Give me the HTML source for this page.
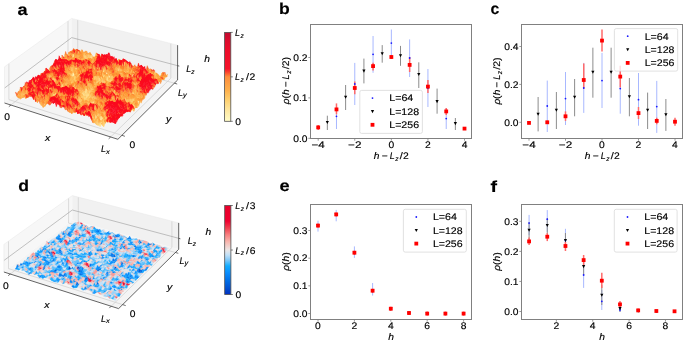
<!DOCTYPE html>
<html><head><meta charset="utf-8"><style>
html,body{margin:0;padding:0;background:#fff;width:685px;height:343px;overflow:hidden}
svg{display:block;font-family:"Liberation Sans",sans-serif;will-change:transform;text-rendering:geometricPrecision}
text{stroke:#000;stroke-width:0.15px}
.k0{fill:#fea03c;stroke:#fea03c}.k1{fill:#fea945;stroke:#fea945}.k2{fill:#fec663;stroke:#fec663}.k3{fill:#feb34f;stroke:#feb34f}.k4{fill:#fe9633;stroke:#fe9633}.k5{fill:#fd8831;stroke:#fd8831}.k6{fill:#fc151f;stroke:#fc151f}.k7{fill:#fc5f2b;stroke:#fc5f2b}.k8{fill:#fc0c1e;stroke:#fc0c1e}.k9{fill:#fece6f;stroke:#fece6f}.k10{fill:#febc59;stroke:#febc59}.k11{fill:#ffdc88;stroke:#ffdc88}.k12{fill:#fed57b;stroke:#fed57b}.k13{fill:#fff2b8;stroke:#fff2b8}.k14{fill:#ffe8a1;stroke:#ffe8a1}.k15{fill:#ffe395;stroke:#ffe395}.k16{fill:#fb0b1f;stroke:#fb0b1f}.k17{fill:#fb0c1f;stroke:#fb0c1f}.k18{fill:#fa0b20;stroke:#fa0b20}.k19{fill:#f80a22;stroke:#f80a22}.k20{fill:#f90a21;stroke:#f90a21}.k21{fill:#ffedac;stroke:#ffedac}.k22{fill:#97d1f8;stroke:#97d1f8}.k23{fill:#28b2fe;stroke:#28b2fe}.k24{fill:#eedddb;stroke:#eedddb}.k25{fill:#0b93ff;stroke:#0b93ff}.k26{fill:#f89c98;stroke:#f89c98}.k27{fill:#0378ee;stroke:#0378ee}.k28{fill:#f3cac5;stroke:#f3cac5}.k29{fill:#dde4ec;stroke:#dde4ec}.k30{fill:#c1e0f8;stroke:#c1e0f8}.k31{fill:#f00834;stroke:#f00834}.k32{fill:#f8b6ae;stroke:#f8b6ae}.k33{fill:#0ea3ff;stroke:#0ea3ff}.k34{fill:#65c1fa;stroke:#65c1fa}.k35{fill:#0785f7;stroke:#0785f7}.k36{fill:#005eda;stroke:#005eda}.k37{fill:#f88282;stroke:#f88282}.k38{fill:#f14453;stroke:#f14453}.k39{fill:#0051d1;stroke:#0051d1}.k40{fill:#f02643;stroke:#f02643}.k41{fill:#006be4;stroke:#006be4}.k42{fill:#f4646b;stroke:#f4646b}.k43{fill:#ef002f;stroke:#ef002f}.k44{fill:#0030c0;stroke:#0030c0}.k45{fill:#0040c8;stroke:#0040c8}
</style></head><body>
<svg width="685" height="343" viewBox="0 0 685 343" font-family="Liberation Sans, sans-serif"><path d="M4.5 103.0L71.7 51.0L71.7 18.4L4.5 66.8Z" fill="#f7f7f7" />
<path d="M71.7 51.0L177.6 80.0L177.6 45.2L71.7 18.4Z" fill="#f1f1f1" />
<path d="M4.5 103.0L117.9 139.3L177.6 80.0L71.7 51.0Z" fill="#f4f4f4" />
<path d="M10.9 105.0L77.7 52.6L77.7 19.9" fill="none" stroke="#c8c8c8" stroke-width="0.6"/>
<path d="M110.6 137.0L170.8 78.2L170.8 43.5" fill="none" stroke="#c8c8c8" stroke-width="0.6"/>
<path d="M121.9 135.3L8.9 99.6L8.9 63.6" fill="none" stroke="#c8c8c8" stroke-width="0.6"/>
<path d="M174.4 83.2L68.0 53.8L68.0 21.0" fill="none" stroke="#c8c8c8" stroke-width="0.6"/>
<path d="M4.5 88.1L71.7 37.6L177.6 65.7" fill="none" stroke="#9a9a9a" stroke-width="0.6"/>
<path d="M4.5 103.0L4.5 66.8L71.7 18.4L177.6 45.2L177.6 80.0" fill="none" stroke="#e6e6e6" stroke-width="0.5"/>
<g transform="scale(.1)" stroke-width="3"><path class="k0" d="M734 501l11 8 7-14-12-2zM727 511l11 1 7-3-11-8z"/><path class="k1" d="M745 509l12 31 6-14-11-31z"/><path class="k1" d="M720 518l11-4 7-2-11-1zM738 512l12 13 7 15-12-31zM713 526l11-9 7-3-11 4zM750 525l11-1 7 0-11 16z"/><path class="k2" d="M757 540l11-16 7-14-12 16z"/><path class="k0" d="M731 514l12-9 7 20-12-13z"/><path class="k3" d="M768 524l12-12 7-4-12 2z"/><path class="k4" d="M705 520l12-11 7 8-11 9zM743 505l11 27 7-8-11 1zM698 525l12-7 7-9-12 11z"/><path class="k0" d="M724 517l12-30 7 18-12 9zM780 512l11 5 7-14-11 5zM773 513l11-11 7 15-11-5zM791 517l12 14 7-8-12-20z"/><path class="k1" d="M761 524l12-11 7-1-12 12zM754 532l12-19 7 0-12 11z"/><path class="k5" d="M717 509l12 1 7-23-12 30z"/><path class="k6" d="M736 487l11 33 7 12-11-27z"/><path class="k5" d="M691 521l12-6 7 3-12 7zM710 518l12 10 7-18-12-1zM784 502l12 18 7 11-12-14zM684 526l12 6 7-17-12 6zM722 528l11-29 7 7-11 4zM777 504l12-2 7 18-12-18z"/><path class="k7" d="M729 510l11-4 7 14-11-33zM703 515l11 6 8 7-12-10zM759 498l11-7 7 13-11 9z"/><path class="k4" d="M747 520l12-22 7 15-12 19zM766 513l11-9 7-2-11 11z"/><path class="k3" d="M803 531l11-7 7-9-11 8z"/><path class="k6" d="M740 506l12 9 7-17-12 22z"/><path class="k0" d="M796 520l11 37 7-33-11 7z"/><path class="k1" d="M814 524l12 10 7 7-12-26z"/><path class="k0" d="M677 553l12-14 7-7-12-6z"/><path class="k5" d="M696 532l11-8 7-3-11-6zM752 515l11-8 7-16-11 7zM689 539l11 4 7-19-11 8zM726 534l12 15 7 3-12-53zM782 511l11 43 7-28-11-24z"/><path class="k7" d="M714 521l12 13 7-35-11 29zM789 502l11 24 7 31-11-37zM707 524l12 19 7-9-12-13zM763 507l12 40 7-36-12-20zM819 498l12 21 7 20-12-5z"/><path class="k8" d="M733 499l12 53 7-37-12-9z"/><path class="k6" d="M770 491l12 20 7-9-12 2z"/><path class="k9" d="M807 557l12-59 7 36-12-10z"/><path class="k1" d="M826 534l12 5 6-19-11 21zM800 526l12 8 7-36-12 59z"/><path class="k3" d="M670 555l12 27 7-43-12 14zM838 539l11-22 7-5-12 8z"/><path class="k2" d="M745 552l11-34 7-11-11 8z"/><path class="k10" d="M663 566l12-14 7 30-12-27zM775 547l11-9 7 16-11-43zM793 554l12-36 7 16-12-8z"/><path class="k2" d="M682 582l11-15 7-24-11-4z"/><path class="k4" d="M700 543l12 30 7-30-12-19zM831 519l11 10 7-12-11 22zM849 517l12 7 7-13-12 1zM675 552l11 13 7 2-11 15zM786 538l12 1 7-21-12 36z"/><path class="k5" d="M719 543l12-3 7 9-12-15zM731 540l11 7 7-13-11 15zM749 534l12 4 7 13-12-33z"/><path class="k3" d="M738 549l11-15 7-16-11 34zM693 567l12 6 7 0-12-30zM712 573l12 25 7-58-12 3zM824 557l11 12 7-40-11-10z"/><path class="k7" d="M756 518l12 33 7-4-12-40zM805 518l12 23 7 16-12-23z"/><path class="k0" d="M812 534l12 23 7-38-12-21zM768 551l11-10 7-3-11 9zM842 529l12 2 7-7-12-7zM861 524l11 13 7-3-11-23z"/><path class="k6" d="M656 516l11 46 8-10-12 14z"/><path class="k5" d="M649 541l11 36 7-15-11-46zM761 538l11 41 7-38-11 10zM798 539l12 11 7-9-12-23zM698 544l11 10 7 15-11 4z"/><path class="k3" d="M667 562l12 20 7-17-11-13zM772 579l12-10 7-14-12-14z"/><path class="k0" d="M686 565l12-21 7 29-12-6zM735 573l12 15 7-29-12-12zM754 559l11 9 7 11-11-41zM791 555l12-8 7 3-12-11zM810 550l11-2 7 25-11-32zM866 544l11 3 7-10-12 0zM884 537l12-8 7-4-12 5z"/><path class="k1" d="M705 573l11-4 8 29-12-25zM872 537l12 0 7-7-12 4zM641 577l12-7 7 7-11-36zM660 577l12-25 7 30-12-20zM716 569l12 19 7-15-11 25zM847 547l12 16 7-19-12-13z"/><path class="k11" d="M724 598l11-25 7-26-11-7z"/><path class="k4" d="M742 547l12 12 7-21-12-4zM779 541l12 14 7-16-12-1zM817 541l11 32 7-4-11-12zM854 531l12 13 6-7-11-13z"/><path class="k10" d="M835 569l12-22 7-16-12-2zM828 573l12 16 7-42-12 22z"/><path class="k2" d="M679 582l12 5 7-43-12 21z"/><path class="k5" d="M634 569l12 11 7-10-12 7zM672 552l11 23 8 12-12-5zM665 563l11-10 7 22-11-23z"/><path class="k4" d="M653 570l12-7 7-11-12 25zM709 554l12 34 7 0-12-19zM803 547l11 6 7-5-11 2zM646 580l11 4 8-21-12 7zM683 575l12-12 7-13-11 37zM814 553l12 32 7 24-12-61z"/><path class="k10" d="M691 587l11-37 7 4-11-10zM870 571l12 17 7-47-12 6z"/><path class="k3" d="M728 588l12-10 7 10-12-15zM747 588l11-17 7-3-11-9zM859 563l11 8 7-24-11-3z"/><path class="k1" d="M765 568l12 24 7-23-12 10zM784 569l12-11 7-11-12 8zM877 547l12-6 7-12-12 8zM721 588l12-7 7-3-12 10zM908 550l11 2 7 52-12-61z"/><path class="k0" d="M821 548l12 61 7-20-12-16zM896 529l12 21 6-7-11-18zM740 578l11-12 7 5-11 17zM758 571l12 13 7 8-12-24zM796 558l12 2 6-7-11-6zM889 541l12 28 7-19-12-21z"/><path class="k9" d="M840 589l12-3 7-23-12-16zM777 592l12-34 7 0-12 11z"/><path class="k6" d="M627 563l12 31 7-14-12-11z"/><path class="k7" d="M702 550l12 26 7 12-12-34z"/><path class="k11" d="M833 609l12-18 7-5-12 3z"/><path class="k2" d="M852 586l12 11 6-26-11-8z"/><path class="k8" d="M620 550l11 31 8 13-12-31zM669 544l12 61 7-36-12-16z"/><path class="k4" d="M639 594l11 17 7-27-11-4zM657 584l12-40 7 9-11 10zM714 576l12 7 7-2-12 7zM751 566l12 14 7 4-12-13zM789 558l12 2 7 0-12-2zM808 560l11 22 7 3-12-32z"/><path class="k7" d="M676 553l12 16 7-6-12 12z"/><path class="k5" d="M695 563l12 21 7-8-12-26zM613 592l11 10 7-21-11-31zM631 581l12 46 7-16-11-17zM688 569l12 58 7-43-12-21zM801 560l11 33 7-11-11-22z"/><path class="k0" d="M733 581l11 21 7-36-11 12zM707 584l11 11 8-12-12-7zM726 583l11 10 7 9-11-21zM763 580l12 7 7 0-12-3z"/><path class="k3" d="M770 584l12 3 7-29-12 34z"/><path class="k10" d="M826 585l12-8 7 14-12 18zM901 569l12-18 6 1-11-2zM744 602l12-6 7-16-12-14z"/><path class="k2" d="M845 591l12 8 7-2-12-11zM864 597l11 8 7-17-12-17zM882 588l12 9 7-28-12-28zM857 599l11 27 7-21-11-8z"/><path class="k1" d="M919 552l12 52 7-38-12 38zM650 611l12-8 7-59-12 40zM782 587l12-17 7-10-12-2zM819 582l12 16 7-21-12 8zM838 577l12 46 7-24-12-8zM913 551l11 39 7 14-12-52z"/><path class="k9" d="M875 605l12-8 7 0-12-9z"/><path class="k12" d="M894 597l12 4 7-50-12 18z"/><path class="k13" d="M931 604l12-3 7-36-12 1z"/><path class="k7" d="M605 590l12 11 7 1-11-10zM636 589l11 6 8 16-12 16z"/><path class="k4" d="M624 602l12-13 7 38-12-46zM794 570l11 27 7-4-11-33zM786 578l12 10 7 9-11-27z"/><path class="k3" d="M643 627l12-16 7-8-12 8zM812 593l12 6 7-1-12-16zM692 618l12-9 7 3-11 15zM824 599l12 4 7 25-12-30z"/><path class="k0" d="M662 603l12 19 7-17-12-61zM737 593l12 9 7-6-12 6zM775 587l11-9 8-8-12 17zM655 611l11 2 8 9-12-19zM730 593l12 4 7 5-12-9zM955 566l12-33 6 9-11-14z"/><path class="k1" d="M681 605l11 13 8 9-12-58zM718 595l12-2 7 0-11-10zM756 596l12 17 7-26-12-7zM674 622l11-27 7 23-11-13zM749 602l12 6 7 5-12-17zM805 597l12-8 7 10-12-6zM936 569l12 3 7-6-12 35z"/><path class="k2" d="M700 627l11-15 7-17-11-11z"/><path class="k10" d="M831 598l12 30 7-5-12-46zM711 612l12-17 7-2-12 2zM768 613l11-2 7-33-11 9z"/><path class="k14" d="M850 623l11-16 7 19-11-27zM868 626l12-22 7-7-12 8z"/><path class="k9" d="M887 597l12 23 7-19-12-4zM924 590l12-21 7 32-12 3zM861 607l12-18 7 15-12 22zM917 604l12-6 7-29-12 21z"/><path class="k11" d="M906 601l11 3 7-14-11-39z"/><path class="k12" d="M943 601l12-35 7-38-12 37zM880 604l12 0 7 16-12-23z"/><path class="k6" d="M598 578l12 31 7-8-12-11z"/><path class="k5" d="M617 601l12 1 7-13-12 13z"/><path class="k15" d="M843 628l11-20 7-1-11 16zM899 620l12 12 6-28-11-3z"/><path class="k16" d="M591 558l11 24 8 27-12-31z"/><path class="k4" d="M610 609l11-17 8 10-12-1zM685 595l12 20 7-6-12 9zM659 617l12 11 7 0-12-15zM735 597l11 4 8 1-12-5zM772 590l12 15 7-1-12 7z"/><path class="k5" d="M629 602l11-11 7 4-11-6z"/><path class="k7" d="M647 595l12 22 7-4-11-2z"/><path class="k0" d="M666 613l12 15 7-33-11 27zM704 609l12-6 7-8-12 17zM723 595l12 2 7 0-12-4zM742 597l12 5 7 6-12-6zM798 588l12 30 7-29-12 8zM948 572l12 8 7-47-12 33zM697 615l12 6 7-18-12 6zM716 603l12 7 7-13-12-2zM754 602l11 5 7-17-11 18z"/><path class="k3" d="M761 608l11-18 7 21-11 2zM779 611l12-7 7-16-12-10zM836 603l11 35 7-30-11 20zM873 589l12-8 7 23-12 0zM885 581l12 11 7 15-12-3z"/><path class="k1" d="M817 589l12 7 7 7-12-4zM678 628l12-30 7 17-12-20zM791 604l12-4 7 18-12-30zM829 596l12 7 6 35-11-35zM941 579l12 10 7-9-12-8zM960 580l12-24 6-14-11-9z"/><path class="k2" d="M854 608l12 6 7-25-12 18zM892 604l12 3 7 25-12-12zM866 614l12-29 7-4-12 8zM904 607l11 9 7 5-11 11z"/><path class="k13" d="M911 632l11-11 7-23-12 6z"/><path class="k9" d="M929 598l12-19 7-7-12-3z"/><path class="k8" d="M967 533l11 9 7 13-12-13z"/><path class="k6" d="M583 602l12-5 7-15-11-24zM621 592l12 5 7-6-11 11zM640 591l12 11 7 15-12-22zM978 542l12 3 7 6-12 4z"/><path class="k17" d="M602 582l12 14 7-4-11 17z"/><path class="k10" d="M810 618l12 5 7-27-12-7z"/><path class="k14" d="M847 638l12-6 7-18-12-6z"/><path class="k11" d="M922 621l12-36 7-6-12 19z"/><path class="k6" d="M576 604l12-8 7 1-12 5zM633 597l12 13 7-8-12-11zM972 556l11 3 7-14-12-3zM607 604l11-3 8 11-12-16zM626 612l11-8 8 6-12-13zM664 596l11 24 8-9-12 17zM983 559l12 21 7-19-12-16z"/><path class="k8" d="M595 597l12 7 7-8-12-14zM614 596l12 16 7-15-12-5zM990 545l12 16 7 16-12-26zM569 605l11-6 8-3-12 8z"/><path class="k7" d="M652 602l12-6 7 32-12-11zM690 598l12 23 7 0-12-6zM645 610l11-15 8 1-12 6zM683 611l11 7 8 3-12-23zM1002 561l12 8 7-8-12 16z"/><path class="k4" d="M671 628l12-17 7-13-12 30zM746 601l12-9 7 15-11-5zM702 621l11 25 7-22-11-3zM777 599l12 22 7-19-12 3z"/><path class="k0" d="M709 621l11 3 8-14-12-7zM728 610l11-7 7-2-11-4zM765 607l12-8 7 6-12-15zM784 605l12-3 7-2-12 4zM803 600l12 19 7 4-12-5zM878 585l12 2 7 5-12-11zM953 589l12 3 7-36-12 24zM720 624l12-12 7-9-11 7zM739 603l12-24 7 13-12 9zM796 602l12 9 7 8-12-19zM946 584l12-6 7 14-12-3z"/><path class="k10" d="M822 623l12-13 7-7-12-7z"/><path class="k3" d="M841 603l11 28 7 1-12 6zM834 610l11 0 7 21-11-28zM909 597l11-6 7 9-12 16zM927 600l12-31 7 15-12 1z"/><path class="k9" d="M859 632l12-9 7-38-12 29z"/><path class="k1" d="M897 592l12 5 6 19-11-9zM934 585l12-1 7 5-12-10zM815 619l12-9 7 0-12 13zM890 587l12 2 7 8-12-5zM965 592l12-29 6-4-11-3z"/><path class="k2" d="M915 616l12-16 7-15-12 36zM852 631l12-17 7 9-12 9zM871 623l12-15 7-21-12-2z"/><path class="k17" d="M588 596l11 3 8 5-12-7z"/><path class="k5" d="M758 592l12 33 7-26-12 8z"/><path class="k16" d="M561 590l12 29 7-20-11 6zM592 595l12-8 7 21-12-9z"/><path class="k17" d="M580 599l12-4 7 4-11-3zM599 599l12 9 7-7-11 3zM618 601l12 13 7-10-11 8zM637 604l12 17 7-26-11 15zM656 595l12 29 7-4-11-24zM611 608l12 25 7-19-12-13zM1026 548l12 36 7-21-12-13z"/><path class="k5" d="M675 620l12 12 7-14-11-7zM694 618l12 11 7 17-11-25zM732 612l12 26 7-59-12 24zM995 580l12 5 7-16-12-8zM687 632l12-15 7 12-12-11zM706 629l12 15 7 7-12-5zM763 598l12-6 7 15-12 18zM782 607l12-2 7 13-12 3zM838 596l12 34 7-25-12 5zM988 584l12-9 7 10-12-5zM1007 585l12-46 7 9-12 21z"/><path class="k1" d="M713 646l12 5 7-39-12 12zM770 625l12-18 7 14-12-22zM789 621l12-3 7-7-12-9zM827 610l11-14 7 14-11 0zM744 638l12-20 7-20-12-19zM876 602l12-19 7 8-12 17z"/><path class="k6" d="M751 579l12 19 7 27-12-33zM1014 569l12-21 7 2-12 11zM573 619l12-7 7-17-12 4zM649 621l12-4 7 7-12-29z"/><path class="k0" d="M808 611l11 1 8-2-12 9zM902 589l12 3 6-1-11 6zM920 591l12-6 7-16-12 31zM801 618l11-12 7 6-11-1zM819 612l12-3 7-13-11 14zM857 605l12-4 7 1-12 12zM895 591l12-8 7 9-12-3zM914 592l11 19 7-26-12 6zM951 598l12-24 7 15-12-11zM970 589l12-26 6 21-11-21z"/><path class="k3" d="M845 610l12-5 7 9-12 17zM864 614l12-12 7 6-12 15zM725 651l12-33 7 20-12-26z"/><path class="k10" d="M883 608l12-17 7-2-12-2z"/><path class="k4" d="M939 569l12 29 7-20-12 6zM958 578l12 11 7-26-12 29zM932 585l12 11 7 2-12-29z"/><path class="k7" d="M977 563l11 21 7-4-12-21zM668 624l12 11 7-3-12-12z"/><path class="k8" d="M554 614l12 19 7-14-12-29zM630 614l12 24 7-17-12-17z"/><path class="k16" d="M547 607l11-11 8 37-12-19zM596 600l12 19 8-6-12-26zM1031 556l12-9 7 17-12 20z"/><path class="k6" d="M566 633l11-6 8-15-12 7zM661 617l12-13 7 31-12-11zM699 617l12-21 7 48-12-15zM963 574l12-13 7 2-12 26zM1000 575l12 8 7-44-12 46zM539 630l12-16 7-18-11 11zM956 566l12 4 7-9-12 13zM1012 583l12-6 7-21-12-17z"/><path class="k8" d="M585 612l11-12 8-13-12 8zM982 563l12 9 6 3-12 9zM577 627l12-1 7-26-11 12zM654 614l11 1 8-11-12 13zM768 596l11-6 7 21-11-19zM975 561l12 11 7 0-12-9zM994 572l11 23 7-12-12-8z"/><path class="k18" d="M604 587l12 26 7 20-12-25zM1019 539l12 17 7 28-12-36zM558 596l12 16 7 15-11 6z"/><path class="k7" d="M623 633l12 8 7-3-12-24zM642 638l12-24 7 3-12 4zM737 618l12 7 7-7-12 20zM775 592l11 19 8-6-12 2zM1038 584l12-20 6-8-11 7zM635 641l11 5 8-32-12 24zM805 605l12 17 7-16-12 0z"/><path class="k5" d="M680 635l12-27 7 9-12 15zM756 618l12-22 7-4-12 6zM794 605l11 0 7 1-11 12zM812 606l12 0 7 3-12 3zM888 583l12 19 7-19-12 8zM749 625l11-14 8-15-12 22zM824 606l12 4 7 12-12-13zM881 589l12 13 7 0-12-19z"/><path class="k4" d="M718 644l12-5 7-21-12 33zM907 583l11 44 7-16-11-19zM730 639l11 0 8-14-12-7zM786 611l12-8 7 2-11 0z"/><path class="k0" d="M831 609l12 13 7 8-12-34zM869 601l12-12 7-6-12 19zM944 596l12-30 7 8-12 24zM900 602l12 34 6-9-11-44z"/><path class="k2" d="M850 630l12-15 7-14-12 4z"/><path class="k3" d="M925 611l12 1 7-16-12-11zM843 622l12-25 7 18-12 15zM918 627l12 7 7-22-12-1z"/><path class="k17" d="M616 613l11 19 8 9-12-8zM673 604l11 14 8-10-12 27zM692 608l11 18 8-30-12 21zM711 596l11 46 8-3-12 5zM1050 564l12-21 6 23-12-10z"/><path class="k1" d="M862 615l12-1 7-25-12 12zM937 612l12-1 7-45-12 30z"/><path class="k5" d="M532 654l11-13 8-27-12 16zM722 642l12-21 7 18-11 0zM741 639l12-17 7-11-11 14zM836 610l12-10 7-3-12 25zM715 643l12-44 7 22-12 21zM810 620l12 13 7-8-12-3zM829 625l12-10 7-15-12 10zM867 609l12 8 7-19-12 16z"/><path class="k16" d="M551 614l12 30 7-32-12-16zM570 612l12 27 7-13-12 1z"/><path class="k8" d="M589 626l12 21 7-28-12-19zM684 618l12 10 7-2-11-18zM703 626l12 17 7-1-11-46zM987 572l12 15 6 8-11-23zM1024 577l12-5 7-25-12 9zM620 628l12 5 7 4-12-5zM658 629l12-8 7-1-12-5zM696 628l12 10 7 5-12-17zM734 621l12-15 7 16-12 17zM999 587l12 3 6-3-12 8zM1017 587l12 10 7-25-12 5z"/><path class="k17" d="M608 619l12 9 7 4-11-19zM665 615l12 5 7-2-11-14zM779 590l12 16 7-3-12 8zM677 620l12 22 7-14-12-10zM980 569l12 0 7 18-12-15zM1036 572l12 1 7-20-12-6z"/><path class="k6" d="M627 632l12 5 7 9-11-5zM798 603l12 17 7 2-12-17zM968 570l12-1 7 3-12-11zM543 641l12-4 8 7-12-30zM563 644l11-2 8-3-12-27zM582 639l11-19 8 27-12-21zM639 637l12-19 7 11-12 17zM753 622l12-27 7 20-12-4zM791 606l12 13 7 1-12-17zM848 600l12-4 7 13-12-12zM942 579l12 32 7-12-12 12z"/><path class="k7" d="M646 646l12-17 7-14-11-1zM760 611l12 4 7-25-11 6zM855 597l12 12 7 5-12 1zM1005 595l12-8 7-10-12 6zM601 647l12-30 7 11-12-9zM772 615l12-5 7-4-12-16zM886 598l12 1 7 30-12-27z"/><path class="k4" d="M817 622l12 3 7-15-12-4zM874 614l12-16 7 4-12-13zM893 602l12 27 7 7-12-34zM961 599l12-28 7-2-12 1z"/><path class="k10" d="M912 636l11 38 7-40-12-7z"/><path class="k3" d="M930 634l12-55 7 32-12 1z"/><path class="k0" d="M949 611l12-12 7-29-12-4zM524 669l12-10 7-18-11 13z"/><path class="k18" d="M1043 547l12 6 7-10-12 21zM1062 543l12 8 6-4-12 19zM1055 553l12 24 7-26-12-8zM1074 551l12-22 6 0-12 18z"/><path class="k1" d="M905 629l12 28 6 17-11-38z"/><path class="k11" d="M923 674l12-68 7-27-12 55z"/><path class="k1" d="M517 686l12-36 7 9-12 10zM954 611l12-20 7-20-12 28z"/><path class="k7" d="M536 659l12-1 7-21-12 4zM803 619l12-2 7 16-12-13zM841 615l12 9 7-28-12 4zM853 624l12 8 7-30-12-6zM947 594l12 17 7-20-12 20z"/><path class="k8" d="M555 637l12-14 7 19-11 2zM574 642l12-17 7-5-11 19zM632 633l12-23 7 8-12 19zM784 610l12-6 7 15-12-13zM860 596l12 6 7 15-12-8zM1011 590l12-9 6 16-12-10zM872 602l12 14 7 7-12-6zM966 591l12-4 7 4-12-20zM1041 586l12 0 7-29-12 16z"/><path class="k16" d="M593 620l12 5 8-8-12 30zM613 617l11 12 8 4-12-5zM651 618l12 12 7-9-12 8zM670 621l12-3 7 24-12-22zM746 606l12-25 7 14-12 27zM765 595l12 11 7 4-12 5zM973 571l12 20 7-22-12 0zM992 569l12 18 7 3-12-3zM1048 573l12-16 7 20-12-24zM586 625l12 19 7-19-12-5zM605 625l12 8 7-4-11-12zM682 618l12 32 7-8-12 0zM720 610l12 14 7-18-12-7zM1079 574l12-2 7 0-12-43zM1098 572l12-1 6 12-12-23z"/><path class="k6" d="M689 642l12 0 7-4-12-10zM708 638l12-28 7-11-12 44zM1029 597l12-11 7-13-12-1zM529 650l11-16 8 24-12 1zM548 658l11-21 8-14-12 14zM701 642l12 8 7-40-12 28zM815 617l12 5 7-19-12 30z"/><path class="k18" d="M727 599l12 7 7 0-12 15zM567 623l12 8 7-6-12 17zM644 610l11 10 8 10-12-12z"/><path class="k4" d="M822 633l12-30 7 12-12 10zM891 623l12 5 7-9-12-20zM910 619l11 19 7-9-11 28z"/><path class="k5" d="M879 617l12 6 7-24-12-1zM898 599l12 20 7 38-12-28zM935 606l12-12 7 17-12-32z"/><path class="k2" d="M917 657l11-28 7-23-12 68z"/><path class="k17" d="M1067 577l12-3 7-45-12 22zM624 629l12 6 8-25-12 23zM663 630l11 1 8-13-12 3zM739 606l12 6 7-31-12 25zM777 606l12 14 7-16-12 6zM796 604l12 0 7 13-12 2zM834 603l12 34 7-13-12-9zM985 591l12 33 7-37-12-18zM1004 587l12 18 7-24-12 9zM1023 581l12 16 6-11-12 11z"/><path class="k19" d="M1086 529l12 43 6-12-12-31z"/><path class="k0" d="M509 686l12-23 8-13-12 36zM928 629l12-4 7-31-12 12z"/><path class="k18" d="M758 581l12 24 7 1-12-11zM1060 557l12 37 7-20-12 3z"/><path class="k7" d="M502 672l12-14 7 5-12 23zM694 650l11 17 8-17-12-8zM884 616l12 38 7-26-12-5zM959 611l12-28 7 4-12 4zM997 624l12-34 7 15-12-18zM667 657l12 12 7-17-12-21zM686 652l12 35 7-20-11-17zM801 638l12-10 7-2-12-22zM877 625l12-3 7 32-12-38zM952 613l12 6 7-36-12 28zM990 620l12-14 7-16-12 34z"/><path class="k6" d="M521 663l12-6 7-23-11 16zM827 622l12 38 7-23-12-34zM782 638l12 2 7-2-12-18zM820 626l12 36 7-2-12-38zM1047 608l12-4 6-17-12-1z"/><path class="k16" d="M540 634l12-8 7 11-11 21zM559 637l12 3 8-9-12-8zM579 631l11 15 8-2-12-19zM617 633l12 4 7-2-12-6zM655 620l12 37 7-26-11-1zM751 612l12-11 7 4-12-24zM770 605l12 33 7-18-12-14zM1091 572l12 4 7-5-12 1zM571 640l12 14 7-8-11-15zM610 640l11 5 8-8-12-4zM629 637l12 45 7-48-12 1zM971 583l12 39 7-2-12-33zM1028 580l12 20 7 8-12-11zM1122 565l12 17 6-15-12 33z"/><path class="k17" d="M598 644l12-4 7-7-12-8zM636 635l12-1 7-14-11-10zM674 631l12 21 8-2-12-32zM732 624l12-1 7-11-12-6zM808 604l12 22 7-4-12-5zM978 587l12 33 7 4-12-33zM1053 586l12 1 7 7-12-37zM1110 571l12-6 6 35-12-17zM533 657l12 10 7-41-12 8zM590 646l12-1 8-5-12 4zM648 634l12 22 7 1-12-37zM744 623l11 11 8-33-12 11zM1009 590l12-7 7-3-12 25zM1065 587l12 23 7-18-12 2zM1103 576l12-9 7-2-12 6z"/><path class="k5" d="M713 650l11 1 8-27-12-14zM846 637l12 2 7-7-12-8zM865 632l12-7 7-9-12-14zM940 625l12-12 7-2-12-17zM494 685l12-1 8-26-12 14zM724 651l12 0 8-28-12 1zM858 639l12-19 7 5-12 7zM915 618l11 20 7-7-12 7z"/><path class="k8" d="M789 620l12 18 7-34-12 0zM1016 605l12-25 7 17-12-16zM1035 597l12 11 6-22-12 0zM1072 594l12-2 7-20-12 2zM514 658l11 26 8-27-12 6zM1084 592l12-10 7-6-12-4z"/><path class="k0" d="M903 628l12-10 6 20-11-19zM839 660l12-12 7-9-12-2z"/><path class="k10" d="M921 638l12-7 7-6-12 4z"/><path class="k18" d="M552 626l12 7 7 7-12-3z"/><path class="k4" d="M705 667l12 8 7-24-11-1zM933 631l12 18 7-36-12 12z"/><path class="k18" d="M763 601l12 3 7 34-12-33z"/><path class="k2" d="M896 654l12-10 7-26-12 10z"/><path class="k0" d="M487 709l11-16 8-9-12 1zM717 675l12 0 7-24-12 0zM832 662l12-7 7-7-12 12zM945 649l12 21 7-51-12-6zM729 675l12-32 7 8-12 0z"/><path class="k7" d="M506 684l12 9 7-9-11-26zM525 684l12 13 8-30-12-10zM736 651l12 0 7-17-11-11zM794 640l12-3 7-9-12 10zM889 622l12 26 7-4-12 10zM1077 610l12-22 7-6-12 10zM498 693l12 7 8-7-12-9zM518 693l12 27 7-23-12-13zM556 685l12 10 8-38-12-24zM748 651l12 7 7-39-12 15z"/><path class="k8" d="M545 667l11 18 8-52-12-7zM660 656l12 26 7-13-12-12zM755 634l12-15 8-15-12-3zM813 628l12 29 7 5-12-36zM1002 606l12 11 7-34-12 7zM1040 600l12-2 7 6-12 4zM1059 604l12-22 6 28-12-23zM1134 582l12 51 6-28-12-38zM786 631l12 19 8-13-12 3zM1033 610l12-17 7 5-12 2zM1127 587l12 19 7 27-12-51z"/><path class="k18" d="M564 633l12 24 7-3-12-14zM775 604l11 27 8 9-12-2zM1115 567l12 20 7-5-12-17z"/><path class="k17" d="M583 654l12-10 7 1-12 1zM621 645l12 4 8 33-12-45zM576 657l11 30 8-43-12 10zM614 646l12 12 7-9-12-4zM633 649l12 40 8-4-12-3zM767 619l12 34 7-22-11-27zM976 609l12 12 7 4-12-3zM1052 598l12-32 7 16-12 22zM1089 588l13 7 6-11-12-2zM1108 584l12 13 7-10-12-20z"/><path class="k16" d="M602 645l12 1 7-1-11-5zM1021 583l12 27 7-10-12-20zM1096 582l12 2 7-17-12 9zM595 644l12 20 7-18-12-1zM1071 582l12-1 6 7-12 22z"/><path class="k5" d="M641 682l12 3 7-29-12-22zM679 669l12 22 7-4-12-35zM851 648l12-4 7-24-12 19zM537 697l12 32 7-44-11-18zM825 657l11-9 8 7-12 7zM863 644l12-19 7 12-12-17zM882 637l12-7 7 18-12-26z"/><path class="k1" d="M698 687l12 17 7-29-12-8zM908 644l12-4 6-2-11-20zM691 691l12 1 7 12-12-17zM957 670l12-35 7-26-12 10z"/><path class="k6" d="M870 620l12 17 7-15-12 3zM964 619l12-10 7 13-12-39zM983 622l12 3 7-19-12 14zM806 637l11-12 8 32-12-29zM995 625l12-8 7 0-12-11zM1014 617l12 15 7-22-12-27z"/><path class="k4" d="M926 638l12 6 7 5-12-18zM653 685l11-6 8 3-12-26zM672 682l12 21 7-12-12-22zM844 655l12-10 7-1-12 4zM901 648l12 21 7-29-12 4zM920 640l12 24 6-20-12-6zM938 644l12 2 7 24-12-21z"/><path class="k11" d="M479 757l12-23 7-41-11 16z"/><path class="k10" d="M710 704l12-7 7-22-12 0z"/><path class="k3" d="M1146 633l12-34 7 14-13-8z"/><path class="k7" d="M472 693l11 6 8 35-12 23zM587 687l12-19 8-4-12-20zM779 653l12 6 7-9-12-19zM798 650l12-11 7-14-11 12zM836 648l12-23 8 20-12 10zM1026 632l12-37 7-2-12 17zM483 699l12 30 8-32-12 37zM503 697l12 26 7 12-12-35zM580 689l12-11 7-10-12 19zM619 680l11 5 8 16-12-43zM657 672l12 36 7-3-12-26zM791 659l12 10 7-30-12 11zM868 640l11-7 8-27-12 19z"/><path class="k10" d="M491 734l12-37 7 3-12-7z"/><path class="k4" d="M510 700l12 35 8-15-12-27zM645 689l12-17 7 7-11 6zM664 679l12 26 8-2-12-21zM638 701l12 3 7-32-12 17zM753 671l12-23 7-7-12 17zM944 645l12-31 6 18-12 14z"/><path class="k3" d="M530 720l11 21 8-12-12-32zM722 697l12-6 7-48-12 32zM932 664l12-19 6 1-12-2zM522 735l12-20 7 26-11-21zM561 744l12-32 7-23-12 6zM676 705l12 13 7-24-11 9zM715 693l12-3 7 1-12 6zM925 658l12-26 7 13-12 19z"/><path class="k1" d="M549 729l12 15 7-49-12-10zM684 703l11-9 8-2-12-1zM703 692l12 1 7 4-12 7zM541 741l12-2 8 5-12-15zM695 694l12 34 8-35-12-1zM734 691l12-7 7-13-12-28z"/><path class="k5" d="M568 695l12-6 7-2-11-30zM760 658l12-17 7 12-12-34zM856 645l12-5 7-15-12 19zM950 646l12-14 7 3-12 35zM1139 606l12-14 7 7-12 34zM1158 599l12 22 7-18-12 10z"/><path class="k8" d="M607 664l12 16 7-22-12-12zM626 658l12 43 7-12-12-40zM988 621l12-8 7 4-12 8zM1007 617l12 7 7 8-12-15zM1120 597l12-7 7 16-12-19zM464 681l12 22 7-4-11-6zM599 668l12 13 8-1-12-16zM772 641l12 26 7-8-12-6zM810 639l12 44 7-52-12-6zM829 631l12 33 7-39-12 23zM848 625l12 24 8-9-12 5zM962 632l13-25 6-4-12 32zM1019 624l12-4 7-25-12 37zM1132 590l13 37 6-35-12 14z"/><path class="k6" d="M741 643l12 28 7-13-12-7zM875 625l12-19 7 24-12 7zM894 630l12 5 7 34-12-21zM969 635l12-32 7 18-12-12zM906 635l12 4 7 19-12 11zM1151 592l12 9 7 20-12-22z"/><path class="k17" d="M817 625l12 6 7 17-11 9zM1102 595l12-3 6 5-12-13zM1000 613l12 1 7 10-12-7zM1057 602l12 30 7-49-12-17zM1095 595l12 19 7-22-12 3zM1114 592l12 33 6-35-12 7z"/><path class="k2" d="M913 669l12-11 7 6-12-24z"/><path class="k16" d="M1045 593l12 9 7-36-12 32zM887 606l12 12 7 17-12-5zM1038 595l12 0 7 7-12-9z"/><path class="k20" d="M1064 566l12 17 7-2-12 1z"/><path class="k18" d="M1083 581l12 14 7 0-13-7zM981 603l12-1 7 11-12 8zM1076 583l12 23 7-11-12-14z"/><path class="k0" d="M1170 621l12-4 7-27-12 13z"/><path class="k17" d="M456 684l12 31 8-12-12-22zM1012 614l12 9 7-3-12 4zM1088 606l12 18 7-10-12-19zM949 622l12-4 7-15-12 11zM1024 623l13 1 6-17-12 13z"/><path class="k7" d="M476 703l12 28 7-2-12-30zM860 649l12 15 7-31-11 7zM1069 632l12-3 7-23-12-23zM1126 625l12-12 7 14-13-37zM1163 601l12 25 7-9-12 4zM449 715l12-13 7 13-12-31zM468 715l12 26 8-10-12-28zM546 714l12 12 7-3-12 16zM584 712l12-21 8-10-12-3zM834 662l12-17 7 19-12 0zM930 646l12 4 7-28-12 10zM1081 629l12-16 7 11-12-18zM1157 608l12 12 6 6-12-25z"/><path class="k4" d="M495 729l12 32 8-38-12-26zM515 723l11-6 8-2-12 20zM650 704l12 26 7-22-12-36zM1145 627l12-19 6-7-12-9zM1182 617l12-4 7-15-12-8zM488 731l11-18 8 48-12-32zM642 707l12 6 8 17-12-26zM777 683l12-9 7 0-12-7zM796 674l12 21 7-26-12 0zM1175 626l13 14 6-27-12 4z"/><path class="k5" d="M534 715l12-1 7 25-12 2zM573 712l11 0 8-34-12 11zM784 667l12 7 7-5-12-10zM803 669l12 0 7 14-12-44zM841 664l12 0 7-15-12-24zM526 717l12-19 8 16-12 1zM565 723l12-18 7 7-11 0zM815 669l12-8 7 1-12 21zM853 664l12 17 7-17-12-15zM872 664l12 7 7-8-12-30zM891 663l13 7 7-37-12-15zM1194 613l12 12 7-20-12-7z"/><path class="k1" d="M553 739l12-16 8-11-12 32zM669 708l12 16 7-6-12-13zM727 690l12 33 7-39-12 7zM822 683l12-21 7 2-12-33z"/><path class="k8" d="M592 678l12 3 7 0-12-13zM879 633l12 30 8-45-12-12zM937 632l12-10 7-8-12 31zM1031 620l12-13 7-12-12 0zM1107 614l12 5 7 6-12-33zM604 681l12-3 7 13-12-10z"/><path class="k6" d="M611 681l12 10 7-6-11-5zM630 685l12 22 8-3-12-3zM765 648l12 35 7-16-12-26zM918 639l12 7 7-14-12 26zM623 691l12-15 7 31-12-22zM911 633l12 19 7-6-12-7zM1062 630l12 16 7-17-12 3zM1100 624l12-1 7-4-12-5zM1119 619l12-3 7-3-12 12zM1138 613l12-21 7 16-12 19z"/><path class="k10" d="M688 718l12 3 7 7-12-34zM662 730l12-23 7 17-12-16zM681 724l12-2 7-1-12-3zM700 721l12 4 7-5-12 8z"/><path class="k9" d="M707 728l12-8 8-30-12 3z"/><path class="k0" d="M746 684l12-3 7-33-12 23zM758 681l12 5 7-3-12-35z"/><path class="k16" d="M899 618l12 15 7 6-12-4zM956 614l12-11 7 4-13 25zM1043 607l13 4 6 19-12-35z"/><path class="k18" d="M975 607l12 2 6-7-12 1zM993 602l13-7 6 19-12-1zM1050 595l12 35 7 2-12-30z"/><path class="k2" d="M507 761l12-10 7-34-11 6zM719 720l12-19 8 22-12-33zM739 723l11 4 8-46-12 3z"/><path class="k20" d="M968 603l12 7 7-1-12-2zM1006 595l12 33 6-5-12-9z"/><path class="k18" d="M987 609l12 5 7-19-13 7z"/><path class="k6" d="M441 717l12 39 8-54-12 13zM538 698l12-1 8 29-12-12zM577 705l12-2 7-12-12 21zM1131 616l12-1 7-23-12 21zM492 716l12 2 7-25-12 20zM531 713l12-18 7 2-12 1zM569 711l12-20 8 12-12 2zM589 703l12 2 7-5-12-9zM608 700l12-3 8-11-12-8z"/><path class="k8" d="M461 702l11 7 8 32-12-26zM596 691l12 9 8-22-12 3zM635 676l12 34 7 3-12-6zM846 645l12 35 7 1-12-17zM472 709l12-5 8 12-12 25zM511 693l12 12 8 8-12 38zM550 697l12 21 7-7-11 15zM628 686l11 31 8-7-12-34zM935 645l12 19 7-25-12 11zM954 639l12-3 7-14-12-4zM1087 627l12 6 6 8-12-28zM1143 615l12 5 7-34-12 6z"/><path class="k4" d="M480 741l12-25 7-3-11 18zM770 686l12 14 7-26-12 9zM865 681l12-9 7-1-12-7zM884 671l12-5 8 4-13-7zM904 670l12-10 7-8-12-19zM1206 625l13-3 6-17-12 0zM433 748l12-11 8 19-12-39zM647 710l12 14 7-20-12 9zM666 704l12-16 7 6-11 13zM685 694l12 14 8-6-12 20zM743 680l12 19 7-1-12 29zM820 691l12-28 7 29-12-31zM839 692l12-5 7-7-12-35z"/><path class="k5" d="M499 713l12-20 8 58-12 10zM558 726l11-15 8-6-12 18zM1074 646l13-19 6-14-12 16zM1169 620l12 19 7 1-13-14zM801 683l12 12 7-4-12 4zM858 680l12 16 7-24-12 9zM877 672l12 13 7-19-12 5zM896 666l13-6 7 0-12 10zM1105 641l13-8 6-6-12-4zM1219 622l12-34 6 31-12-14z"/><path class="k2" d="M519 751l12-38 7-15-12 19zM724 731l12-23 7-28-12 21z"/><path class="k17" d="M616 678l12 8 7-10-12 15zM1093 613l12 28 7-18-12 1zM1150 592l12-6 7 34-12-12zM992 644l12-9 7 6-12-27zM1049 635l12-2 7-12-12-10zM1068 621l12-7 7 13-13 19z"/><path class="k0" d="M654 713l12-9 8 3-12 23zM808 695l12-4 7-30-12 8zM1188 640l12 10 6-25-12-12zM705 702l12 15 7 14-12-6zM762 698l12 1 8 1-12-14zM782 700l12-20 7 3-12-9zM1181 639l12-15 7 26-12-10z"/><path class="k1" d="M674 707l11-13 8 28-12 2z"/><path class="k10" d="M693 722l12-20 7 23-12-4zM712 725l12 6 7-30-12 19zM1200 650l12-50 7 22-13 3z"/><path class="k3" d="M731 701l12-21 7 47-11-4zM453 756l12-57 7 10-11-7z"/><path class="k9" d="M750 727l12-29 8-12-12-5z"/><path class="k7" d="M789 674l12 9 7 12-12-21zM827 661l12 31 7-47-12 17zM923 652l12-7 7 5-12-4zM942 650l12-11 7-21-12 4zM1112 623l12 4 7-11-12 3zM916 660l12 32 7-47-12 7zM1124 627l13-5 6-7-12 1z"/><path class="k18" d="M961 618l12 4 7-12-12-7z"/><path class="k18" d="M980 610l12 34 7-30-12-5zM999 614l12 27 7-13-12-33zM973 622l12-6 7 28-12-34z"/><path class="k16" d="M1018 628l12 1 7-5-13-1zM1037 624l12 11 7-24-13-4zM1056 611l12 10 6 25-12-16zM1011 641l12 15 7-27-12-1zM1030 629l12 20 7-14-12-11zM1162 586l12 30 7 23-12-19z"/><path class="k5" d="M426 739l12-11 7 9-12 11zM639 717l12 16 8-9-12-14zM813 695l12-7 7-25-12 28zM851 687l12-9 7 18-12-16zM940 672l12-9 7-28-12 29z"/><path class="k7" d="M445 737l12-13 8-25-12 57zM504 718l12-4 7-9-12-12zM562 718l12 7 7-34-12 20zM678 688l12 33 7-13-12-14zM794 680l12 42 7-27-12-12zM909 660l12 44 7-12-12-32zM947 664l12-29 7 1-12 3zM418 744l12 12 8-28-12 11zM496 727l12 3 8-16-12 4zM574 725l12-6 7-23-12-5zM632 712l12 30 7-9-12-16zM825 688l12-2 7 27-12-50zM863 678l12 23 7-9-12 4zM1111 647l12 19 7-40-12 7z"/><path class="k17" d="M465 699l12 30 7-25-12 5zM543 695l11 26 8-3-12-21zM581 691l12 5 8 9-12-2zM1061 633l12 4 7-23-12 7zM1212 600l12 13 7-25-12 34zM593 696l12-6 8-2-12 17zM613 688l12 24 7 0-12-15zM1016 649l12-2 7 3-12 6zM1035 650l12 16 7-19-12 2zM1149 614l12 28 7-15-13-7z"/><path class="k8" d="M484 704l12 23 8-9-12-2zM523 705l12 8 8-18-12 18zM601 705l12-17 7 9-12 3zM1023 656l12-6 7-1-12-20zM1042 649l12-2 7-14-12 2zM1137 622l12-8 6 6-12-5zM1155 620l13 7 6-11-12-30zM1174 616l13 17 6-9-12 15zM457 724l12 13 8-8-12-30zM535 713l12 8 7 0-11-26zM1054 647l12 1 7-11-12-4zM1073 637l12 14 7-23-12-14zM1092 628l12 4 7 15-12-14zM1130 626l12 21 7-33-12 8zM1205 624l13 15 6-26-12-13zM1224 613l12-8 7-9-12-8z"/><path class="k6" d="M620 697l12 15 7 5-11-31zM832 663l12 50 7-26-12 5zM1099 633l12 14 7-14-13 8zM1118 633l12-7 7-4-13 5zM1193 624l12 0 7-24-12 50zM438 728l11-16 8 12-12 13zM477 729l11 7 8-9-12-23zM516 714l11-2 8 1-12-8zM554 721l12-5 8 9-12-7zM1168 627l12-2 7 8-13-17zM1187 633l12-33 6 24-12 0z"/><path class="k0" d="M659 724l12 4 7-40-12 16zM697 708l12 14 8-5-12-15zM755 699l12 13 7-13-12-1zM774 699l12-3 8-16-12 20zM870 696l12-4 7-7-12-13zM928 692l12-20 7-8-12-19zM651 733l12 4 8-9-12-4zM882 692l12 47 7-38-12-16zM901 701l13-4 7 7-12-44z"/><path class="k1" d="M717 717l12 26 7-35-12 23zM736 708l12 13 7-22-12-19zM671 728l12 10 7-17-12-33zM690 721l12-4 7 5-12-14zM709 722l12-2 8 23-12-26zM767 712l12 3 7-19-12 3zM921 704l12-10 7-22-12 20z"/><path class="k4" d="M889 685l12 16 8-41-13 6zM786 696l12 14 8 12-12-42z"/><path class="k18" d="M966 636l12-2 7-18-12 6zM959 635l12 31 7-32-12 2zM978 634l12 11 7-8-12-21zM997 637l12 2 7 10-12-14z"/><path class="k20" d="M985 616l12 21 7-2-12 9z"/><path class="k16" d="M1004 635l12 14 7 7-12-15zM1080 614l12 14 7 5-12-6zM1231 588l12 8 7 33-13-10zM1243 596l12 6 7 25-12 2z"/><path class="k10" d="M729 743l12-27 7 5-12-13zM844 713l12-16 7-19-12 9z"/><path class="k3" d="M748 721l12 11 7-20-12-13zM806 722l12-46 7 12-12 7z"/><path class="k8" d="M410 733l12 6 8 17-12-12zM527 712l12 28 8-19-12-8zM818 676l12-2 7 12-12 2zM952 663l12 24 7-21-12-31zM1066 648l12 6 7-3-12-14zM1104 632l12 24 7 10-12-19zM830 674l12 25 7-7-12-6zM983 677l12-5 7-16-12-11zM1154 631l12 29 7-9-12-9zM1230 631l12-8 7-25-13 7z"/><path class="k5" d="M430 756l12-18 7-26-11 16zM856 697l12 3 7 1-12-23zM1123 666l12 8 7-27-12-21zM539 740l12-9 8-32-12 22zM810 706l13 23 7-55-12 2zM964 687l12 2 7-12-12-11zM1059 677l12 16 7-39-12-6z"/><path class="k17" d="M449 712l12 47 8-22-12-13zM1180 625l12-1 7-24-12 33zM1236 605l13-7 6 4-12-6zM559 699l12 28 7-2-12-9zM617 698l12 28 8-8-12-6zM1021 662l12 37 7-44-12-8zM1040 655l12 23 7-1-12-11zM1192 624l12 24 7-26-12-22zM1211 622l12 3 7 6-12 8zM1268 613l12 20 6-11-12-1z"/><path class="k7" d="M469 737l12 33 7-34-11-7zM488 736l12 12 8-18-12-3zM508 730l12 3 7-21-11 2zM837 686l12 6 7 5-12 16zM971 666l12 11 7-32-12-11zM1047 666l12 11 7-29-12-1zM1142 647l12-16 7 11-12-28zM403 753l11 19 8-33-12-6zM520 733l12 8 7-1-12-28zM791 691l12 7 7 8-12 4zM849 692l12 24 7-16-12-3zM945 677l12 18 7-8-12-24zM1097 657l12 6 7-7-12-24zM1116 656l12 7 7 11-12-8zM1173 651l12-18 7-9-12 1z"/><path class="k6" d="M547 721l12-22 7 17-12 5zM566 716l12 9 8-6-12 6zM586 719l12-21 7-8-12 6zM625 712l12 6 7 24-12-30zM1085 651l12 6 7-25-12-4zM1161 642l12 9 7-26-12 2zM1218 639l12-8 6-26-12 8zM422 739l12 3 8-4-12 18zM442 738l12 3 7 18-12-47zM578 725l12 7 8-34-12 21zM637 718l12 30 7-7-12 1zM1078 654l12 14 7-11-12-6z"/><path class="k16" d="M605 690l12 8 8 14-12-24zM990 645l12 11 7-17-12-2zM1028 647l12 8 7 11-12-16zM1255 602l13 11 6 8-12 6zM598 698l12 15 7-15-12-8zM1002 656l12 37 7-31-12-23z"/><path class="k3" d="M644 742l12-1 7-4-12-4zM683 738l12-10 7-11-12 4zM753 731l12-22 7-5-12 28zM907 709l12-9 7 18-12-21zM926 718l12 14 7-55-12 17z"/><path class="k0" d="M663 737l12 7 8-6-12-10zM702 717l12 18 7-15-12 2zM721 720l12 31 8-35-12 27zM461 759l12 9 8 2-12-33zM481 770l12 11 7-33-12-12zM656 741l12 25 7-22-12-7zM695 728l12 8 7-1-12-18zM772 704l12 0 7-13-12 24z"/><path class="k1" d="M741 716l12 15 7 1-12-11zM779 715l12-24 7 19-12-14zM675 744l12 7 8-23-12 10zM714 735l12-3 7 19-12-31zM887 716l12-4 8-3-13 30z"/><path class="k10" d="M760 732l12-28 7 11-12-3z"/><path class="k4" d="M798 710l12-4 8-30-12 46zM875 701l12 15 7 23-12-47zM914 697l12 21 7-24-12 10zM933 694l12-17 7-14-12 9zM500 748l12 18 8-33-12-3zM868 700l12-7 7 23-12-15zM1135 674l12 0 7-43-12 16z"/><path class="k12" d="M894 739l13-30 7-12-13 4z"/><path class="k18" d="M1009 639l12 23 7-15-12 2zM1199 600l12 22 7 17-13-15zM1249 598l12 11 7 4-13-11z"/><path class="k9" d="M733 751l12-39 8 19-12-15z"/><path class="k5" d="M395 768l12-3 7 7-11-19zM842 699l12-9 7 26-12-24zM957 695l12-14 7 8-12-2zM1014 693l12 56 7-50-12-37zM1166 660l13 9 6-36-12 18zM407 765l12-22 7-14-12 43zM465 762l12 44 8-15-12-23zM524 753l12-3 8-12-12 3zM641 744l12 8 8 12-12-16zM892 709l12-19 8-2-13 24zM1046 675l12-12 7 33-13-18zM1103 680l12 7 7 4-13-28zM1141 671l12 24 7-24-13 3z"/><path class="k4" d="M414 772l12-43 8 13-12-3zM473 768l12 23 8-10-12-11zM649 748l12 16 7 2-12-25zM745 712l12 31 8-34-12 22zM765 709l12-2 7-3-12 0zM784 704l12 17 7-23-12-7zM919 700l12 22 7 10-12-14zM1071 693l13-4 6-21-12-14zM1147 674l13-3 6-11-12-29zM777 707l12 22 7-8-12-17zM835 715l12 9 7-34-12 9zM873 719l12-29 7 19-12-16zM950 707l12 26 7-52-12 14zM1065 696l12-8 7 1-13 4zM1084 689l12 19 7-28-13-12zM1160 671l12 8 7-10-13-9zM1179 669l12-15 7 5-13-26z"/><path class="k6" d="M434 742l12 1 8-2-12-3zM551 731l12 17 8-21-12-28zM590 732l12-43 8 24-12-15zM629 726l12 18 8 4-12-30zM1204 648l13 24 6-47-12-3zM1280 633l12-4 7-12-13 5zM446 743l12 12 7 7-11-21zM544 738l12 2 7 8-12-17zM563 748l12 5 8-3-12-23zM969 681l12 1 7 33-12-26z"/><path class="k7" d="M454 741l11 21 8 6-12-9zM532 741l12-3 7-7-12 9zM803 698l12 26 8 5-13-23zM880 693l12 16 7 3-12 4zM976 689l12 26 7-43-12 5zM1052 678l13 18 6-3-12-16zM1090 668l13 12 6-17-12-6zM1109 663l13 28 6-28-12-7zM1128 663l13 8 6 3-12 0zM387 759l12-1 8 7-12 3zM583 750l12-30 7-31-12 43zM854 690l12 5 7 24-12-3zM912 688l12 1 7 33-12-22zM1198 659l12 28 7-15-13-24z"/><path class="k10" d="M493 781l12-7 7-8-12-18zM668 766l12 5 7-20-12-7zM485 791l12 4 8-21-12 7zM680 771l12-30 7 25-12-15zM699 766l12 6 8-35-12-1zM757 743l12-2 8-34-12 2zM1007 717l13 29 6 3-12-56z"/><path class="k0" d="M512 766l12-13 8-12-12-8zM823 729l12-14 7-16-12-25zM861 716l12 3 7-26-12 7zM796 721l12 12 7-9-12-26zM815 724l12-8 8-1-12 14zM1122 691l12-16 7-4-13-8z"/><path class="k8" d="M571 727l12 23 7-18-12-7zM995 672l12 45 7-24-12-37zM1185 633l13 26 6-11-12-24zM1292 629l12 23 7-17-12-18z"/><path class="k17" d="M610 713l12 1 7 12-12-28zM1223 625l12 63 7-65-12 8zM1242 623l12-7 7-7-12-11zM426 729l12 16 8-2-12-1zM622 714l12 0 7 30-12-18z"/><path class="k3" d="M687 751l12 15 8-30-12-8zM938 732l12-25 7-12-12-18zM661 764l12 9 7-2-12-5zM988 715l12 43 7-41-12-45z"/><path class="k1" d="M707 736l12 1 7-5-12 3zM726 732l12 6 7-26-12 39zM899 712l13-24 7 12-12 9zM1033 699l13-24 6 3-12-23zM505 774l12-9 7-12-12 13zM719 737l12-11 7 12-12-6zM738 738l12 9 7-4-12-31zM931 722l12-16 7 1-12 25zM1217 672l12-11 6 27-12-63z"/><path class="k18" d="M1261 609l12 8 7 16-12-20z"/><path class="k18" d="M602 689l12 29 8-4-12-1z"/><path class="k15" d="M1026 749l13-51 7-23-13 24z"/><path class="k2" d="M1235 688l13-29 6-43-12 7z"/><path class="k16" d="M1254 616l13 13 6-12-12-8zM1273 617l13 25 6-13-12 4z"/><path class="k4" d="M379 787l12 3 8-32-12 1zM517 765l12 4 7-19-12 3zM731 726l12 22 7-1-12-9zM827 716l13 9 7-1-12-9zM847 724l12-2 7-27-12-5zM943 706l12 18 7 9-12-26zM1039 698l12-31 7-4-12 12zM1172 679l12 1 7-26-12 15zM1210 687l12 6 7-32-12 11zM371 790l12-6 8 6-12-3zM391 790l12-34 8 7-12-5zM529 769l12-23 7 21-12-17zM685 745l12 18 7 6-12-28zM820 730l12-11 8 6-13-9zM840 725l12 5 7-8-12 2zM974 706l12 2 7-17-12-9zM993 691l13 25 7 4-13 38zM1070 693l12 6 7 2-12-13zM1089 701l12-1 7-16-12 24zM1260 669l12 6 7-35-12-11z"/><path class="k6" d="M399 758l12 5 8-20-12 22zM438 745l12 38 8-28-12-12zM556 740l12 6 7 7-12-5zM575 753l12-2 8-31-12 30zM866 695l12-7 7 2-12 29zM904 690l13 15 7-16-12-1zM1191 654l12 19 7 14-12-28zM1286 642l12 6 6 4-12-23zM411 763l12 24 7-13-11-31zM568 746l12-9 7 14-12 2zM587 751l12-14 8-10-12-7zM897 700l13 12 7-7-13-15zM1298 648l12 4 7 7-13-7z"/><path class="k8" d="M419 743l11 31 8-29-12-16zM885 690l12 10 7-10-12 19zM1058 663l12 30 7-5-12 8zM1267 629l12 11 7 2-13-25zM1051 667l12 42 7-16-12-30zM1279 640l12-14 7 22-12-6z"/><path class="k7" d="M458 755l12 28 7 23-12-44zM536 750l12 17 8-27-12-2zM981 682l12 9 7 67-12-43zM1304 652l13 7 6-3-12-21zM646 740l12-8 7 2-12 18zM801 703l12 20 7 7-12 3zM917 705l12-11 7 25-12-30zM1108 684l12 33 7-30-12 0zM1317 659l12 5 7 13-13-21z"/><path class="k9" d="M477 806l12-15 8 4-12-4zM711 772l12 27 8-73-12 11z"/><path class="k10" d="M497 795l12 5 8-35-12 9zM704 769l12 0 7 30-12-27zM743 748l12 52 7-63-12 10zM1165 718l12-6 7-32-12-1z"/><path class="k16" d="M595 720l12 7 7-9-12-29zM614 718l12 2 8-6-12 0z"/><path class="k17" d="M634 714l12 26 7 12-12-8zM607 727l12-2 7-5-12-2zM626 720l12 12 8 8-12-26zM878 688l12 32 7-20-12-10z"/><path class="k0" d="M653 752l12-18 8 39-12-9zM692 741l12 28 7 3-12-6zM789 729l12-26 7 30-12-12zM1096 708l12-24 7 3-12-7zM470 783l12 36 7-28-12 15zM762 737l12-4 8-3-13 11zM782 730l12 1 7-28-12 26zM936 719l12-14 7 19-12-18zM955 724l12-39 7 21-12 27zM1013 720l12 45 7-51-12 32zM1032 714l12-5 7-42-12 31z"/><path class="k2" d="M673 773l12-28 7-4-12 30zM962 733l12-27 7-24-12-1zM509 800l12-32 8 1-12-4z"/><path class="k1" d="M750 747l12-10 7 4-12 2zM769 741l13-11 7-1-12-22zM808 733l12-3 7-14-12 8zM450 783l12-7 8 7-12-28zM489 791l12 13 8-4-12-5zM1222 693l12-26 7 23-12-29zM1241 690l12-12 7-9-12-10z"/><path class="k5" d="M924 689l12 30 7-13-12 16zM1077 688l12 13 7 7-12-19zM1115 687l12 0 7-12-12 16zM1134 675l12 14 7 6-12-24zM1229 661l12 29 7-31-13 29zM1248 659l12 10 7-40-13-13zM430 774l12-7 8 16-12-38zM548 767l12-26 8 5-12-6zM665 734l12 29 8-18-12 28zM859 722l12 14 7-48-12 7zM1127 687l12 6 7-4-12-14zM1146 689l12 43 7-14-12-23zM1184 680l13-25 6 18-12-19zM1203 673l13 8 6 12-12-6z"/><path class="k13" d="M1000 758l13-38 7 26-13-29zM723 799l13-24 7-27-12-22z"/><path class="k11" d="M1020 746l12-32 7-16-13 51z"/><path class="k3" d="M1153 695l12 23 7-39-12-8z"/><path class="k7" d="M364 783l11 0 8 1-12 6zM383 784l12-4 8-24-12 34zM442 767l12-21 8 30-12 7zM658 732l12 21 7 10-12-29zM910 712l12 18 7-36-12 11zM929 694l12 3 7 8-12 14zM395 780l12 20 8-20-12-24zM415 780l12-19 8 11-12 15zM435 772l12-5 7-21-12 21zM533 764l12-5 8 8-12-21zM592 762l12-6 7-11-12-8zM844 721l13 8 7 20-12-19zM941 697l12 39 7-43-12 12zM960 693l12 65 7-53-12-20zM1056 689l12 35 7-8-12-7zM1094 702l13-16 7 13-13 1zM1114 699l12 7 7 2-13 9zM1228 666l12 26 7-21-13-4zM1342 660l12 16 6-7-12-21z"/><path class="k8" d="M403 756l12 24 8 7-12-24zM560 741l12 0 8-4-12 9zM580 737l12 25 7-25-12 14zM638 732l12 5 8-5-12 8zM356 767l12 7 7 9-11 0zM454 746l12 44 8-4-12-10zM572 741l12 54 8-33-12-25zM611 745l12 20 8-33-12-7zM631 732l12 21 7-16-12-5zM1304 640l12 49 7-6-13-31z"/><path class="k5" d="M423 787l12-15 7-5-12 7zM462 776l12 10 8 33-12-36zM521 768l12-4 8-18-12 23zM813 723l12 13 7-17-12 11zM832 719l12 2 8 9-12-5zM890 720l12 6 8-14-13-12zM948 705l12-12 7-8-12 39zM1082 699l12 3 7-2-12 1zM1101 700l13-1 6 18-12-33zM1234 667l13 4 6 7-12 12zM1329 664l13-4 6-12-12 29zM513 773l12 6 8-15-12 4zM553 767l12-8 7-18-12 0zM670 753l12 10 7-9-12 9zM902 726l13 11 7-7-12-18zM999 704l12 58 7-45-12-1z"/><path class="k12" d="M482 819l12 13 7-28-12-13zM1158 732l13 7 6-27-12 6zM494 832l12-47 7-12-12 31zM1037 745l12-24 7-32-12 20z"/><path class="k2" d="M501 804l12-31 8-5-12 32z"/><path class="k6" d="M541 746l12 21 7-26-12 26zM967 685l12 20 7 3-12-2zM1197 655l12-1 7 27-13-8zM1310 652l13 31 6-19-12-5zM375 783l12-32 8 29-12 4zM650 737l12 22 8-6-12-21zM806 710l12 40 7-14-12-13zM1209 654l12 19 7-7-12 15zM1285 649l12 30 7-39-13-14z"/><path class="k17" d="M599 737l12 8 8-20-12 2zM619 725l12 7 7 0-12-12z"/><path class="k0" d="M677 763l12-9 8 9-12-18zM1120 717l13-9 6-15-12-6zM474 786l12 15 8 31-12-13zM689 754l12 13 8 29-12-33zM864 749l12-21 7 11-12-3zM1075 716l13-4 6-10-12-3zM1133 708l12 26 7-22-13-19zM1190 689l12-3 7-32-12 1z"/><path class="k1" d="M697 763l12 33 7-27-12 0zM986 708l13-4 7 12-13-25zM1006 716l12 1 7 48-12-45zM1063 709l12 7 7-17-12-6zM1018 717l12 14 7 14-12 20zM1152 712l12 9 7 18-13-7z"/><path class="k10" d="M716 769l12 1 8 5-13 24zM1177 712l13-23 7-34-13 25zM767 767l12-32 7 22-12-24z"/><path class="k11" d="M736 775l12-26 7 51-12-52zM1171 739l12-10 7-40-13 23z"/><path class="k13" d="M755 800l12-33 7-34-12 4z"/><path class="k4" d="M774 733l12 24 8-26-12-1zM794 731l12-21 7 13-12-20zM852 730l12 19 7-13-12-14zM871 736l12 3 7-19-12-32zM1139 693l13 19 6 20-12-43zM1216 681l12-15 6 1-12 26zM1253 678l13 23 6-26-12-6zM1272 675l13-26 6-23-12 14zM825 736l12 9 7-24-12-2zM883 739l12 6 7-19-12-6zM922 730l12 3 7-36-12-3zM979 705l13 48 7-49-13 4zM1247 671l12 35 7-5-13-23zM1323 683l12-3 7-20-13 4z"/><path class="k21" d="M1025 765l12-20 7-36-12 5z"/><path class="k3" d="M1044 709l12-20 7 20-12-42zM748 749l12 9 7 9-12 33zM1266 701l12 5 7-57-13 26z"/><path class="k16" d="M1291 626l13 14 6 12-12-4z"/><path class="k15" d="M709 796l12-4 7-22-12-1z"/><path class="k9" d="M728 770l12-2 8-19-12 26zM786 757l13 3 7-50-12 21z"/><path class="k17" d="M348 774l12-2 8 2-12-7zM439 749l12 30 8 0-12-12z"/><path class="k8" d="M368 774l12-20 7-3-12 32zM1107 686l12-9 7 29-12-7zM399 764l12 13 8-1-12 24zM907 701l13 23 7 34-12-21zM1119 677l12 27 7-8-12 10z"/><path class="k16" d="M387 751l12 13 8 36-12-20zM360 772l12 11 8-29-12 20z"/><path class="k4" d="M407 800l12-24 8-15-12 19zM506 785l12-16 7 10-12-6zM525 779l12 7 8-27-12 5zM837 745l12-19 8 3-13-8zM895 745l12-44 8 36-13-11zM915 737l12 21 7-25-12-3zM1202 686l12-5 7-8-12-19zM1316 689l12-1 7-8-12 3zM1335 680l12 32 7-36-12-16zM1354 676l12-3 7-1-13-3zM498 799l12 9 8-39-12 16zM537 786l12-3 8-24-12 0zM694 758l12 31 7-28-12 6zM1081 721l12 13 7-29-12 7zM1328 688l13 28 6-4-12-32z"/><path class="k6" d="M427 761l12-12 8 18-12 5zM447 767l12 12 7 11-12-44zM565 759l12 5 7 31-12-54zM604 756l12 16 7-7-12-20zM340 799l12-10 8-17-12 2zM419 776l12-6 8-21-12 12zM577 764l12 20 7-9-12 20zM849 726l13-1 7-1-12 5zM869 724l12 3 7 19-12-18z"/><path class="k0" d="M466 790l12 40 8-29-12-15zM486 801l12-2 8-14-12 47zM682 763l12-5 7 9-12-13zM799 760l12-27 7 17-12-40zM818 750l12-18 7 13-12-9zM934 733l12 11 7-8-12-39zM655 788l12-19 7-7-12-3zM713 761l13 18 7-5-12 18zM752 745l13 21 7-36-12 28zM1062 726l12 14 7-19-13 3zM1176 710l13 6 6-19-12 32zM1195 697l13-7 6-9-12 5zM1309 695l13 25 6-32-12 1z"/><path class="k7" d="M545 759l12 0 8 0-12 8zM623 765l12 9 8-21-12-21zM643 753l12 35 7-29-12-22zM857 729l12-5 7 4-12 21zM876 728l12 18 7-1-12-6zM459 779l12 47 7 4-12-40zM518 769l12 2 7 15-12-7zM557 759l12 23 8-18-12-5zM596 775l12 1 8-4-12-16zM616 772l12 24 7-22-12-9zM772 730l12-27 7 29-12 3zM811 733l12 1 7-2-12 18zM830 732l12-8 7 2-12 19zM1100 705l12 4 7-32-12 9z"/><path class="k3" d="M584 795l12-20 8-19-12 6zM1259 706l13-2 6 2-12-5zM1278 706l13-1 6-26-12-30zM927 758l12-18 7 4-12-11zM985 741l12 23 7-24-12 13zM1023 735l12-7 7-12-12 15zM1157 722l13-12 6 0-12 11zM1253 698l12 0 7 6-13 2z"/><path class="k5" d="M662 759l12 3 8 1-12-10zM779 735l12-3 8 28-13-3zM1088 712l12-7 7-19-13 16zM1126 706l12-10 7 38-12-26zM1221 673l12 48 7-29-12-26zM1297 679l12 16 7-6-12-49zM635 774l12 14 8 0-12-35zM674 762l12 23 8-27-12 5zM791 732l12 33 8-32-12 27zM888 746l12-19 7-26-12 44zM1042 716l13 65 7-55-13-5zM1138 696l12 31 7-5-12 12zM1214 681l13 12 6 28-12-48zM1366 673l13-11 6-31-12 41z"/><path class="k1" d="M701 767l12-6 8 31-12 4zM760 758l12-28 7 5-12 32zM953 736l12 9 7 13-12-65zM1049 721l13 5 6-2-12-35zM1068 724l13-3 7-9-13 4zM1240 692l13 6 6 8-12-35zM946 744l12 4 7-3-12-9zM965 745l13-23 7 19-13 17zM1272 704l12 4 7-3-13 1zM1291 705l12-20 6 10-12-16z"/><path class="k15" d="M721 792l12-18 7-6-12 2zM972 758l13-17 7 12-13-48z"/><path class="k9" d="M740 768l12-23 8 13-12-9zM1183 729l12-32 7-11-12 3z"/><path class="k12" d="M992 753l12-13 7 22-12-58zM1011 762l12-27 7-4-12-14zM478 830l12-28 8-3-12 2z"/><path class="k10" d="M1030 731l12-15 7 5-12 24zM1145 734l12-12 7-1-12-9zM1164 721l12-11 7 19-12 10zM733 774l12-22 7-7-12 23zM1004 740l12 5 7-10-12 27zM1233 721l13-24 7 1-13-6zM1347 712l13-16 6-23-12 3z"/><path class="k18" d="M380 754l11 35 8-25-12-13z"/><path class="k18" d="M332 769l12 24 8-4-12 10z"/><path class="k17" d="M352 789l12 7 8-13-12-11zM784 703l12 32 7 30-12-33zM324 797l12 2 8-6-12-24zM344 793l12 2 8 1-12-7z"/><path class="k8" d="M372 783l12 1 7 5-11-35zM431 770l12 34 8-25-12-30zM364 796l12 29 8-41-12-1zM384 784l12 8 7-18-12 15zM403 774l12 18 8-6-12-9z"/><path class="k6" d="M391 789l12-15 8 3-12-13zM411 777l12 9 8-16-12 6zM823 734l12 10 7-20-12 8zM842 724l12 8 8-7-13 1zM862 725l12 6 7-4-12-3zM881 727l12 1 7-1-12 19zM900 727l13 1 7-4-13-23zM1379 662l12 9 7-3-13-37zM423 786l12 5 8 13-12-34zM816 742l12 18 7-16-12-10zM854 732l13-25 7 24-12-6zM874 731l12-26 7 23-12-1zM893 728l12 3 8-3-13-1zM913 728l12 36 7-29-12-11zM1391 671l13-7 6 3-12 1z"/><path class="k7" d="M451 779l12 53 8-6-12-47zM530 771l12 13 7-1-12 3zM608 776l12 22 8-2-12-24zM920 724l12 11 7 5-12 18zM581 776l12 11 8-1-12-2zM659 768l13 11 7 3-12-13zM796 735l12 15 8-8-13 23zM835 744l12 7 7-19-12-8z"/><path class="k11" d="M471 826l12-17 7-7-12 28z"/><path class="k0" d="M490 802l12 16 8-10-12-9zM628 796l12 16 7-24-12-14zM686 785l13 30 7-26-12-31zM745 752l12 14 8 0-13-21zM939 740l12-8 7 16-12-4zM1035 728l13 59 7-6-13-65zM1093 734l12 0 7-25-12-4zM1170 710l12 7 7-1-13-6zM1227 693l12 4 7 0-13 24zM1265 698l12 11 7-1-12-4zM1360 696l12-7 7-27-13 11zM620 798l12-5 8 19-12-16zM718 763l12 38 8 7-12-29zM951 732l13-8 7 6-13 18zM1105 734l13-34 6 21-12-12zM1163 704l12 27 7-14-12-7zM1220 702l12 3 7-8-12-4zM1239 697l13 19 6-3-12-16zM1296 701l13 20 6-11-12-25zM1315 710l13 10 6-3-12 3z"/><path class="k4" d="M510 808l12 16 8-53-12-2zM647 788l12-20 8 1-12 19zM978 722l12 8 7 34-12-23zM1208 690l12 12 7-9-13-12zM561 800l12-29 8 5-12 6zM679 782l12 20 8 13-13-30zM971 730l12-4 7 4-12-8zM990 730l12-8 7 6-12 36zM1124 721l13-1 7-8-13-8zM1144 712l12 14 7-22-13 23zM1353 694l13-12 6 7-12 7z"/><path class="k5" d="M549 783l12 17 8-18-12-23zM569 782l12-6 8 8-12-20zM589 784l12 2 7-10-12-1zM667 769l12 13 7 3-12-23zM1112 709l12 12 7-17-12-27zM1131 704l13 8 6 15-12-31zM1303 685l12 25 7 10-13-25zM443 804l12-12 8 40-12-53zM542 784l12-7 7 23-12-17zM601 786l12 7 7 5-12-22zM777 750l12-7 7-8-12-32zM932 735l12 2 7-5-12 8zM1372 689l13-18 6 0-12-9z"/><path class="k3" d="M706 789l12-26 8 16-13-18zM726 779l12 29 7-56-12 22zM1150 727l13-23 7 6-13 12zM1189 716l12 15 7-41-13 7zM1322 720l12-3 7-1-13-28zM1341 716l12-22 7 2-13 16zM483 809l12 5 7 4-12-16zM502 818l12-32 8 38-12-16zM1086 740l12-4 7-2-12 0zM1258 713l13 6 6-10-12-11z"/><path class="k1" d="M765 766l12-16 7-47-12 27zM803 765l13-23 7-8-12-1zM958 748l13-18 7-8-13 23zM1016 745l12-8 7-9-12 7zM1074 740l12 0 7-6-12-13zM1246 697l12 16 7-15-12 0zM1284 708l12-7 7-16-12 20zM640 812l12-13 7-31-12 20zM757 766l12 18 8-34-12 16zM1009 728l12 29 7-20-12 8zM1028 737l13 13 7 37-13-59zM1182 717l12 2 7 12-12-15zM1277 709l13 17 6-25-12 7zM1334 717l13-28 6 5-12 22z"/><path class="k12" d="M997 764l12-36 7 17-12-5z"/><path class="k13" d="M1055 781l12-38 7-3-12-14z"/><path class="k9" d="M463 832l12-35 8 12-12 17zM738 808l12 4 7-46-12-14z"/><path class="k2" d="M522 824l12-24 8-16-12-13z"/><path class="k10" d="M699 815l12-11 7-41-12 26zM1067 743l12 17 7-20-12 0zM1201 731l12-13 7-16-12-12z"/><path class="k15" d="M1048 787l12-9 7-35-12 38z"/><path class="k6" d="M316 822l12-25 8 2-12-2zM415 792l12 17 8-18-12-5zM435 791l12 12 8-11-12 12zM514 786l12 58 8-44-12 24zM554 777l12-5 7-1-12 29zM573 771l13 26 7-10-12-11zM905 731l13 23 7 10-12-36zM1118 700l12 4 7 16-13 1zM1385 671l12-3 7-4-13 7zM388 804l12-12 8 4-12-4zM801 741l12 23 8-10-13-4zM956 723l13 24 7 0-12-23zM1130 704l12 36 7 11-12-31zM1378 676l13 2 6-10-12 3z"/><path class="k16" d="M336 799l12 35 8-39-12-2zM867 707l12 10 7-12-12 26zM886 705l12 45 7-19-12-3zM308 806l12-14 8 5-12 25zM328 797l12 13 8 24-12-35zM879 717l12 32 7 1-12-45z"/><path class="k8" d="M356 795l12 10 8 20-12-29zM396 792l12 4 7-4-12-18zM1404 664l12-10 7 13-13 0zM368 805l12 0 8-1-12 21zM408 796l12 1 7 12-12-17zM507 777l12 26 7 41-12-58zM566 772l12 62 8-37-13-26zM1359 674l13-5 6 7-12 6z"/><path class="k5" d="M376 825l12-21 8-12-12-8zM613 793l12 15 7-15-12 5zM789 743l12-2 7 9-12-15zM828 760l12 9 7-18-12-7zM944 737l12-14 8 1-13 8zM964 724l12 23 7-21-12 4zM1002 722l12-8 7 43-12-29zM1347 689l12-15 7 8-13 12zM348 834l12-16 8-13-12-10zM586 797l12 16 7 12-12-38zM918 754l12 10 7 4-12-4z"/><path class="k7" d="M455 792l12-17 8 22-12 35zM593 787l12 38 8-32-12-7zM808 750l13 4 7 6-12-18zM847 751l12-26 8-18-13 25zM1366 682l12-6 7-5-13 18zM427 809l12-10 8 4-12-12zM447 803l12 7 8-35-12 17zM546 786l12 2 8-16-12 5zM821 754l12 8 7 7-12-9zM898 750l13 2 7 2-13-23zM1340 685l13 18 6-29-12 15z"/><path class="k4" d="M475 797l12-21 8 38-12-5zM632 793l12 21 8-15-12 13zM672 779l12 25 7-2-12-20zM983 726l12 36 7-40-12 8zM1137 720l12 31 7-25-12-14zM703 781l12 24 8-11-12 10zM840 769l12-36 7-8-12 26zM1014 714l13 8 7 24-13 11zM1111 731l12-14 7-13-12-4zM1226 703l12 23 7-18-13-3z"/><path class="k10" d="M495 814l12-37 7 9-12 32zM711 804l12-10 7 7-12-38zM730 801l12 17 8-6-12-4zM1021 757l13-11 7 4-13-13zM742 818l13-28 7 8-12 14zM762 798l12-14 8 19-13-19zM995 762l12-31 7-17-12 8zM1072 747l13 25 7-22-13 10zM1092 750l12-25 7 6-13 5z"/><path class="k0" d="M534 800l12-14 8-9-12 7zM652 799l12 8 8-28-13-11zM925 764l12 4 7-31-12-2zM1098 736l13-5 7-31-13 34zM625 808l12 3 7 3-12-21zM937 768l12-16 7-29-12 14zM976 747l12-17 7 32-12-36zM1283 704l12-9 7 35-12-4z"/><path class="k1" d="M691 802l12-21 8 23-12 11zM1194 719l13-4 6 3-12 13zM1232 705l13 3 7 8-13-19zM1252 716l12 26 7-23-13-6zM1271 719l12-15 7 22-13-17zM1309 721l12-1 7 0-13-10zM605 825l12-16 8-1-12-15zM644 814l13-5 7-2-12-8zM664 807l12 1 8-4-12-25zM684 804l12 12 7-35-12 21zM1034 746l12-15 7 11-12 8zM1053 742l12 2 7 3-12 31zM1207 715l12 4 7-16-13 15zM1245 708l12 24 7 10-12-26zM1321 720l13-34 6-1-12 35z"/><path class="k2" d="M750 812l12-14 7-14-12-18z"/><path class="k3" d="M769 784l13 19 7-60-12 7zM1041 750l12-8 7 36-12 9zM1156 726l12 19 7-14-12-27zM1175 731l12 0 7-12-12-2zM1213 718l13-15 6 2-12-3zM1290 726l12 4 7-9-13-20zM1328 720l12-35 7 4-13 28zM723 794l12 11 7 13-12-17zM1149 751l13-16 6 10-12-19zM1168 745l13-2 6-12-12 0zM1187 731l13-6 7-10-13 4zM1302 730l13-23 6 13-12 1z"/><path class="k15" d="M1060 778l12-31 7 13-12-17z"/><path class="k12" d="M1079 760l13-10 6-14-12 4zM526 844l12-14 8-44-12 14z"/><path class="k17" d="M467 775l12 68 8-67-12 21zM487 776l12 16 8-15-12 37zM859 725l13 9 7-17-12-10zM1397 668l13-15 6 1-12 10zM1416 654l13 20 6-2-12-5z"/><path class="k9" d="M782 803l12-25 7-37-12 2zM1264 742l12-4 7-34-12 15z"/><path class="k16" d="M300 806l12-4 8-10-12 14zM1410 653l12 19 7 2-13-20zM292 806l12 24 8-28-12 4zM312 802l12-4 8-20-12 14zM1403 665l13 10 6-3-12-19z"/><path class="k18" d="M320 792l12-14 8 32-12-13z"/><path class="k17" d="M340 810l12 20 8-12-12 16zM400 792l12 7 8-2-12-1zM392 800l12 26 8-27-12-7z"/><path class="k6" d="M360 818l12-6 8-7-12 0zM439 799l12 28 8-17-12-7zM499 792l12 11 8 0-12-26zM558 788l12 24 8 22-12-62zM891 749l12-3 8 6-13-2zM1334 686l12 8 7 9-13-18zM1429 674l12 9 7-19-13 8zM352 830l12 11 8-29-12 6zM432 802l12 20 7 5-12-28zM511 803l12 24 8 29-12-53zM845 752l12 7 7-12-12-14zM864 747l13 11 7-21-12-3zM903 746l13 5 7 11-12-10zM1116 712l13 28 6-8-12-15zM1441 683l13 15 6 10-12-44z"/><path class="k8" d="M380 805l12-5 8-8-12 12zM420 797l12 5 7-3-12 10zM852 733l12 14 8-13-13-9zM872 734l12 3 7 12-12-32zM1372 669l12 39 7-30-13-2zM1391 678l12-13 7-12-13 15zM372 812l12-5 8-7-12 5zM412 799l12 27 8-24-12-5zM806 744l12 17 7 23-12-20zM884 737l12 0 7 9-12 3zM1422 672l13 10 6 1-12-9z"/><path class="k7" d="M459 810l12 19 8 14-12-68zM833 762l12-10 7-19-12 36zM911 752l12 10 7 2-12-10zM1123 717l12 15 7 8-12-36zM981 724l12 18 7 12-12-24zM1346 694l13-6 6 14-12 1z"/><path class="k10" d="M479 843l12-27 8-24-12-16zM538 830l13 3 7-45-12-2zM696 816l12 11 7-22-12-24zM1276 738l13-7 6-36-12 9zM551 833l12 9 7-30-12-24zM708 827l12 29 8-48-13-3zM1039 758l12-10 7-1-12-16zM1251 742l12-13 7-2-13 5z"/><path class="k4" d="M519 803l12 53 7-26-12 14zM598 813l12-6 7 2-12 16zM617 809l12-15 8 17-12-3zM930 764l12-10 7-2-12 16zM969 747l12-23 7 6-12 17zM988 730l12 24 7-23-12 31zM1046 731l12 16 7-3-12-2zM1315 707l12-3 7-18-13 34zM451 827l13-5 7 7-12-19zM825 784l13-19 7-13-12 10zM923 762l12-12 7 4-12 10zM1097 728l12 12 7-28-12 13zM1135 732l13-3 7 17-13-6zM1193 720l13 5 6 0-12 0zM1308 707l12-12 7 9-12 3z"/><path class="k2" d="M578 834l12-2 8-19-12-16zM1238 726l13 16 6-10-12-24zM1257 732l13-5 6 11-12 4zM590 832l12-36 8 11-12 6z"/><path class="k0" d="M637 811l12 8 8-10-13 5zM774 784l12-7 8 1-12 25zM1219 719l12 10 7-3-12-23zM471 829l12 3 8-16-12 27zM669 811l12 6 7-3-12-6zM767 783l12-3 7-3-12 7zM1212 725l13-12 6 16-12-10z"/><path class="k1" d="M657 809l12 2 7-3-12-1zM676 808l12 6 8 2-12-12zM755 790l12-7 7 1-12 14zM794 778l12-34 7 20-12-23zM1142 740l13 6 7-11-13 16zM1162 735l12-19 7 27-13 2zM1200 725l12 0 7-6-12-4zM649 819l12-4 8-4-12-2zM688 814l13-5 7 18-12-11zM962 765l12-9 7-32-12 23zM1000 754l13 2 7 14-13-39zM1155 746l12-12 7-18-12 19zM1231 729l13 7 7 6-13-16zM1270 727l12 16 7-12-13 7zM1289 731l12 7 7-31-13-12z"/><path class="k3" d="M715 805l13 3 7-3-12-11zM735 805l12 6 8-21-13 28zM1065 744l13 36 7-8-13-25zM1181 743l12-23 7 5-13 6zM728 808l12 37 7-34-12-6zM747 811l12-17 8-11-12 7zM1058 747l13-6 7 39-13-36z"/><path class="k5" d="M813 764l12 20 8-22-12-8zM949 752l13 13 7-18-13-24zM1007 731l13 39 7-48-13-8zM1027 722l12 36 7-27-12 15zM1104 725l12-13 7 5-12 14zM1295 695l13 12 7 0-13 23zM1353 703l12-1 7-33-13 5zM491 816l12 7 8-20-12-11zM570 812l12 25 8-5-12 2zM610 807l12-7 7-6-12 15zM629 794l13 21 7 4-12-8zM786 777l13-22 7-11-12 34zM942 754l13 12 7-1-13-13zM1174 716l12 32 7-28-12 23zM1327 704l12 4 7-14-12-8zM1365 702l13-10 6 16-12-39zM1384 708l13-47 6 4-12 13z"/><path class="k11" d="M1085 772l12-44 7-3-12 25z"/><path class="k18" d="M332 778l12 37 8 15-12-20z"/><path class="k12" d="M531 856l12-4 8-19-13-3z"/><path class="k9" d="M1020 770l12 5 7-17-12-36z"/><path class="k14" d="M1078 780l12-38 7-14-12 44z"/><path class="k8" d="M284 830l12 6 8-6-12-24zM896 737l12 23 8-9-13-5zM296 836l12 3 8 14-12-23zM456 807l12 24 8 11-12-20zM850 752l12-9 7 8-12 8zM869 751l13 17 7-4-12-6zM1409 683l13-2 6 0-12-6zM1428 681l13 13 6 2-12-14z"/><path class="k6" d="M304 830l12 23 8-55-12 4zM404 826l12-7 8 7-12-27zM799 755l12 6 7 0-12-17zM818 761l12-16 8 20-13 19zM838 765l12-13 7 7-12-7zM857 759l12-8 8 7-13-11zM916 751l12 34 7-35-12 12zM1359 688l12 22 7-18-13 10zM1378 692l12-20 7-11-13 47zM1435 682l12 14 7 2-13-15zM276 839l12 7 8-10-12-6zM336 835l12 7 8-11-12-16zM356 831l12-8 8-3-12 21zM376 820l12-3 8-20-12 10zM416 819l12-7 8 27-12-13zM614 785l12 25 8 16-12-26zM791 762l13-12 7 11-12-6zM811 761l12-24 7 8-12 16zM908 760l13 20 7 5-12-34z"/><path class="k18" d="M324 798l12 37 8-20-12-37zM1397 661l12 22 7-8-13-10z"/><path class="k17" d="M344 815l12 16 8 10-12-11zM384 807l12-10 8 29-12-26zM1416 675l12 6 7 1-13-10zM830 745l13 13 7-6-12 13z"/><path class="k5" d="M364 841l12-21 8-13-12 5zM464 822l12 20 7-10-12-3zM503 823l12 12 8-8-12-24zM523 827l12 37 8-12-12 4zM622 800l12 26 8-11-13-21zM993 742l13 29 7-15-13-2zM1225 713l12 47 7-24-13-7zM1339 708l13-3 7-17-13 6zM1454 698l12-4 7-37-13 51zM316 853l12 2 8-20-12-37zM436 839l12-28 8-4-12 15zM495 818l13 16 7 1-12-12zM947 759l13 2 7-4-12 9zM1160 728l13 27 7-15-13-6z"/><path class="k7" d="M424 826l12 13 8-17-12-20zM444 822l12-15 8 15-13 5zM602 796l12-11 8 15-12 7zM877 758l12 6 7-27-12 0zM935 750l12 9 8 7-13-12zM1320 695l13 13 6 0-12-4zM575 804l12 1 8 22-13 10zM889 764l12-12 7 8-12-23zM986 732l13 22 7 17-13-29zM1333 708l12 21 7-24-13 3zM1352 705l13 25 6-20-12-22zM1371 710l13 23 6-61-12 20zM1447 696l13 20 6-22-12 4zM1466 694l13 10 6-20-12-27z"/><path class="k4" d="M483 832l12-14 8 5-12-7zM642 815l12 12 7-12-12 4zM779 780l12-18 8-7-13 22zM1090 742l12 13 7-15-12-12zM1109 740l13 20 7-20-13-28zM1148 729l12-1 7 6-12 12zM1206 725l12 5 7-17-13 12zM515 835l12 25 8 4-12-37zM967 757l12-2 7-23-12 24zM1218 730l12 1 7 29-12-47zM1314 725l12 21 7-38-13-13z"/><path class="k12" d="M543 852l12-23 8 13-12-9zM740 845l12-16 7-35-12 17zM1032 775l12-4 7-23-12 10zM732 859l13-49 7 19-12 16zM1025 786l12 3 7-18-12 4z"/><path class="k2" d="M563 842l12-38 7 33-12-25zM1301 738l13-13 6-30-12 12zM535 864l12-25 8-10-12 23zM713 851l12-31 7 39-12-3zM1237 760l13-23 6-3-12 2z"/><path class="k10" d="M582 837l13-10 7-31-12 36zM752 829l12-3 8-27-13-5zM1044 771l13 12 7-21-13-14zM1064 762l12 53 7-57-12-17zM1122 760l12 11 7-13-12-18z"/><path class="k0" d="M661 815l12 13 8-11-12-6zM701 809l12 42 7 5-12-29zM759 794l13 5 7-19-12 3zM955 766l12-9 7-1-12 9zM974 756l12-24 7 10-12-18zM1071 741l12 17 7-16-12 38zM1167 734l13 6 6 8-12-32zM1263 729l13-7 6 21-12-16zM555 829l12-25 8 0-12 38zM634 826l12-17 8 18-12-12zM772 799l12-1 7-36-12 18zM1180 740l12 6 7 19-13-17zM1256 734l13 8 7-20-13 7zM1276 722l12 13 7 1-13 7z"/><path class="k1" d="M681 817l12 1 8-9-13 5zM1013 756l12 30 7-11-12-5zM1051 748l13 14 7-21-13 6zM1129 740l12 18 7-29-13 3zM1186 748l13 17 7-40-13-5zM1244 736l12-2 7-5-12 13zM595 827l12-4 7-38-12 11zM654 827l12 17 7-16-12-13zM673 828l13-4 7-6-12-1zM693 818l12 34 8-1-12-42zM928 785l12 19 7-45-12-9zM1006 771l12-16 7 31-12-30zM1083 758l13 2 6-5-12-13zM1295 736l12 4 7-15-13 13z"/><path class="k9" d="M720 856l12 3 8-14-12-37z"/><path class="k3" d="M1282 743l13-7 6 2-12-7zM476 842l12 7 7-31-12 14zM1102 755l13-9 7 14-13-20zM1141 758l12-31 7 1-12 1zM1199 765l12 7 7-42-12-5z"/><path class="k16" d="M396 797l12 2 8 20-12 7zM1390 672l13 15 6-4-12-22z"/><path class="k17" d="M268 817l12 17 8 12-12-7zM428 812l12 24 8-25-12 28zM862 743l13 7 7 18-13-17zM1422 681l12 11 7 2-13-13zM280 834l12-3 8-9-12 24zM816 756l12 19 7-26-12-12zM875 750l12 24 7-19-12 13zM1415 687l13 11 6-6-12-11z"/><path class="k6" d="M288 846l12-24 8 17-12-3zM348 842l12-10 8-9-12 8zM567 804l12 5 8-4-12-1zM882 768l12-13 7-3-12 12zM1441 694l12 37 7-15-13-20zM320 852l12 32 8-42-12 13zM460 818l12-6 8 28-12-9zM855 779l12-5 8-24-13-7zM1396 707l13-11 6-9-12 0z"/><path class="k8" d="M308 839l12 13 8 3-12-2zM368 823l12 5 8-11-12 3zM388 817l12 12 8-30-12-2zM448 811l12 7 8 13-12-24zM804 750l12 6 7-19-12 24zM843 758l12 21 7-36-12 9zM901 752l13 31 7-3-13-20zM1403 687l12 0 7-6-13 2zM260 832l12 20 8-18-12-17zM340 842l12 11 8-21-12 10zM360 832l12 45 8-49-12-5zM380 828l12 18 8-17-12-12zM400 829l12 12 8-57-12 15zM500 805l12 12 8 44-12-27zM599 794l12 5 8 15-12 9zM796 756l12 20 8-20-12-6zM894 755l12 3 8 25-13-31zM1434 692l13 19 6 20-12-37z"/><path class="k7" d="M328 855l12-13 8 0-12-7zM587 805l12-11 8 29-12 4zM440 836l12-13 8-5-12-7zM579 809l12-7 8-8-12 11zM1243 720l12 26 7-4-12-5zM1377 710l13-10 6 7-12 26z"/><path class="k16" d="M408 799l12-15 8 28-12 7zM823 737l12 12 8 9-13-13zM300 822l12 33 8-3-12-13zM835 749l13 19 7 11-12-21z"/><path class="k5" d="M468 831l12 9 8 9-12-7zM646 809l12 19 8 16-12-17zM1018 755l12 28 7 6-12-3zM1153 727l13 5 7 23-13-27zM1460 716l12 22 7-34-13-10zM1479 704l12 21 7-33-13-8zM480 840l12-27 8-8-12 44zM1166 732l12 27 7-25-12 21zM1185 734l13 15 6-1-12-2zM1358 723l12-11 7-2-12 20z"/><path class="k1" d="M488 849l12-44 8 29-13-16zM527 860l13 17 7-38-12 25zM725 820l12 1 8-11-13 49zM1173 755l12-21 7 12-12-6zM1250 737l12 5 7 0-13-8zM1288 735l13 11 6-6-12-4zM737 821l12 39 8-34-12-16zM777 812l12-17 7-39-12 42zM992 768l12 39 7-42-12-11zM1472 738l13-3 6-10-12-21z"/><path class="k4" d="M508 834l12 27 7-1-12-25zM607 823l12-9 7-4-12-25zM626 810l13 22 7-23-12 17zM784 798l12-42 8-6-13 12zM960 761l12 14 7-20-12 2zM979 755l13 13 7-14-13-22zM999 754l12 11 7-10-12 16zM1115 746l12-7 7 32-12-11zM1345 729l13-6 7 7-13-25zM559 826l13 2 7-19-12-5zM619 814l12 25 8-7-13-22zM914 783l12 35 7-5-12-33zM1011 765l12 17 7 1-12-28zM1108 743l12-2 7-2-12 7zM1127 739l13-1 7 1-13 32zM1147 739l12 3 7-10-13-5zM1224 735l12 11 7-26-13 11zM1281 731l13 11 7 4-13-11z"/><path class="k0" d="M547 839l12-13 8-22-12 25zM686 824l12 18 7 10-12-34zM745 810l12 16 7 0-12 3zM921 780l12 33 7-9-12-19zM1192 746l12 2 7 24-12-7zM1230 731l13-11 7 17-13 23zM1307 740l13 13 6-7-12-21zM1384 733l12-26 7-20-13-15zM639 832l12 15 7-19-12-19zM658 828l13 6 7-6-12 16zM678 828l12 3 8 11-12-18zM718 817l12 14 7-10-12-1zM1204 748l13 16 7-29-13 37zM1262 742l13 9 6-20-12 11zM1301 746l12 17 7-10-13-13zM1453 731l13-3 6 10-12-22zM1491 725l13-36 6 27-12-24z"/><path class="k3" d="M666 844l12-16 8-4-13 4zM764 826l13-14 7-14-12 1zM1096 760l12-17 7 3-13 9zM1269 742l12-11 7 4-12-13zM1365 730l12-20 7 23-13-23zM698 842l12 32 8-57-13 35zM757 826l12-23 8 9-13 14zM1050 771l12 33 7-1-12-20zM1320 753l12 18 7-12-13-13zM1339 759l12-30 7-6-13 6z"/><path class="k2" d="M705 852l13-35 7 3-12 31zM940 804l13 6 7-49-13-2zM1057 783l12 20 7 12-12-53zM1134 771l13-32 6-12-12 31zM953 810l12-9 7-26-12-14zM1030 783l13-13 7 1-13 18zM1089 785l12-4 7-38-12 17z"/><path class="k9" d="M1037 789l13-18 7 12-13-12zM520 861l12 40 8-24-13-17zM540 877l12-39 7-12-12 13z"/><path class="k13" d="M1076 815l13-30 7-25-13-2z"/><path class="k10" d="M1211 772l13-37 6-4-12-1zM1326 746l13 13 6-30-12-21zM933 813l12-5 8 2-13-6zM972 775l12 40 8-47-13-13z"/><path class="k18" d="M420 784l12 30 8 22-12-24z"/><path class="k11" d="M1069 803l13-44 7 26-13 30z"/><path class="k16" d="M252 826l12 39 8-13-12-20zM292 831l12 39 8-15-12-33zM432 814l12 16 8-7-12 13zM464 808l12 10 8-7-12 1zM840 752l13 21 7-28-12 23zM1402 686l13 28 6-16-12-2z"/><path class="k8" d="M272 852l12 14 8-35-12 3zM452 823l12-15 8 4-12 6zM492 813l12 28 8-24-12-12zM828 775l12-23 8 16-13-19zM848 768l12-23 7 29-12 5zM906 758l13 40 7 20-12-35zM1390 700l12-14 7 10-13 11zM1428 698l12 8 7 5-13-19zM444 830l12 3 8-25-12 15zM524 816l12 31 8 25-12 29zM604 792l12 32 7-12-12-13z"/><path class="k6" d="M312 855l12 18 8 11-12-32zM352 853l12 34 8-10-12-45zM392 846l12 1 8-6-12-12zM412 841l12-18 8-9-12-30zM512 817l12-1 8 85-12-40zM611 799l12 13 8 27-12-25zM808 776l13 34 7-35-12-19zM867 774l13 5 7-5-12-24zM887 774l12-21 7 5-12-3zM1370 712l13 13 7-25-13 10zM1504 689l13 9 6 12-13 6zM284 866l12 8 8-4-12-39zM404 847l12-14 8-10-12 18zM801 791l12 8 8 11-13-34zM880 779l12-7 7-19-12 21zM1440 706l13-11 6 22-12-6zM1517 698l12 5 7-7-13 14z"/><path class="k4" d="M332 884l12 0 8-31-12-11zM372 877l12-3 8-28-12-18zM769 803l12 21 8-29-12 17zM1178 759l13 6 7-16-13-15zM1198 749l12 9 7 6-13-16zM1236 746l13-5 6 5-12-26zM1294 742l12 24 7-3-12-17zM1466 728l13-23 6 30-13 3zM344 884l12-6 8 9-12-34zM364 887l12-14 8 1-12 3zM504 841l12-17 8-8-12 1zM564 836l12-3 8-8-12 3zM919 798l12 11 7 8-12 1zM1133 760l12 16 7-37-12-1zM1171 767l13 11 7-13-13-6zM1229 746l13-23 7 18-13 5zM1249 741l12-6 7 2-13 9zM1268 737l12-1 7 30-12-15zM1345 745l12-2 7-9-13-5z"/><path class="k17" d="M472 812l12-1 8 2-12 27zM1409 696l12 2 7 0-13-11zM424 823l12 11 8-4-12-16zM484 811l12 81 8-51-12-28zM899 753l13 33 7 12-13-40zM1421 698l13 0 6 8-12-8z"/><path class="k14" d="M532 901l12-29 8-34-12 39zM977 825l13-55 7 5-13 40z"/><path class="k0" d="M552 838l12-2 8-8-13-2zM572 828l12-3 7-23-12 7zM671 834l12 17 7-20-12-3zM690 831l13 29 7 14-12-32zM1082 759l12 38 7-16-12 4zM1255 746l13-9 7 14-13-9zM1485 735l13 5 6-51-13 36zM997 775l12 13 7 12-12 7zM1113 763l13-5 7 2-13-19zM1191 765l12 23 7-30-12-9zM1210 758l13-17 6 5-12 18zM1326 756l12 6 7-17-13 26zM1498 740l12-24 7-18-13-9z"/><path class="k7" d="M591 802l13-10 7 7-12-5zM1447 711l12 6 7 11-13 3zM244 865l12-11 8 11-12-39zM264 865l12-24 8 25-12-14zM304 870l12-26 8 29-12-18zM1152 739l13 17 6 11-12-25zM1383 725l13-5 6-34-12 14zM1459 717l13 5 7-17-13 23zM1479 705l12 46 7-11-13-5z"/><path class="k3" d="M631 839l12 14 8-6-12-15zM945 808l13-4 7-3-12 9zM1023 782l13 10 7-22-13 13zM1101 781l12-18 7-22-12 2zM1332 771l13-26 6-16-12 30zM643 853l13 43 7-42-12-7zM663 854l12-3 8 0-12-17zM938 817l13-18 7 5-13 4zM958 804l12 8 7 13-12-24zM1036 792l12 14 7 5-12-41z"/><path class="k10" d="M651 847l12 7 8-20-13-6zM965 801l12 24 7-10-12-40zM683 851l12-19 8 28-13-29zM703 860l12 0 7-20-12 34zM742 850l12-21 8 23-13 8zM762 852l12-49 7 21-12-21zM1016 800l13-7 7-1-13-10zM1075 800l12 3 7-6-12-38zM1094 797l12 12 7-46-12 18zM1287 766l13-3 6 3-12-24z"/><path class="k9" d="M710 874l12-34 8-9-12-14zM749 860l13-8 7-49-12 23zM1004 807l12-7 7-18-12-17z"/><path class="k1" d="M730 831l12 19 7 10-12-39zM1043 770l12 41 7-7-12-33zM1217 764l12-18 7 0-12-11zM1275 751l12 15 7-24-13-11zM1313 763l13-7 6 15-12-18zM722 840l13-23 7 33-12-19zM781 824l13-25 7-8-12 4zM1306 766l13-29 7 19-13 7z"/><path class="k5" d="M789 795l12-4 7-15-12-20zM1120 741l13 19 7-22-13 1zM1140 738l12 1 7 3-12-3zM1159 742l12 25 7-8-12-27zM1351 729l13 5 6-22-12 11zM324 873l12-3 8 14-12 0zM384 874l12-31 8 4-12-1zM584 825l12 15 8-48-13 10zM623 812l13 20 7 21-12-14zM821 810l12-29 7-29-12 23zM1364 734l12 7 7-16-13-13z"/><path class="k2" d="M926 818l12-1 7-9-12 5zM544 872l12 18 8-54-12 2z"/><path class="k11" d="M984 815l13-40 7 32-12-39zM1055 811l13-1 7-10-13 4z"/><path class="k15" d="M1062 804l13-4 7-41-13 44z"/><path class="k18" d="M860 745l12 6 8 28-13-5z"/><path class="k7" d="M235 870l12 9 9-25-12 11zM336 870l12 9 8-1-12 6zM376 873l12-20 8-10-12 31zM774 803l12 24 8-28-13 25zM794 799l12 0 7 0-12-8zM912 786l12 18 7 5-12-11zM1242 723l12 27 7-15-12 6zM1472 722l13 11 6 18-12-46zM1510 716l13 8 6-21-12-5zM227 872l12-5 8 12-12-9zM845 802l13 14 7-26-12-17zM1389 736l13 13 6-23-12-6zM1427 734l13 5 7-37-13-4z"/><path class="k8" d="M256 854l12-26 8 13-12 24zM396 843l13 11 7-21-12 14zM416 833l13 15 7-14-12-11zM436 834l13-7 7 6-12-3zM456 833l13-28 7 13-12-10zM516 824l13 0 7 23-12-31zM833 781l12 21 8-29-13-21zM892 772l12 8 8 6-13-33zM1415 714l12 20 7-36-13 0zM1453 695l13 14 6 13-13-5zM368 861l13 9 7-17-12 20zM388 853l13 26 8-25-13-11zM529 824l12 0 8 40-13-17zM826 786l12-1 7 17-12-21zM904 780l13 39 7-15-12-18z"/><path class="k17" d="M276 841l12 32 8 1-12-8zM316 844l12 26 8 0-12 3zM476 818l13 57 7 17-12-81zM853 773l12 17 7-39-12-6zM1434 698l13 4 6-7-13 11zM449 827l12 3 8-25-13 28zM1447 702l12 25 7-18-13-14z"/><path class="k6" d="M296 874l12-4 8-26-12 26zM813 799l13-13 7-5-12 29zM1396 720l12 6 7-12-13-28zM1529 703l13 18 6-12-12-13zM288 873l12-11 8 8-12 4zM308 870l12 25 8-25-12-26zM328 870l12 29 8-20-12-9zM409 854l12 5 8-11-13-15zM429 848l12 0 8-21-13 7zM806 799l12 12 8-25-13 13zM865 790l12-8 8 0-13-31zM885 782l12-10 7 8-12-8zM1408 726l13-15 6 23-12-20zM1466 709l12 23 7 1-13-11z"/><path class="k5" d="M356 878l12-17 8 12-12 14zM536 847l13 17 7 26-12-18zM616 824l12 56 8-48-13-20zM1165 756l12 28 7-6-13-11zM1223 741l12 2 7-20-13 23zM1261 735l13 4 6-3-12 1zM1280 736l13 19 7 8-13 3zM1319 737l12 11 7 14-12-6zM1357 743l13-4 6 2-12-7zM1376 741l13-5 7-16-13 5zM247 879l13 15 8-66-12 26zM348 879l12-12 8-6-12 17zM924 804l12-2 8 12-13-5zM1235 743l13 14 6-7-12-27zM1274 739l12 15 7 1-13-19zM1312 743l13-6 6 11-12-11zM1370 739l13 18 6-21-13 5zM1523 724l13 31 6-34-13-18z"/><path class="k12" d="M496 892l13-22 7-46-12 17zM1068 810l12 8 7-15-12-3zM727 873l12-44 8 12-12-24z"/><path class="k11" d="M556 890l12-46 8-11-12 3zM628 880l12 10 8-24-12-34zM983 832l12-15 7-32-12-15z"/><path class="k4" d="M576 833l12 26 8-19-12-15zM636 832l12 34 8 30-13-43zM735 817l12 24 7-12-12 21zM990 770l12 15 7 3-12-13zM1126 758l12 27 7-9-12-16zM568 844l13-31 7 46-12-26zM767 820l12-10 7 17-12-24zM786 827l13-24 7-4-12 0zM1002 785l13 12 7 54-13-63zM1158 768l12 20 7-4-12-28zM1254 750l13 11 7-22-13-4zM1331 748l13 1 7 31-13-18zM1485 733l12 4 7 1-13 13z"/><path class="k1" d="M596 840l12 7 8-23-12-32zM951 799l12 48 7-35-12-8zM1009 788l13 63 7-58-13 7zM1491 751l13-13 6-22-12 24zM489 875l12-11 8 6-13 22zM509 870l12-68 8 22-13 0zM688 841l12 2 7-11-12 0zM747 841l12-6 8-15-13 9zM944 814l12 7 7 26-12-48zM1138 785l13-19 7 2-13 8zM1177 784l13-6 6 12-12-12zM1196 790l13 35 7-36-13-1z"/><path class="k14" d="M656 896l12-2 7-43-12 3zM1022 851l12 5 7-17-12-46z"/><path class="k10" d="M675 851l13-10 7-9-12 19zM715 860l12 13 8-56-13 23zM970 812l13 20 7-62-13 55zM1048 806l13-1 7 5-13 1zM1087 803l13 9 6-3-12-12zM588 859l13-20 7 8-12-7zM1061 805l12 10 7 3-12-8z"/><path class="k0" d="M695 832l12 0 8 28-12 0zM754 829l13-9 7-17-12 49zM931 809l13 5 7-15-13 18zM1145 776l13-8 7-12-13-17zM1184 778l12 12 7-2-12-23zM1300 763l12-20 7-6-13 29zM1338 762l13 18 6-37-12 2zM707 832l13 15 7 26-12-13zM1293 755l13 7 6-19-12 20zM1504 738l13 22 6-36-13-8zM1542 721l13 27 6 2-13-41z"/><path class="k16" d="M872 751l13 31 7-10-12 7z"/><path class="k3" d="M1029 793l12 46 7-33-12-14zM1203 788l13 1 7-48-13 17zM549 864l12 11 7-31-12 46zM608 847l12-10 8 43-12-56zM648 866l12 3 8 25-12 2zM1216 789l12-18 7-28-12-2zM1351 780l12-44 7 3-13 4z"/><path class="k2" d="M1106 809l13-3 7-48-13 5zM1080 818l13 30 7-36-13-9zM1100 812l12-9 7 3-13 3zM1119 806l12-9 7-12-12-27z"/><path class="k18" d="M268 828l12 20 8 25-12-32zM469 805l12 26 8 44-13-57z"/><path class="k21" d="M668 894l12-61 8 8-13 10z"/><path class="k15" d="M963 847l13-30 7 15-13-20zM1041 839l13-18 7-16-13 1z"/><path class="k5" d="M219 886l12-13 8-6-12 5zM260 894l12-16 8-30-12-20zM320 895l12-4 8 8-12-29zM501 864l12-40 8-22-12 68zM858 816l12-6 7-28-12 8zM936 802l13 3 7 16-12-7zM1151 766l12 29 7-7-12-20zM1344 749l13-21 6 8-12 44zM1478 732l13 25 6-20-12-4zM732 836l12-2 8-7-13 2zM811 828l12 15 8-14-13-18zM831 829l12-17 7 9-12-36zM850 821l13 2 7-13-12 6zM1434 757l12 31 7-47-13-2z"/><path class="k6" d="M239 867l12 26 9 1-13-15zM360 867l13 21 8-18-13-9zM421 859l12-8 8-3-12 0zM779 810l12 35 8-42-13 24zM799 803l12 25 7-17-12-12zM1459 727l13 34 6-29-12-23zM211 871l12 30 8-28-12 13zM231 873l12-14 8 34-12-26zM272 878l12-12 8 8-12-26zM312 883l12 13 8-5-12 4zM352 881l13 33 8-26-13-21zM413 870l12-10 8-9-12 8zM453 856l12 27 8-34-12-19zM473 849l12 19 8-29-12-8zM593 822l12 44 8 42-12-69zM1337 733l13 22 7-27-13 21zM1357 728l12 6 7 9-13-7zM1395 735l13-34 6 8-12 40z"/><path class="k17" d="M280 848l12 26 8-12-12 11zM461 830l12 19 8-18-12-26zM897 772l12 31 8 16-13-39zM1421 711l13 46 6-18-13-5zM393 856l12-13 8 27-12 9z"/><path class="k8" d="M300 862l12 21 8 12-12-25zM381 870l12-14 8 23-13-26zM441 848l12 8 8-26-12-3zM481 831l12 8 8 25-12 11zM541 824l12 22 8 29-12-11zM838 785l12 36 8-5-13-14zM877 782l13 18 7-28-12 10zM292 874l12 18 8-9-12-21zM433 851l12 27 8-22-12-8zM493 839l12 25 8-40-12 40z"/><path class="k4" d="M340 899l12-18 8-14-12 12zM601 839l12 69 7-71-12 10zM620 837l13 39 7 14-12-10zM680 833l12 7 8 3-12-2zM739 829l13-2 7 8-12 6zM917 819l12 13 7-30-12 2zM1248 757l12 22 7-18-13-11zM1286 754l13 15 7-7-13-7zM1383 757l12-22 7 14-13-13zM1497 737l13 14 7 9-13-22zM752 827l12-4 8-6-13 18zM949 805l12 43 7-31-12 4zM1318 758l13-2 6-23-12 4zM1529 741l13 18 6 8-12-12z"/><path class="k7" d="M401 879l12-9 8-11-12-5zM581 813l12 9 8 17-13 20zM818 811l13 18 7-44-12 1zM1325 737l12-4 7 16-13-1zM1363 736l13 7 7 14-13-18zM1402 749l12-40 7 2-13 15zM1440 739l13 2 6-14-12-25zM332 891l12-9 8-1-12 18zM373 888l12-10 8-22-12 14zM553 846l12-7 8 3-12 33zM573 842l12-8 8-12-12-9zM772 817l12-2 7 30-12-35zM870 810l13-10 7 0-13-18zM890 800l12-19 7 22-12-31zM909 803l13 19 7 10-12-13zM1376 743l13-12 6 4-12 22zM1453 741l12 41 7-21-13-34z"/><path class="k18" d="M521 802l12 5 8 17-12 0zM533 807l12 28 8 11-12-22z"/><path class="k10" d="M561 875l12-33 8-29-13 31zM660 869l12-17 8-19-12 61zM976 817l12 5 7-5-12 15zM1054 821l12-13 7 7-12-10zM1073 815l13 31 7 2-13-30zM1112 803l13 2 6-8-12 9zM1536 755l12 12 7-19-13-27zM1555 748l12 13 7 0-13-11zM712 863l12-29 8 2-12 11z"/><path class="k11" d="M640 890l13-34 7 13-12-3zM1093 848l12-23 7-22-12 9z"/><path class="k0" d="M700 843l12 20 8-16-13-15zM720 847l12-11 7-7-12 44zM759 835l13-18 7-7-12 10zM1015 797l12 65 7-6-12-5zM1170 788l13 0 7-10-13 6zM1190 778l12-3 7 50-13-35zM1228 771l13-3 7-11-13-14zM1306 762l12-4 7-21-13 6zM251 893l12 3 9-18-12 16zM653 856l12 14 7-18-12 17zM672 852l13 3 7-15-12-7zM692 840l13 4 7 19-12-20zM929 832l13-11 7-16-13-3zM1183 788l12-10 7-3-12 3zM1202 775l13 5 7 17-13 28zM1241 768l12-10 7 21-12-22zM1299 769l12 1 7-12-12 4zM1472 761l13 24 6-28-13-25zM1491 757l13-4 6-2-13-14zM1510 751l13 5 6-15-12 19z"/><path class="k2" d="M956 821l12-4 8 0-13 30zM995 817l13-3 7-17-13-12zM633 876l12-31 8 11-13 34zM968 817l13-1 7 6-12-5zM988 822l12-10 8 2-13 3zM1008 814l12 20 7 28-12-65zM1567 761l13 1 6-19-12 18z"/><path class="k13" d="M1034 856l13 4 7-39-13 18zM1027 862l13-42 7 40-13-4z"/><path class="k3" d="M1131 797l13-5 7-26-13 19zM791 845l13-16 7-1-12-25zM1066 808l13 16 7 22-13-31zM1125 805l12 9 7-22-13 5zM1222 797l12-22 7-7-13 3zM1260 779l13-34 7 25-13-9z"/><path class="k9" d="M1209 825l13-28 6-26-12 18zM1105 825l13-15 7-5-13-2zM1548 767l13-6 6 0-12-13z"/><path class="k1" d="M1267 761l13 9 6-16-12-15zM1517 760l12-19 7 14-13-31zM1144 792l12 7 7-4-12-29zM1163 795l13-22 7 15-13 0zM1280 770l12-28 7 27-13-15z"/><path class="k16" d="M513 824l12 0 8-17-12-5zM1414 709l13 40 7 8-13-46z"/><path class="k14" d="M613 908l12-34 8 2-13-39z"/><path class="k21" d="M1047 860l12-25 7-27-12 13z"/><path class="k12" d="M1086 846l12-23 7 2-12 23z"/><path class="k6" d="M203 875l12 51 8-25-12-30zM344 882l13 19 8 13-13-33zM385 878l12-21 8-14-12 13zM565 839l12 19 8-24-12 8zM585 834l12 24 8 8-12-44zM784 815l12 30 8-16-13 16zM883 800l12-17 7-2-12 19zM1427 749l13 9 6 30-12-31zM316 888l12-10 8-5-12 23zM497 868l13-12 7-4-12 12zM875 803l13 18 7-38-12 17zM1324 746l13-4 6 30-12-16z"/><path class="k5" d="M223 901l12 3 8-45-12 14zM263 896l13 4 8-34-12 12zM465 883l12 14 8-29-12-19zM645 845l12 22 8 3-12-14zM863 823l12-20 8-3-13 10zM1176 773l12 9 7-4-12 10zM1253 758l13 34 7-47-13 34zM1273 745l12-3 7 0-12 28zM1331 756l12 16 7-17-13-22zM1350 755l13-28 6 7-12-6zM357 901l12-39 8 10-12 42zM637 846l13 16 7 5-12-22zM856 826l12 24 7-47-12 20zM1188 782l13 1 7 3-13-8zM1440 758l12 1 7 6-13 23z"/><path class="k8" d="M243 859l12 53 8-16-12-3zM425 860l12 22 8-4-12-27zM545 835l12 34 8-30-12 7zM1292 742l13 16 6 12-12-1zM1369 734l13 14 7-17-13 12zM296 881l12 41 8-34-12 4zM377 872l12-57 8 42-12 21zM517 852l13-25 7-4-12 1zM776 819l13 13 7 13-12-30zM895 783l12 33 8-10-13-25zM1382 748l13-3 6-26-12 12zM1420 744l13 14 7 0-13-9z"/><path class="k17" d="M284 866l12 15 8 11-12-18zM902 781l13 25 7 16-13-19zM1389 731l12-12 7-18-13 34zM336 873l12 29 9-1-13-19zM417 862l12 28 8-8-12-22zM1285 742l13 25 7-9-13-16zM1363 727l12 33 7-12-13-14z"/><path class="k7" d="M304 892l12-4 8 8-12-13zM324 896l12-23 8 9-12 9zM445 878l12 2 8 3-12-27zM485 868l12 0 8-4-12-25zM505 864l12-12 8-28-12 0zM764 823l12-4 8-4-12 2zM843 812l13 14 7-3-13-2zM437 882l12 1 8-3-12-2zM457 880l12 14 8 3-12-14zM816 818l12-2 8 2-13 25zM836 818l12 14 8-6-13-14zM915 806l12 20 7 22-12-26zM1305 758l12 71 7-83-13 24z"/><path class="k4" d="M365 914l12-42 8 6-12 10zM705 844l12 3 7-13-12 29zM724 834l13 40 7-40-12 2zM744 834l13 22 7-33-12 4zM804 829l12-11 7 25-12-15zM922 822l12 26 8-27-13 11zM1195 778l13 8 7-6-13-5zM1234 775l13-2 6-15-12 10zM1311 770l13-24 7 10-13 2zM194 910l12 26 9-10-12-51zM235 904l12 14 8-6-12-53zM255 912l12-23 9 11-13-4zM276 900l12-24 8 5-12-15zM477 897l13-27 7-2-12 0zM557 869l13-3 7-8-12-19zM597 858l13 43 7-6-12-29zM697 855l12-5 8-3-12-3zM717 847l12 60 8-33-13-40zM796 845l13-1 7-26-12 11zM1208 786l13-2 6 19-12-23zM1247 773l12-2 7 21-13-34zM1343 772l13-6 7-39-13 28zM1459 765l13 29 6 2-13-14z"/><path class="k18" d="M405 843l12 19 8-2-12 10zM1401 719l13 3 6 22-12-43z"/><path class="k16" d="M525 824l12-1 8 12-12-28zM397 857l12 12 8-7-12-19zM537 823l13 15 7 31-12-34z"/><path class="k1" d="M605 866l12 29 8-21-12 34zM665 870l12-10 8-5-13-3zM685 855l12 0 8-11-13-4zM942 821l12 15 7 12-12-43zM981 816l12 39 7-43-12 10zM1000 812l13 30 7-8-12-20zM1446 788l13-23 6 17-12-41zM1465 782l13 14 7-11-13-24zM1523 756l13 1 6 2-13-18zM215 926l12-10 8-12-12-3zM657 867l13-8 7 1-12 10zM757 856l12-21 7-16-12 4zM1111 815l12 9 7-15-12 1zM1227 803l13 47 7-77-13 2zM1497 766l13 13 6-13-12-13zM1516 766l13-20 7 11-13-1zM1555 749l12-19 7 13-13 18zM1574 743l12 61 7-25-13-17z"/><path class="k10" d="M625 874l12-28 8-1-12 31zM1580 762l13 17 6 13-13-49zM617 895l13-15 7-34-12 28zM1072 820l12 2 7 4-12-2zM1478 796l13-30 6 0-12 19z"/><path class="k0" d="M823 843l13-25 7-6-12 17zM1156 799l13 3 7-29-13 22zM1215 780l12 23 7-28-12 22zM1504 753l12 13 7-10-13-5zM577 858l13 6 7-6-12-24zM677 860l13-8 7 3-12 0zM1052 802l13 25 7-7-13 15zM1130 809l13-27 7 24-13 8zM1150 806l12-42 7 38-13-3zM1169 802l13-19 6-1-12-9zM1536 757l12-10 7 2-13 10z"/><path class="k9" d="M961 848l13 21 7-53-13 1zM1020 834l12 10 8-24-13 42zM1561 761l13-18 6 19-13-1zM993 855l13 26 7-39-13-30z"/><path class="k3" d="M1040 820l12-18 7 33-12 25zM1118 810l12-1 7 5-12-9zM1137 814l13-8 6-7-12-7zM1485 785l12-19 7-13-13 4zM1542 759l13-10 6 12-13 6zM934 848l13 3 7-15-12-15zM954 836l12 0 8 33-13-21z"/><path class="k2" d="M1059 835l13-15 7 4-13-16zM1079 824l12 2 7-3-12 23zM1098 823l13-8 7-5-13 15zM737 874l12-26 8 8-13-22zM1013 842l12 8 7-6-12-10zM1032 844l13-31 7-11-12 18zM1091 826l13 1 7-12-13 8zM1266 792l13-13 6-37-12 3z"/><path class="k18" d="M1408 701l12 43 7 5-13-40z"/><path class="k15" d="M974 869l12 9 7-23-12-39z"/><path class="k12" d="M1593 779l13 23 6-19-13 9z"/><path class="k4" d="M186 910l12 27 8-1-12-26zM227 916l12-8 8 10-12-14zM590 864l12-2 8 39-13-43zM809 844l12 2 7-30-12 2zM927 826l13 42 7-17-13-3zM1259 771l13 8 7 0-13 13zM1529 746l13 42 6-41-12 10zM1567 730l13 59 6 15-12-61zM259 923l12-25 9-10-13 1zM522 874l12-34 8 19-12-32zM602 862l12 10 8 4-12 25zM642 871l12-5 8-1-12-3zM702 863l12 49 8 12-13-74zM861 843l12 7 7-23-12 23zM1057 802l13 28 7-14-12 11zM1233 800l13-3 7-21-13 74zM1349 777l13-16 7-16-13 21zM1484 770l13-23 7-11-13 30zM1618 732l13-8 6 5-12 24z"/><path class="k1" d="M206 936l13-4 8-16-12 10zM308 922l12-23 8-21-12 10zM630 880l12-9 8-9-13-16zM1123 824l13-35 7-7-13 27zM1472 794l12-24 7-4-13 30zM1510 779l13-17 6-16-13 20zM198 937l12 19 9-24-13 4zM219 932l12-5 8-19-12 8zM781 875l13-45 7 0-12 2zM1077 816l13 45 7-26-13-13z"/><path class="k0" d="M247 918l12 5 8-34-12 23zM868 850l12-23 8-6-13-18zM1045 813l12-11 8 25-13-25zM1279 779l12-4 7-8-13-25zM1491 766l13-30 6 43-13-13zM1548 747l13-16 6-1-12 19zM582 874l12 19 8-31-12 2zM622 876l12 13 8-18-12 9zM1311 779l12-3 7-18-13 71zM1523 762l12 17 7 9-13-42z"/><path class="k6" d="M267 889l13-1 8-12-12 24zM510 856l12 18 8-47-13 25zM550 838l12 19 8 9-13 3zM828 816l13-20 7 36-12-14zM1337 742l12 35 7-11-13 6zM1433 758l13-21 6 22-12-1zM320 899l12 17 8-32-12-6zM421 885l12 6 8 5-12-6zM682 840l12 34 8-11-12-11zM1175 783l12 0 7-37-12 37zM1330 758l13 19 6 0-12-35zM1388 762l13-28 6-3-12 14zM1427 768l12-26 7-5-13 21zM1504 736l12 16 7 10-13 17z"/><path class="k8" d="M288 876l12 35 8 11-12-41zM328 878l12 6 8 18-12-29zM490 870l12-26 8 12-13 12zM1162 764l13 19 7 0-13 19zM280 888l12 24 8-1-12-35zM340 884l13 26 8-33-13 25zM482 871l12 6 8-33-12 26zM1155 773l13 24 7-14-13-19zM1369 745l12 6 7 11-13-2z"/><path class="k7" d="M348 902l13-25 8-15-12 39zM429 890l12 6 8-13-12-1zM449 883l13 18 7-7-12-14zM690 852l12 11 7-13-12 5zM709 850l13 74 7-17-12-60zM769 835l12 40 8-43-13-13zM1143 782l12-9 7-9-12 42zM1182 783l12-37 7 37-13-1zM1298 767l13 12 6 50-12-71zM1375 760l13 2 7-17-13 3zM441 896l13 10 8-5-13-18zM542 859l12 2 8-4-12-19zM562 857l12 16 8 1-12-8zM801 830l13 6 7 10-12-2zM900 812l13 15 7-11-13 0zM1136 789l12 14 7-30-12 9zM1214 777l12-1 7 24-12-16zM1253 776l12 22 7-19-13-8zM1272 779l13 13 6-17-12 4zM1291 775l13 1 7 3-13-12z"/><path class="k16" d="M369 862l12-21 8-26-12 57zM530 827l12 32 8-21-13-15zM502 844l12 24 8 6-12-18zM1194 746l13 23 7 8-13 6z"/><path class="k19" d="M389 815l12 39 8 15-12-12z"/><path class="k17" d="M409 869l12 16 8 5-12-28zM1395 745l12-14 7-9-13-3zM361 877l12-14 8-22-12 21zM841 796l12 16 8 31-13-11zM1446 737l13 39 6-5-13-12z"/><path class="k5" d="M469 894l13-23 8-1-13 27zM570 866l12 8 8-10-13-6zM650 862l12 3 8-6-13 8zM670 859l12-19 8 12-13 8zM749 848l13 1 7-14-12 21zM789 832l12-2 8 14-13 1zM848 832l13 11 7 7-12-24zM888 821l12-9 7 4-12-33zM907 816l13 0 7 10-12-20zM1201 783l13-6 7 7-13 2zM1221 784l12 16 7 50-13-47zM1356 766l13-21 6 15-12-33zM1452 759l13 12 7 23-13-29zM178 922l12 16 8-1-12-27zM239 908l12 20 8-5-12-5zM300 911l12-1 8-11-12 23zM462 901l12-45 8 15-13 23zM662 865l12 22 8-47-12 19zM742 855l12 28 8-34-13-1zM762 849l12 45 7-19-12-40zM821 846l12-30 8-20-13 20zM880 827l13 5 7-20-12 9zM920 816l12 39 8 13-13-42zM1465 771l13 0 6-1-12 24zM1561 731l13 19 6 39-13-59z"/><path class="k9" d="M610 901l12-25 8 4-13 15zM979 876l12-28 8 5-13 25zM1542 788l13-16 6-41-13 16z"/><path class="k15" d="M729 907l13-52 7-7-12 26zM1317 829l13-71 7-16-13 4z"/><path class="k10" d="M947 851l12 13 7-28-12 0zM1065 827l12-11 7 6-12-2zM1084 822l13 13 7-8-13-1zM940 868l12 13 7-17-12-13zM959 864l13-23 7 35-13-40zM999 853l12 33 7-1-12-4zM1116 843l13-33 7-21-13 35z"/><path class="k3" d="M966 836l13 40 7 2-12-9zM1104 827l12 16 7-19-12-9zM1097 835l12 14 7-6-12-16z"/><path class="k12" d="M986 878l13-25 7 28-13-26zM1580 789l13 25 6-6-13-4z"/><path class="k21" d="M1006 881l12 4 7-35-12-8zM1606 802l12-70 7 21-13 30zM722 924l12-55 8-14-13 52z"/><path class="k2" d="M1025 850l13 6 7-43-13 31zM1038 856l12-46 7-8-12 11z"/><path class="k13" d="M1240 850l13-74 6-5-12 2zM1586 804l13 4 7-6-13-23zM1599 808l13-59 6-17-12 70z"/><path class="k18" d="M1414 722l13 46 6-10-13-14zM381 841l12 45 8-32-12-39z"/><path class="k18" d="M401 854l12 18 8 13-12-16zM1407 731l13 55 7-18-13-46z"/><path class="k11" d="M1018 885l13 3 7-32-13-6z"/><path class="k4" d="M170 940l12-4 8 2-12-16zM454 906l12 28 8-78-12 45zM614 872l13 28 7-11-12-13zM1050 810l13 42 7-22-13-28zM1129 810l12-23 7 16-12-14zM1265 798l13 4 7-10-13-13zM1574 750l13 5 6 59-13-25zM182 936l12 25 8-17-12-6zM304 932l12-15 8 4-12-11zM786 864l13-3 7-20-12-11zM1278 802l12-25 7 7-12 8zM1548 759l13 52 6-42-12 3zM1587 755l12 10 7 7-13 42z"/><path class="k3" d="M190 938l12 6 8 12-12-19zM594 893l13-3 7-18-12-10zM774 894l12-30 8-34-13 45zM932 855l13 15 7 11-12-13zM991 848l13-1 7 39-12-33zM1070 830l13 29 7 2-13-45zM466 934l12 13 8-37-12-54zM486 910l12-30 8-20-12 17zM627 900l12-3 8 16-13-24zM647 913l12-25 8-9-13-13zM925 865l13-11 7 16-13-15zM1004 847l13 20 7 28-13-9zM1063 852l13 17 7-10-13-29zM1606 772l13-20 6-24-13 21z"/><path class="k10" d="M210 956l12-12 9-17-12 5zM1109 849l13-27 7-12-13 33zM1043 855l13-7 7 4-13-42z"/><path class="k0" d="M231 927l12 11 8-10-12-20zM251 928l12 12 8-42-12 25zM332 916l13-12 8 6-13-26zM634 889l13 24 7-47-12 5zM734 869l13 15 7-1-12-28zM754 883l12 4 8 7-12-45zM873 850l13-23 7 5-13-5zM1612 749l13-21 6-4-13 8zM446 920l12-4 8 18-12-28zM607 890l12-2 8 12-13-28zM707 886l12 10 8 32-13-16zM965 836l12-3 7-9-12 17zM1122 822l12-8 7-27-12 23zM1567 769l13 11 7-25-13-5z"/><path class="k6" d="M271 898l13 11 8 3-12-24zM494 877l12-17 8 8-12-24zM514 868l12-19 8-9-12 34zM1187 783l13 13 7-27-13-23zM1226 776l13 7 7 14-13 3zM1362 761l13-8 6-2-12-6zM1497 747l13 1 6 4-12-16zM284 909l12 30 8-7-12-20zM345 904l12 23 8-11-12-6zM567 860l12 7 8 5-13 1zM1219 781l13 22 7-20-13-7zM1239 783l13-11 6 30-12-5zM1355 769l13 22 7-38-13 8zM1433 767l13 13 6-20-13-18zM1491 753l12-23 7 18-13-1zM1510 748l13 0 6 1-13 3z"/><path class="k5" d="M292 912l12 20 8-22-12 1zM393 886l12-20 8 6-12-18zM574 873l13-1 7 21-12-19zM694 874l13 12 7 26-12-49zM893 832l12-16 8 11-13-15zM913 827l12 38 7-10-12-39zM1246 797l12 5 7-4-12-22zM1285 792l12-8 7-8-13-1zM1459 776l12 0 7-5-13 0zM1478 771l13-18 6-6-13 23zM324 921l12 16 9-33-13 12zM587 872l12 55 8-37-13 3zM667 879l12 13 8-18-13 13zM687 874l12 4 8 8-13-12zM846 839l12 45 8-20-13-52zM984 824l13 30 7-7-13 1zM1200 796l13-14 6-1-12-12zM1258 802l13 9 7-9-13-4zM1471 776l13-18 7-5-13 18zM1644 732l13 35 6-10-13-34z"/><path class="k7" d="M312 910l12 11 8-5-12-17zM353 910l12 6 8-53-12 14zM433 891l13 29 8-14-13-10zM554 861l13-1 7 13-12-16zM654 866l13 13 7 8-12-22zM794 830l12 11 8-5-13-6zM814 836l12-19 7-1-12 30zM1148 803l13-17 7 11-13-24zM1168 797l12 1 7-15-12 0zM1304 776l13 5 6-5-12 3zM1323 776l13 2 7-1-13-19zM1343 777l12-8 7-8-13 16zM1420 786l13-19 6-25-12 26zM1516 752l13-3 6 30-12-17zM1631 724l13 8 6-9-13 6zM161 925l12 42 9-31-12 4zM365 916l12-27 8-20-12-6zM806 841l13 16 7-40-12 19zM886 827l12 4 7-15-12 16zM905 816l13 8 7 41-12-38zM1180 798l13-5 7 3-13-13zM1297 784l13-2 7-1-13-5zM1317 781l12 3 7-6-13-2zM1336 778l13 9 6-18-12 8zM1529 749l13 51 6-41-13 20zM1625 728l13 36 6-32-13-8z"/><path class="k18" d="M373 863l12 6 8 17-12-45zM1401 734l12 29 7 23-13-55zM546 833l13 42 8-15-13 1z"/><path class="k8" d="M413 872l13 2 7 17-12-6zM833 816l13 23 7-27-12-16zM853 812l13 52 7-14-12-7zM1207 769l12 12 7-5-12 1zM1381 751l13 8 7-25-13 28zM426 874l12 16 8 30-13-29zM826 817l13 18 7 4-13-23zM1141 787l13-14 7 13-13 17zM1161 786l12 3 7 9-12-1zM1375 753l13-2 6 8-13-8zM1394 759l13-4 6 8-12-29zM1413 763l13 2 7 2-13 19zM1452 760l13 48 6-32-12 0z"/><path class="k16" d="M474 856l12 54 8-33-12-6zM534 840l12-7 8 28-12-2zM385 869l12 30 8-33-12 20zM526 849l13 14 7-30-12 7z"/><path class="k1" d="M674 887l13-13 7 0-12-34zM972 841l12-17 7 24-12 28zM1535 779l13-20 7 13-13 16zM1555 772l12-3 7-19-13-19zM202 944l12 9 8-9-12 12zM222 944l13 1 8-7-12-11zM243 938l12 11 8-9-12-12zM747 884l12-11 7 14-12-4zM766 887l13-3 7-20-12 30zM866 864l12 17 8-54-13 23zM1102 832l13-16 7 6-13 27z"/><path class="k9" d="M714 912l13 16 7-59-12 55zM1090 861l12-29 7 17-12-14z"/><path class="k12" d="M952 881l13-45 7 5-13 23z"/><path class="k14" d="M1011 886l13 9 7-7-13-3zM727 928l12-2 8-42-13-15z"/><path class="k15" d="M1031 888l12-33 7-45-12 46z"/><path class="k17" d="M1439 742l13 18 7 16-13-39zM405 866l13 18 8-10-13-2zM506 860l13-9 7-2-12 19z"/><path class="k21" d="M1593 814l13-42 6-23-13 59z"/><path class="k2" d="M263 940l12-36 9 5-13-11zM945 870l12-11 8-23-13 45zM1083 859l12-8 7-19-12 29z"/><path class="k13" d="M1024 895l12-43 7 3-12 33z"/><path class="k7" d="M153 922l12 32 8 13-12-42zM316 917l12-3 8 23-12-16zM397 899l13 16 8-31-13-18zM839 835l12 32 7 17-12-45zM898 831l13 6 7-13-13-8zM918 824l12 15 8 15-13 11zM1310 782l13 15 6-13-12-3zM1446 780l12 2 7 26-13-48zM308 923l12 29 8-38-12 3zM328 914l13 8 8 2-13 13zM369 916l12-41 8 50-12-36zM430 899l12 16 8-10-12-15zM450 905l12 9 8 33-12-31zM571 885l12 1 8 18-12-37zM692 882l12 27 8-7-13-24zM1264 805l13-12 7 39-13-21zM1303 791l13 1 7 5-13-15zM1458 782l13-3 7 25-13 4zM1516 762l13 4 6-8-12-10z"/><path class="k3" d="M173 967l12 14 9-20-12-25zM214 953l12 22 9-30-13-1zM336 937l13-13 8 3-12-23zM719 896l12-9 8 39-12 2zM878 881l13-1 7-49-12-4zM957 859l13-2 7-24-12 3zM1095 851l13 5 7-40-13 16zM871 885l12-3 8-2-13 1zM1108 856l12-5 7-24-12-11zM1555 795l12-23 7 7-13 32z"/><path class="k1" d="M194 961l12 12 8-20-12-9zM235 945l12 6 8-2-12-11zM938 854l12 2 7 3-12 11zM997 854l12-11 8 24-13-20zM1036 852l13-6 7 2-13 7zM1056 848l12-5 8 26-13-17zM1580 780l13-16 6 1-12-10zM1657 767l13 3 6-29-13 16zM247 951l12 10 8-19-12 7zM267 942l12-33 9-6-13 1zM712 902l12-31 7 16-12 9zM751 899l13 1 7-18-12-9zM891 880l12 1 8-44-13-6zM950 856l13 9 7-8-13 2zM970 857l12 14 8-13-13-25zM990 858l12-3 7-12-12 11z"/><path class="k10" d="M255 949l12-7 8-38-12 36zM858 884l13 1 7-4-12-17zM185 981l13-16 8 8-12-12zM206 973l12-7 8 9-12-22zM1088 860l13-5 7 1-13-5zM1284 832l12-30 7-11-13-14zM1361 821l13-29 7-27-13 26z"/><path class="k6" d="M275 904l13-1 8 36-12-30zM418 884l12 15 8-9-12-16zM438 890l12 15 8 11-12 4zM559 875l12 10 8-18-12-7zM579 867l12 37 8 23-12-55zM1193 793l13-14 7 3-13 14zM1290 777l13 14 7-9-13 2zM1484 758l13 4 6-32-12 23zM1523 748l12 10 7 42-13-51zM551 884l12 11 8-10-12-10zM671 875l13 4 8 3-13 10zM1439 779l13 10 6-7-12-2zM1497 762l13 24 6-24-13-32z"/><path class="k0" d="M296 939l12-16 8-6-12 15zM779 884l12-13 8-10-13 3zM1465 808l13-4 6-46-13 18zM1638 764l13-2 6 5-13-35zM165 954l12 6 8 21-12-14zM490 932l13-11 8-49-13 8zM831 882l13 8 7-23-12-32zM851 867l13 19 7-1-13-1zM1009 843l13 4 7-3-12 23zM1049 846l12 21 7-24-12 5zM1068 843l13-1 7 18-12 9zM1245 827l12-41 7 19-12-33zM1574 779l13 30 6-45-13 16zM1651 762l12-10 7 18-13-3z"/><path class="k5" d="M357 927l12-11 8-27-12 27zM659 888l12-13 8 17-12-13zM699 878l13 24 7-6-12-10zM759 873l12 9 8 2-13 3zM799 861l12-2 8-2-13-16zM819 857l12 25 8-47-13-18zM1115 816l12 11 7-13-12 8zM1134 814l13-27 7-14-13 14zM1232 803l13 24 7-55-13 11zM1271 811l13 21 6-55-12 25zM1329 784l13-4 7 7-13-9zM1349 787l12 34 7-30-13-22zM1619 752l12 6 7 6-13-36zM349 924l12-24 8 16-12 11zM389 925l13-34 8 24-13-16zM410 915l12-6 8-10-12-15zM651 899l13-29 7 5-12 13zM811 859l13 14 7 9-12-25zM911 837l12 22 7-20-12-15zM1225 810l13 11 7 6-13-24zM1342 780l13 10 6 31-12-34zM1535 758l13 45 7-8-13 5zM1612 755l13 28 6-25-12-6z"/><path class="k8" d="M377 889l12 36 8-26-12-30zM498 880l13-8 8-21-13 9zM1213 782l12 28 7-7-13-22zM1426 765l13 14 7 1-13-13zM288 903l12 46 8-26-12 16zM1381 765l13 28 6-28-12-14zM1400 765l13 11 7-21-13 0z"/><path class="k4" d="M458 916l12 31 8 0-12-13zM619 888l12 16 8-7-12 3zM639 897l12 2 8-11-12 25zM679 892l13-10 7-4-12-4zM977 833l13 25 7-4-13-30zM1368 791l13-26 7-14-13 2zM1599 765l13-10 7-3-13 20zM591 904l13-22 7 18-12 27zM611 900l13-18 7 22-12-16zM631 904l13 4 7-9-12-2zM731 887l13-3 7 15-12 27zM771 882l13-1 7-10-12 13zM791 871l13-8 7-4-12 2zM930 839l13 27 7-10-12-2zM1029 844l13-10 7 12-13 6zM1127 827l13-40 7 0-13 27zM1323 797l12-4 7-13-13 4zM1478 804l12-22 7-20-13-4zM1593 764l13 5 6-14-13 10zM1631 758l13 14 7-10-13 2z"/><path class="k12" d="M478 947l12-15 8-52-12 30zM739 926l12-27 8-26-12 11zM470 947l13-20 7 5-12 15z"/><path class="k16" d="M519 851l12 9 8 3-13-14zM1503 730l13 32 7-14-13 0zM1147 787l13 8 7-11-13-11zM1167 784l12 18 7-13-13 0z"/><path class="k17" d="M539 863l12 21 8-9-13-42zM1173 789l13 0 7 4-13 5zM1252 772l12 33 7 6-13-9zM1388 751l12 14 7-10-13 4zM1407 755l13 0 6 10-13-2zM511 872l12 37 8-49-12-9zM531 860l12 31 8-7-12-21zM1186 789l13 11 7-21-13 14zM1206 779l12 60 7-29-12-28zM1420 755l12 9 7 15-13-14z"/><path class="k2" d="M599 927l12-27 8-12-12 2zM1017 867l12-23 7 8-12 43zM1076 869l12-9 7-9-12 8zM1542 800l13-5 6 16-13-52z"/><path class="k18" d="M1154 773l13 11 6 5-12-3z"/><path class="k11" d="M1561 811l13-32 6 1-13-11z"/><path class="k9" d="M226 975l13-16 8-8-12-6z"/><path class="k0" d="M177 960l12 7 9-2-13 16zM239 959l12 8 8-6-12-10zM704 909l12-26 8-12-12 31zM784 881l12-8 8-10-13 8zM923 859l13 52 7-45-13-27zM1002 855l13-26 7 18-13-4zM1081 842l13-16 7 29-13 5zM1120 851l13-28 7-36-13 40zM1218 839l13-10 7-8-13-11zM1567 772l13 1 7 36-13-30zM1644 772l13-4 6-16-12 10zM189 967l12 25 9-17-12-10zM434 928l12 9 8-14-12-8zM475 914l12-26 8 68-12-29zM535 916l13 5 8-32-13 2zM756 897l13 16 7-11-12-2z"/><path class="k1" d="M198 965l12 10 8-9-12 7zM259 961l12-25 8-27-12 33zM483 927l12 29 8-35-13 11zM764 900l12 2 8-21-13 1zM844 890l12-31 8 27-13-19zM864 886l12 14 7-18-12 3zM883 882l13 23 7-24-12-1zM982 871l13-23 7 7-12 3zM1101 855l12-37 7 33-12 5zM1625 783l13 13 6-24-13-14zM230 960l12-8 9 15-12-8zM251 967l12 7 8-38-12 25zM836 881l13 28 7-50-12 31zM1542 792l13 0 6 4-13 7zM1600 795l12-27 7 12-13-11zM1619 780l13 15 6 1-13-13z"/><path class="k3" d="M218 966l12-6 9-1-13 16zM320 952l12 12 9-42-13-8zM903 881l13 1 7-23-12-22zM943 866l12 16 8-17-13-9zM963 865l12 17 7-11-12-14zM1548 803l13-7 6-24-12 23zM1587 809l13-14 6-26-13-5zM210 975l12 0 8-15-12 6zM312 948l12-13 8 29-12-12zM353 942l12-53 8 3-12 8zM515 923l12-16 8 9-12-7zM776 902l13-24 7-5-12 8zM916 882l12 14 8 15-13-52zM975 882l13-23 7-11-13 23zM1561 796l13 13 6-36-13-1zM1638 796l13-19 6-9-13 4z"/><path class="k8" d="M279 909l13 19 8 21-12-46zM361 900l12-8 8-17-12 41zM402 891l12 23 8-5-12 6zM664 870l12 17 8-8-13-4zM1179 802l13 10 7-12-13-11zM1199 800l12 27 7 12-12-60zM1257 786l13 22 7-15-13 12zM636 880l12-6 8-6-12 40zM1251 786l12 13 7 9-13-22z"/><path class="k4" d="M300 949l12-1 8 4-12-29zM462 914l13 0 8 13-13 20zM503 921l12 2 8-14-12-37zM644 908l12-40 8 2-13 29zM744 884l12 13 8 3-13-1zM824 873l12 8 8 9-13-8zM1022 847l13-9 7-4-13 10zM1606 769l13 11 6 3-13-28zM454 923l13-29 8 20-13 0zM796 873l13 2 7-1-12-11zM816 874l13 1 7 6-12-8zM1074 843l13 7 7-24-13 16zM1231 829l13-26 7-17-13 35zM1329 810l12-11 7 2-13-8zM1348 801l13 6 7 0-13-17zM1368 807l12-31 7 23-13-7zM1406 801l13-21 7-35-13 31zM1522 788l13 6 7-2-13-26z"/><path class="k7" d="M341 922l12 20 8-42-12 24zM422 909l12 19 8-13-12-16zM543 891l13-2 7 6-12-11zM563 895l13-3 7-6-12-1zM583 886l13-25 8 21-13 22zM1296 802l13-28 7 18-13-1zM1316 792l13 18 6-17-12 4zM1452 789l13-25 6 15-13 3zM1471 779l13 11 6-8-12 22zM1490 782l13 2 7 2-13-24zM1529 766l13 26 6 11-13-45zM292 928l12 28 8-8-12 1zM393 914l13 0 8 0-12-23zM414 914l12-11 8 25-12-19zM616 892l12-11 8-1-12 2zM716 883l13-1 7-5-12-6zM736 877l13 11 7 9-12-13zM1035 838l12 4 7-12-12 4zM1054 830l13 50 7-37-13 24zM1113 818l13-2 7 7-13 28zM1133 823l13 6 7-26-13-16zM1270 808l13-5 7-20-13 10z"/><path class="k16" d="M381 875l12 39 9-23-13 34zM596 861l12 41 8-10-12-10zM1172 791l13 2 7 19-13-10z"/><path class="k5" d="M442 915l12 8 8-9-12-9zM523 909l12 7 8-25-12-31zM804 863l12 11 8-1-13-14zM1042 834l12-4 7 37-12-21zM1238 821l13-35 6 0-12 41zM1335 793l13 8 7-11-13-10zM1355 790l13 17 6-15-13 29zM1374 792l13 7 7-6-13-28zM1394 793l12 8 7-25-13-11zM1510 786l12 2 7-22-13-4zM271 936l12 6 9-14-13-19zM856 859l13 6 7 35-12-14zM995 848l13-16 7-3-13 26zM1094 826l12 2 7-10-12 37zM1211 827l13 11 7-9-13 10zM1387 799l13 22 6-20-12-8zM1445 807l13-40 7-3-13 25zM1484 790l13-6 6 0-13-2zM1503 784l13-2 6 6-12-2zM1580 773l13 22 7 0-13 14z"/><path class="k6" d="M604 882l12 10 8-10-13 18zM624 882l12-2 8 28-13-4zM684 879l12 1 8 29-12-27zM724 871l12 6 8 7-13 3zM1277 793l13-10 6 19-12 30zM1413 776l13-31 6 19-12-9zM556 889l12-4 8 7-13 3zM576 892l12-21 8-10-13 25zM676 887l13-7 7 0-12-1zM696 880l13-13 7 16-12 26zM1015 829l12 10 8-1-13 9zM1192 812l13 15 6 0-12-27z"/><path class="k10" d="M1061 867l13-24 7-1-13 1zM896 905l12 6 8-29-13-1zM955 882l13 0 7 0-12-17z"/><path class="k17" d="M1140 787l13 16 7-8-13-8zM1160 795l12-4 7 11-12-18zM1432 764l13 43 7-18-13-10zM373 892l12 5 8 17-12-39zM656 868l13-1 7 20-12-17zM1153 803l12 32 7-44-12 4zM1290 783l12 38 7-47-13 28zM1309 774l13 35 7 1-13-18zM1465 764l12 13 7 13-13-11z"/><path class="k2" d="M332 964l13-46 8 24-12-20zM876 900l13 0 7 5-13-23z"/><path class="k12" d="M495 956l12-61 8 28-12-2z"/><path class="k11" d="M936 911l12-29 7 0-12-16z"/><path class="k18" d="M1426 745l13 40 6 22-13-43z"/><path class="k3" d="M201 992l13-8 8-9-12 0zM222 975l12-12 8-11-12 8zM263 974l12 1 8-33-12-6zM304 956l12-25 8 4-12 13zM769 913l12-9 8-26-13 24zM948 882l13 16 7-16-13 0zM968 882l13-19 7-4-13 23zM1067 880l13-6 7-24-13-7zM1574 809l13 9 6-23-13-22zM214 984l12-7 8-14-12 12zM255 983l12-4 8-4-12-1zM781 904l13 0 7-5-12-21zM821 901l13 15 7-2-12-39zM1587 818l13-8 6-16-13 1zM1625 794l13-5 7 1-13 5z"/><path class="k4" d="M242 952l13 31 8-9-12-7zM548 921l12-34 8-2-12 4zM809 875l12 26 8-26-13-1zM829 875l12 39 8-5-13-28zM988 859l12 6 8-33-13 16zM1087 850l12 7 7-29-12-2zM1302 821l13-10 7-2-13-35zM1361 807l13-14 6-17-12 31zM1400 821l13-18 6-23-13 21zM741 903l13 0 7 11-12-26zM981 863l12 4 7-2-12-6zM1099 857l13-28 7-1-13 0zM1139 853l12-24 7-3-12 3zM1335 822l12-9 7-10-13-4zM1354 803l13-20 7 10-13 14zM1510 799l12-1 7-3-13-13zM1529 795l13-2 6-10-13 11z"/><path class="k0" d="M283 942l13 0 8 14-12-28zM789 878l12 21 8-24-13-2zM1535 794l13-11 7 9-13 0zM1555 792l13 15 6 2-13-13zM1593 795l13-1 6-26-12 27zM234 963l12 0 9 20-13-31zM520 925l12 18 8-25-13-11zM1606 794l13-21 6 21-13-26z"/><path class="k5" d="M324 935l13-13 8-4-13 46zM406 914l12-11 8 0-12 11zM527 907l13 11 8 3-13-5zM749 888l12 26 8-1-13-16zM869 865l12 52 8-17-13 0zM1224 838l13-23 7-12-13 26zM1322 809l13 13 6-23-12 11zM1341 799l13 4 7 4-13-6zM1516 782l13 13 6-1-13-6zM1612 768l13 26 7 1-13-15zM296 942l12-25 8 14-12 25zM316 931l12-25 9 16-13 13zM540 918l12 4 8-35-12 34zM1000 865l13-13 7-18-12-2zM1040 850l13 0 7 15-13-23zM1198 845l12-4 7-20-12 6zM1393 814l13 6 7-17-13 18zM1548 783l13 13 7 11-13-15z"/><path class="k6" d="M345 918l12 17 8-46-12 53zM426 903l12-8 8 42-12-9zM467 894l12 7 8-13-12 26zM507 895l13 30 7-18-12 16zM1008 832l12 2 7 5-12-10zM1027 839l13 11 7-8-12-4zM1126 816l13 37 7-24-13-6zM1146 829l12-3 7 9-12-32zM1283 803l13-6 6 24-12-38zM337 922l12 0 8 13-12-17zM499 903l13 45 8-23-13-30zM600 903l13-21 8-1-13 21zM721 883l13-8 7 28-12-21zM1020 834l13-4 7 20-13-11zM1158 826l13 15 7-5-13-1zM1217 821l13 6 7-12-13 23zM1237 815l13-10 6-11-12 9zM1374 793l12 51 7-30-13-38zM1432 791l13-10 6-5-12 9z"/><path class="k16" d="M365 889l12 13 8-5-12-5zM669 867l12 24 8-11-13 7zM1185 793l13 52 7-18-13-15zM1458 767l13-12 6 22-12-13zM580 860l13 38 7 5-12-32zM641 871l12-2 8-8-13 13z"/><path class="k17" d="M385 897l13-12 8 29-13 0zM588 871l12 32 8-1-12-41zM648 874l13-13 8 6-13 1zM709 867l12 16 8-1-13 1zM377 902l13 5 8-22-13 12zM459 882l12 11 8 8-12-7zM621 881l12 3 8-13-13 10zM1451 776l13 11 7-32-13 12zM1490 761l13-1 7 39-13-15z"/><path class="k1" d="M446 937l13-55 8 12-13 29zM1632 795l13-5 6-13-13 19zM761 914l13 16 7-26-12 9zM801 899l13 21 7-19-12-26zM861 884l13 21 7 12-12-52zM1060 865l12 11 8-2-13 6zM1080 874l12-11 7-6-12-7zM1568 807l12-19 7 30-13-9z"/><path class="k8" d="M487 888l12 15 8-8-12 61zM568 885l12-25 8 11-12 21zM628 881l13-10 7 3-12 6zM689 880l12 26 8-39-13 13zM1244 803l12-9 7 5-12-13zM1263 799l13 6 7-2-13 5zM1380 776l13 38 7 7-13-22zM1419 780l13 11 7-6-13-40zM1439 785l12-9 7-9-13 40zM1477 777l13-16 7 23-13 6zM418 903l12 17 8-25-12 8zM438 895l13 20 8-33-13 55zM479 901l12 32 8-30-12-15zM560 887l12 5 8-32-12 25zM681 891l12 6 8 9-12-26zM1256 794l13 8 7 3-13-6zM1276 805l13 17 7-25-13 6zM1296 797l12-12 7 26-13 10z"/><path class="k7" d="M608 902l13-21 7 0-12 11zM729 882l12 21 8-15-13-11zM1047 842l13 23 7 15-13-50zM1106 828l13 0 7-12-13 2zM1165 835l13 1 7-43-13-2zM1205 827l12-6 7 17-13-11zM1497 784l13 15 6-17-13 2zM357 935l12-6 8-27-12-13zM701 906l13-13 7-10-12-16zM1119 828l13 1 7 24-13-37zM1178 836l13 4 7 5-13-52zM1315 811l13-6 7 17-13-13zM1413 803l12-8 7-4-13-11z"/><path class="k10" d="M849 909l12-25 8-19-13-6zM889 900l12 22 7-11-12-6zM928 896l13 12 7-26-12 29zM275 975l12-11 9-22-13 0zM961 898l12-29 8-6-13 19z"/><path class="k2" d="M908 911l13 10 7-25-12-14zM901 922l13 25 7-26-13-10zM941 908l12-25 8 15-13-16z"/><path class="k18" d="M398 885l12 13 8 5-12 11zM661 861l12 21 8 9-12-24zM1471 755l13-13 6 19-13 16z"/><path class="k9" d="M841 914l13 19 7-49-12 25zM881 917l13 17 7-12-12-22z"/><path class="k12" d="M921 921l13-25 7 12-13-12z"/><path class="k1" d="M226 977l12-2 8-12-12 0zM287 964l13-33 8-14-12 25zM512 948l12 32 8-37-12-18zM953 883l13-13 7-1-12 29zM504 948l12 46 8-14-12-32zM766 919l13-5 7 2-12 14zM1085 886l13-12 7-33-13 22z"/><path class="k4" d="M246 963l13-23 8 39-12 4zM552 922l13 0 7-30-12-5zM754 903l12 16 8 11-13-16zM973 869l13 7 7-9-12-4zM1092 863l13-22 7-12-13 28zM1542 793l13-9 6 12-13-13zM1580 788l13 5 7 17-13 8zM279 968l12-42 9 5-13 33zM585 935l12-27 8-28-12 18zM1065 869l13 25 7-8-13-10zM1203 856l13-1 7-27-13 13zM1516 813l13-25 6 0-13 10zM1593 793l13-18 7 3-13 32z"/><path class="k0" d="M267 979l12-11 8-4-12 11zM532 943l12 1 8-22-12-4zM1072 876l13 10 7-23-12 11zM1561 796l13 15 6-23-12 19zM238 975l12-22 9-13-13 23zM544 944l13-12 8-10-13 0zM946 885l13 6 7-21-13 13z"/><path class="k8" d="M308 917l12 13 8-24-12 25zM390 907l12 10 8-19-12-13zM693 897l13 13 8-17-13 13zM714 893l12-5 8-13-13 8zM734 875l12 24 8 4-13 0zM1151 829l13 14 7-2-13-15zM1250 805l12 37 7-40-13-8zM1269 802l13 19 7 1-13-17zM1367 783l13 20 6 41-12-51zM1464 787l13-35 7-10-13 13zM320 930l12 5 9 3-13-32zM726 888l13 1 7 10-12-24zM1302 804l12 40 7-28-13-31zM1419 803l13 6 6-54-13 40z"/><path class="k17" d="M328 906l13 32 8-16-12 0zM471 893l12 36 8 4-12-32zM673 882l13 33 7-18-12-6zM1033 830l12 16 8 4-13 0zM1445 781l13-1 6 7-13-11zM1503 760l13 53 6-15-12 1zM402 917l12-10 8-2-12-7zM422 905l13 23 8 9-13-17zM666 894l12 4 8 17-13-33zM1144 813l13 28 7 2-13-14z"/><path class="k6" d="M349 922l12 14 8-7-12 6zM369 929l13 14 8-36-13-5zM430 920l13 17 8-22-13-20zM451 915l12 9 8-31-12-11zM572 892l13 43 8-37-13-38zM593 898l12-18 8 2-13 21zM1112 829l13 28 7-28-13-1zM1132 829l12-16 7 16-12 24zM1230 827l13 19 7-41-13 10zM1328 805l13 9 6-1-12 9zM1425 795l13-40 7 26-13 10zM259 940l12 27 8 1-12 11zM300 931l12 16 8-17-12-13zM361 936l12 44 9-37-13-14zM463 924l12 32 8-27-12-36zM686 915l12-5 8 0-13-13zM1026 846l12 14 7-14-12-16zM1045 846l13 29 7-6-12-19zM1105 841l13 1 7 15-13-28zM1164 843l13 9 7-8-13-3zM1223 828l13 6 7 12-13-19zM1282 821l13 0 7-17-13 18zM1360 808l13-2 7-3-13-20zM1380 803l13 6 6 11-13 24z"/><path class="k16" d="M410 898l12 7 8 15-12-17zM613 882l12-7 8 9-12-3zM633 884l13-9 7-6-12 2zM1308 785l13 31 7-11-13 6zM605 880l13 14 7-19-12 7zM1458 780l13 16 6-44-13 35z"/><path class="k5" d="M491 933l13 15 8 0-13-45zM993 867l13-1 7-14-13 13zM1210 841l13-13 7-1-13-6zM1347 813l13-5 7-25-13 20zM1406 820l13-17 6-8-12 8zM1522 798l13-10 7 5-13 2zM1619 773l13 10 6 6-13 5zM341 938l12 28 8-30-12-14zM443 937l12-6 8-7-12-9zM565 922l12 12 8 1-13-43zM966 870l13 4 7 2-13-7zM986 876l13-20 7 10-13 1zM1125 857l12-21 7-23-12 16zM1243 846l13-20 6 16-12-37zM1262 842l13-7 7-14-13-19zM1399 820l13-12 7-5-13 17z"/><path class="k18" d="M653 869l13 25 7-12-12-21zM625 875l13 2 8-2-13 9zM646 875l12 0 8 19-13-25zM1497 758l12 32 7 23-13-53z"/><path class="k10" d="M774 930l12-14 8-12-13 0zM814 920l12 9 8-13-13-15zM1386 844l13-24 7 0-13-6zM806 922l13 40 7-33-12-9zM1574 811l13-28 6 10-13-5z"/><path class="k3" d="M794 904l12 18 8-2-13-21zM874 905l12 46 8-17-13-17zM934 896l12-11 7-2-12 25zM1600 810l13-32 6-5-13 21zM786 916l13 21 7-15-12-18z"/><path class="k2" d="M834 916l12 35 8-18-13-19zM866 910l13 39 7 2-12-46z"/><path class="k11" d="M854 933l12-23 8-5-13-21zM886 951l13-11 7 8-12-14z"/><path class="k9" d="M894 934l12 14 8-1-13-25zM826 929l13 13 7 9-12-35zM926 934l13 16 7-65-12 11z"/><path class="k15" d="M914 947l12-13 8-38-13 25z"/><path class="k7" d="M1013 852l13-6 7-16-13 4zM1053 850l12 19 7 7-12-11zM1171 841l13 3 7-4-13-4zM1191 840l12 16 7-15-12 4zM1289 822l13-18 6-19-12 12zM382 943l12 12 8-38-12-10zM483 929l13 20 8-1-13-15zM706 910l12-12 8-10-12 5zM746 899l13 35 7-15-12-16zM1006 866l12-14 8-6-13 6zM1184 844l12-14 7 26-12-16zM1321 816l13 6 7-8-13-9zM1341 814l13 0 6-6-13 5zM1535 788l13 6 7-10-13 9zM1555 784l13 17 6 10-13-15zM1613 778l13 2 6 3-13-10z"/><path class="k20" d="M1484 742l13 16 6 2-13 1z"/><path class="k12" d="M524 980l12-7 8-29-12-1zM906 948l13-10 7-4-12 13z"/><path class="k14" d="M846 951l13-13 7-28-12 23z"/><path class="k18" d="M1438 755l13 31 7-6-13 1zM1477 752l13 9 7-3-13-16z"/><path class="k7" d="M250 953l13 1 8 13-12-27zM312 947l12-5 8-7-12-5zM394 955l12 10 8-58-12 10zM455 931l13 39 7-14-12-32zM1177 852l13-20 6-2-12 14zM1275 835l13 14 7-28-13 0zM1354 814l12 5 7-13-13 2zM488 939l12 18 8 46-12-54zM711 922l12-12 8 6-13-18zM971 867l13 27 7-27-12 7zM1209 848l13 6 7 16-13-15zM1249 848l12 5 7-21-12-6zM1288 849l13 0 7-16-13-12zM1308 833l12 4 7 15-13-8zM1366 819l13 24 7-29-13-8zM1522 808l13 8 7-18-13-10zM1542 798l13-1 6 4-13-7z"/><path class="k5" d="M271 967l12-28 8-13-12 42zM557 932l12 19 8-17-12-12zM979 874l12-7 8-11-13 20zM1058 875l13 6 7 13-13-25zM1334 822l13 8 7-16-13 0zM1548 794l13 7 7 0-13-17zM1587 783l13 14 6-22-13 18zM304 963l12 1 8-22-12 5zM406 965l13-30 8 6-13-34zM590 932l12 19 8-19-13-24zM731 916l13-1 7-2-12-24zM751 913l13-2 7 36-12-13zM1051 884l13 12 7-15-13-6zM1347 830l13 20 6-31-12-5z"/><path class="k8" d="M291 926l13 37 8-16-12-16zM332 935l13 3 8 28-12-28zM698 910l13 12 7-24-12 12zM718 898l13 18 8-27-13-1zM739 889l12 24 8 21-13-35zM999 856l12-1 7-3-12 14zM1137 836l13 4 7 1-13-28zM1196 830l13 18 7 7-13 1zM1256 826l12 6 7 3-13 7zM1393 809l12 11 7-12-13 12zM1412 808l13-18 7 19-13-6zM1471 796l12-2 7-33-13-9zM691 904l12-5 8 23-13-12zM1011 855l13 11 7-11-13-3zM1031 855l13 22 7 7-13-24zM1150 840l13 36 7-27-13-8zM1268 832l13 29 7-12-13-14z"/><path class="k1" d="M353 966l12 1 8 13-12-44zM779 914l12 30 8-7-13-21zM1078 894l13-1 7-19-13 12zM386 984l12-7 8-12-12-10z"/><path class="k0" d="M373 980l13 4 8-29-12-12zM475 956l13-17 8 10-13-20zM496 949l12 54 8-9-12-46zM959 891l12-24 8 7-13-4zM468 970l12-9 8-22-13 17zM569 951l13 7 8-26-13 2zM1091 893l12-29 7-13-12 23zM1327 852l13 19 7-41-13-8zM1580 804l13-7 7 0-13-14z"/><path class="k16" d="M414 907l13 34 8-13-13-23zM618 894l12 10 8-27-13-2zM630 904l13 7 7-23-12-11zM650 888l13 18 7-26-12-5zM1425 790l13 12 6-11-12 18zM1503 773l13 17 6 18-13-18z"/><path class="k6" d="M435 928l12 5 8-2-12 6zM597 908l13 24 8-38-13-14zM1018 852l13 3 7 5-12-14zM1038 860l13 24 7-9-13-29zM1118 842l12-8 7 2-12 21zM1157 841l13 8 7 3-13-9zM1236 834l13 14 7-22-13 20zM1295 821l13 12 6 11-12-40zM1373 806l13 8 7-5-13-6zM1432 809l12-18 7-5-13-31zM1509 790l13 18 7-20-13 25zM1529 788l13 10 6-4-13-6zM1606 775l13 15 7-10-13-2zM263 954l12 15 8-30-12 28zM283 939l13 21 8 3-13-37zM324 942l13 6 8-10-13-3zM345 938l12 18 8 11-12-1zM427 941l12 0 8-8-12-5zM447 933l13-3 8 40-13-39zM610 932l12-6 8-22-12-10zM991 867l13 12 7-24-12 1zM1110 851l13-5 7-12-12 8zM1170 849l13 11 7-28-13 20zM1386 814l13-7 6 13-12-11zM1405 820l13-31 7 1-13 18z"/><path class="k15" d="M516 994l13-12 7-9-12 7zM832 961l12 2 8-30-13 9zM872 957l12 16 8-46-13 22z"/><path class="k9" d="M536 973l13 6 8-47-13 12zM899 940l13-14 7 12-13 10zM549 979l12-16 8-12-12-19zM771 947l13-26 7 23-12-30z"/><path class="k4" d="M577 934l13-2 7-24-12 27zM1098 874l12-23 8-9-13-1zM1216 855l13 15 7-36-13-6zM1314 844l13 8 7-30-13-6zM1568 801l12 3 7-21-13 28zM365 967l13-7 8 24-13-4zM951 886l13-5 7-14-12 24zM1071 881l13 3 7 9-13 1zM1229 870l13-6 7-16-13-14zM1561 801l13-8 6 11-12-3zM1600 797l13 23 6-30-13-15z"/><path class="k18" d="M638 877l12 11 8-13-12 0zM658 875l12 5 8 18-12-4zM1490 761l13 12 6 17-12-32zM1464 773l13 25 6-4-12 2z"/><path class="k17" d="M678 898l13 6 7 6-12 5zM1451 786l13-13 7 23-13-16zM1130 834l13 16 7-10-13-4zM1190 832l12 37 7-21-13-18zM1444 791l13-1 7-17-13 13zM1483 794l13-3 7-18-13-12z"/><path class="k10" d="M759 934l12 13 8-33-13 5zM892 927l12-3 8 2-13 14zM912 926l12-23 8 14-13 21z"/><path class="k2" d="M799 937l12 19 8 6-13-40zM791 944l13 39 7-27-12-19zM852 933l12 32 8-8-13-19z"/><path class="k11" d="M819 962l13-1 7-19-13-13zM939 950l12-64 8 5-13-6zM508 1003l13-30 8 9-13 12z"/><path class="k12" d="M839 942l13-9 7 5-13 13zM859 938l13 19 7-8-13-39zM879 949l13-22 7 13-13 11zM919 938l13-21 7 33-13-16zM529 982l12-27 8 24-13-6zM811 956l13-15 8 20-13 1z"/><path class="k18" d="M670 880l13 30 8-6-13-6z"/><path class="k3" d="M932 917l12-27 7-4-12 64z"/><path class="k7" d="M275 969l12 4 9-13-13-21zM296 960l12-8 8 12-12-1zM357 956l13 1 8 3-13 7zM439 941l12 17 9-28-13 3zM744 915l12-17 8 13-13 2zM1004 879l13 25 7-38-13-11zM1044 877l13 15 7 4-13-12zM1103 864l13 11 7-29-13 5zM1222 854l13-8 7 18-13 6zM1301 849l13 0 6-12-12-4zM1535 816l13-18 7-1-13 1zM1555 797l13 14 6-18-13 8zM287 973l13-29 8 8-12 8zM308 952l12-5 8-5-12 22zM451 958l13-15 8 5-12-18zM472 948l12 14 8-20-12 19zM635 954l12-12 8-11-12-20zM776 902l13 36 7-17-12 0zM1176 871l12 2 7-20-12 7zM1294 849l13-15 7 15-13 0z"/><path class="k5" d="M316 964l12-22 9 6-13-6zM378 960l12 28 8-11-12 7zM764 911l12-9 8 19-13 26zM964 881l13 45 7-32-13-27zM984 894l13-12 7-3-13-12zM1202 869l13 6 7-21-13-6zM1242 864l13-10 6-1-12-5zM1281 861l13-12 7 0-13 0zM1320 837l13 43 7-9-13-19zM1574 793l13 0 6 4-13 7zM1593 797l13 39 7-16-13-23zM411 971l12 1 8-31-12-6zM1057 892l12-7 7-19-12 30zM1156 877l13-5 7-1-13 5zM1215 875l13-43 7 14-13 8zM1274 868l13-21 7 2-13 12zM1314 849l12-11 7 42-13-43zM1587 793l13-7 6 50-13-39z"/><path class="k6" d="M337 948l12 28 8-20-12-18zM419 935l12 6 8 0-12 0zM723 910l13-6 8 11-13 1zM1024 866l13 2 7 9-13-22zM1123 846l13 20 7-16-13-16zM1183 860l12-7 7 16-12-37zM1261 853l13 15 7-7-13-29zM370 957l12 21 8 10-12-28zM492 942l13 31 8 0-13-16zM655 931l13 2 7-7-12-20zM675 926l13 22 8-47-13 9zM756 898l13-4 7 8-12 9zM957 880l13 8 7 38-13-45zM997 882l12 25 8-3-13-25zM1037 868l12 35 8-11-13-15zM1076 866l13 0 7 24-12-6zM1136 866l13 6 7 5-13-27zM1235 846l13-6 7 14-13 10zM1255 854l12-7 7 21-13-15zM1412 828l13-3 6-46-13 10zM1548 798l13-1 7 14-13-14z"/><path class="k0" d="M398 977l13-6 8-36-13 30zM561 963l13 32 8-37-13-7zM582 958l12 2 8-9-12-19zM924 903l13 0 7-13-12 27zM944 890l13-10 7 1-13 5zM1360 850l12 10 7-17-13-24zM513 973l12 17 8-10-12-7zM594 960l13 20 7-13-12-16zM1372 860l13-7 7-38-13 28z"/><path class="k8" d="M460 930l12 18 8 13-12 9zM622 926l13 28 8-43-13-7zM683 910l13-9 7-2-12 5zM1143 850l13 27 7-1-13-36zM328 942l13 29 8 5-12-28zM431 941l12 43 8-26-12-17zM736 904l12-7 8 1-12 17zM1195 853l13 3 7 19-13-6zM1392 815l13 24 7-11-13-21zM1451 818l13-27 6-16-13 15z"/><path class="k4" d="M480 961l12-19 8 15-12-18zM500 957l13 16 8 0-13 30zM541 955l12 12 8-4-12 16zM602 951l12 16 8-41-12 6zM1064 896l12-30 8 18-13-3zM1084 884l12 6 7-26-12 29zM1163 876l13-5 7-11-13-11zM1379 843l13-28 7-8-13 7zM349 976l12 6 9-25-13-1zM390 988l12 3 9-20-13 6zM553 967l13-8 8 36-13-32zM614 967l13-42 8 29-13-28zM1017 904l12-24 8-12-13-2zM1096 890l13-14 7-1-13-11zM1116 875l13-4 7-5-13-20zM1568 811l13 15 6-33-13 0z"/><path class="k1" d="M521 973l12 7 8-25-12 27zM784 921l12 0 8 62-13-39zM796 921l13 23 8-3-13 42zM917 912l13 2 7-11-13 0zM1353 871l13 0 6-11-12-10z"/><path class="k17" d="M643 911l12 20 8-25-13-18zM703 899l13 6 7 5-12 12zM1399 807l13 21 6-39-13 31zM1438 802l13 16 6-28-13 1zM1477 798l13-2 6-5-13 3zM1516 790l13 6 6 20-13-8zM716 905l12 18 8-19-13 6zM1490 796l13-6 6 1-13 0zM1529 796l13 8 6-6-13 18z"/><path class="k16" d="M663 906l12 20 8-16-13-30zM1457 790l13-15 7 23-13-25zM1496 791l13 0 7-1-13-17zM696 901l12-8 8 12-13-6zM1509 791l13 19 7-14-13-6z"/><path class="k13" d="M804 983l13-42 7 0-13 15z"/><path class="k2" d="M824 941l13 40 7-18-12-2zM877 941l12-3 8 14-13 21zM977 926l13 11 7-55-13 12z"/><path class="k12" d="M844 963l13 16 7-14-12-32z"/><path class="k14" d="M864 965l13-24 7 32-12-16zM884 973l13-21 7-28-12 3zM837 981l12 7 8-9-13-16z"/><path class="k10" d="M904 924l13-12 7-9-12 23zM574 995l12 3 8-38-12-2zM817 941l12 40 8 0-13-40z"/><path class="k3" d="M1340 871l13 0 7-21-13-20zM533 980l13-7 7-6-12-12zM937 903l13 1 7-24-13 10zM1333 880l13-12 7 3-13 0z"/><path class="k18" d="M1418 789l13-10 7 23-13-12zM1470 775l13 19 7 2-13 2z"/><path class="k21" d="M857 979l12-23 8-15-13 24z"/><path class="k9" d="M897 952l12-24 8-16-13 12z"/><path class="k18" d="M1431 779l13 30 7 9-13-16z"/><path class="k17" d="M300 944l12 2 8 1-12 5zM320 947l13 17 8 7-13-29zM627 925l13 19 7-2-12 12zM1248 840l12 9 7-2-12 7zM1444 809l13 12 7-30-13 27zM312 946l12 28 9-10-13-17zM680 917l13-20 7 28-12 23zM1022 873l13 2 7-11-13 16zM1042 864l13 51 7-24-13 12zM1260 849l13-26 7 14-13 10zM1280 837l13 4 7-11-13 17zM1437 810l13-14 7 25-13-12z"/><path class="k7" d="M341 971l12 5 8 6-12-6zM688 948l12-23 8-32-12 8zM728 923l13 4 7-30-12 7zM970 888l12-6 8 55-13-11zM1109 876l13-9 7 4-13 4zM1169 872l12 9 7-8-12-2zM1326 838l13 10 7 20-13 12zM1405 839l13 8 7-22-13 3zM619 951l13-11 8 4-13-19zM962 900l13-42 7 24-12 6zM982 882l13 6 7 25-12 24zM1062 891l13 5 7-3-13-8zM1181 881l13 4 7-5-13-7zM1201 880l13 3 7-28-13 1zM1418 847l13-34 6-3-12 15z"/><path class="k4" d="M361 982l13-2 8-2-12-21zM382 978l12 13 8 0-12-3zM443 984l13 9 8-50-13 15zM546 973l12-11 8-3-13 8zM950 904l12-4 8-12-13-8zM1049 903l13-12 7-6-12 7zM1359 857l13 20 7-9-13 3zM1379 868l13-29 6-1-13 15zM1574 827l13 8 7-27-13 18z"/><path class="k1" d="M402 991l13-36 8 17-12-1zM789 938l12 17 8-11-13-23zM1346 868l13-11 7 14-13 0zM394 991l13-12 8-24-13 36zM517 995l13-23 8 18-13 0zM599 981l12 3 8-33-12 29zM761 944l13 13 7-2-12-61zM902 927l13 10 7 21-13-30z"/><path class="k0" d="M423 972l12-13 8 25-12-43zM505 973l12 22 8-5-12-17zM930 914l12-6 8-4-13-1zM1009 907l13-34 7 7-12 24zM1366 871l13-3 6-15-13 7zM1581 826l13-18 6-22-13 7zM456 993l12-9 8-33-12-8zM497 983l12 9 8 3-12-22zM538 990l12-21 8-7-12 11zM578 974l13-5 8 12-13 17zM1002 913l13-28 7-12-13 34z"/><path class="k8" d="M464 943l12 8 8 11-12-14zM748 897l13 47 8-50-13 4zM1208 856l13-1 7-23-13 43zM1267 847l13-10 7 10-13 21zM1307 834l13 27 6-23-12 11zM1425 825l12-15 7-1-13-30zM1522 810l13 3 7-9-13-8zM700 925l13-6 8 10-13-36zM1122 867l13 36 7-38-13 6zM1142 865l12-8 8 8-13 7zM1162 865l12 3 7 13-12-9zM1221 855l13-8 7 3-13-18zM1241 850l13-4 6 3-12-9zM1457 821l13-12 7-22-13 4zM1535 813l13 2 7-17-13 6zM1555 798l13-1 6 30-13-30z"/><path class="k5" d="M484 962l13 21 8-10-13-31zM566 959l12 15 8 24-12-3zM1069 885l13 8 7-27-13 0zM1385 853l13-15 7 1-13-24zM353 976l13 27 8-23-13 2zM374 980l12 1 8 10-12-13zM558 962l13 22 7-10-12-15zM741 927l12-12 8 29-13-47zM942 908l13 2 7-10-12 4zM1082 893l13-7 7-12-13-8zM1320 861l13-10 6-3-13-10zM1339 848l13 25 7-16-13 11z"/><path class="k10" d="M525 990l13 0 8-17-13 7zM889 938l13-11 7 1-12 24zM909 928l13 30 8-44-13-2zM801 955l13 0 8 6-13-17zM882 943l13-7 7-9-13 11z"/><path class="k3" d="M586 998l13-17 8-1-13-20zM607 980l12-29 8-26-13 42zM809 944l13 17 7 20-12-40zM781 955l13 4 7-4-12-17z"/><path class="k6" d="M647 942l13-1 8-8-13-2zM668 933l12-16 8 31-13-22zM769 894l12 61 8-17-13-36zM1029 880l13-16 7 39-12-35zM1089 866l13 8 7 2-13 14zM1129 871l13-6 7 7-13-6zM1149 872l13-7 7 7-13 5zM1188 873l13 7 7-24-13-3zM1287 847l13-17 7 4-13 15zM1542 804l13-6 6-1-13 1zM1561 797l13 30 7-1-13-15zM333 964l12 10 8 2-12-5zM415 955l12 35 8-31-12 13zM435 959l13 51 8-17-13-9zM476 951l13 29 8 3-13-21zM640 944l12-9 8 6-13 1zM660 941l12-11 8-13-12 16zM721 929l12-27 8 25-13-4zM1102 874l13 8 7-15-13 9zM1398 838l13-16 7 25-13-8z"/><path class="k18" d="M708 893l13 36 7-6-12-18zM1503 790l13-8 6 28-13-19zM1477 787l13 47 6-35-13-5z"/><path class="k11" d="M829 981l13-20 7 27-12-7zM862 977l13 13 7-47-13 13z"/><path class="k13" d="M849 988l13-11 7-21-12 23z"/><path class="k12" d="M869 956l13-13 7-5-12 3z"/><path class="k2" d="M990 937l12-24 7-6-12-25zM822 961l12 6 8-6-13 20z"/><path class="k16" d="M1228 832l13 18 7-10-13 6zM1464 791l13-4 6 7-13-19zM1483 794l13 5 7-9-13 6zM1300 830l13 27 7 4-13-27zM1496 799l13 23 7-40-13 8z"/><path class="k9" d="M842 961l12 5 8 11-13 11zM922 958l13-23 7-27-12 6z"/><path class="k18" d="M1516 782l13 20 6 11-13-3z"/><path class="k6" d="M324 974l13 25 8-25-12-10zM1015 885l13 6 7-16-13-2zM1115 882l12 6 8 15-13-36zM1194 885l13 7 7-9-13-3zM1490 834l13 8 6-20-13-23zM399 968l12 19 8-18-12 10zM419 969l13 34 8-9-13-4zM542 968l13-9 8-13-13 23zM644 948l13-15 8 1-13 1zM685 949l13-3 7-40-12-9zM726 936l12 12 8-34-13-12zM1028 891l12 51 8-32-13-35zM1127 888l13 12 7-16-12 19zM1147 884l13 1 7-20-13-8zM1187 883l13 14 7-5-13-7zM1306 858l13 11 7-6-13-6zM1503 842l13-3 6-13-13-4z"/><path class="k7" d="M345 974l12 43 9-14-13-27zM407 979l12-10 8 21-12-35zM550 969l13-23 8 38-13-22zM753 915l13 2 8 40-13-13zM1075 896l13-2 7-8-13 7zM1095 886l13 18 7-22-13-8zM1214 883l13-39 7 3-13 8zM1313 857l13 6 7-12-13 10zM1333 851l12 13 7 9-13-25zM766 917l13 8 7 15-12 17zM1048 910l12-4 8 7-13 2zM1088 894l12 33 8-23-13-18zM1207 892l13-12 7-36-13 39zM1326 863l13 23 6-22-12-13zM1542 834l13 7 6-38-13 12z"/><path class="k0" d="M366 1003l12 14 8-36-12-1zM427 990l13 4 8 16-13-51zM509 992l13-1 8-19-13 23zM571 984l12-21 8 6-13 5zM611 984l13 0 8-44-13 11zM1352 873l13 19 7-15-13-20zM1372 877l13-9 7-29-13 29zM501 991l13 9 8-9-13 1zM624 984l12-9 8-27-12-8z"/><path class="k5" d="M386 981l13-13 8 11-13 12zM530 972l12-4 8 1-12 21zM1055 915l13-2 7-17-13-5zM1135 903l12-19 7-27-12 8zM583 963l13 6 8 3-13-3zM1108 904l12 19 7-35-12-6zM1385 868l13-21 6-22-12 14z"/><path class="k1" d="M448 1010l12-10 8-16-12 9zM915 937l12-4 8 2-13 23zM935 935l13-59 7 34-13-2zM357 1017l13-21 8 21-12-14zM378 1017l12-21 9-28-13 13zM460 1000l13 14 8-2-13-28zM1365 892l13-7 7-17-13 9z"/><path class="k4" d="M468 984l13 28 8-32-13-29zM489 980l12 11 8 1-12-9zM591 969l13 3 7 12-12-3zM955 910l13-23 7-29-13 42zM337 999l12-14 8 32-12-43zM440 994l12 5 8 1-12 10zM522 991l12-21 8-2-12 4zM604 972l12-13 8 25-13 0zM786 940l13 34 8 2-13-17zM927 933l13 10 8-67-13 59zM1068 913l12-16 8-3-13 2zM1345 864l13 31 7-3-13-19z"/><path class="k8" d="M632 940l12 8 8-13-12 9zM652 935l13-1 7-4-12 11zM672 930l13 19 8-52-13 20zM995 888l13-23 7 20-13 28zM1174 868l13 15 7 2-13-4zM1392 839l12-14 7-3-13 16zM1509 822l13 4 7-24-13-20zM1548 815l13-12 7-6-13 1zM1568 797l13 31 6 7-13-8zM563 946l12-9 8 26-12 21zM665 934l12 16 8-1-13-19zM746 914l12 25 8-22-13-2zM968 887l12-2 8-10-13-17zM1286 852l13-11 7 17-13-17zM1522 826l13 7 7 1-13-32zM1561 803l13 38 7-13-13-31z"/><path class="k18" d="M693 897l12 9 8 13-13 6zM975 858l13 17 7 13-13-6zM1273 823l13 29 7-11-13-4zM1450 796l13 3 7 10-13 12zM705 906l13 31 8-1-13-17zM1008 865l12 50 8-24-13-6zM1247 828l13 4 6 4-12 10zM1424 816l13 2 7-5-13 0zM1444 813l13-8 6-6-13-3zM1463 799l13 10 7 2-13-2z"/><path class="k17" d="M713 919l13 17 7-34-12 27zM733 902l13 12 7 1-12 12zM1035 875l13 35 7 5-13-51zM1154 857l13 8 7 3-12-3zM1234 847l13-19 7 18-13 4zM1254 846l12-10 7-13-13 26zM1293 841l13 17 7-1-13-27zM1411 822l13-6 7-3-13 34zM1167 865l13 33 7-15-13-15z"/><path class="k3" d="M774 957l12-17 8 19-13-4zM794 959l13 17 7-21-13 0zM814 955l13 11 7 1-12-6zM895 936l12 9 8-8-13-10zM481 1012l12-39 8 18-12-11zM907 945l13-21 7 9-12 4z"/><path class="k9" d="M834 967l13-4 7 3-12-5zM854 966l13-2 8 26-13-13zM887 973l13-37 7 9-12-9z"/><path class="k11" d="M875 990l12-17 8-37-13 7z"/><path class="k16" d="M1431 813l13 0 6-17-13 14zM1470 809l13 2 7 23-13-47zM1529 802l13 32 6-19-13-2zM948 876l12 43 8-32-13 23zM988 875l12-9 8-1-13 23zM1227 844l13 19 7-35-13 19zM1266 836l13-2 7 18-13-29zM1404 825l13-22 7 13-13 6zM1483 811l13 40 7-9-13-8z"/><path class="k2" d="M807 976l12 28 8-38-13-11zM827 966l12 7 8-10-13 4zM847 963l13 36 7-35-13 2zM867 964l13-4 7 13-12 17z"/><path class="k6" d="M349 985l13 26 8-15-13 21zM534 970l13 6 8-17-13 9zM555 959l12 20 8-42-12 9zM677 950l13 11 8-15-13 3zM698 946l12 24 8-33-13-31zM1180 898l13-16 7 15-13-14zM1200 897l13-2 7-15-13 12zM1220 880l13-2 7-15-13-19zM1496 851l13 7 7-19-13 3zM1516 839l13-4 6-2-13-7zM1535 833l13-6 7 14-13-7zM506 971l12 35 8-9-12 3zM953 919l13 0 7-16-13 16zM1213 895l13-13 7-4-13 2zM1272 878l13-2 7-2-13-40zM1292 874l13 12 7-3-13-42zM1529 835l13 3 6-11-13 6zM1548 827l13 11 7-5-13 8z"/><path class="k4" d="M370 996l12 7 8-7-12 21zM432 1003l12 11 8-15-12-5zM636 975l13 4 8-46-13 15zM1020 915l13-6 7 33-12-51zM1120 923l13-22 7-1-13-12zM362 1011l12 18 8-26-12-7zM403 1004l12 20 9 2-13-39zM465 998l12 4 8-51-12 63zM567 979l13-14 8 3-13-31zM649 979l13-14 7-25-12-7zM730 967l13 9 8-23-13-5zM1073 921l13 7 7-19-13-12z"/><path class="k5" d="M390 996l13 8 8-17-12-19zM411 987l13 39 8-23-13-34zM493 973l13-2 8 29-13-9zM758 939l13-5 8-9-13-8zM779 925l12 19 8 30-13-34zM920 924l13 35 7-16-13-10zM960 919l13-16 7-18-12 2zM1060 906l13 15 7-24-12 16zM1140 900l13 2 7-17-13-1zM382 1003l13 6 8-5-13-8zM526 997l13-24 8 3-13-6zM710 970l13-25 7 22-12-30zM751 953l12-29 8 10-13 5zM771 934l13 0 7 10-12-19zM913 927l12 3 8 29-13-35zM1093 909l13 26 7 0-13-8zM1153 902l13-23 7 9-13-3zM1312 883l13 17 7 8-13-39z"/><path class="k0" d="M452 999l13-1 8 16-13-14zM514 1000l12-3 8-27-12 21zM1040 942l13-30 7-6-12 4zM1100 927l13 8 7-12-12-19zM1378 885l13-29 7-9-13 21zM791 944l13 46 8 0-13-16zM1113 935l13-14 7-20-13 22z"/><path class="k10" d="M473 1014l12-63 8 22-12 39zM799 974l13 16 7 14-12-28zM933 959l13-20 7-20-13 24zM1352 905l12-47 7-2-13 39z"/><path class="k17" d="M575 937l13 31 8 1-13-6zM1299 841l13 42 7-14-13-11zM973 903l13-4 7-40-13 26zM1013 892l13 16 7 1-13 6z"/><path class="k7" d="M596 969l12-4 8-6-12 13zM616 959l13 4 7 12-12 9zM738 948l13 5 7-14-12-25zM1080 897l13 12 7 18-12-33zM1319 869l13 39 7-22-13-23zM1555 841l13-8 6 8-13-38zM547 976l12 0 8 3-12-20zM588 968l12 16 8-19-12 4zM608 965l13 27 8-29-13-4zM629 963l12 16 8 0-13-4zM690 961l12 2 8 7-12-24zM1033 909l13 22 7-19-13 30zM1053 912l13 22 7-13-13-15zM1133 901l13-24 7 25-13-2zM1253 883l12 0 7-5-12-46zM1371 856l13-15 7 15-13 29zM1509 858l13-7 7-16-13 4z"/><path class="k8" d="M657 933l12 7 8 10-12-16zM718 937l12 30 8-19-12-12zM1160 885l13 3 7 10-13-33zM1240 863l13 20 7-51-13-4zM1398 847l13-23 6-21-13 22zM485 951l13 37 8-17-13 2zM669 940l13 19 8 2-13-11zM1173 888l13-6 7 0-13 16zM1193 882l13 13 7 0-13 2zM1233 878l13 3 7 2-13-20zM1391 856l13 7 7-39-13 23z"/><path class="k11" d="M819 1004l13-11 7-20-12-7z"/><path class="k9" d="M839 973l13 0 8 26-13-36zM812 990l12 13 8-10-13 11z"/><path class="k13" d="M860 999l12-23 8-16-13 4z"/><path class="k2" d="M880 960l12 15 8-39-13 37zM852 973l13 9 7-6-12 23zM872 976l13 15 7-16-12-15zM892 975l13 0 8-48-13 9z"/><path class="k1" d="M900 936l13-9 7-3-13 21zM940 943l13-24 7 0-12-43zM1339 886l13 19 6-10-13-31zM424 1026l12 2 8-14-12-11zM444 1014l13 12 8-28-13 1z"/><path class="k16" d="M980 885l13-26 7 7-12 9z"/><path class="k18" d="M1000 866l13 26 7 23-12-50zM1457 805l13 3 6 1-13-10zM1411 824l13 1 6-16-13-6zM1470 808l13-1 6 10-13-8z"/><path class="k18" d="M1260 832l12 46 7-44-13 2zM1279 834l13 40 7-33-13 11zM1437 818l13-18 7 5-13 8zM1476 809l13 8 7 34-13-40zM1489 817l13 36 7 5-13-7z"/><path class="k3" d="M1358 895l13-39 7 29-13 7zM1332 908l13 20 7-23-13-19z"/><path class="k20" d="M1417 803l13 6 7 9-13-2zM993 859l13 28 7 5-13-26zM1430 809l13 15 7-24-13 18z"/><path class="k12" d="M832 993l13 8 7-28-13 0z"/><path class="k19" d="M1450 800l13 27 7-19-13-3z"/><path class="k0" d="M374 1029l13-33 8 13-13-6zM518 1006l13-37 8 4-13 24zM743 976l13-19 7-33-12 29zM1325 900l13 21 7 7-13-20zM407 1020l13 5 8-23-13 22zM1358 895l13 11 6-21-13-27z"/><path class="k1" d="M395 1009l12 11 8 4-12-20zM415 1024l13-22 8 26-12-2zM436 1028l13 2 8-4-13-12zM457 1026l12 10 8-34-12-4zM449 1030l12 10 8-4-12-10zM469 1036l13-31 8-9-13 6z"/><path class="k4" d="M477 1002l13-6 8-8-13-37zM621 992l12-25 8 12-12-16zM1066 934l13-9 7 3-13-7zM1086 928l13 5 7 2-13-26zM613 997l13-4 7-26-12 25zM695 986l12 8 8-37-13 6zM776 953l13 0 7 25-12-44zM1099 933l13-3 7 9-13-4zM1119 939l13 30 7-66-13 18zM1259 905l12-19 7-21-13 18z"/><path class="k5" d="M498 988l12-16 8 34-12-35zM600 984l13 13 8-5-13-27zM641 979l13-18 8 4-13 14zM784 934l12 44 8 12-13-46zM1046 931l13-22 7 25-13-22zM1126 921l13-18 7-26-13 24zM490 996l12-4 8-20-12 16zM674 977l13 5 8 4-13-27zM756 957l13-2 7-2-13-29zM1079 925l13 13 7-5-13-5zM1318 892l13 21 7 8-13-21zM1377 885l13-24 7-8-13-12zM1535 863l13 8 7-19-13-14z"/><path class="k8" d="M539 973l12 5 8-2-12 0zM966 919l12-2 8-18-13 4zM1226 882l13-38 7 37-13-3zM1404 863l13-5 7-33-13-1zM510 972l13 1 8-4-13 37zM551 978l13 16 8-2-13-16zM1019 917l13 31 7-61-13 21zM1278 865l13 7 7-20-13 24z"/><path class="k7" d="M559 976l13 16 8-27-13 14zM662 965l12 12 8-18-13-19zM702 963l13-6 8-12-13 25zM925 930l13 12 8-3-13 20zM946 939l12-23 8 3-13 0zM1305 886l13 6 7 8-13-17zM1364 858l13 27 7-44-13 15zM1522 851l13 12 7-25-13-3zM387 996l12 38 8-14-12-11zM428 1002l12 41 9-13-13-2zM572 992l13 3 7-12-12-18zM592 983l13 14 8 0-13-13zM633 967l13 23 8-29-13 18zM735 957l13 9 8-9-13 19zM938 942l13-8 7-18-12 23zM1199 904l13-10 7 10-13-9zM1219 904l13-1 7-59-13 38z"/><path class="k6" d="M580 965l12 18 8 1-12-16zM682 959l13 27 7-23-12-2zM723 945l12 12 8 19-13-9zM763 924l13 29 8-19-13 0zM1026 908l13-21 7 44-13-22zM1206 895l13 9 7-22-13 13zM1246 881l13 24 6-22-12 0zM1265 883l13-18 7 11-13 2zM1285 876l13-24 7 34-13-12zM1502 853l13 1 7-3-13 7zM1542 838l13 14 6-14-13-11zM654 961l13 4 7 12-12-12zM715 957l13 18 7-18-12-12zM1059 909l13 6 7 10-13 9zM1139 903l13-7 7 6-13-25zM1159 902l13 18 7-18-13-23zM1179 902l13 5 7-3-13-22zM1515 854l13 1 7 8-13-12z"/><path class="k2" d="M804 990l13 4 7 9-12-13zM1345 928l13-33 6-37-12 47zM898 978l13 1 7-10-13 6z"/><path class="k12" d="M824 1003l13-15 8 13-13-8zM845 1001l12-2 8-17-13-9zM857 999l13-14 8 15-13-18zM878 1000l12 5 8-27-13 13z"/><path class="k9" d="M865 982l13 18 7-9-13-15zM817 994l12-19 8 13-13 15zM837 988l13 41 7-30-12 2z"/><path class="k11" d="M885 991l13-13 7-3-13 0z"/><path class="k10" d="M905 975l13-6 7-39-12-3z"/><path class="k16" d="M986 899l13-14 7 2-13-28zM1006 887l13 30 7-9-13-16zM1039 887l13 41 7-19-13 22zM1456 844l13-13 7-18-13 14zM1496 839l13 32 6-17-13-1z"/><path class="k3" d="M1106 935l13 4 7-18-13 14zM796 978l13 2 8 14-13-4zM918 969l13-11 7-16-13-12zM1338 921l13 2 7-28-13 33z"/><path class="k17" d="M1146 877l13 25 7-23-13 23zM1166 879l13 23 7-20-13 6zM1186 882l13 22 7-9-13-13zM1384 841l13 12 7 10-13-7zM531 969l12 16 8-7-12-5zM958 916l13-4 7 5-12 2zM978 917l13 19 8-51-13 14zM1298 852l13 48 7-8-13-6zM1397 853l13 2 7 3-13 5zM1417 858l13-19 7 3-13-17z"/><path class="k18" d="M1424 825l13 17 6-18-13-15zM1443 824l13 20 7-17-13-27zM999 885l12 26 8 6-13-30z"/><path class="k18" d="M1463 827l13-14 7-6-13 1zM1239 844l13 54 7 7-13-24zM1437 842l13 14 6-12-13-20z"/><path class="k20" d="M1483 807l13 32 6 14-13-36zM1476 813l13 26 7 0-13-32z"/><path class="k3" d="M399 1034l13 21 8-30-13-5zM1351 923l13-2 7-15-13-11zM412 1055l12 0 8 19-12-49zM802 980l12 24 8-13-13-11zM1125 964l13-21 7 2-13 24zM1364 921l13-1 7-24-13 10z"/><path class="k4" d="M420 1025l12 49 8-31-12-41zM605 997l13 12 8-16-13 4zM626 993l12 3 8-6-13-23zM646 990l13 5 8-30-13-4zM789 953l13 27 7 0-13-2zM931 958l13 3 7-27-13 8zM474 1030l12 4 8-52-12 23zM597 1013l13-15 8 11-13-12zM618 1009l12 18 8-31-12-3zM638 996l13-28 8 27-13-5zM659 995l12-28 8 8-12-10zM720 987l13 3 7 13-12-28zM1085 950l12 4 8-25-13 9zM1145 945l13-24 7-5-13-20zM1344 905l13-14 7 30-13 2z"/><path class="k10" d="M440 1043l13 7 8-10-12-10zM809 980l13 11 7-16-12 19zM829 975l13 41 8 13-13-41zM911 979l12-10 8-11-13 11zM1132 969l13-24 7-49-13 7zM822 991l13 11 7 14-13-41zM903 983l13 25 7-39-12 10z"/><path class="k1" d="M461 1040l13-10 8-25-13 31zM1032 948l12-17 8-3-13-41zM453 1050l13-34 8 14-13 10zM740 1003l13-10 8-43-13 16zM1324 922l13 0 7-17-13 8z"/><path class="k5" d="M482 1005l12-23 8 10-12 4zM687 982l13 3 7 9-12-8zM728 975l12 28 8-37-13-9zM769 955l12 17 8-19-13 0zM1092 938l13-9 7 1-13 3zM1112 930l13 34 7 5-13-30zM1232 903l13 0 7-5-13-54zM1311 900l13 22 7-9-13-21zM700 985l12 15 8-13-13 7zM1064 941l13 15 8-6-13-35zM1205 922l13-12 7-31-13 15zM1384 896l13 5 6-29-13-11zM1522 873l13 10 7-16-14-12z"/><path class="k6" d="M502 992l13 0 8-19-13-1zM667 965l12 10 8 7-13-5zM1072 915l13 35 7-12-13-13zM1271 886l13-4 7-10-13-7zM1509 871l13 2 6-18-13-1zM1528 855l14 12 6 4-13-8zM984 951l13-35 7 2-13 18zM1165 916l13 6 7-13-13 11zM1185 909l13 25 7-12-13-15zM1284 882l13 21 7-14-13-17z"/><path class="k16" d="M523 973l12 18 8-6-12-16zM1410 855l13-18 7 2-13 19zM1450 856l13-17 6-8-13 13zM964 925l13 21 7 5-13-39zM1004 918l13 11 7-18-13 0zM1443 864l13-20 7-5-13 17z"/><path class="k8" d="M543 985l13 21 8-12-13-16zM951 934l13-9 7-13-13 4zM991 936l13-18 7-7-12-26zM1152 896l13 20 7 4-13-18zM1291 872l13 17 7 11-13-48zM494 982l13-2 8 12-13 0zM515 992l12-24 8 23-12-18zM535 991l13 16 8-1-13-21zM1225 879l13 47 7-23-13 0zM1403 872l14 8 6-43-13 18z"/><path class="k7" d="M564 994l13 40 8-39-13-3zM585 995l12 18 8-16-13-14zM748 966l13-16 8 5-13 2zM1052 928l12 13 8-26-13-6zM1172 920l13-11 7-2-13-5zM1192 907l13 15 7-28-13 10zM1212 894l13-15 7 24-13 1zM1252 898l13-1 6-11-12 19zM556 1006l13-9 8 37-13-40zM679 975l13-12 8 22-13-3zM761 950l13 56 7-34-12-17zM944 961l12-36 8 0-13 9zM1044 931l13 4 7 6-12-13zM1105 929l13-19 7 54-13-34zM1245 903l13 2 7-8-13 1zM1265 897l12 16 7-31-13 4zM1304 889l13 44 7-11-13-22z"/><path class="k0" d="M707 994l13-7 8-12-13-18zM1331 913l13-8 7 18-13-2zM1371 906l13-10 6-35-13 24zM577 1034l12-17 8-4-12-18zM781 972l13 1 8 7-13-27zM923 969l13-10 8 2-13-3z"/><path class="k21" d="M850 1029l13-21 7-23-13 14z"/><path class="k2" d="M870 985l13 10 7 10-12-5z"/><path class="k12" d="M890 1005l13-22 8-4-13-1zM863 1008l12-23 8 10-13-10z"/><path class="k18" d="M971 912l13 39 7-15-13-19zM1489 839l13 13 7 19-13-32zM1482 847l14 2 6 3-13-13z"/><path class="k17" d="M1011 911l13 0 8 37-13-31zM1390 861l13 11 7-17-13-2zM1024 911l13 24 7-4-12 17zM1502 852l13 27 7-6-13-2z"/><path class="k18" d="M1430 839l13 25 7-8-13-14zM1469 831l13 16 7-8-13-26zM1463 839l13 5 6 3-13-16z"/><path class="k9" d="M432 1074l13-19 8-5-13-7zM883 995l13-14 7 2-13 22z"/><path class="k11" d="M842 1016l13-18 8 10-13 21z"/><path class="k20" d="M1423 837l13 22 7 5-13-25z"/><path class="k1" d="M424 1055l13 3 8-3-13 19zM445 1055l12-9 9-30-13 34zM630 1027l13-26 8-33-13 28zM1337 922l13 22 7-53-13 14zM437 1058l12 8 8-20-12 9zM827 991l13 33 7-10-12-12zM929 992l12 11 8-54-13 10zM1290 951l13 3 7-22-13-29zM1310 932l13 26 7-42-13 17z"/><path class="k5" d="M466 1016l12 3 8 15-12-4zM733 990l12 14 8-11-13 10zM936 959l13-10 7-24-12 36zM1277 913l13 38 7-48-13-21zM602 1009l13 29 7-12-12-28zM643 1001l13 12 8-49-13 4zM725 998l13-19 7 25-12-14zM1150 933l13 13 8-30-13 5zM1211 925l13 20 7-27-13-8zM1231 918l13 13 7-3-13-2zM1390 911l13 14 7-32-13 8z"/><path class="k4" d="M486 1034l13-22 8-32-13 2zM589 1017l13-8 8-11-13 15zM712 1000l13-2 8-8-13-3zM1077 956l13 18 7-20-12-4zM1097 954l13-22 8-22-13 19zM1138 943l12-10 8-12-13 24zM1198 934l13-9 7-15-13 12zM1238 926l13 2 7-23-13-2zM457 1046l13-17 8-10-12-3zM1251 928l13 13 7-16-13-20zM1271 925l13 24 6 2-13-38z"/><path class="k16" d="M507 980l12 3 8-15-12 24zM956 925l13 10 8 11-13-21zM1496 849l13 8 6 22-13-27zM519 983l13-12 8 5-13-8zM969 935l13-6 7 15-12 2zM1010 919l12 2 8 14-13-6zM1489 858l13 25 7-26-13-8z"/><path class="k18" d="M527 968l13 8 8 31-13-16zM997 916l13 3 7 10-13-11zM1436 859l13 1 7-16-13 20zM540 976l13 23 8 19-13-11zM1449 860l13-7 7 5-13-14zM1469 858l13-1 7 1-13-14z"/><path class="k6" d="M548 1007l13 11 8-21-13 9zM569 997l12 8 8 12-12 17zM651 968l13-4 7 3-12 28zM671 967l13-4 8 0-13 12zM692 963l13 33 7 4-12-15zM1118 910l12 56 8-23-13 21zM1158 921l13-5 7 6-13-6zM499 1012l12-5 8-24-12-3z"/><path class="k7" d="M610 998l12 28 8 1-12-18zM1037 935l13 10 7-10-13-4zM1057 935l13 7 7 14-13-15zM1178 922l13 0 7 12-13-25zM1218 910l13 8 7 8-13-47zM1258 905l13 20 6-12-12-16zM1297 903l13 29 7 1-13-44zM1357 891l13 6 7 23-13 1zM1397 901l13-8 7-13-14-8zM1515 879l13 16 7-12-13-10zM478 1019l13 23 8-30-13 22zM561 1018l12 3 8-16-12-8zM581 1005l13 40 8-36-13 8zM1050 945l13 9 7-12-13-7zM1070 942l13 7 7 25-13-18zM1110 932l13 16 7 18-12-56zM1191 922l13 22 7-19-13 9zM1370 897l13 39 7-25-13 9z"/><path class="k0" d="M753 993l13 18 8-5-13-56zM794 973l13 7 7 24-12-24zM1377 920l13-9 7-10-13-5zM622 1026l13-15 8-10-13 26zM705 996l12-20 8 22-13 2zM745 1004l13 11 8-4-13-18zM786 993l13-30 8 17-13-7zM807 980l12 11 8 0-13 13zM908 978l13 19 8-5-13 16zM1090 974l13-32 7-10-13 22zM1330 916l13 38 7-10-13-22z"/><path class="k3" d="M774 1006l12-13 8-20-13-1zM896 981l12-3 8 30-13-25zM1317 933l13-17 7 6-13 0zM766 1011l13 10 7-28-12 13zM868 989l13 2 7 1-13-7zM888 992l13 3 7-17-12 3zM1130 966l13 12 7-45-12 10z"/><path class="k10" d="M814 1004l13-13 8 11-13-11zM875 985l13 7 8-11-13 14z"/><path class="k2" d="M835 1002l12 12 8-16-13 18zM855 998l13-9 7-4-12 23zM916 1008l13-16 7-33-13 10zM847 1014l13 2 8-27-13 9z"/><path class="k8" d="M977 946l12-2 8-28-13 35zM664 964l12 21 8-22-13 4zM684 963l13 44 8-11-13-33zM949 949l13 39 7-53-13-10zM989 944l13-9 8-16-13-3zM1030 935l13 3 7 7-13-10zM1171 916l12 17 8-11-13 0zM1410 893l13-2 7-9-13-2z"/><path class="k17" d="M1017 929l13 6 7 0-13-24zM1417 880l13 2 6-23-13-22zM1430 882l13-13 6-9-13-1zM1509 857l13 34 6 4-13-16z"/><path class="k18" d="M1456 844l13 14 7-14-13-5zM1476 844l13 14 7-9-14-2z"/><path class="k9" d="M1350 944l13-46 7-1-13-6z"/><path class="k1" d="M449 1066l13-31 8-6-13 17zM901 995l13 10 7-8-13-19zM1284 949l13-1 6 6-13-3zM1196 974l13 11 8-27-13-14zM1356 944l13 20 7-44-13-22z"/><path class="k4" d="M470 1029l13-10 8 23-13-23zM656 1013l12-17 8-11-12-21zM1163 946l13 15 7-28-12-17zM1204 944l13 14 7-13-13-20zM1244 931l13 16 7-6-13-13zM607 1028l12 12 8-15-12 13zM627 1025l13-1 8 4-13-17zM709 1013l13-25 8-3-13-9zM750 1001l13 0 8 27-13-13z"/><path class="k5" d="M491 1042l12-63 8 28-12 5zM635 1011l13 17 8-15-13-12zM962 988l13-26 7-33-13 6zM1123 948l13-12 7 42-13-12zM1403 925l13-32 7-2-13 2zM462 1035l12-2 9-14-13 10zM586 1033l13-36 8 31-13 17zM1237 932l13-8 7 23-13-16zM1376 920l13 8 7-10-13 18zM1396 918l13 4 7-29-13 32z"/><path class="k8" d="M511 1007l13-29 8-7-13 12zM1043 938l13 17 7-1-13-9zM975 962l13 13 7-8-13-38zM1116 931l13-7 7 12-13 12zM1495 887l14-6 6 7-13-5z"/><path class="k18" d="M532 971l13-2 8 30-13-23zM524 978l13 15 8-24-13 2zM545 969l12 18 8 8-12 4z"/><path class="k17" d="M553 999l12-4 8 26-12-3zM1002 935l13 4 7-18-12-2zM1423 891l13 14 7-36-13 13zM565 995l13-17 8 55-13-12zM1015 939l13-6 7 3-13-15zM1035 936l13 6 8 13-13-17zM1096 921l13 21 7-11-13 11zM1416 893l13 12 7 0-13-14zM1476 876l13 7 6 4-13-30z"/><path class="k7" d="M573 1021l13 12 8 12-13-40zM676 985l13 42 8-20-13-44zM799 963l13 28 7 0-12-11zM1063 954l13 7 7-12-13-7zM1083 949l13-28 7 21-13 32zM1103 942l13-11 7 17-13-16zM1183 933l13 41 8-30-13-22zM1363 898l13 22 7 16-13-39zM668 996l13 18 8 13-13-42zM995 967l13 2 7-30-13-4zM1076 961l13 8 7-48-13 28zM1136 936l13 27 7 10-13 5zM1456 908l13-11 7-21-14-23z"/><path class="k0" d="M594 1045l13-17 8 10-13-29zM615 1038l12-13 8-14-13 15zM697 1007l12 6 8-37-12 20zM819 991l13 33 8 0-13-33zM1224 945l13-13 7-1-13-13zM1264 941l13 3 7 5-13-24zM1383 936l13-18 7 7-13-14zM648 1028l13-19 7-13-12 17zM689 1027l13 12 7-26-12-6zM812 991l13 6 7 27-13-33zM1176 961l13 1 7 12-13-41zM1217 958l13-15 7-11-13 13zM1257 947l13 4 7-7-13-3zM1277 944l13 20 7-16-13 1zM1297 948l13 18 7 31-14-43z"/><path class="k6" d="M717 976l13 9 8-6-13 19zM738 979l12 22 8 14-13-11zM1502 883l13 5 7 3-13-34zM483 1019l12-13 8-27-12 63zM730 985l13 16 7 0-12-22zM1056 955l12-8 8 14-13-7zM1436 905l13 1 7 2-13-39z"/><path class="k3" d="M758 1015l13 13 8-7-13-10zM881 991l12 17 8-13-13-3zM921 997l13 16 7-10-12-11zM1143 978l13-5 7-27-13-13zM1303 954l14 43 6-39-13-26zM1343 954l13-10 7-46-13 46zM893 1008l13 13 8-16-13-10zM914 1005l13 4 7 4-13-16zM1156 973l13-10 7-2-13-15zM1336 953l14-14 6 5-13 10z"/><path class="k10" d="M779 1021l12 13 8-71-13 30zM941 1003l13 26 8-41-13-39zM771 1028l13 9 7-3-12-13zM934 1013l13-17 7 33-13-26z"/><path class="k2" d="M840 1024l13-1 7-7-13-2zM860 1016l13 3 8-28-13-2zM791 1034l13 10 8-53-13-28zM832 1024l13-15 8 14-13 1zM853 1023l12-18 8 14-13-3zM873 1019l13 6 7-17-12-17z"/><path class="k16" d="M982 929l13 38 7-32-13 9zM1022 921l13 15 8 2-13-3zM1443 869l13 39 6-55-13 7z"/><path class="k9" d="M1323 958l13-5 7 1-13-38zM954 1029l13-31 8-36-13 26z"/><path class="k18" d="M1462 853l14 23 6-19-13 1zM1482 857l13 30 7-4-13-25zM503 979l13 9 8-10-13 29z"/><path class="k12" d="M1317 997l13-41 6-3-13 5z"/><path class="k7" d="M474 1033l13 9 8-36-12 13zM661 1009l12-25 8 30-13-18zM988 975l12-11 8 5-13-2zM1089 969l13-25 7-2-13-21zM1250 924l13 3 7 24-13-4zM1409 922l13-8 7-9-13-12zM1449 906l13-18 7 9-13 11zM487 1042l13 10 8-32-13-14zM632 1018l13 16 8-14-13 4zM653 1020l12-16 8-20-12 25zM735 999l13 7 8 15-13-20zM1263 927l13 10 7 5-13 9z"/><path class="k17" d="M495 1006l13 14 8-32-13-9zM599 997l12-8 8 51-12-12zM1129 924l13 18 7 21-13-27zM570 1007l13 9 8 9-13-47zM611 989l13 19 8 10-13 22zM1021 950l13 9 7-22-13-4zM1122 927l13 22 7-7-13-18zM1462 888l13 9 7-12-13 12zM1482 885l13 18 7-2-13-18z"/><path class="k18" d="M516 988l13-5 8 10-13-15zM537 993l12 0 8-6-12-18zM557 987l13 20 8-29-13 17zM578 978l13 47 8-28-13 36zM549 993l13 0 8 14-13-20z"/><path class="k0" d="M619 1040l13-22 8 6-13 1zM763 1001l13 23 8 13-13-9zM825 997l12 34 8-22-13 15zM947 996l13 8 7-6-13 31zM1149 963l13 12 7-12-13 10zM1350 939l13 9 6 16-13-20zM756 1021l12 1 8 2-13-23zM817 1012l13 29 7-10-12-34zM858 1002l13 17 7-7-13-7zM960 1004l13-6 7-45-13 45zM1162 975l13-22 7 2-13 8zM1243 959l13 4 7-36-13-3zM1363 948l13 11 7-23-14 28z"/><path class="k4" d="M640 1024l13-4 8-11-13 19zM967 998l13-45 8 22-13-13zM1169 963l13-8 7 7-13-1zM1189 962l13 17 7 6-13-11zM1230 943l13 16 7-35-13 8zM1270 951l13-9 7 22-13-20zM694 1026l13-13 7-29-12 55zM1222 949l14 27 7-17-13-16z"/><path class="k5" d="M681 1014l13 12 8 13-13-12zM743 1001l13 20 7-20-13 0zM1389 928l13-13 7 7-13-4zM1182 955l13 1 7 23-13-17zM1283 942l13 2 7 22-13-2zM1383 936l13-23 6 2-13 13zM1442 930l13-25 7-17-13 18z"/><path class="k1" d="M702 1039l12-55 8 4-13 25zM845 1009l13-7 7 3-12 18zM865 1005l13 7 8 13-13-6zM1290 964l13 2 7 0-13-18zM776 1024l13 44 8-13-13-18zM878 1012l13 15 8 17-13-19zM1202 979l13 11 7-41-13 36zM1303 966l13-20 7 33-13-13z"/><path class="k6" d="M722 988l13 11 8 2-13-16zM1008 969l13-19 7-17-13 6zM1469 897l13-12 7-2-13-7zM591 1025l12 7 8-43-12 8zM1000 964l13 9 8-23-13 19zM1081 960l13 9 8-25-13 25zM1142 942l13 21 7 12-13-12zM1402 915l14 10 6-11-13 8zM1422 914l14 15 6 1-13-25z"/><path class="k2" d="M784 1037l13 18 7-11-13-10zM804 1044l13-32 8-15-13-6zM797 1055l12-31 8-12-13 32z"/><path class="k10" d="M886 1025l13 19 7-23-13-13zM906 1021l13 4 8-16-13-4zM1369 964l14-28 6-8-13-8zM837 1031l13-19 8-10-13 7zM919 1025l13-4 7-4-12-8zM1323 979l13-10 7-9-13-4z"/><path class="k3" d="M927 1009l12 8 8-21-13 17zM1209 985l13-36 8-6-13 15zM1310 966l13 13 7-23-13 41zM1330 956l13 4 7-21-14 14zM939 1017l13-24 8 11-13-8zM1343 960l13 1 7-13-13-9z"/><path class="k16" d="M1028 933l13 4 7 5-13-6zM1048 942l13 15 7-10-12 8zM1041 937l13 35 7-15-13-15z"/><path class="k8" d="M1068 947l13 13 8 9-13-8zM1109 942l13-15 7-3-13 7zM1429 905l13 25 7-24-13-1zM1489 883l13 18 7-20-14 6zM508 1020l13-4 8-33-13 5zM673 984l13 5 8 37-13-12zM714 984l13-9 8 24-13-11zM980 953l13 29 7-18-12 11zM1061 957l13 5 7-2-13-13zM1102 944l13 26 7-43-13 15z"/><path class="k18" d="M529 983l12 41 8-31-12 0z"/><path class="k12" d="M899 1044l13 8 7-27-13-4z"/><path class="k7" d="M500 1052l12-18 9-18-13 4zM603 1032l13-22 8-2-13-19zM707 1013l12-9 8-29-13 9zM748 1006l13 11 7 5-12-1zM1115 970l13-11 7-10-13-22zM1155 963l13-7 7-3-13 22zM1175 953l13 18 7-15-13-1zM1195 956l13 18 7 16-13-11zM1276 937l13 51 7-44-13-2zM1416 925l13 4 7 0-14-15zM658 1021l12 3 8-6-13-14zM678 1018l13 16 8-49-13 4zM740 1009l13-22 8 30-13-11zM761 1017l12 1 8 22-13-18zM1006 983l13 11 7 2-13-23zM1409 930l13-3 7 2-13-4zM1429 929l13-33 7 49-13-16z"/><path class="k16" d="M521 1016l12 19 8-11-12-41zM727 975l13 34 8-3-13-7z"/><path class="k17" d="M541 1024l13-31 8 0-13 0zM1034 959l13 11 7 2-13-35zM699 985l13 1 7 18-12 9z"/><path class="k18" d="M562 993l13 37 8-14-13-9z"/><path class="k8" d="M583 1016l12-2 8 18-12-7zM686 989l13-4 8 28-13 13zM1074 962l13 18 7-11-13-9zM1396 913l13 17 7-5-14-10zM1455 905l14 11 6-19-13-9zM1475 897l13 25 7-19-13-18zM512 1034l13-11 8 12-12-19zM533 1035l13-14 8-28-13 31zM575 1030l12 0 8-16-12 2zM595 1014l13 44 8-48-13 22zM616 1010l13 26 8-20-13-8zM1047 970l13-4 7 15-13-9z"/><path class="k6" d="M624 1008l13 8 8 18-13-16zM665 1004l13 14 8-29-13-5zM1013 973l13 23 8-37-13-9zM1054 972l13 9 7-19-13-5zM1094 969l13 22 8-21-13-26zM1135 949l13 0 7 14-13-21zM637 1016l13 37 8-32-13 13zM719 1004l13 0 8 5-13-34zM1067 981l13 14 7-15-13-18zM1087 980l13 39 7-28-13-22zM1128 959l13-2 7-8-13 0zM1148 949l13 43 7-36-13 7zM1168 956l13 30 7-15-13-18zM1469 916l13 12 6-6-13-25z"/><path class="k5" d="M645 1034l13-13 7-17-12 16zM993 982l13 1 7-10-13-9zM1296 944l13 10 7-8-13 20zM1436 929l13 16 6-40-13 25zM986 989l13-5 7-1-13-1zM1026 996l13 0 8-26-13-11zM1107 991l13 15 8-47-13 11zM1188 971l13 13 7-10-13-18zM1309 954l13-4 7-9-13 5zM1329 941l13 15 7 23-13-10zM1389 933l13 9 7-12-13-17z"/><path class="k0" d="M768 1022l13 18 8 28-13-44zM850 1012l13 31 8-24-13-17zM1236 976l13-7 7-6-13-4zM1256 963l13 5 7-31-13-10zM1269 968l13 22 7-2-13-51zM1369 954l13-4 7-17-13 26z"/><path class="k2" d="M789 1068l13-24 7-20-12 31zM904 1044l13 9 7 20-12-21z"/><path class="k1" d="M809 1024l13 14 8 3-13-29zM871 1019l13 6 7 2-13-15zM1215 990l13-23 8 9-14-27zM1356 961l13-7 7 5-13-11zM1376 959l13-26 7-20-13 23zM781 1040l13 24 8-20-13 24zM843 1034l13 8 7 1-13-31zM1289 988l13-13 7-21-13-10z"/><path class="k3" d="M830 1041l13-7 7-22-13 19zM932 1021l13-12 7-16-13 24zM1336 969l13 10 7-18-13-1zM802 1044l13 2 7-8-13-14zM822 1038l13-13 8 9-13 7zM884 1025l13-16 7 35-13-17zM965 1032l13-21 8-22-13 9z"/><path class="k10" d="M891 1027l13 17 8 8-13-8zM863 1043l13-12 8-6-13-6zM1349 979l13 2 7-27-13 7z"/><path class="k9" d="M912 1052l12 21 8-52-13 4z"/><path class="k4" d="M952 993l13 39 8-34-13 6zM973 998l13-9 7-7-13-29zM1316 946l13-5 7 28-13 10zM945 1009l13 14 7 9-13-39zM1208 974l13 21 7-28-13 23zM1228 967l14-8 7 10-13 7zM1249 969l13 5 7-6-13-5zM1449 945l13-32 7 3-14-11z"/><path class="k18" d="M554 993l13-6 8 43-13-37z"/><path class="k15" d="M924 1073l13-38 8-26-13 12z"/><path class="k18" d="M525 1023l13 2 8-4-13 14zM538 1025l13 4 8-38-13 30z"/><path class="k16" d="M546 1021l13-30 8-4-13 6zM753 987l13 14 7 17-12-1z"/><path class="k20" d="M567 987l12 37 8 6-12 0zM559 991l12 26 8 7-12-37z"/><path class="k8" d="M587 1030l13 8 8 20-13-44zM732 1004l13 21 8-38-13 22zM766 1001l13 37 7-18-13-2zM1052 976l13 10 8-6-13-14z"/><path class="k4" d="M608 1058l13 1 8-23-13-26zM650 1053l12-5 8-24-12-3zM978 1011l13 3 8-30-13 5zM1181 986l13 15 7-17-13-13zM1201 984l13 2 7 9-13-21zM1382 950l13 4 7-12-13-9zM621 1059l13 8 8-10-13-21zM642 1057l13 3 7-12-12 5zM950 1017l13-5 8-7-13 18zM991 1014l13-4 8-12-13-14zM1113 1001l13 2 7 6-13-3zM1174 988l13 4 7 9-13-15zM1214 986l13 32 7-20-13-3zM1335 957l13 15 7-12-13-4z"/><path class="k7" d="M629 1036l13 21 8-4-13-37zM773 1018l13 2 8 44-13-24zM999 984l13 14 7-4-13-11zM1039 996l13-20 8-10-13 4zM1080 995l13 18 7 6-13-39zM1422 927l13-1 7-30-13 33zM683 1025l13 10 8-26-13 25zM786 1020l13 23 8 20-13 1zM1415 935l13 24 7-33-13 1zM1455 929l13 9 7-11-13-14z"/><path class="k6" d="M670 1024l13 1 8 9-13-16zM1141 957l13 64 7-29-13-43zM1462 913l13 14 7 1-13-12zM600 1038l13 27 8-6-13-1zM704 1009l13-4 7 11-12-30zM724 1016l13 7 8 2-13-21zM745 1025l13-9 8-15-13-14zM1073 980l13 30 7 3-13-18zM1435 926l13 7 7-4-13-33z"/><path class="k5" d="M691 1034l13-25 8-23-13-1zM1019 994l13 7 7-5-13 0zM1242 959l13 19 7-4-13-5zM1322 950l13 7 7-1-13-15zM1402 942l13-7 7-8-13 3zM662 1048l13-28 8 5-13-1zM971 1005l13 12 7-3-13-3zM1012 998l13 11 7-8-13-7zM1032 1001l13 18 7-43-13 20z"/><path class="k17" d="M712 986l12 30 8-12-13 0zM1060 966l13 14 7 15-13-14zM1442 896l13 33 7-16-13 32zM579 1024l13-14 8 28-13-8z"/><path class="k9" d="M794 1064l13-1 8-17-13-2z"/><path class="k1" d="M815 1046l12-3 8-18-13 13zM876 1031l13-7 8-15-13 16zM1120 1006l13 3 8-52-13 2zM1161 992l13-4 7-2-13-30zM1221 995l13 3 8-39-14 8zM1282 990l13 5 7-20-13 13zM827 1043l13 6 8-1-13-23zM1234 998l14 31 7-51-13-19zM1295 995l13-7 7-9-13-4z"/><path class="k0" d="M835 1025l13 23 8-6-13-8zM897 1009l12 25 8 19-13-9zM958 1023l13-18 7 6-13 21zM1100 1019l13-18 7 5-13-15zM1262 974l13 19 7-3-13-22zM1302 975l13 4 7-29-13 4zM1342 956l13 4 7 21-13-2zM889 1024l13 13 7-3-12-25zM1093 1013l13 4 7-16-13 18zM1133 1009l13 5 8 7-13-64zM1194 1001l13 12 7-27-13-2zM1255 978l13 32 7-17-13-19zM1315 979l13-4 7-18-13-7zM1355 960l13 15 7 0-13 6zM1395 954l13 8 7-27-13 7z"/><path class="k3" d="M856 1042l12 4 8-15-13 12zM937 1035l13-18 8 6-13-14zM1362 981l13-6 7-25-13 4zM807 1063l13-12 7-8-12 3zM868 1046l13 12 8-34-13 7zM909 1034l13 35 8-24-13 8zM930 1045l13-10 7-18-13 18zM1154 1021l13-2 7-31-13 4zM1275 993l13 16 7-14-13-5zM1375 975l13-5 7-16-13-4z"/><path class="k2" d="M917 1053l13-8 7-10-13 38z"/><path class="k10" d="M848 1048l13 1 7-3-12-4z"/><path class="k16" d="M551 1029l12 37 8-49-12-26zM571 1017l13 24 8-31-13 14zM592 1010l13 34 8 21-13-27z"/><path class="k4" d="M613 1065l13-1 8 3-13-8zM655 1060l12-7 8-33-13 28zM799 1043l13 9 8-1-13 12zM984 1017l13-12 7 5-13 4zM1004 1010l13 23 8-24-13-11zM1045 1019l13-17 7-16-13-10zM1086 1010l13-16 7 23-13-4zM1126 1003l13 6 7 5-13-5zM1187 992l13 26 7-5-13-12zM1428 959l14 15 6-41-13-7zM791 1051l13 23 8-22-13-9zM1180 997l13 14 7 7-13-26z"/><path class="k0" d="M634 1067l13-18 8 11-13-3zM1106 1017l13 11 7-25-13-2zM1328 975l13 19 7-22-13-15zM1408 962l14-17 6 14-13-24zM812 1052l13 12 8-1-13-12zM956 1039l13 2 7 2-13-31zM1017 1033l13 7 8-24-13-7zM1139 1009l13 32 8 9-14-36zM1381 969l14 7 6 9-13-15zM1442 974l13-26 7 5-14-20z"/><path class="k8" d="M675 1020l13 16 8-1-13-10zM758 1016l13 2 8 20-13-37zM584 1041l13-3 8 6-13-34zM605 1044l13 25 8-5-13 1zM771 1018l13 41 7-8-12-13z"/><path class="k5" d="M696 1035l13 11 8-41-13 4zM737 1023l13-6 8-1-13 9zM963 1012l13 31 8-26-13-12zM1025 1009l13 7 7 3-13-18zM626 1064l13-11 8-4-13 18zM667 1053l13-12 8-5-13-16zM709 1046l13 15 7-30-12-26zM997 1005l13 11 7 17-13-23zM1038 1016l13 11 7-25-13 17z"/><path class="k17" d="M717 1005l12 26 8-8-13-7zM750 1017l13 19 8-18-13-2z"/><path class="k7" d="M779 1038l12 13 8-8-13-23zM1448 933l14 20 6-15-13-9zM647 1049l12-41 8 45-12 7zM688 1036l13 23 8-13-13-11zM1058 1002l13 36 7-39-13-13zM1078 999l13 14 8-19-13 16zM1099 994l13 19 7 15-13-11zM1422 945l13 48 7-19-14-15z"/><path class="k1" d="M820 1051l13 12 7-14-13-6zM840 1049l13 26 8-26-13-1zM861 1049l13 14 7-5-13-12zM902 1037l13 21 7 11-13-35zM943 1035l13 4 7-27-13 5zM1146 1014l14 36 7-31-13 2zM1167 1019l13-22 7-5-13-4zM1207 1013l13 0 7 5-13-32zM1308 988l13 10 7-23-13 4zM1348 972l13 38 7-35-13-15zM1368 975l13-6 7 1-13 5zM1388 970l13 15 7-23-13-8zM833 1063l13 4 7 8-13-26zM894 1048l13 34 8-24-13-21zM935 1041l13 2 8-4-13-4zM976 1043l13-13 8-25-13 12zM1119 1028l13-32 7 13-13-6zM1200 1018l13-13 7 8-13 0zM1401 985l14 16 7-56-14 17z"/><path class="k10" d="M881 1058l13-10 8-11-13-13zM1268 1010l13-3 7 2-13-16zM1288 1009l13 12 7-33-13 7zM853 1075l13-19 8 7-13-14zM1281 1007l13 19 7-5-13-12z"/><path class="k9" d="M922 1069l13-28 8-6-13 10z"/><path class="k6" d="M1065 986l13 13 8 11-13-30zM563 1066l13-29 8 4-13-24zM729 1031l13-4 8-10-13 6z"/><path class="k3" d="M1227 1018l13 34 8-23-14-31zM874 1063l13 4 7-19-13 10zM1220 1013l13 27 7 12-13-34zM1321 998l13-6 7 2-13-19zM1341 994l13 3 7 13-13-38z"/><path class="k2" d="M1248 1029l13-4 7-15-13-32zM915 1058l13-1 7-16-13 28zM1160 1050l13-16 7-37-13 22zM1261 1025l13-8 7-10-13 3zM1301 1021l13 15 7-38-13-10zM1361 1010l14-9 6-32-13 6z"/><path class="k12" d="M1240 1052l14-22 7-5-13 4z"/><path class="k17" d="M576 1037l13 7 8-6-13 3zM597 1038l13 15 8 16-13-25zM589 1044l13 32 8-23-13-15zM672 1027l13 18 8 0-13-4z"/><path class="k5" d="M618 1069l13-18 8 2-13 11zM701 1059l13-8 8 10-13-15zM1010 1016l13 15 7 9-13-7zM1051 1027l13 14 7-3-13-36zM1132 996l13 27 7 18-13-32zM797 1054l13 37 7-4-13-13zM838 1042l13-6 8-1-13 32zM859 1035l12 6 8 44-13-29zM1023 1031l13 8 7-16-13 17z"/><path class="k7" d="M639 1053l12-2 8-43-12 41zM631 1051l13 8 7-8-12 2zM651 1051l13-3 8-21-13-19zM693 1045l13 20 8-14-13 8zM714 1051l13-21 8 24-13 7zM735 1054l12 15 8-21-13-21zM755 1048l13 21 8 1-13-34zM1043 1023l13 2 8 16-13-14zM1104 999l13 27 8 14-13-27z"/><path class="k16" d="M659 1008l13 19 8 14-13 12z"/><path class="k6" d="M680 1041l13 4 8 14-13-23zM763 1036l13 34 8-11-13-41zM1084 988l13 56 7-45-13 14z"/><path class="k4" d="M722 1061l13-7 7-27-13 4zM989 1030l13 13 8-27-13-11zM1030 1040l13-17 8 4-13-11zM1091 1013l13-14 8 14-13-19zM1112 1013l13 27 7-44-13 32zM776 1070l13-19 8 3-13 5zM961 1044l13 24 8-3-13-24zM1428 973l13 12 7-7-13 15z"/><path class="k8" d="M742 1027l13 21 8-12-13-19zM610 1053l13 7 8-9-13 18z"/><path class="k0" d="M784 1059l13-5 7 20-13-23zM866 1056l13 29 8-18-13-4zM948 1043l13 1 8-3-13-2zM969 1041l13 24 7-35-13 13zM1071 1038l13-50 7 25-13-14zM1193 1011l13 12 7-18-13 13zM1213 1005l13 36 7-1-13-27zM1395 976l13 17 7 8-14-16zM1002 1043l13-2 8-10-13-15zM1064 1041l13-23 7-30-13 50zM1145 1023l13 28 7-3-13-7zM1186 1012l13-15 7 26-13-12z"/><path class="k3" d="M804 1074l13 13 8-23-13-12zM887 1067l13-7 7 22-13-34zM928 1057l13 8 7-22-13-2zM1152 1041l13 7 8-14-13 16zM1173 1034l13-22 7-1-13-14zM1354 997l14 8 7-4-14 9zM1415 1001l13-28 7 20-13-48zM941 1065l13 16 7-37-13-1zM982 1065l13-35 7 13-13-13zM1206 1023l13 13 7 5-13-36zM1247 1025l13 17 7 13-13-25zM1287 1020l13 5 7-2-13 3zM1368 1005l13-25 7 28-13-7z"/><path class="k1" d="M825 1064l13-22 8 25-13-4zM1334 992l13 2 7 3-13-3zM1435 993l13-15 7-30-13 26zM900 1060l13 7 7-17-13 32zM920 1050l13-7 8 22-13-8zM1125 1040l13-1 7-16-13-27zM1347 994l14-4 7 15-14-8zM1408 993l13 0 7-20-13 28z"/><path class="k10" d="M846 1067l13-32 7 21-13 19zM1254 1030l13 25 7-38-13 8zM1274 1017l13 3 7 6-13-19zM1375 1001l13 7 7-32-14-7zM1165 1048l14-30 7-6-13 22zM1226 1041l13-22 8 6-14 15zM1307 1023l13 8 7 8-13-3zM1388 1008l13-4 7-11-13-17z"/><path class="k12" d="M907 1082l13-32 8 7-13 1zM1267 1055l13-27 7-8-13-3z"/><path class="k2" d="M1233 1040l14-15 7 5-14 22zM1294 1026l13-3 7 13-13-15zM817 1087l13-43 8-2-13 22z"/><path class="k9" d="M1314 1036l13 3 7-47-13 6zM879 1085l13-7 8-18-13 7zM1327 1039l14-27 6-18-13-2z"/><path class="k7" d="M602 1076l13 2 8-18-13-7zM644 1059l12 13 8-24-13 3zM789 1051l13 50 8-10-13-37zM851 1036l13 23 7-18-12-6zM615 1078l13-10 8-15-13 7zM656 1072l13-16 8 12-13-20zM677 1068l13 19 8-1-13-41zM719 1066l13 25 8-19-13-42zM926 1031l13 33 7 1-13-22zM1008 1022l13 9 7 33-13-23zM1049 1028l13-3 7 12-13-12zM1192 1005l13-1 7 9-13-16z"/><path class="k6" d="M623 1060l13-7 8 6-13-8zM685 1045l13 41 8-21-13-20zM636 1053l12 21 8-2-12-13z"/><path class="k8" d="M664 1048l13 20 8-23-13-18z"/><path class="k5" d="M706 1065l13 1 8-36-13 21zM747 1069l13-3 8 3-13-21zM768 1069l13 14 8-32-13 19zM830 1044l13 31 8-39-13 6zM871 1041l13 22 8 15-13 7zM995 1030l13-8 7 19-13 2zM1056 1025l13 12 8-19-13 23zM1077 1018l13 13 7 13-13-56zM1199 997l13 16 7 23-13-13zM760 1066l13 29 8-12-13-14z"/><path class="k17" d="M727 1030l13 42 7-3-12-15z"/><path class="k2" d="M810 1091l12-16 8-31-13 43zM1313 1053l14-11 7-17-14 6z"/><path class="k3" d="M892 1078l13 14 8-25-13-7zM954 1081l13-16 7 3-13-24zM974 1068l13-13 8-25-13 35zM1300 1025l13 28 7-22-13-8zM1341 1012l13-21 7-1-14 4zM1334 1025l13-8 7-26-13 21z"/><path class="k1" d="M913 1067l13-36 7 12-13 7zM1097 1044l13 4 7-22-13-27zM1239 1019l14 4 7 19-13-17zM1401 1004l13-15 7 4-13 0zM843 1075l13-32 8 16-13-23zM946 1065l13-11 8 11-13 16zM967 1065l13 3 7-13-13 13zM1028 1064l13-13 8-23-13 11zM1151 1054l13-18 7 5-13 10zM1253 1023l13 4 7-7-13 22zM1273 1020l13 8 7-13-13 13zM1293 1015l13 31 7 7-13-28zM1394 996l13-9 7 2-13 15z"/><path class="k4" d="M933 1043l13 22 8 16-13-16zM1015 1041l13 23 8-25-13-8zM1117 1026l14 2 7 11-13 1zM1179 1018l13-13 7-8-13 15zM1381 980l13 16 7 8-13 4zM698 1086l13-23 8 3-13-1zM740 1072l13 2 7-8-13 3zM781 1083l13 18 8 0-13-50zM864 1059l13 31 7-27-13-22zM1069 1037l13-16 8 10-13-13zM1090 1031l13-8 7 25-13-4zM1131 1028l13 28 7-2-13-15zM1212 1013l13 19 7 35-13-31zM1354 991l13-10 7 14-13-5zM1414 989l14-7 6-1-13 12z"/><path class="k0" d="M1036 1039l13-11 7-3-13-2zM1138 1039l13 15 7-3-13-28zM1361 990l13 5 7-15-13 25zM1421 993l13-12 7 4-13-12zM822 1075l13 7 8-7-13-31zM884 1063l13 8 8 21-13-14zM987 1055l13-27 8-6-13 8zM1110 1048l13-19 8-1-14-2zM1171 1041l13-12 8-24-13 13zM1374 995l13-15 7 16-13-16z"/><path class="k10" d="M1158 1051l13-10 8-23-14 30zM1219 1036l13 31 7-48-13 22zM1260 1042l13-22 7 8-13 27zM1280 1028l13-13 7 10-13-5zM1320 1031l14-6 7-13-14 27zM802 1101l13-20 7-6-12 16zM905 1092l13-41 8-20-13 36z"/><path class="k15" d="M1232 1067l13-43 8-1-14-4z"/><path class="k6" d="M628 1068l12 5 8 1-12-21zM848 1047l13 10 8 18-13-32zM1055 1026l13 11 7-9-13-3zM1116 1016l13 9 7 4-13 0z"/><path class="k7" d="M648 1074l13-14 8-4-13 16zM711 1063l13 38 8-10-13-25zM856 1043l13 32 8 15-13-31zM1000 1028l13 22 8-19-13-9zM1021 1031l13 33 7-13-13 13zM1062 1025l13 3 7-7-13 16zM1082 1021l14 1 7 1-13 8zM1103 1023l13-7 7 13-13 19zM1205 1004l13 3 7 25-13-19zM640 1073l13 27 8-40-13 14zM765 1070l13 12 8 24-13-11zM1075 1028l13-1 8-5-14-1zM1096 1022l13 2 7-8-13 7zM1136 1029l14 10 7 10-13 7zM1218 1007l13-6 7 14-13 17zM1238 1015l14 2 7 6-14 1z"/><path class="k8" d="M669 1056l13 4 8 27-13-19zM661 1060l13 26 8-26-13-4zM682 1060l13-4 8-8-13 39z"/><path class="k5" d="M690 1087l13-39 8 15-13 23zM918 1051l13-6 8 19-13-33zM1123 1029l13 0 8 27-13-28zM1367 981l13 26 7-27-13 15zM1387 980l13 35 7-28-13 9zM1407 987l14 18 7-23-14 7zM869 1075l13 3 8 5-13 7zM911 1052l13-5 7-2-13 6zM931 1045l13 1 8 18-13 0zM972 1040l13 29 8-17-13 16zM1013 1050l14 22 7-8-13-33zM1157 1049l13-21 7 15-13-7z"/><path class="k0" d="M732 1091l13 15 8-32-13-2zM773 1095l13 11 8-5-13-18zM897 1071l14-19 7-1-13 41zM939 1064l13 0 7-10-13 11zM959 1054l13-14 8 28-13-3zM1144 1056l13-7 7-13-13 18zM1245 1024l14-1 7 4-13-4zM724 1101l13 6 8-1-13-15zM807 1096l13-9 8 4-13-10zM890 1083l13-24 8-7-14 19zM952 1064l13-28 7 4-13 14zM1380 1007l14 19 6-11-13-35zM1400 1015l14 13 7-23-14-18z"/><path class="k4" d="M753 1074l12-4 8 25-13-29zM815 1081l13 10 7-9-13-7zM1041 1051l14-25 7-1-13 3zM1164 1036l13 7 7-14-13 12zM1184 1029l14 7 7-32-13 1zM993 1052l13 27 7-29-13-22zM1034 1064l13-6 8-32-14 25zM1177 1043l13-23 8 16-14-7zM1198 1036l13-15 7-14-13-3zM1259 1023l13 15 7 43-13-54z"/><path class="k1" d="M794 1101l13-5 8-15-13 20zM1266 1027l13 54 7-53-13-8zM1286 1028l13 7 7 11-13-31zM1347 1017l13 3 7-39-13 10zM745 1106l13-20 7-16-12 4zM786 1106l13-7 8-3-13 5zM1299 1035l14 2 7-5-14 14zM1320 1032l13 11 7-9-13 8zM1360 1020l13 55 7-68-13-26z"/><path class="k3" d="M835 1082l13-35 8-4-13 32zM877 1090l13-7 7-12-13-8zM980 1068l13-16 7-24-13 27zM1225 1032l13-17 7 9-13 43zM828 1091l13-32 7-12-13 35zM1340 1034l13-8 7-6-13-3z"/><path class="k2" d="M1306 1046l14-14 7 10-14 11z"/><path class="k10" d="M1327 1042l13-8 7-17-13 8z"/><path class="k17" d="M703 1048l13 30 8 23-13-38z"/><path class="k15" d="M1279 1081l13-26 7-20-13-7z"/><path class="k5" d="M653 1100l13-4 8-10-13-26zM758 1086l13 14 7-18-13-12zM778 1082l13 23 8-6-13 7zM1047 1058l13-14 8-7-13-11zM1252 1017l13 10 7 11-13-15zM957 1060l13-10 8 18-13-32zM1040 1045l13-22 7 21-13 14zM1265 1027l13 14 7 8-13-11z"/><path class="k7" d="M674 1086l13 0 8-30-13 4zM716 1078l13 9 8 20-13-6zM903 1059l13-11 8-1-13 5zM924 1047l13-1 7 0-13-1zM944 1046l13 14 8-24-13 28zM965 1036l13 32 7 1-13-29zM1068 1037l13-12 7 2-13 1zM1150 1039l13-25 7 14-13 21zM1211 1021l13-1 7-19-13 6zM1231 1001l13-11 8 27-14-2zM666 1096l13 18 8-28-13 0zM687 1086l13 35 8-47-13-18zM729 1087l13 29 8 14-13-23zM833 1074l13-2 8-3-13-10zM854 1069l13 10 8-21-14-1zM1224 1020l13 8 7-38-13 11z"/><path class="k8" d="M695 1056l13 18 8 4-13-30zM875 1058l13 10 7-18-13 28zM895 1050l13-21 8 19-13 11zM916 1048l13 1 8-3-13 1zM1081 1025l13-19 7 16-13 5zM1122 1022l13 8 7-5-13 0zM1142 1025l14 1 7-12-13 25z"/><path class="k0" d="M737 1107l13 23 8-44-13 20zM799 1099l13-6 8-6-13 9zM791 1105l13-18 8 6-13 6zM1285 1049l13 3 8-6-14 9zM1346 1022l13 13 7-24-13 15z"/><path class="k4" d="M820 1087l13-13 8-15-13 32zM882 1078l13-28 8 9-13 24zM771 1100l13 11 7-6-13-23zM812 1093l13 0 8-19-13 13zM978 1068l13 35 8-26-14-8zM1366 1011l14 23 7 27-14 14z"/><path class="k6" d="M841 1059l13 10 7-12-13-10zM861 1057l14 1 7 20-13-3zM1088 1027l13-5 8 2-13-2zM1109 1024l13-2 7 3-13-9zM1129 1025l13 0 8 14-14-10zM1170 1028l13-16 7 8-13 23zM1190 1020l14-22 7 23-13 15zM708 1074l13 24 8-11-13-9zM937 1046l13 10 7 4-13-14zM1060 1044l13-32 8 13-13 12z"/><path class="k1" d="M985 1069l14 8 7 2-13-27zM1027 1072l13-27 7 13-13 6zM1272 1038l13 11 7 6-13 26zM999 1077l13 18 7-10-13-6zM1019 1085l13-15 8-25-13 27zM1306 1046l13 2 7-11-13 0zM1326 1037l13-23 7 8-13 21z"/><path class="k3" d="M1006 1079l13 6 8-13-14-22zM1313 1037l13 0 7 6-13-11zM1353 1026l13-15 7 64-13-55zM1394 1026l13 1 7 1-14-13z"/><path class="k10" d="M1292 1055l14-9 7-9-14-2zM1333 1043l13-21 7 4-13 8zM750 1130l13-10 8-20-13-14z"/><path class="k13" d="M1373 1075l14-14 7-35-14-19z"/><path class="k17" d="M1101 1022l14 0 7 0-13 2zM1163 1014l13-28 7 26-13 16zM1183 1012l13 3 8-17-14 22zM1204 998l13 31 7-9-13 1zM1244 990l14 83 7-46-13-10z"/><path class="k15" d="M1387 1061l13-48 7 14-13-1z"/><path class="k4" d="M679 1114l13 9 8-2-13-35zM784 1111l13-8 7-16-13 18zM1278 1041l13 22 7-11-13-3zM692 1123l13 1 8-7-13 4zM713 1117l13-24 8-12-13 17zM755 1111l13 1 8 4-13 4zM963 1082l13-1 8-22-14-9z"/><path class="k0" d="M700 1121l13-4 8-19-13-24zM763 1120l13-4 8-5-13-11zM825 1093l13-19 8-2-13 2zM1032 1070l13-28 8-19-13 22zM1359 1035l14 18 7-19-14-23zM1025 1085l13 1 7-44-13 28zM1332 1044l13-24 7 23-13-29zM1352 1043l14 18 7-8-14-18z"/><path class="k7" d="M721 1098l13-17 8 35-13-29zM804 1087l14-16 7 22-13 0zM846 1072l13 7 8 0-13-10zM867 1079l13 3 8-14-13-10zM950 1056l13 26 7-32-13 10zM970 1050l14 9 7 44-13-35zM1237 1028l14-1 7 46-14-83zM880 1082l13-22 8-6-13 14zM984 1059l13 19 7 12-13 13zM1066 1065l13-19 8-17-14-17zM1251 1027l13 10 7 29-13 7z"/><path class="k1" d="M742 1116l13-5 8 9-13 10zM1298 1052l14 22 7-26-13-2zM1319 1048l13-4 7-30-13 23zM1380 1034l13-14 7-7-13 48zM1004 1090l13-21 8 16-13 10zM1271 1066l13-16 7 13-13-22zM1291 1063l14 36 7-25-14-22zM1373 1053l13-9 7-24-13 14z"/><path class="k6" d="M888 1068l13-14 7-25-13 21zM1135 1030l13 15 8-19-14-1zM1217 1029l13-4 7 3-13-8zM838 1074l13 15 8-10-13-7zM859 1079l13 3 8 0-13-3zM921 1067l14-27 7 14-13-5zM942 1054l13-8 8 36-13-26zM1045 1042l14 22 7 1-13-42zM1128 1041l13 11 7-7-13-15zM1148 1045l13 1 8-39-13 19zM1210 1033l13-7 7-1-13 4zM1230 1025l13 26 8-24-14 1z"/><path class="k18" d="M908 1029l13 38 8-18-13-1zM1094 1006l13 21 8-5-14 0zM1169 1007l13 32 7-15-13-38z"/><path class="k8" d="M929 1049l13 5 8 2-13-10zM1115 1022l13 19 7-11-13-8zM734 1081l13 20 8 10-13 5zM818 1071l13-12 7 15-13 19z"/><path class="k2" d="M991 1103l13-13 8 5-13-18z"/><path class="k3" d="M1012 1095l13-10 7-15-13 15z"/><path class="k17" d="M1053 1023l13 42 7-53-13 32zM1156 1026l13-19 7-21-13 28zM1196 1015l14 18 7-4-13-31zM901 1054l13 15 7-2-13-38zM1087 1029l13 4 7-6-13-21zM1107 1027l13-3 8 17-13-19zM1189 1024l13 15 8-6-14-18z"/><path class="k16" d="M1073 1012l14 17 7-23-13 19z"/><path class="k20" d="M1176 986l13 38 7-9-13-3z"/><path class="k10" d="M1258 1073l13-7 7-25-13-14zM1312 1074l13 10 7-40-13 4z"/><path class="k5" d="M1339 1014l13 29 7-8-13-13zM776 1116l13-21 8 8-13 8zM797 1103l13-21 8-11-14 16z"/><path class="k4" d="M705 1124l13 16 8-47-13 24zM1284 1050l14 65 7-16-14-36z"/><path class="k8" d="M726 1093l13-15 8 23-13-20zM810 1082l13-5 8-18-13 12zM893 1060l13 11 8-2-13-15zM1079 1046l13-1 8-12-13-4zM1161 1046l14-21 7 14-13-32zM1182 1039l13-15 7 15-13-15zM1202 1039l14-4 7-9-13 7zM906 1071l13-14 8-1-13 13zM1257 1035l13-3 7 3-13 2z"/><path class="k7" d="M747 1101l13 15 8-4-13-1zM851 1089l13 14 8-21-13-3zM1059 1064l13-16 7-2-13 19zM1264 1037l13-2 7 15-13 16zM760 1116l13 0 8-10-13 6zM1051 1065l13-22 8 5-13 16zM1236 1059l14-16 7-8-14 16z"/><path class="k5" d="M768 1112l13-6 8-11-13 21zM1017 1069l14 22 7-5-13-1zM1243 1051l14-16 7 2-13-10zM1345 1020l14 58 7-17-14-18zM864 1103l14-4 7-20-13 3zM989 1072l13 43 8-16-13-21z"/><path class="k6" d="M789 1095l13 3 8-16-13 21zM872 1082l13-3 8-19-13 22zM914 1069l13-13 8-16-14 27zM955 1046l13 14 8 21-13 1zM1141 1052l13-29 7 23-13-1zM781 1106l13 16 8-24-13-3zM802 1098l13 0 8-21-13 5zM885 1079l13 31 8-39-13-11zM968 1060l14 39 7-27-13 9zM1277 1035l13-9 8 89-14-65z"/><path class="k17" d="M831 1059l13 13 7 17-13-15zM935 1040l13 3 7 3-13 8zM1100 1033l13 3 7-12-13 3zM1120 1024l14 15 7 13-13-11zM1223 1026l13 33 7-8-13-26zM739 1078l13 17 8 21-13-15zM823 1077l13-19 8 14-13-13zM844 1072l13 22 7 9-13-14zM927 1056l13 63 8-76-13-3zM1072 1048l13-13 7 10-13 1zM1092 1045l14-27 7 18-13-3zM1134 1039l13-11 7-5-13 29zM1216 1035l13 21 7 3-13-33z"/><path class="k0" d="M976 1081l13-9 8 6-13-19zM997 1078l13 21 7-30-13 21zM1038 1086l13-21 8-1-14-22zM718 1140l13-16 8-46-13 15zM1031 1091l13-30 7 4-13 21zM1338 1054l14 5 7 19-14-58z"/><path class="k2" d="M1305 1099l13-20 7 5-13-10z"/><path class="k9" d="M1325 1084l13-30 7-34-13 24z"/><path class="k1" d="M1366 1061l13-19 7 2-13 9zM1010 1099l13-3 8-5-14-22z"/><path class="k16" d="M948 1043l13 21 7-4-13-14zM1113 1036l13-10 8 13-14-15zM1154 1023l13 1 8 1-14 21zM1175 1025l13 1 7-2-13 15zM1195 1024l14-11 7 22-14 4z"/><path class="k15" d="M1298 1115l13-32 7-4-13 20z"/><path class="k10" d="M1318 1079l13 23 7-48-13 30z"/><path class="k3" d="M1359 1078l13-17 7-19-13 19z"/><path class="k5" d="M731 1124l13-5 8-24-13-17zM898 1110l14-42 7-11-13 14zM870 1110l13 23 8-28-13-6z"/><path class="k8" d="M752 1095l13-14 8 35-13 0zM815 1098l13-9 8-31-13 19zM1250 1043l13 18 7-29-13 3zM1270 1032l13 3 7-9-13 9zM1290 1026l14 93 7-36-13 32zM849 1091l13 37 8-18-13-16zM932 1073l14 35 7 0-13 11zM1283 1035l14 62 7 22-14-93z"/><path class="k7" d="M773 1116l13 5 8 1-13-16zM794 1122l13-28 8 4-13 0zM857 1094l13 16 8-11-14 4zM878 1099l13 6 7 5-13-31zM744 1119l13-5 8-33-13 14zM786 1121l13-8 8-19-13 28zM891 1105l13-2 8-35-14 42zM1263 1061l13 11 7-37-13-3z"/><path class="k16" d="M836 1058l13 33 8 3-13-22zM1064 1043l14 5 7-13-13 13zM1085 1035l13 10 8-27-14 27zM765 1081l13 59 8-19-13-5zM1078 1048l13 17 7-20-13-10zM1098 1045l14-13 7-15-13 1zM1181 1042l13 13 7-21-13-8zM1201 1034l14 4 7 13-13-38z"/><path class="k17" d="M919 1057l13 16 8 46-13-63zM807 1094l13 17 8-22-13 9zM828 1089l13 22 8-20-13-33zM912 1068l13 9 7-4-13-16zM1057 1048l13-1 8 1-14-5zM1160 1052l13-25 8 15-14-18zM1222 1051l13 30 7-18-13-7z"/><path class="k10" d="M940 1119l13-11 8-44-13-21z"/><path class="k6" d="M961 1064l13 35 8 0-14-39zM1044 1061l13-13 7-5-13 22zM1229 1056l13 7 8-20-14 16zM1242 1063l14 7 7-9-13-18z"/><path class="k0" d="M982 1099l13 32 7-16-13-43zM1023 1096l13-1 8-34-13 30zM1352 1059l13 20 7-18-13 17zM1345 1064l13 4 7 11-13-20z"/><path class="k3" d="M1002 1115l14 3 7-22-13 3zM1311 1083l13-2 7 21-13-23zM995 1131l13-26 8 13-14-3zM1324 1081l14 31 7-48-14 38z"/><path class="k18" d="M1106 1018l13-1 7 9-13 10zM1209 1013l13 38 7 5-13-21zM1140 1022l13 21 7 9-13-24z"/><path class="k18" d="M1126 1026l14-4 7 6-13 11zM1147 1028l13 24 7-28-13-1zM1167 1024l14 18 7-16-13-1zM1188 1026l13 8 8-21-14 11z"/><path class="k11" d="M1331 1102l14-38 7-5-14-5z"/><path class="k4" d="M953 1108l13-12 8 3-13-35zM974 1099l13-14 8 46-13-32zM1036 1095l13-21 8-26-13 13z"/><path class="k1" d="M1016 1118l13-18 7-5-13 1z"/><path class="k20" d="M1119 1017l13 27 8-22-14 4z"/><path class="k15" d="M1304 1119l13-16 7-22-13 2z"/><path class="k6" d="M757 1114l13-4 8 30-13-59zM799 1113l13 21 8-23-13-17zM820 1111l13 27 8-27-13-22zM841 1111l13-7 8 24-13-37zM1256 1070l13 13 7-11-13-11zM791 1127l14 12 7-5-13-21zM896 1101l13 15 8-23-13 10zM917 1093l13 20 8-9-13-27z"/><path class="k5" d="M778 1140l13-13 8-14-13 8zM862 1128l13 15 8-10-13-23zM946 1108l13 7 7-19-13 12zM966 1096l14-8 7-3-13 14zM1000 1094l14 20 7 2-13-11z"/><path class="k4" d="M883 1133l13-32 8 2-13 2zM1008 1105l13 11 8-16-13 18zM1029 1100l13-31 7 5-13 21zM833 1138l14 4 7-38-13 7zM959 1115l13 34 8-61-14 8zM1331 1060l13 28 7-14-13 38z"/><path class="k7" d="M904 1103l13-10 8-16-13-9zM987 1085l13 9 8 11-13 26zM1049 1074l14-15 7-12-13 1zM1235 1081l14-14 7 3-14-7zM1276 1072l14 13 7 12-14-62zM812 1134l14 9 7-5-13-27zM938 1104l13 5 8 6-13-7zM980 1088l13-23 7 29-13-9zM1269 1083l13-16 8 18-14-13zM1290 1085l13-16 7 13-13 15z"/><path class="k8" d="M925 1077l13 27 8 4-14-35zM1194 1055l13-4 8-13-14-4zM854 1104l14 33 7 6-13-15zM1228 1064l13 21 8-18-14 14zM1249 1067l13 39 7-23-13-13z"/><path class="k18" d="M1070 1047l13-5 8 23-13-17zM1132 1044l13 7 8-8-13-21zM1153 1043l13 25 7-41-13 25zM1173 1027l14 8 7 20-13-13zM1187 1035l13 33 7-17-13 4z"/><path class="k17" d="M1091 1065l13-28 8-5-14 13zM770 1110l14-4 7 21-13 13zM1042 1069l13-4 8-6-14 15zM1063 1059l13 0 7-17-13 5zM1166 1068l13 20 8-53-14-8z"/><path class="k18" d="M1112 1032l13-23 7 35-13-27zM1083 1042l14-1 7-4-13 28zM1104 1037l13 0 8-28-13 23z"/><path class="k16" d="M1215 1038l13 26 7 17-13-30zM1145 1051l14 22 7-5-13-25zM1207 1051l14 2 7 11-13-26z"/><path class="k3" d="M1297 1097l13-15 7 21-13 16z"/><path class="k9" d="M1317 1103l14-43 7 52-14-31z"/><path class="k2" d="M1338 1112l13-38 7-6-13-4z"/><path class="k0" d="M875 1143l13-6 8-36-13 32zM1021 1116l13-31 8-16-13 31zM1310 1082l13-23 8 1-14 43z"/><path class="k19" d="M1125 1009l13 22 7 20-13-7z"/><path class="k17" d="M784 1106l13 22 8 11-14-12zM1055 1065l14-17 7 11-13 0zM1159 1073l13-18 7 33-13-20zM1048 1079l13 10 8-41-14 17zM1213 1061l14 21 7-5-13-24z"/><path class="k7" d="M805 1139l13 6 8-2-14-9zM1179 1088l14-10 7-10-13-33zM1323 1059l14 29 7 0-13-28zM818 1145l13-13 8 21-13-10zM902 1117l13 22 8-8-14-15zM1006 1095l13 27 8-25-13 17zM1027 1097l13 3 8-21-14 6zM1275 1093l14-21 7-34-14 29z"/><path class="k5" d="M826 1143l13 10 8-11-14-4zM868 1137l13 5 7-5-13 6zM909 1116l14 15 7-18-13-20zM930 1113l14 31 7-35-13-5zM951 1109l13 9 8 31-13-34zM1262 1106l13-13 7-26-13 16zM860 1146l13 8 8-12-13-5z"/><path class="k4" d="M847 1142l13 4 8-9-14-33zM888 1137l14-20 7-1-13-15zM1014 1114l13-17 7-12-13 31zM839 1153l13-5 8-2-13-4zM881 1142l13 6 8-31-14 20zM923 1131l13 15 8-2-14-31zM964 1118l14 7 7-3-13 27z"/><path class="k3" d="M972 1149l13-27 8-57-13 23z"/><path class="k8" d="M993 1065l13 30 8 19-14-20zM1200 1068l13-7 8-8-14-2zM1282 1067l14-29 7 31-13 16zM797 1128l13 24 8-7-13-6zM1193 1078l13-4 7-13-13 7zM1316 1045l14 20 7 23-14-29z"/><path class="k6" d="M1034 1085l14-6 7-14-13 4zM1241 1085l14 2 7 19-13-39zM1303 1069l13-24 7 14-13 23zM1234 1077l13 6 8 4-14-2zM1255 1087l13 16 7-10-13 13z"/><path class="k16" d="M1076 1059l13 14 8-32-14 1zM1221 1053l13 24 7 8-13-21zM1089 1073l14-39 7 16-13-9zM1296 1038l13 20 7-13-13 24z"/><path class="k20" d="M1097 1041l13 9 7-13-13 0zM1117 1037l14 19 7-25-13-22zM1138 1031l13 23 8 19-14-22z"/><path class="k1" d="M944 1144l13 6 7-32-13-9z"/><path class="k0" d="M985 1122l14 15 7-42-13-30z"/><path class="k18" d="M1069 1048l13 36 7-11-13-14zM1131 1056l13-11 7 9-13-23zM1151 1054l14-7 7 8-13 18zM1172 1055l14 2 7 21-14 10z"/><path class="k18" d="M1110 1050l13 25 8-19-14-19z"/><path class="k7" d="M810 1152l13-25 8 5-13 13zM1268 1103l14 15 7-46-14 21zM865 1151l13 0 8-10-13 13zM886 1141l13 14 8 6-13-13zM1240 1106l14 2 7-6-14-19zM1261 1102l13 14 8 2-14-15z"/><path class="k6" d="M831 1132l13 26 8-10-13 5zM1040 1100l14 32 7-43-13-10zM1082 1084l13-16 8-34-14 39zM1199 1110l13 3 8-21-14-18zM1220 1092l13 37 7-23-13-24z"/><path class="k5" d="M852 1148l13 3 8 3-13-8zM844 1158l13-36 8 29-13-3z"/><path class="k4" d="M873 1154l13-13 8 7-13-6zM894 1148l13 13 8-22-13-22zM915 1139l13 19 8-12-13-15zM1019 1122l14 3 7-25-13-3zM1033 1125l13-16 8 23-14-32zM1282 1118l13-29 7-37-13 20z"/><path class="k1" d="M936 1146l13 49 8-45-13-6zM957 1150l13 25 8-50-14-7zM999 1137l13 11 7-26-13-27zM928 1158l13 33 8 4-13-49zM1012 1148l13 8 8-31-14-3z"/><path class="k0" d="M978 1125l13 30 8-18-14-15zM907 1161l13 22 8-25-13-19zM1054 1132l13 2 7-38-13-7z"/><path class="k17" d="M1061 1089l13 7 8-12-13-36zM1206 1074l14 18 7-10-14-21z"/><path class="k19" d="M1103 1034l13 22 7 19-13-25z"/><path class="k16" d="M1123 1075l14-9 7-21-13 11zM1302 1052l14 43 7-12-14-25z"/><path class="k20" d="M1144 1045l13 18 8-16-14 7z"/><path class="k18" d="M1165 1047l13 49 8-39-14-2zM1095 1068l14-7 7-5-13-22zM1116 1056l13 9 8 1-14 9z"/><path class="k18" d="M1186 1057l13 53 7-36-13 4zM1137 1066l13 17 7-20-13-18zM1157 1063l14 27 7 6-13-49z"/><path class="k8" d="M1227 1082l13 24 7-23-13-6zM1247 1083l14 19 7 1-13-16zM1289 1072l13-20 7 6-13-20zM1309 1058l14 25 7-18-14-20zM823 1127l13 23 8 8-13-26zM1074 1096l14-20 7-8-13 16zM1178 1096l14-11 7 25-13-53z"/><path class="k12" d="M949 1195l13 2 8-22-13-25z"/><path class="k2" d="M970 1175l13 19 8-39-13-30z"/><path class="k3" d="M991 1155l13 26 8-33-13-11z"/><path class="k6" d="M836 1150l14-17 7-11-13 36zM1212 1113l14 13 7 3-13-37zM1254 1108l13 2 7 6-13-14zM1288 1095l13 27 7-22-13-11z"/><path class="k16" d="M857 1122l14 14 7 15-13 0zM1184 1088l14-5 7 9-13-7z"/><path class="k7" d="M878 1151l14-20 7 24-13-14zM1046 1109l13 23 8 2-13-2zM1226 1126l13 3 7-9-13 9zM1246 1120l14-39 7 29-13-2zM1267 1110l14-6 7-9-14 21z"/><path class="k5" d="M899 1155l14 37 7-9-13-22zM1067 1134l13-13 8-45-14 20zM1233 1129l13-9 8-12-14-2zM1274 1116l14-21 7-6-13 29zM1059 1132l14-13 7 2-13 13z"/><path class="k10" d="M920 1183l14 33 7-25-13-33zM1038 1172l14-21 7-19-13-23z"/><path class="k9" d="M941 1191l14 16 7-10-13-2zM962 1197l14 4 7-7-13-19zM1004 1181l14 2 7-27-13-8zM997 1193l13-37 8 27-14-2zM1018 1183l13-21 7 10-13-16z"/><path class="k12" d="M983 1194l14-1 7-12-13-26zM934 1216l13 8 8-17-14-16zM955 1207l13 1 8-7-14-4zM976 1201l13-18 8 10-14 1z"/><path class="k3" d="M1025 1156l13 16 8-63-13 16zM913 1192l13 15 8 9-14-33z"/><path class="k18" d="M1088 1076l13 3 8-18-14 7zM1150 1083l13 19 8-12-14-27z"/><path class="k20" d="M1109 1061l13 1 7 3-13-9zM1122 1062l13 3 8 3-14-3zM1143 1068l13 33 7 1-13-19z"/><path class="k18" d="M1129 1065l14 3 7 15-13-17zM1101 1079l13 21 8-38-13-1z"/><path class="k17" d="M1171 1090l13-2 8-3-14 11zM1192 1085l13 7 7 21-13-3zM850 1133l13 0 8 3-14-14zM871 1136l13-23 8 18-14 20zM1163 1102l14-32 7 18-13 2zM1205 1092l13 13 8 21-14-13z"/><path class="k8" d="M1295 1089l13 11 8-5-14-43zM892 1131l13 32 8 29-14-37zM1080 1121l14-30 7-12-13-3z"/><path class="k16" d="M863 1133l13 4 8-24-13 23zM1156 1101l14 1 7-32-14 32zM1260 1081l13 30 8-7-14 6zM876 1137l13 30 8-49-13-5z"/><path class="k18" d="M884 1113l13 5 8 45-13-32zM1114 1100l14-14 7-21-13-3zM1198 1083l13 15 7 7-13-13zM897 1118l13 40 8 26-13-21zM1086 1102l13 0 8-11-13 0zM1149 1092l13 15 8-5-14-1zM1190 1088l14 26 7-16-13-15z"/><path class="k7" d="M905 1163l13 21 8 23-13-15zM1239 1129l14-15 7-33-14 39zM1023 1130l14 68 7-28-13-8zM1232 1136l13-40 8 18-14 15z"/><path class="k2" d="M926 1207l13-19 8 36-13-8zM989 1183l13-28 8 1-13 37zM981 1191l14-19 7-17-13 28z"/><path class="k21" d="M947 1224l13-39 8 23-13-1z"/><path class="k11" d="M968 1208l13-17 8-8-13 18z"/><path class="k1" d="M1010 1156l13-26 8 32-13 21zM1031 1162l13 8 8-19-14 21zM1044 1170l14-22 7-18-13 21z"/><path class="k4" d="M1052 1151l13-21 8-11-14 13z"/><path class="k8" d="M1073 1119l13-17 8-11-14 30zM1218 1105l14 31 7-7-13-3zM1253 1114l13-21 7 18-13-30z"/><path class="k18" d="M1094 1091l13 0 7 9-13-21zM1177 1070l13 18 8-5-14 5zM1107 1091l13 18 8-23-14 14z"/><path class="k19" d="M1135 1065l14 27 7 9-13-33z"/><path class="k6" d="M1281 1104l13 5 7 13-13-27zM1065 1130l14-12 7-16-13 17zM1273 1111l14-1 7-1-13-5z"/><path class="k0" d="M918 1184l14 46 7-42-13 19zM1002 1155l14 0 7-25-13 26z"/><path class="k3" d="M939 1188l14 32 7-35-13 39z"/><path class="k10" d="M960 1185l14 21 7-15-13 17z"/><path class="k20" d="M1128 1086l13 12 8-6-14-27z"/><path class="k17" d="M1170 1102l13 19 7-33-13-18zM1211 1098l14 1 7 37-14-31z"/><path class="k8" d="M889 1167l14-12 7 3-13-40zM1183 1121l13 5 8-12-14-26zM903 1155l13 38 8 21-14-56zM1196 1126l14 13 7-9-13-16zM1217 1130l14-21 7 16-13-26zM1238 1125l14-1 7-23-14-5z"/><path class="k6" d="M910 1158l14 56 8 16-14-46zM1176 1137l13-11 7 0-13-5z"/><path class="k9" d="M932 1230l13-3 8-7-14-32zM953 1220l13-28 8 14-14-21zM1037 1198l13-29 8-21-14 22zM987 1199l13 24 8-67-13 16z"/><path class="k2" d="M974 1206l13-7 8-27-14 19z"/><path class="k1" d="M995 1172l13-16 8-1-14 0zM1050 1169l13-14 8-46-13 39z"/><path class="k4" d="M1016 1155l13 3 8 40-14-68zM1008 1156l13 17 8-15-13-3zM1029 1158l13 17 8-6-13 29z"/><path class="k7" d="M1058 1148l13-39 8 9-14 12z"/><path class="k16" d="M1079 1118l13-6 7-10-13 0zM1162 1107l14 30 7-16-13-19zM1225 1099l13 26 7-29-13 40zM1245 1096l14 5 7-8-13 21zM1266 1093l14 22 7-5-14 1zM1134 1113l13 14 8-13-14-16zM1155 1114l13 60 8-37-14-30z"/><path class="k18" d="M1099 1102l14-13 7 20-13-18zM1092 1112l13 9 8-32-14 13z"/><path class="k18" d="M1120 1109l14 4 7-15-13-12zM1141 1098l14 16 7-7-13-15zM1071 1109l13 65 8-62-13 6z"/><path class="k17" d="M1204 1114l13 16 8-31-14-1zM1259 1101l13 16 8-2-14-22z"/><path class="k3" d="M924 1214l13 4 8 9-13 3zM966 1192l13-29 8 36-13 7z"/><path class="k12" d="M945 1227l13-36 8 1-13 28z"/><path class="k19" d="M1113 1089l13 44 8-20-14-4z"/><path class="k4" d="M916 1193l13 4 8 21-13-4zM979 1163l14 28 7 32-13-24zM1168 1174l14-14 7-34-13 11zM1077 1170l13-17 8-42-14 63z"/><path class="k10" d="M937 1218l14-11 7-16-13 36zM1042 1175l14 11 7-31-13 14z"/><path class="k3" d="M958 1191l14 0 7-28-13 29zM951 1207l13 34 8-50-14 0zM993 1191l13 17 8 23-14-8zM1056 1186l13-48 8 32-14-15z"/><path class="k15" d="M1000 1223l14 8 7-58-13-17zM1014 1231l13-35 8-27-14 4z"/><path class="k0" d="M1021 1173l14-4 7 6-13-17zM1084 1174l14-63 7 10-13-9zM929 1197l14 28 8-18-14 11zM1035 1169l13 34 8-17-14-11z"/><path class="k6" d="M1063 1155l14 15 7 4-13-65zM1210 1139l13-12 8-18-14 21zM1203 1149l13 7 7-29-13 12z"/><path class="k18" d="M1105 1121l14 10 7 2-13-44z"/><path class="k17" d="M1126 1133l14 8 7-14-13-14zM1147 1127l14 12 7 35-13-60zM1223 1127l14-16 7 6-13-8zM1244 1117l14-20 7 21-13 6z"/><path class="k8" d="M1189 1126l14 23 7-10-14-13zM1252 1124l13-6 7-1-13-16zM1140 1141l13 7 8-9-14-12zM1161 1139l13 23 8-2-14 14z"/><path class="k16" d="M1231 1109l13 8 8 7-14 1zM1119 1131l13 28 8-18-14-8z"/><path class="k1" d="M972 1191l13-2 8 2-14-28z"/><path class="k18" d="M1098 1111l13 27 8-7-14-10z"/><path class="k7" d="M1182 1160l13-4 8-7-14-23z"/><path class="k10" d="M943 1225l13 12 8 4-13-34zM1006 1208l14-2 7-10-13 35zM1048 1203l14-38 7-27-13 48z"/><path class="k9" d="M964 1241l13-24 8-28-13 2zM999 1225l13 1 8-20-14 2z"/><path class="k0" d="M985 1189l14 36 7-17-13-17z"/><path class="k3" d="M1027 1196l14 38 7-31-13-34zM977 1217l14 31 8-23-14-36zM1020 1206l13 43 8-15-14-38z"/><path class="k17" d="M1069 1138l14 11 7 4-13 17zM1090 1153l14 21 7-36-13-27zM1083 1149l13 22 8 3-14-21z"/><path class="k16" d="M1111 1138l14 42 7-21-13-28zM1237 1111l14 5 7-19-14 20z"/><path class="k6" d="M1132 1159l14 18 7-29-13-7zM1153 1148l14 9 7 5-13-23zM1062 1165l13 19 8-35-14-11zM1104 1174l13-7 8 13-14-42zM1167 1157l13 23 8-10-14-8z"/><path class="k7" d="M1174 1162l14 8 7-14-13 4zM1195 1156l14 4 7-4-13-7zM1216 1156l14-44 7-1-14 16zM1125 1180l13 0 8-3-14-18zM1209 1160l13-15 8-33-14 44z"/><path class="k2" d="M956 1237l14 14 7-34-13 24z"/><path class="k12" d="M1041 1234l13-24 8-45-14 38z"/><path class="k4" d="M1146 1177l13-33 8 13-14-9z"/><path class="k5" d="M1188 1170l13-8 8-2-14-4z"/><path class="k18" d="M1230 1112l13 25 8-21-14-5z"/><path class="k9" d="M970 1251l13 5 8-8-14-31zM1047 1238l13-28 8 9-14-9z"/><path class="k12" d="M991 1248l13 14 8-36-13-1z"/><path class="k10" d="M1012 1226l13-5 8 28-13-43zM1054 1210l14 9 7-35-13-19zM1025 1221l14-9 8 26-14 11zM1068 1219l13-30 8-6-14 1z"/><path class="k21" d="M1033 1249l14-11 7-28-13 24z"/><path class="k5" d="M1075 1184l14-1 7-12-13-22zM1138 1180l14-30 7-6-13 33zM1180 1180l14-3 7-15-13 8z"/><path class="k6" d="M1096 1171l14 16 7-20-13 7zM1117 1167l14-16 7 29-13 0zM1201 1162l14-24 7 7-13 15z"/><path class="k17" d="M1159 1144l14 5 7 31-13-23zM1131 1151l13-12 8 11-14 30zM1173 1149l14 3 7 25-14 3zM1215 1138l14 16 7-36-14 27z"/><path class="k8" d="M1222 1145l14-27 7 19-13-25zM1152 1150l14-1 7 0-14-5z"/><path class="k11" d="M983 1256l14 6 7 0-13-14z"/><path class="k14" d="M1004 1262l14-24 7-17-13 5z"/><path class="k7" d="M1089 1183l13 5 8-1-14-16zM1110 1187l13-12 8-24-14 16zM1194 1177l14-25 7-14-14 24z"/><path class="k15" d="M997 1262l13-33 8 9-14 24z"/><path class="k12" d="M1018 1238l13-48 8 22-14 9z"/><path class="k1" d="M1039 1212l13-12 8 10-13 28zM1010 1229l14 24 7-63-13 48z"/><path class="k0" d="M1060 1210l14-11 7-10-13 30z"/><path class="k5" d="M1081 1189l14-4 7 3-13-5zM1031 1190l14 34 7-24-13 12zM1052 1200l14-6 8 5-14 11zM1074 1199l13 2 8-16-14 4z"/><path class="k7" d="M1102 1188l14-56 7 43-13 12zM1095 1185l13-13 8-40-14 56z"/><path class="k6" d="M1123 1175l14-2 7-34-13 12z"/><path class="k16" d="M1144 1139l14 29 8-19-14 1zM1166 1149l13-8 8 11-14-3z"/><path class="k17" d="M1187 1152l13 4 8-4-14 25zM1200 1156l14-16 7 24-13-12z"/><path class="k8" d="M1208 1152l13 12 8-10-14-16zM1137 1173l14 4 7-9-14-29zM1158 1168l14-15 7-12-13 8z"/><path class="k18" d="M1116 1132l13 47 8-6-14 2zM1179 1141l14 15 7 0-13-4z"/><path class="k9" d="M1024 1253l13 16 8-45-14-34z"/><path class="k1" d="M1045 1224l13-2 8-28-14 6z"/><path class="k5" d="M1066 1194l14-16 7 23-13-2z"/><path class="k7" d="M1087 1201l14 25 7-54-13 13z"/><path class="k17" d="M1108 1172l14-2 7 9-13-47z"/><path class="k8" d="M1129 1179l14 10 8-12-14-4zM1151 1177l13 3 8-27-14 15zM1080 1178l13-7 8 55-14-25zM1164 1180l14-17 7-29-13 19z"/><path class="k16" d="M1172 1153l13-19 8 22-14-15zM1193 1156l13-8 8-8-14 16zM1122 1170l14 4 7 15-14-10z"/><path class="k12" d="M1037 1269l14-35 7-12-13 2z"/><path class="k0" d="M1058 1222l14-32 8-12-14 16z"/><path class="k4" d="M1101 1226l13-23 8-33-14 2z"/><path class="k6" d="M1143 1189l14 7 7-16-13-3z"/><path class="k18" d="M1185 1134l14 17 7-3-13 8z"/><path class="k0" d="M1051 1234l13-28 8-16-14 32zM1149 1211l14-48 7 4-13 29z"/><path class="k8" d="M1072 1190l14 6 7-25-13 7zM1086 1196l13-7 8-14-14-4zM1128 1203l14-28 7 36-13-37z"/><path class="k16" d="M1093 1171l14 4 7 28-13 23zM1136 1174l13 37 8-15-14-7zM1107 1175l13 5 8 23-14 0z"/><path class="k6" d="M1114 1203l14 0 8-29-14-4zM1157 1196l13-29 8-4-14 17zM1064 1206l14 18 8-28-14-6z"/><path class="k17" d="M1178 1163l13 15 8-27-14-17zM1170 1167l14 22 7-11-13-15z"/><path class="k5" d="M1078 1224l14-11 7-24-13 7z"/><path class="k16" d="M1099 1189l14 13 7-22-13-5zM1120 1180l14-14 8 9-14 28zM1142 1175l13 6 8-18-14 48zM1163 1163l13 36 8-10-14-22zM1155 1181l14 33 7-15-13-36z"/><path class="k17" d="M1092 1213l13 9 8-20-14-13z"/><path class="k8" d="M1113 1202l13-12 8-24-14 14z"/><path class="k18" d="M1134 1166l14 52 7-37-13-6z"/><path class="k8" d="M1105 1222l14 0 7-32-13 12zM1119 1222l14 3 7 1-14-36z"/><path class="k18" d="M1126 1190l14 36 8-8-14-52z"/><path class="k6" d="M1148 1218l13 10 8-14-14-33zM1140 1226l14 14 7-12-13-10z"/><path class="k8" d="M1133 1225l13-10 8 25-14-14z"/></g>
<path d="M4.5 103.0L117.9 139.3" fill="none" stroke="#3c3c3c" stroke-width="0.8"/>
<path d="M117.9 139.3L177.6 80.0" fill="none" stroke="#3c3c3c" stroke-width="0.8"/>
<path d="M177.6 80.0L177.6 45.2" fill="none" stroke="#3c3c3c" stroke-width="0.8"/>
<path d="M10.9 105.0L8.8 106.7" fill="none" stroke="#333" stroke-width="0.7"/>
<path d="M110.6 137.0L108.7 138.8" fill="none" stroke="#333" stroke-width="0.7"/>
<path d="M121.9 135.3L124.9 136.3" fill="none" stroke="#333" stroke-width="0.7"/>
<path d="M174.4 83.2L177.2 84.0" fill="none" stroke="#333" stroke-width="0.7"/>
<path d="M177.6 65.7L179.3 66.1" fill="none" stroke="#333" stroke-width="0.7"/>
<text x="4.30" y="120.30" font-size="9.55" text-anchor="start" font-weight="normal" font-style="normal" fill="#000" textLength="5.73" lengthAdjust="spacingAndGlyphs" >0</text>
<text x="129.40" y="148.10" font-size="9.55" text-anchor="start" font-weight="normal" font-style="normal" fill="#000" textLength="5.73" lengthAdjust="spacingAndGlyphs" >0</text>
<g transform="translate(45.00,140.50)"><text x="0.00" y="0.00" font-size="9.55" font-style="italic" textLength="5.33" lengthAdjust="spacingAndGlyphs">x</text></g>
<g transform="translate(165.90,121.60)"><text x="0.00" y="0.00" font-size="9.55" font-style="italic" textLength="5.33" lengthAdjust="spacingAndGlyphs">y</text></g>
<g transform="translate(204.20,61.60)"><text x="0.00" y="0.00" font-size="9.55" font-style="italic" textLength="5.70" lengthAdjust="spacingAndGlyphs">h</text></g>
<g transform="translate(100.90,152.10)"><text x="0.00" y="0.00" font-size="9.55" font-style="italic" textLength="5.01" lengthAdjust="spacingAndGlyphs">L</text><text x="5.01" y="1.60" font-size="6.68" font-style="italic" textLength="3.73" lengthAdjust="spacingAndGlyphs">x</text></g>
<g transform="translate(178.00,95.70)"><text x="0.00" y="0.00" font-size="9.55" font-style="italic" textLength="5.01" lengthAdjust="spacingAndGlyphs">L</text><text x="5.01" y="1.60" font-size="6.68" font-style="italic" textLength="3.73" lengthAdjust="spacingAndGlyphs">y</text></g>
<g transform="translate(186.30,72.20)"><text x="0.00" y="0.00" font-size="9.55" font-style="italic" textLength="5.01" lengthAdjust="spacingAndGlyphs">L</text><text x="5.01" y="1.60" font-size="6.68" font-style="italic" textLength="3.31" lengthAdjust="spacingAndGlyphs">z</text></g>
<text x="17.60" y="15.00" font-size="15.91" text-anchor="start" font-weight="bold" font-style="normal" fill="#000" textLength="10.12" lengthAdjust="spacingAndGlyphs" >a</text>
<defs><linearGradient id="cba" x1="0" y1="0" x2="0" y2="1"><stop offset="0" stop-color="#c00c30"/><stop offset="0.08" stop-color="#d80c2e"/><stop offset="0.2" stop-color="#ec0c2a"/><stop offset="0.41" stop-color="#f5142a"/><stop offset="0.44" stop-color="#f83a2c"/><stop offset="0.47" stop-color="#fc6432"/><stop offset="0.5" stop-color="#fd8d3c"/><stop offset="0.65" stop-color="#feb04c"/><stop offset="0.76" stop-color="#fed070"/><stop offset="0.86" stop-color="#fee49a"/><stop offset="1" stop-color="#fffcc8"/></linearGradient></defs>
<rect x="224.6" y="32.4" width="6.200000000000017" height="88.9" fill="url(#cba)" stroke="#505050" stroke-width="0.8"/>
<line x1="230.8" y1="32.40" x2="232.8" y2="32.40" stroke="#333" stroke-width="0.6"/>
<g transform="translate(235.10,36.00)"><text x="0.00" y="0.00" font-size="9.55" font-style="italic" textLength="5.01" lengthAdjust="spacingAndGlyphs">L</text><text x="5.51" y="1.60" font-size="6.68" font-style="italic" textLength="3.31" lengthAdjust="spacingAndGlyphs">z</text></g>
<line x1="230.8" y1="76.85" x2="232.8" y2="76.85" stroke="#333" stroke-width="0.6"/>
<g transform="translate(235.10,80.45)"><text x="0.00" y="0.00" font-size="9.55" font-style="italic" textLength="5.01" lengthAdjust="spacingAndGlyphs">L</text><text x="5.51" y="1.60" font-size="6.68" font-style="italic" textLength="3.31" lengthAdjust="spacingAndGlyphs">z</text><text x="10.82" y="0.00" font-size="9.55" font-style="normal" textLength="3.03" lengthAdjust="spacingAndGlyphs">/</text><text x="14.45" y="0.00" font-size="9.55" font-style="normal" textLength="5.73" lengthAdjust="spacingAndGlyphs">2</text></g>
<line x1="230.8" y1="121.30" x2="232.8" y2="121.30" stroke="#333" stroke-width="0.6"/>
<text x="235.30" y="124.90" font-size="9.55" text-anchor="start" font-weight="normal" font-style="normal" fill="#000" textLength="5.73" lengthAdjust="spacingAndGlyphs" >0</text>
<path d="M3.9 272.0L72.3 220.3L72.3 195.6L3.9 244.4Z" fill="#f7f7f7" />
<path d="M72.3 220.3L178.7 249.3L178.7 222.9L72.3 195.6Z" fill="#f1f1f1" />
<path d="M3.9 272.0L118.6 308.6L178.7 249.3L72.3 220.3Z" fill="#f4f4f4" />
<path d="M10.3 274.0L78.3 221.9L78.3 197.2" fill="none" stroke="#c8c8c8" stroke-width="0.6"/>
<path d="M111.2 306.2L171.9 247.5L171.9 221.2" fill="none" stroke="#c8c8c8" stroke-width="0.6"/>
<path d="M122.6 304.6L8.5 268.6L8.5 241.2" fill="none" stroke="#c8c8c8" stroke-width="0.6"/>
<path d="M175.5 252.5L68.6 223.1L68.6 198.2" fill="none" stroke="#c8c8c8" stroke-width="0.6"/>
<path d="M3.9 260.5L72.3 210.0L178.7 238.3" fill="none" stroke="#9a9a9a" stroke-width="0.6"/>
<path d="M3.9 272.0L3.9 244.4L72.3 195.6L178.7 222.9L178.7 249.3" fill="none" stroke="#e6e6e6" stroke-width="0.5"/>
<g transform="scale(.1)" stroke-width="3"><path class="k22" d="M736 2237l17-2 9-13-16 5z"/><path class="k23" d="M727 2249l16 5 10-19-17 2z"/><path class="k24" d="M753 2235l16-2 10-10-17-1z"/><path class="k25" d="M717 2252l16 19 10-17-16-5zM707 2266l16 3 10 2-16-19z"/><path class="k22" d="M743 2254l16-10 10-11-16 2z"/><path class="k26" d="M769 2233l16 11 10-25-16 4z"/><path class="k27" d="M733 2271l16-3 10-24-16 10z"/><path class="k28" d="M759 2244l16 6 10-6-16-11z"/><path class="k29" d="M785 2244l16-14 10-2-16-9z"/><path class="k30" d="M697 2271l16-1 10-1-16-3zM687 2271l16 10 10-11-16 1zM713 2270l16-12 10 12-16-1z"/><path class="k27" d="M723 2269l16 1 10-2-16 3z"/><path class="k23" d="M749 2268l16-20 10 2-16-6zM739 2270l16-10 10-12-16 20z"/><path class="k24" d="M775 2250l17-3 9-17-16 14zM792 2247l16 20 10-24-17-13z"/><path class="k31" d="M801 2230l17 13 9-3-16-12z"/><path class="k28" d="M765 2248l17 16 10-17-17 3z"/><path class="k32" d="M818 2243l16 11 10-5-17-9z"/><path class="k33" d="M677 2270l16 12 10-1-16-10zM808 2267l16-3 10-10-16-11z"/><path class="k34" d="M703 2281l16 5 10-28-16 12zM666 2291l17 4 10-13-16-12zM693 2282l16 8 10-4-16-5z"/><path class="k32" d="M729 2258l16 6 10-4-16 10z"/><path class="k30" d="M755 2260l17 9 10-5-17-16zM782 2264l16 15 10-12-16-20zM745 2264l17 9 10-4-17-9z"/><path class="k26" d="M834 2254l16 9 10-6-16-8z"/><path class="k23" d="M719 2286l16-1 10-21-16-6z"/><path class="k22" d="M772 2269l16 16 10-6-16-15zM850 2263l17-5 9 10-16-11z"/><path class="k25" d="M798 2279l16-19 10 4-16 3z"/><path class="k24" d="M824 2264l17 17 9-18-16-9z"/><path class="k33" d="M656 2304l17-6 10-3-17-4zM788 2285l17 4 9-29-16 19zM805 2289l16-11 10-7-17-11z"/><path class="k22" d="M683 2295l16 7 10-12-16-8zM646 2310l16-6 11-6-17 6z"/><path class="k23" d="M709 2290l16 12 10-17-16 1zM699 2302l16 7 10-7-16-12zM778 2288l17-3 10 4-17-4zM883 2282l17 1 9-18-16 18z"/><path class="k34" d="M735 2285l17-3 10-9-17-9z"/><path class="k30" d="M762 2273l16 15 10-3-16-16zM752 2282l16 17 10-11-16-15z"/><path class="k32" d="M814 2260l17 11 10 10-17-17zM867 2258l16 24 10 1-17-15z"/><path class="k25" d="M841 2281l16-11 10-12-17 5z"/><path class="k29" d="M673 2298l16 9 10-5-16-7z"/><path class="k35" d="M725 2302l17-6 10-14-17 3z"/><path class="k26" d="M831 2271l16 11 10-12-16 11z"/><path class="k28" d="M857 2270l16-1 10 13-16-24z"/><path class="k23" d="M636 2313l16 6 10-15-16 6zM864 2294l16 2 10-20-17-7z"/><path class="k32" d="M662 2304l17 0 10 3-16-9zM821 2278l16 22 10-18-16-11zM847 2282l17 12 9-25-16 1zM890 2276l16-1 10-5-16 13z"/><path class="k22" d="M689 2307l16 9 10-7-16-7zM652 2319l17-4 10-11-17 0zM811 2297l17 5 9-2-16-22z"/><path class="k33" d="M715 2309l17-2 10-11-17 6zM837 2300l17-5 10-1-17-12z"/><path class="k29" d="M742 2296l16 2 10 1-16-17zM732 2307l16 7 10-16-16-2z"/><path class="k34" d="M768 2299l17-8 10-6-17 3zM795 2285l16 12 10-19-16 11zM900 2283l16-13 10-5-17 0zM785 2291l16 14 10-8-16-12z"/><path class="k28" d="M873 2269l17 7 10 7-17-1z"/><path class="k27" d="M626 2328l16-12 10 3-16-6z"/><path class="k30" d="M679 2304l16 13 10-1-16-9z"/><path class="k25" d="M705 2316l17 10 10-19-17 2z"/><path class="k24" d="M758 2298l17 4 10-11-17 8z"/><path class="k26" d="M916 2270l17 18 9-20-16-3z"/><path class="k28" d="M615 2316l17 6 10-6-16 12zM854 2295l16 10 10-9-16-2zM906 2275l17 26 10-13-17-18z"/><path class="k32" d="M642 2316l16-5 11 4-17 4zM632 2322l16 16 10-27-16 5zM658 2311l17 39 10-19-16-16z"/><path class="k22" d="M669 2315l16 16 10-14-16-13zM748 2314l17-14 10 2-17-4zM880 2296l17-2 9-19-16 1zM605 2335l16 15 11-28-17-6zM712 2326l16-4 10-13-16 17zM791 2309l17-2 10 13-17-15zM923 2301l17 4 9-9-16-8z"/><path class="k25" d="M695 2317l17 9 10 0-17-10zM828 2302l16 6 10-13-17 5zM685 2331l17 5 10-10-17-9zM818 2320l16-7 10-5-16-6z"/><path class="k23" d="M722 2326l16-17 10 5-16-7zM844 2308l17-2 9-1-16-10zM949 2296l17 5 10-8-17-5z"/><path class="k30" d="M775 2302l16 7 10-4-16-14zM897 2294l16 14 10-7-17-26z"/><path class="k34" d="M801 2305l17 15 10-18-17-5zM870 2305l17-3 10-8-17 2z"/><path class="k33" d="M933 2288l16 8 10-8-17-20z"/><path class="k29" d="M738 2309l17 0 10-9-17 14z"/><path class="k26" d="M765 2300l16 9 10 0-16-7z"/><path class="k30" d="M595 2334l16 5 10 11-16-15zM584 2343l17 4 10-8-16-5zM611 2339l17 12 10 0-17-1z"/><path class="k35" d="M621 2350l17 1 10-13-16-16zM966 2301l17 9 9-10-16-7zM956 2317l17 10 10-17-17-9zM983 2310l16-15 10 17-17-12z"/><path class="k34" d="M648 2338l17 16 10-4-17-39zM887 2302l17 10 9-4-16-14zM718 2333l17 4 10-17-17 2z"/><path class="k36" d="M675 2350l16-9 11-5-17-5z"/><path class="k23" d="M702 2336l16-3 10-11-16 4zM834 2313l17 0 10-7-17 2zM861 2306l16-7 10 3-17 3zM824 2315l17-7 10 5-17 0zM930 2318l17 4 9-5-16-12z"/><path class="k24" d="M728 2322l17-2 10-11-17 0zM798 2312l16 20 10-17-16-8z"/><path class="k37" d="M755 2309l16 12 10-12-16-9z"/><path class="k29" d="M781 2309l17 3 10-5-17 2z"/><path class="k22" d="M808 2307l16 8 10-2-16 7z"/><path class="k33" d="M913 2308l17 10 10-13-17-4zM940 2305l16 12 10-16-17-5zM904 2312l16-2 10 8-17-10z"/><path class="k25" d="M638 2351l16-8 11 11-17-16zM691 2341l17-6 10-2-16 3z"/><path class="k27" d="M665 2354l16 3 10-16-16 9z"/><path class="k38" d="M745 2320l16 1 10 0-16-12z"/><path class="k28" d="M771 2321l17 2 10-11-17-3zM877 2299l17 16 10-3-17-10z"/><path class="k26" d="M851 2313l16 0 10-14-16 7z"/><path class="k34" d="M574 2366l16-16 11-3-17-4zM628 2351l16 3 10-11-16 8zM644 2354l17 9 10 4-17-24zM804 2346l17-2 10-9-17-3z"/><path class="k24" d="M601 2347l16 14 11-10-17-12zM654 2343l17 24 10-10-16-3z"/><path class="k35" d="M681 2357l17 5 10-27-17 6zM671 2367l16-9 11 4-17-5zM963 2330l17 2 10-18-17 13z"/><path class="k28" d="M708 2335l16 12 11-10-17-4z"/><path class="k32" d="M735 2337l16 2 10-18-16-1zM590 2350l17 17 10-6-16-14zM884 2322l17-1 9 6-16-12z"/><path class="k38" d="M761 2321l17 4 10-2-17-2z"/><path class="k29" d="M788 2323l16 23 10-14-16-20z"/><path class="k22" d="M814 2332l17 3 10-27-17 7zM894 2315l16 12 10-17-16 2zM920 2310l17 14 10-2-17-4zM999 2295l17 23 9-19-16 13zM724 2347l17-5 10-3-16-2zM1016 2318l17-12 9-8-17 1z"/><path class="k26" d="M841 2308l16 0 10 5-16 0zM778 2325l16 12 10 9-16-23z"/><path class="k37" d="M867 2313l17 9 10-7-17-16zM751 2339l17-4 10-10-17-4z"/><path class="k25" d="M947 2322l16 8 10-3-17-10zM563 2371l17 9 10-30-16 16zM910 2327l17 8 10-11-17-14z"/><path class="k36" d="M973 2327l17-13 9-19-16 15z"/><path class="k30" d="M617 2361l17 13 10-20-16-3zM831 2335l17-14 9-13-16 0z"/><path class="k33" d="M698 2362l16-9 10-6-16-12z"/><path class="k31" d="M857 2308l17 8 10 6-17-9z"/><path class="k23" d="M937 2324l17 8 9-2-16-8zM990 2314l16 9 10-5-17-23z"/><path class="k25" d="M553 2384l16 10 11-14-17-9zM580 2380l16-3 11-10-17-17zM634 2374l16-3 11-8-17-9zM980 2332l17-5 9-4-16-9zM569 2394l17-5 10-12-16 3z"/><path class="k28" d="M607 2367l16 10 11-3-17-13zM794 2337l17 23 10-16-17 2zM891 2333l17 12 9-10-16-14z"/><path class="k34" d="M661 2363l16 3 10-8-16 9zM714 2353l17-1 10-10-17 5zM623 2377l17 8 10-14-16 3zM944 2332l17 3 9-7-16 4zM1049 2325l17 11 10-13-17 2z"/><path class="k33" d="M687 2358l17-6 10 1-16 9zM677 2366l17 5 10-19-17 6zM758 2358l16-7 10 11-16-27zM784 2362l17 3 10-5-17-23z"/><path class="k26" d="M741 2342l17 16 10-23-17 4zM768 2335l16 27 10-25-16-12zM848 2321l16 5 10-10-17-8z"/><path class="k22" d="M821 2344l17 0 10-23-17 14zM927 2335l17-3 10 0-17-8zM997 2327l17 3 9-6-17-1zM1023 2324l17 13 9-12-16-19z"/><path class="k31" d="M874 2316l17 17 10-12-17 1zM864 2326l17 1 10 6-17-17z"/><path class="k32" d="M901 2321l16 14 10 0-17-8zM596 2377l17 13 10-13-16-10z"/><path class="k23" d="M954 2332l16-4 10 4-17-2zM970 2328l17 11 10-12-17 5z"/><path class="k30" d="M1006 2323l17 1 10-18-17 12zM650 2371l17-11 10 6-16-3zM838 2344l16-8 10-10-16-5zM917 2335l17 5 10-8-17 3z"/><path class="k24" d="M1033 2306l16 19 10 0-17-27zM704 2352l17 3 10-3-17 1z"/><path class="k29" d="M542 2377l17 21 10-4-16-10zM731 2352l16 1 11 5-17-16z"/><path class="k35" d="M811 2360l17 1 10-17-17 0z"/><path class="k30" d="M532 2390l16 1 11 7-17-21zM934 2340l17 3 10-8-17-3zM1014 2330l16 8 10-1-17-13zM737 2371l17 12 10-15-17-15zM764 2368l17 15 10-12-17-20zM924 2351l17-1 10-7-17-3zM951 2343l17 9 9-3-16-14zM1083 2321l17 13 9-4-16-17z"/><path class="k39" d="M559 2398l16 0 11-9-17 5z"/><path class="k35" d="M586 2389l16-3 11 4-17-13z"/><path class="k33" d="M613 2390l17 4 10-9-17-8zM801 2365l17-6 10 2-17-1zM828 2361l16-3 10-22-16 8z"/><path class="k34" d="M640 2385l16-19 11-6-17 11zM791 2371l17-2 10-10-17 6zM844 2358l17-3 10-17-17-2z"/><path class="k32" d="M667 2360l16 9 11 2-17-5z"/><path class="k25" d="M694 2371l16 2 11-18-17-3zM987 2339l17 13 10-22-17-3zM1066 2336l17-15 10-8-17 10zM1004 2352l17-3 9-11-16-8z"/><path class="k29" d="M721 2355l16 16 10-18-16-1zM656 2366l17 4 10-1-16-9zM683 2369l17 7 10-3-16-2zM710 2373l17 5 10-7-16-16z"/><path class="k24" d="M747 2353l17 15 10-17-16 7zM521 2389l17 10 10-8-16-1z"/><path class="k28" d="M774 2351l17 20 10-6-17-3zM898 2348l16 22 10-19-16-6z"/><path class="k26" d="M854 2336l17 2 10-11-17-1z"/><path class="k40" d="M881 2327l17 21 10-3-17-12z"/><path class="k22" d="M908 2345l16 6 10-11-17-5zM548 2391l17 6 10 1-16 0zM1030 2338l17 11 10-5-17-7z"/><path class="k23" d="M961 2335l16 14 10-10-17-11zM1040 2337l17 7 9-8-17-11zM602 2386l17 9 11-1-17-4zM630 2394l16-4 10-24-16 19zM818 2359l16 10 10-11-16 3zM977 2349l17-5 10 8-17-13z"/><path class="k27" d="M575 2398l17 5 10-17-16 3zM1057 2344l17-4 9-19-17 15z"/><path class="k38" d="M871 2338l17 7 10 3-17-21z"/><path class="k30" d="M511 2400l16 16 11-17-17-10zM565 2397l16 17 11-11-17-5zM851 2372l17-5 10 6-17-18zM984 2354l17 1 10 0-17-11zM1038 2347l17 5 9-7-17 4z"/><path class="k28" d="M538 2399l16 4 11-6-17-6zM673 2370l17 8 10-2-17-7z"/><path class="k35" d="M592 2403l17 2 10-10-17-9zM781 2383l16 0 11-14-17 2zM905 2368l16 14 10-17-17 5z"/><path class="k34" d="M619 2395l17-6 10 1-16 4zM808 2369l16 18 10-18-16-10zM941 2350l17-2 10 4-17-9zM968 2352l16 2 10-10-17 5zM1100 2334l17-4 9-5-17 5zM527 2416l17-7 10-6-16-4zM1064 2345l17 8 10-11-17-2zM1117 2330l17 17 9-6-17-16z"/><path class="k22" d="M646 2390l17-8 10-12-17-4zM500 2411l16 15 11-10-16-16zM878 2373l17 10 10-15-17-23z"/><path class="k24" d="M700 2376l17 11 10-9-17-5zM994 2344l17 11 10-6-17 3zM554 2403l17 15 10-4-16-17zM636 2389l16 5 11-12-17 8zM690 2378l16 15 11-6-17-11zM958 2348l17 14 9-8-16-2z"/><path class="k32" d="M727 2378l17 21 10-16-17-12zM663 2382l16-1 11-3-17-8z"/><path class="k23" d="M754 2383l17 0 10 0-17-15zM834 2369l17 3 10-17-17 3zM1021 2349l17-2 9 2-17-11zM581 2414l17 13 11-22-17-2zM609 2405l16 4 11-20-17 6zM771 2383l16 12 10-12-16 0zM931 2365l17-5 10-12-17 2zM1011 2355l17-3 10-5-17 2z"/><path class="k29" d="M861 2355l17 18 10-28-17-7zM717 2387l16 8 11 4-17-21z"/><path class="k37" d="M888 2345l17 23 9 2-16-22z"/><path class="k25" d="M914 2370l17-5 10-15-17 1zM1047 2349l17-4 10-5-17 4zM1074 2340l17 2 9-8-17-13zM744 2399l16-10 11-6-17 0zM797 2383l17-13 10 17-16-18zM1091 2342l16-2 10-10-17 4z"/><path class="k33" d="M824 2387l17-14 10-1-17-3z"/><path class="k22" d="M489 2420l17 18 10-12-16-15zM571 2418l17 11 10-2-17-13zM760 2389l17-1 10 7-16-12zM975 2362l17 2 9-9-17-1zM1001 2355l17 6 10-9-17 3zM1107 2340l17-4 10 11-17-17zM560 2419l17 12 11-2-17-11zM858 2382l17 2 10-3-17-14zM885 2381l17 7 10-20-17 15zM1018 2361l17 9 10-11-17-7zM1045 2359l17 9 9-15-16-1zM1071 2353l17 4 10-10-17 6z"/><path class="k33" d="M516 2426l17 9 11-26-17 7zM533 2435l17-10 10-6-16-10zM615 2420l16-18 11 6-17 1z"/><path class="k32" d="M544 2409l16 10 11-1-17-15zM804 2380l17 19 10-22-17-7zM831 2377l17 6 10-1-17-9zM965 2365l17 1 10-2-17-2z"/><path class="k27" d="M598 2427l17-7 10-11-16-4zM921 2382l17-1 10-21-17 5zM588 2429l16 2 11-11-17 7z"/><path class="k23" d="M625 2409l17-1 10-14-16-5zM733 2395l17 10 10-16-16 10zM895 2383l17-15 9 14-16-14zM1055 2352l16 1 10 0-17-8zM478 2431l17 3 11 4-17-18zM938 2381l17-10 10-6-17-5z"/><path class="k24" d="M652 2394l17 1 10-14-16 1zM696 2398l17 14 10-13-17-6z"/><path class="k37" d="M679 2381l17 17 10-5-16-15z"/><path class="k29" d="M706 2393l17 6 10-4-16-8zM868 2367l17 14 10 2-17-10zM1028 2352l17 7 10-7-17-5zM669 2395l17 26 10-23-17-17zM777 2388l17 6 10-14-17 15zM1098 2347l17 8 9-19-17 4z"/><path class="k34" d="M787 2395l17-15 10-10-17 13zM1134 2347l17 6 9-4-17-8zM642 2408l17-9 10-4-17-1zM723 2399l17 11 10-5-17-10z"/><path class="k28" d="M814 2370l17 7 10-4-17 14zM841 2373l17 9 10-15-17 5zM912 2368l16 24 10-11-17 1zM1124 2336l17 29 10-12-17-6z"/><path class="k30" d="M948 2360l17 5 10-3-17-14zM992 2364l17 15 9-18-17-6z"/><path class="k25" d="M1081 2353l17-6 9-7-16 2zM1151 2353l17 11 9-22-17 7z"/><path class="k35" d="M506 2438l16-5 11 2-17-9zM750 2405l17 1 10-18-17 1z"/><path class="k38" d="M468 2414l16 35 11-15-17-3z"/><path class="k22" d="M495 2434l17-2 10 1-16 5zM821 2399l17 1 10-17-17-6z"/><path class="k30" d="M522 2433l17 12 11-20-17 10zM550 2425l16 8 11-2-17-12zM484 2449l17 1 11-18-17 2zM566 2433l17-1 11-6-17 5zM1105 2362l18 14 9-27-17 6z"/><path class="k34" d="M577 2431l17-5 10 5-16-2zM875 2384l17 0 10 4-17-7zM902 2388l17-1 9 5-16-24zM1009 2379l17-6 9-3-17-9zM1062 2368l17 8 9-19-17-4zM703 2418l16 11 11-15-17-2zM757 2411l17-2 10-2-17-1zM784 2407l17 1 10 4-17-18zM811 2412l17 4 10-16-17-1zM892 2384l17 19 10-16-17 1zM919 2387l16 14 10 1-17-10zM999 2388l17 2 10-17-17 6z"/><path class="k35" d="M604 2431l17-7 10-22-16 18zM686 2421l17-3 10-6-17-14z"/><path class="k32" d="M631 2402l17-1 11-2-17 9zM659 2399l16 25 11-3-17-26z"/><path class="k25" d="M713 2412l17 2 10-4-17-11zM1168 2364l17-18 9-7-17 3zM675 2424l17-1 11-5-17 3z"/><path class="k23" d="M740 2410l17 1 10-5-17-1zM539 2445l17-9 10-3-16-8zM730 2414l17 16 10-19-17-1zM945 2402l17-13 10-8-17-10zM1079 2376l17-14 9 0-17-5z"/><path class="k33" d="M767 2406l17 1 10-13-17-6zM928 2392l17 10 10-31-17 10z"/><path class="k28" d="M794 2394l17 18 10-13-17-19zM848 2383l17 3 10-2-17-2zM955 2371l17 10 10-15-17-1zM982 2366l17 22 10-9-17-15zM457 2443l16 10 11-4-16-35zM512 2432l16 29 11-16-17-12zM621 2424l17-11 10-12-17 1zM972 2381l17 14 10-7-17-22zM1132 2349l17 30 10-17-18 3z"/><path class="k29" d="M1035 2370l17-7 10 5-17-9zM1115 2355l17-6 9 16-17-29zM594 2426l16 13 11-15-17 7zM838 2400l17 11 10-25-17-3zM865 2386l17 20 10-22-17 0zM1185 2346l17 3 9-2-17-8z"/><path class="k24" d="M1088 2357l17 5 10-7-17-8zM1026 2373l17 17 9-27-17 7zM1052 2363l17 13 10 0-17-8z"/><path class="k27" d="M1141 2365l18-3 9 2-17-11z"/><path class="k31" d="M648 2401l17 27 10-4-16-25z"/><path class="k41" d="M1159 2362l17 7 9-23-17 18z"/><path class="k22" d="M446 2458l16 9 11-14-16-10zM692 2423l17 10 10-4-16-11zM801 2408l17 8 10 0-17-4zM818 2416l17 7 10-8-17 1zM952 2396l17 21 10-17-17-11zM979 2400l17-8 10 9-17-6zM1060 2388l17-13 9-18-17 19zM1140 2377l17-2 9 2-17 2zM1193 2369l17-11 9 6-17-15zM1219 2364l17 15 10-19-17-5z"/><path class="k24" d="M473 2453l17 0 11-3-17-1z"/><path class="k23" d="M501 2450l17 7 10 4-16-29zM855 2411l17 1 10-6-17-20zM909 2403l17 9 9-11-16-14zM962 2389l17 11 10-5-17-14zM989 2395l17 6 10-11-17-2zM1043 2390l17-2 9-12-17-13zM709 2433l17 6 10 4-17-14zM1033 2400l17 4 10-16-17 2z"/><path class="k25" d="M528 2461l17-6 11-19-17 9zM747 2430l16-4 11-17-17 2zM1123 2376l17 1 9 2-17-30zM1176 2369l17 0 9-20-17-3zM435 2473l17-6 10 0-16-9zM736 2443l17-27 10 10-16 4zM872 2412l17-1 10-5-17 0zM899 2406l17 21 10-15-17-9zM926 2412l17-2 9-14-17 5z"/><path class="k28" d="M556 2436l16-4 11 0-17 1zM665 2428l17-5 10 0-17 1zM774 2409l17 9 10-10-17-1zM1202 2349l17 15 10-9-18-8zM627 2430l17-3 11-10-17-4z"/><path class="k29" d="M583 2432l17 5 10 2-16-13zM490 2453l17-2 11 6-17-7zM1113 2372l17-5 10 10-17-1z"/><path class="k34" d="M610 2439l17-9 11-17-17 11zM828 2416l17-1 10-4-17-11zM1069 2376l17-19 10 5-17 14zM545 2455l17-8 10-15-16 4zM682 2423l17 13 10-3-17-10zM845 2415l17-6 10 3-17-1z"/><path class="k38" d="M638 2413l17 4 10 11-17-27z"/><path class="k33" d="M719 2429l17 14 11-13-17-16zM882 2406l17 0 10-3-17-19zM935 2401l17-5 10-7-17 13zM1016 2390l17 10 10-10-17-17z"/><path class="k42" d="M1096 2362l17 10 10 4-18-14z"/><path class="k27" d="M1149 2379l17-2 10-8-17-7z"/><path class="k30" d="M462 2467l17 1 11-15-17 0zM518 2457l16 0 11-2-17 6zM763 2426l17 6 11-14-17-9zM791 2418l16 8 11-10-17-8z"/><path class="k32" d="M572 2432l17 12 11-7-17-5zM600 2437l17 7 10-14-17 9z"/><path class="k40" d="M655 2417l16 29 11-23-17 5z"/><path class="k35" d="M1006 2401l17-18 10 17-17-10zM1166 2377l17-1 10-7-17 0z"/><path class="k31" d="M1086 2357l17 18 10-3-17-10z"/><path class="k33" d="M424 2475l17 1 11-9-17 6zM969 2417l17-4 10-21-17 8zM1050 2404l17-6 10-23-17 13zM661 2456l17-3 10-5-17-2zM986 2413l18 0 9 0-17-21z"/><path class="k23" d="M452 2467l16 18 11-17-17-1zM479 2468l17 1 11-18-17 2zM889 2411l17 5 10 11-17-21zM943 2410l17-3 9 10-17-21zM688 2448l17-5 11-3-17-4zM797 2434l17 8 10-1-17-15zM879 2424l17 0 10-8-17-5zM1013 2413l17 3 10-20-17-13zM1254 2377l17 14 9-5-17-11z"/><path class="k28" d="M507 2451l17 15 10-9-16 0zM617 2444l16 13 11-30-17 3zM862 2409l17 15 10-13-17 1zM996 2392l17 21 10-30-17 18zM1023 2383l17 13 10 8-17-4zM1157 2375l17 3 9-2-17 1zM579 2445l16 15 11 3-17-19zM1147 2382l17 12 10-16-17-3z"/><path class="k22" d="M534 2457l17 4 11-14-17 8zM699 2436l17 4 10-1-17-6zM1183 2376l17 8 10-26-17 11zM606 2463l17-4 10-2-16-13zM851 2428l17-1 11-3-17-15zM1040 2396l17 8 10-6-17 6z"/><path class="k32" d="M562 2447l17-2 10-1-17-12zM753 2416l17 26 10-10-17-6zM1210 2358l17 9 9 12-17-15zM743 2426l17 22 10-6-17-26z"/><path class="k24" d="M589 2444l17 19 11-19-17-7zM496 2469l17-10 11 7-17-15zM1067 2398l17-2 10-19-17-2zM1174 2378l17 22 9-16-17-8z"/><path class="k42" d="M644 2427l17 29 10-10-16-29zM1130 2367l17 15 10-7-17 2z"/><path class="k25" d="M671 2446l17 2 11-12-17-13zM916 2427l17-15 10-2-17 2z"/><path class="k34" d="M726 2439l17-13 10-10-17 27zM780 2432l17 2 10-8-16-8zM835 2423l16 5 11-19-17 6zM1236 2379l18-2 9-2-17-15zM413 2469l17 17 11-10-17-1zM441 2476l16 11 11-2-16-18zM633 2457l17 4 11-5-17-29zM933 2412l17 12 10-17-17 3zM1200 2384l18 0 9-17-17-9z"/><path class="k30" d="M807 2426l17 15 11-18-17-7zM551 2461l17 12 11-28-17 2zM716 2440l16 7 11-21-17 13zM960 2407l17-4 9 10-17 4z"/><path class="k37" d="M1077 2375l17 2 9-2-17-18zM1103 2375l18 10 9-18-17 5zM1227 2367l17 6 10 4-18 2z"/><path class="k41" d="M468 2485l17-14 11-2-17-1z"/><path class="k29" d="M524 2466l16 1 11-6-17-4zM906 2416l17-8 10 4-17 15zM1121 2385l17 20 9-23-17-15z"/><path class="k35" d="M770 2442l17 5 10-13-17-2zM824 2441l17-7 10-6-16-5z"/><path class="k31" d="M1094 2377l17 21 10-13-18-10z"/><path class="k28" d="M402 2479l17 30 11-23-17-17zM485 2471l17 1 11-13-17 10zM1111 2398l17-3 10 10-17-20zM1244 2373l18 20 9-2-17-14zM695 2447l17 10 10 9-17-23zM1048 2403l17 4 9-2-17-1zM1128 2395l17 12 10 6-17-8z"/><path class="k23" d="M430 2486l16 6 11-5-16-11zM760 2448l17-10 10 9-17-5zM1004 2413l17-9 9 12-17-3zM640 2474l17-2 10-8-17-3zM722 2466l17 1 10-17-17-3zM1262 2393l17 4 9-4-17-2z"/><path class="k25" d="M457 2487l17-9 11-7-17 14zM787 2447l17 3 10-8-17-8zM814 2442l17 3 10-11-17 7zM1138 2405l17 8 9-19-17-12zM1191 2400l17 2 10-18-18 0z"/><path class="k32" d="M513 2459l17 12 10-4-16-1zM923 2408l17 20 10-4-17-12zM977 2403l17 18 10-8-18 0zM502 2472l17 12 11-13-17-12zM777 2438l17 22 10-10-17-3zM858 2431l17-6 11-6-18 8z"/><path class="k30" d="M540 2467l17 15 11-9-17-12zM595 2460l17 11 11-12-17 4zM650 2461l17 3 11-11-17 3zM841 2434l17-3 10-4-17 1z"/><path class="k34" d="M568 2473l17 1 10-14-16-15zM678 2453l17-6 10-4-17 5zM1030 2416l18-13 9 1-17-8zM391 2495l17 2 11 12-17-30zM585 2474l17 5 10-8-17-11zM667 2464l17-1 11-16-17 6zM1021 2404l17 20 10-21-18 13zM1155 2413l17-7 10-6-18-6zM1182 2400l17 12 9-10-17-2z"/><path class="k22" d="M623 2459l17 15 10-13-17-4zM1057 2404l17 1 10-9-17 2zM1164 2394l18 6 9 0-17-22zM1218 2384l17 5 9-16-17-6zM557 2482l17-6 11-2-17-1zM612 2471l17 8 11-5-17-15zM831 2445l17-4 10-10-17 3zM940 2428l17-7 10-2-17 5zM967 2419l17 6 10-4-17-18zM994 2421l17 6 10-23-17 9z"/><path class="k24" d="M705 2443l17 23 10-19-16-7zM474 2478l17 9 11-15-17-1zM530 2471l16 4 11 7-17-15zM749 2450l17 1 11-13-17 10zM1074 2405l18 1 9-2-17-8zM1101 2404l18 14 9-23-17 3zM1235 2389l17 14 10-10-18-20z"/><path class="k29" d="M732 2447l17 3 11-2-17-22zM868 2427l18-8 10 5-17 0zM896 2424l17-4 10-12-17 8zM913 2420l17 16 10-8-17-20z"/><path class="k33" d="M950 2424l17-5 10-16-17 4zM446 2492l17-10 11-4-17 9zM804 2450l17 6 10-11-17-3zM1208 2402l18 0 9-13-17-5z"/><path class="k26" d="M1084 2396l17 8 10-6-17-21z"/><path class="k27" d="M1271 2391l17 2 9-30-17 23z"/><path class="k35" d="M419 2509l16 0 11-17-16-6zM1288 2393l17 0 10 0-18-30z"/><path class="k42" d="M886 2419l17 11 10-10-17 4z"/><path class="k30" d="M380 2501l16 15 12-19-17-2zM519 2484l17 5 10-14-16-4zM574 2476l17 17 11-14-17-5zM657 2472l17 3 10-12-17 1zM1172 2406l17 16 10-10-17-12zM1226 2402l17 11 9-10-17-14zM674 2475l17 18 10-15-17-15z"/><path class="k34" d="M408 2497l16 25 11-13-16 0zM739 2467l17-10 10-6-17-1zM821 2456l17 7 10-22-17 4zM1199 2412l17 5 10-15-18 0zM1252 2403l18 3 9-9-17-4zM1279 2397l17 2 9-6-17 0zM452 2504l17-11 11 12-17-23zM536 2489l16 5 11-7-17-12zM838 2463l17-10 10-8-17-4zM893 2445l17 7 10-11-17-11z"/><path class="k25" d="M435 2509l17-5 11-22-17 10z"/><path class="k24" d="M463 2482l17 23 11-18-17-9zM684 2463l17 15 11-21-17-10zM712 2457l17 17 10-7-17-1zM563 2487l17 11 11-5-17-17zM756 2457l17-4 10 3-17-5z"/><path class="k28" d="M491 2487l17 18 11-21-17-12zM546 2475l17 12 11-11-17 6zM903 2430l17 11 10-5-17-16zM957 2421l17 6 10-2-17-6zM783 2456l17 2 11-8-17 10zM1109 2410l17 21 10-6-17-7z"/><path class="k22" d="M602 2479l17 1 10-1-17-8zM629 2479l17 1 11-8-17 2zM766 2451l17 5 11 4-17-22zM930 2436l17 11 10-26-17 7zM1145 2407l18 2 9-3-17 7zM619 2480l17-3 10 3-17-1zM729 2474l17-1 10-16-17 10zM1323 2397l17 4 9-13-17 0z"/><path class="k33" d="M794 2460l17-10 10 6-17-6zM1011 2427l17-5 10 2-17-20zM1119 2418l17 7 9-18-17-12zM1305 2393l18 4 9-9-17 5zM396 2516l17-8 11 14-16-25zM591 2493l17-3 11-10-17-1zM947 2447l17 6 10-26-17-6zM1136 2425l17 1 10-17-18-2zM1243 2413l17-4 10-3-18-3z"/><path class="k32" d="M848 2441l17 4 10-20-17 6zM984 2425l17 25 10-23-17-6zM865 2445l17-1 11 1-18-20zM920 2441l17 3 10 3-17-11zM974 2427l17 22 10 1-17-25zM1055 2414l17 12 10-9-17-10z"/><path class="k26" d="M875 2425l18 20 10-15-17-11zM1065 2407l17 10 10-11-18-1zM1092 2406l17 4 10 8-18-14zM811 2450l17 3 10 10-17-7z"/><path class="k23" d="M1038 2424l17-10 10-7-17-4zM369 2523l16 11 11-18-16-15zM480 2505l17 4 11-4-17-18zM646 2480l17 5 11-10-17-3zM1189 2422l18-6 9 1-17-5zM1270 2406l17 9 9-16-17-2zM1296 2399l18 4 9-6-18-4z"/><path class="k35" d="M424 2522l17-25 11 7-17 5zM508 2505l17 1 11-17-17-5z"/><path class="k29" d="M701 2478l17 2 11-6-17-17zM1028 2422l17-2 10-6-17 10zM1082 2417l17-3 10-4-17-4zM1163 2409l17 5 9 8-17-16zM1216 2417l18-4 9 0-17-11z"/><path class="k27" d="M1001 2450l17-8 10-20-17 5z"/><path class="k22" d="M357 2524l17 11 11-1-16-11zM497 2509l17-8 11 5-17-1zM1018 2442l17-1 10-21-17 2zM1207 2416l17 14 10-17-18 4zM430 2514l17 8 11 1-17-26zM981 2441l17 13 10-3-17-2zM1170 2434l18-11 9 0-17-9zM1304 2423l18-6 9-8-17-6z"/><path class="k33" d="M385 2534l17 1 11-27-17 8zM964 2453l17-12 10 8-17-22zM1287 2415l17 8 10-20-18-4zM900 2460l17-1 10-2-17-5zM1090 2444l17-2 10-19-18-9z"/><path class="k24" d="M413 2508l17 6 11-17-17 25zM800 2458l18 2 10-7-17-3zM708 2478l17 4 10-3-17 1zM763 2470l17 9 10-12-17-14zM1008 2451l18-12 9 2-17 1z"/><path class="k26" d="M441 2497l17 26 11-30-17 11zM469 2493l17 18 11-2-17-4z"/><path class="k34" d="M525 2506l17 13 10-25-16-5zM691 2493l17-15 10 2-17-2zM718 2480l17-1 11-6-17 1zM991 2449l17 2 10-9-17 8zM1126 2431l17 1 10-6-17-1zM1180 2414l17 9 10-7-18 6zM1340 2401l18 4 9-19-18 2zM569 2502l17 13 11-24-17 7zM872 2479l17-8 11-11-18-16zM1143 2432l18-4 9 6-17-8zM1358 2405l17-6 9 5-17-18z"/><path class="k28" d="M552 2494l17 8 11-4-17-11zM636 2477l17 21 10-13-17-5zM663 2485l17 5 11 3-17-18zM828 2453l17 10 10-10-17 10zM855 2453l17 26 10-35-17 1zM882 2444l18 16 10-8-17-7zM910 2452l17 5 10-13-17-3zM937 2444l17 17 10-8-17-6zM1045 2420l18 9 9-3-17-12zM1099 2414l18 9 9 8-17-21zM1260 2409l18 5 9 1-17-9zM514 2501l17 4 11 14-17-13zM680 2490l17-2 11-10-17 15zM790 2467l17 17 11-24-18-2zM818 2460l17 7 10-4-17-10zM927 2457l17 1 10 3-17-17zM1117 2423l17 21 9-12-17-1zM1251 2404l17 7 10 3-18-5z"/><path class="k23" d="M580 2498l17-7 11-1-17 3zM1153 2426l17 8 10-20-17-5zM1234 2413l17-9 9 5-17 4zM346 2545l17-6 11-4-17-11zM458 2523l17 7 11-19-17-18zM542 2519l17-2 10-15-17-8zM653 2498l17 3 10-11-17-5zM735 2479l17 2 11-11-17 3z"/><path class="k32" d="M608 2490l17 10 11-23-17 3zM1072 2426l18 18 9-30-17 3zM597 2491l17 15 11-6-17-10zM845 2463l17 14 10 2-17-26z"/><path class="k29" d="M746 2473l17-3 10-17-17 4z"/><path class="k37" d="M773 2453l17 14 10-9-17-2z"/><path class="k30" d="M1314 2403l17 6 9-8-17-4zM486 2511l17 14 11-24-17 8zM625 2500l17-8 11 6-17-21zM1035 2441l18-1 10-11-18-9zM1063 2429l17 17 10-2-18-18zM1197 2423l18 24 9-17-17-14zM1278 2414l17 18 9-9-17-8zM1331 2409l17-2 10-2-18-4z"/><path class="k25" d="M374 2535l17 0 11 0-17-1zM402 2535l17-7 11-14-17-6zM1224 2430l17-12 10-14-17 9z"/><path class="k35" d="M954 2461l17-14 10-6-17 12z"/><path class="k37" d="M335 2527l17 21 11-9-17 6zM436 2511l17 28 11-10-17-7zM520 2507l17 13 11 0-17-15z"/><path class="k23" d="M363 2539l17-8 11 4-17 0zM559 2517l17 2 10-4-17-13zM1080 2446l17 3 10-7-17 2zM1134 2444l17 10 10-26-18 4zM548 2520l17-2 11 1-17-2zM879 2478l18 7 10-6-18-8zM1097 2449l18-5 9 11-17-13zM1232 2439l17-3 10-8-18-10zM1286 2431l17 13 9-11-17-1z"/><path class="k34" d="M391 2535l17 0 11-7-17 7zM419 2528l17-17 11 11-17-8zM670 2501l17 9 10-22-17 2zM464 2529l17-3 11 23-17-19zM907 2479l17-10 10-8-17-2z"/><path class="k33" d="M447 2522l17 7 11 1-17-7zM862 2477l17 1 10-7-17 8zM1107 2442l17 13 10-11-17-21zM352 2548l17 4 11-21-17 8zM687 2510l17 9 10-15-17-16zM714 2504l17 14 11-25-17-11zM1124 2455l18 8 9-9-17-10zM1312 2433l18-9 9-8-17 1z"/><path class="k41" d="M475 2530l17 19 11-24-17-14zM492 2549l17-30 11-12-17 18z"/><path class="k22" d="M503 2525l17-18 11-2-17-4zM807 2484l17 0 11-17-17-7zM889 2471l18 8 10-20-17 1zM998 2454l18-2 10-13-18 12zM1053 2440l17 18 10-12-17-17zM408 2535l17-1 11-23-17 17zM603 2521l17-9 11-8-17 2zM742 2493l17 6 10-15-17-3zM824 2484l18 2 10-12-17-7zM852 2474l17 12 10-8-17-1zM1070 2458l17 1 10-10-17-3zM1151 2454l18 2 9-29-17 1z"/><path class="k32" d="M531 2505l17 15 11-3-17 2zM752 2481l17 3 11-5-17-9zM917 2459l17 2 10-3-17-1zM1188 2423l17 29 10-5-18-24zM769 2484l18-3 10 2-17-4zM961 2463l18 20 10-29-18-7zM1393 2398l17 22 9-20-17 0z"/><path class="k27" d="M586 2515l17 6 11-15-17-15z"/><path class="k29" d="M614 2506l17-2 11-12-17 8zM725 2482l17 11 10-12-17-2zM1322 2417l17-1 9-9-17 2zM631 2504l17 2 11-2-17-12zM659 2504l17 1 11 5-17-9zM1016 2452l17 6 10-7-17-12zM1205 2452l18-15 9 2-17 8z"/><path class="k26" d="M642 2492l17 12 11-3-17-3zM1026 2439l17 12 10-11-18 1zM1375 2399l18-1 9 2-18 4zM323 2535l17 12 12 1-17-21zM1366 2412l17 18 10-32-18 1z"/><path class="k28" d="M697 2488l17 16 11-22-17-4zM780 2479l17 4 10 1-17-17zM835 2467l17 7 10 3-17-14zM944 2458l17 5 10-16-17 14zM971 2447l18 7 9 0-17-13zM1241 2418l18 10 9-17-17-7zM1268 2411l18 20 9 1-17-18zM1348 2407l18 5 9-13-17 6zM380 2531l17 10 11-6-17 0zM797 2483l17 20 10-19-17 0zM934 2461l17 13 10-11-17-5zM989 2454l17 14 10-16-18 2zM1178 2427l18 11 9 14-17-29zM1259 2428l17 23 10-20-18-20zM1339 2416l18-1 9-3-18-5z"/><path class="k24" d="M1161 2428l17-1 10-4-18 11z"/><path class="k35" d="M1215 2447l17-8 9-21-17 12zM1295 2432l17 1 10-16-18 6zM576 2519l17 16 10-14-17-6z"/><path class="k30" d="M1043 2451l17 22 10-15-17-18z"/><path class="k26" d="M312 2542l17 14 11-9-17-12zM509 2519l17 2 11-1-17-13zM1196 2438l17 2 10-3-18 15zM357 2542l17 13 11 7-16-10zM804 2494l17 20 10-19-17 8zM1186 2445l18 25 9-30-17-2zM1348 2427l17 8 9-13-17-7zM1428 2409l17 10 9-7-17-8z"/><path class="k28" d="M340 2547l17-5 12 10-17-4zM481 2526l17 28 11-35-17 30zM620 2512l18 11 10-17-17-2zM648 2506l17 13 11-14-17-1zM924 2469l17 7 10-2-17-13zM1223 2437l17 6 9-7-17 3zM582 2517l17 34 11-24-17 8zM1023 2461l18 16 9 0-17-19zM1105 2454l17 19 10-12-17-17zM1159 2451l17 3 10-9-17 11zM1374 2422l18 24 9-28-18 12zM1401 2418l18 10 9-19-18 11z"/><path class="k25" d="M369 2552l16 10 12-21-17-10zM1303 2444l18-3 9-17-18 9zM1294 2462l17-14 10-7-18 3z"/><path class="k22" d="M397 2541l17 22 11-29-17 1zM453 2539l17 5 11-18-17 3zM565 2518l17-1 11 18-17-16zM869 2486l17 8 11-9-18-7zM897 2485l17 0 10-16-17 10zM951 2474l18 8 10 1-18-20zM1169 2456l17-11 10-7-18-11zM1410 2420l18-11 9-5-18-4zM442 2553l17 11 11-20-17-5zM610 2527l17 2 11-6-18-11zM776 2504l17 7 11-17-17-13zM859 2495l17 13 10-14-17-8zM886 2494l18 6 10-15-17 0zM941 2476l18 22 10-16-18-8zM996 2478l17-3 10-14-17 7zM1132 2461l17 18 10-28-17 12zM1321 2441l17 1 10-15-18-3z"/><path class="k32" d="M425 2534l17 19 11-14-17-28zM537 2520l17 17 11-19-17 2zM1115 2444l17 17 10 2-18-8zM1330 2424l18 3 9-12-18 1zM1357 2415l17 7 9 8-17-18zM301 2562l17 22 11-28-17-14zM329 2556l17 14 11-28-17 5zM1078 2452l17 10 10-8-18 5zM1213 2440l18 6 9-3-17-6zM1240 2443l18-1 9-2-18-4z"/><path class="k35" d="M593 2535l17-8 10-15-17 9zM1060 2473l18-21 9 7-17-1zM498 2554l17-25 11-8-17-2z"/><path class="k29" d="M676 2505l17 18 11-4-17-9zM1006 2468l17-7 10-3-17-6zM1033 2458l17 19 10-4-17-22zM1249 2436l18 4 9 11-17-23zM470 2544l17 8 11 2-17-28zM638 2523l17-8 10 4-17-13z"/><path class="k23" d="M704 2519l17-5 10 4-17-14zM1142 2463l17-12 10 5-18-2zM385 2562l17 7 12-6-17-22zM665 2519l18 9 10-5-17-18zM749 2500l17 6 10-2-17-5zM1050 2477l18 0 10-25-18 21z"/><path class="k41" d="M731 2518l18-18 10-1-17-6z"/><path class="k30" d="M759 2499l17 5 11-23-18 3zM842 2486l17 9 10-9-17-12zM414 2563l17-4 11-6-17-19zM1267 2440l17 11 10 11-18-11z"/><path class="k37" d="M787 2481l17 13 10 9-17-20z"/><path class="k33" d="M814 2503l17-8 11-9-18-2zM1276 2451l18 11 9-18-17-13zM1383 2430l18-12 9 2-17-22zM554 2537l17 7 11-27-17 1z"/><path class="k34" d="M979 2483l17-5 10-10-17-14zM1087 2459l18-5 10-10-18 5zM693 2523l17-3 11-6-17 5zM721 2514l17-7 11-7-18 18zM969 2482l17 7 10-11-17 5z"/><path class="k43" d="M526 2521l17 28 11-12-17-17z"/><path class="k24" d="M831 2495l18 6 10-6-17-9zM914 2485l17 8 10-17-17-7z"/><path class="k28" d="M289 2569l17 19 12-4-17-22zM374 2555l17 28 11-14-17-7zM627 2529l17 15 11-29-17 8zM738 2507l17-1 11 0-17-6zM1013 2475l18 18 10-16-18-16zM1041 2477l17 2 10-2-18 0zM1176 2454l18 16 10 0-18-25zM1365 2435l18 17 9-6-18-24zM278 2572l17 6 11 10-17-19zM838 2504l18 2 10 6-17-11zM893 2495l18 17 10-25-17 13zM921 2487l17 12 10 6-17-12zM1167 2465l17 5 10 0-18-16zM1221 2453l18 10 9 1-17-18zM1275 2448l18 10 9 0-18-7zM1410 2433l17 20 9-24-17-1z"/><path class="k41" d="M318 2584l17-18 11 4-17-14zM1392 2446l18-13 9-5-18-10z"/><path class="k33" d="M346 2570l17 26 11-41-17-13zM710 2520l18 4 10-17-17 7zM793 2511l18 0 10 3-17-20zM1149 2479l18-14 9-11-17-3zM306 2588l17-12 12-10-17 18zM419 2570l17 18 12-26-17-3zM476 2567l17-11 11 3-17-7zM672 2538l17 6 11-12-17-4zM1031 2493l17-10 10-4-17-2z"/><path class="k23" d="M402 2569l17 1 12-11-17 4zM487 2552l17 7 11-30-17 25zM571 2544l17 1 11 6-17-34zM683 2528l17 4 10-12-17 3zM783 2526l17-10 11-5-18 0zM976 2495l17 10 10-17-17 1zM1302 2458l18-5 9-1-18-4zM1329 2452l18-6 9-12-18 8z"/><path class="k30" d="M431 2559l17 3 11 2-17-11zM543 2549l17-8 11 3-17-7zM655 2515l17 23 11-10-18-9zM821 2514l17-10 11-3-18-6zM904 2500l17-13 10 6-17-8zM1068 2477l17-11 10-4-17-10zM616 2541l17 7 11-4-17-15zM866 2512l17 5 10-22-17 13zM1058 2479l17 3 10-16-17 11z"/><path class="k25" d="M459 2564l17 3 11-15-17-8zM1204 2470l17-17 10-7-18-6zM1311 2448l18 4 9-10-17-1zM504 2559l17-14 11-10-17-6z"/><path class="k40" d="M515 2529l17 6 11 14-17-28z"/><path class="k27" d="M599 2551l17-10 11-12-17-2z"/><path class="k29" d="M766 2506l17 20 10-15-17-7zM1338 2442l18-8 9 1-17-8zM448 2562l17 16 11-11-17-3z"/><path class="k24" d="M849 2501l17 11 10-4-17-13zM931 2493l17 12 11-7-18-22zM560 2541l17 8 11-4-17-1zM728 2524l17 2 10-20-17 1z"/><path class="k34" d="M876 2508l17-13 11 5-18-6zM959 2498l17-3 10-6-17-7zM588 2545l17 9 11-13-17 10zM948 2505l18 9 10-19-17 3zM1003 2488l18 6 10-1-18-18zM1194 2470l17 4 10-21-17 17zM1248 2464l18-2 9-14-17-6z"/><path class="k22" d="M986 2489l17-1 10-13-17 3zM1122 2473l18 9 9-3-17-18zM1284 2451l18 7 9-10-17 14zM644 2544l17 5 11-11-17-23zM700 2532l17-1 11-7-18-4zM811 2511l17 13 10-20-17 10zM1112 2476l18 7 10-1-18-9zM1140 2482l17 5 10-22-18 14zM1383 2452l17-4 10-15-18 13z"/><path class="k26" d="M1095 2462l17 14 10-3-17-19zM1231 2446l17 18 10-22-18 1zM1445 2419l18 2 9-5-18-4z"/><path class="k32" d="M1258 2442l17 6 9 3-17-11zM1419 2428l17 1 9-10-17-10zM335 2566l17-2 11 32-17-26zM755 2506l18 20 10 0-17-20zM1085 2466l18 12 9-2-17-14zM1356 2434l17 20 10-2-18-17zM1436 2429l18 10 9-18-18-2zM1463 2421l18 7 9 12-18-24z"/><path class="k39" d="M363 2596l17-5 11-8-17-28z"/><path class="k35" d="M391 2583l17-7 11-6-17-1z"/><path class="k42" d="M532 2535l17 15 11-9-17 8z"/><path class="k23" d="M266 2600l17-13 12-9-17-6zM493 2556l17 16 11-27-17 14zM1211 2474l18 16 10-27-18-10zM1427 2453l18-1 9-13-18-10zM873 2535l17-7 11-8-18-3z"/><path class="k28" d="M295 2578l17 13 11-15-17 12zM323 2576l17 0 12-12-17 2zM577 2549l17 6 11-1-17-9zM1048 2483l18 15 9-16-17-3zM1075 2482l18 13 10-17-18-12zM1239 2463l17-8 10 7-18 2zM1293 2458l17 0 10-5-18 5zM1347 2446l17 22 9-14-17-20zM1481 2428l17 11 9 3-17-2zM397 2577l17 20 11-10-17-11zM762 2527l17 17 11-11-17-7zM928 2504l18 8 10-5-18-8zM1310 2458l18 3 9 9-17-17zM1498 2439l18 0 9-14-18 17z"/><path class="k26" d="M352 2564l17 10 11 17-17 5zM1147 2475l18 1 10 11-18 0z"/><path class="k33" d="M380 2591l17-14 11-1-17 7zM465 2578l17-9 11-13-17 11zM605 2554l17 4 11-10-17-7zM661 2549l17-1 11-4-17-6zM425 2587l17 8 12-7-18 0zM454 2588l17-2 11-17-17 9zM734 2544l17 8 11-25-17-1zM1011 2514l17-6 10-4-17-10z"/><path class="k22" d="M408 2576l17 11 11 1-17-18zM717 2531l17 13 11-18-17-2zM745 2526l17 1 11-1-18-20zM828 2524l17 0 11-18-18-2zM1373 2454l18 4 9-10-17 4zM312 2591l17-6 11-9-17 0zM566 2561l18 12 10-18-17-6zM594 2555l18 9 10-6-17-4zM1093 2495l17 7 10-22-17-2zM1202 2483l17-11 10 18-18-16zM1391 2458l18 0 9-5-18-5z"/><path class="k27" d="M436 2588l18 0 11-10-17-16zM689 2544l17 4 11-17-17 1z"/><path class="k37" d="M521 2545l17 30 11-25-17-15zM340 2576l17 15 12-17-17-10z"/><path class="k24" d="M549 2550l17 11 11-12-17-8zM800 2516l18 15 10-7-17-13zM1066 2498l17 6 10-9-18-13z"/><path class="k29" d="M633 2548l17-2 11 3-17-5zM883 2517l18 3 10-8-18-17zM938 2499l18 8 10 7-18-9zM1103 2478l17 2 10 3-18-7zM1266 2462l17 5 10-9-18-10zM1400 2448l18 5 9 0-17-20zM650 2546l18 14 10-12-17 1zM790 2533l17 3 11-5-18-15zM818 2531l17 12 10-19-17 0zM845 2524l18 6 10 5-17-29zM956 2507l17 7 10-3-17 3zM1175 2487l17 8 10-12-18-13zM1418 2453l18 0 9-1-18 1z"/><path class="k30" d="M773 2526l17 7 10-17-17 10zM911 2512l17-8 10-5-17-12zM1021 2494l17 10 10-21-17 10zM255 2604l17 0 11-17-17 13zM482 2569l17 8 11-5-17-16zM1283 2467l18 7 9-16-17 0z"/><path class="k32" d="M856 2506l17 29 10-18-17-5zM1454 2439l18 14 9-25-18-7zM283 2587l17 16 12-12-17-13zM369 2574l17 8 11-5-17 14zM1120 2480l18 17 9-22-17 8zM1256 2455l18 30 9-18-17-5z"/><path class="k41" d="M966 2514l17-3 10-6-17-10zM1229 2490l18-18 9-17-17 8z"/><path class="k35" d="M993 2505l18 9 10-20-18-6zM510 2572l17 0 11 3-17-30zM1337 2470l18 10 9-12-17-22z"/><path class="k34" d="M1130 2483l17-8 10 12-17-5zM1157 2487l18 0 9-17-17-5zM1184 2470l18 13 9-9-17-4zM1320 2453l17 17 10-24-18 6zM538 2575l17-9 11-5-17-11zM622 2558l18 5 10-17-17 2zM678 2548l18 3 10-3-17-4zM1038 2504l18-10 10 4-18-15zM1364 2468l18 4 9-14-18-4zM1445 2452l18 15 9-14-18-14z"/><path class="k25" d="M706 2548l18 11 10-15-17-13zM901 2520l17-8 10-8-17 8zM983 2511l18 9 10-6-18-9zM1472 2453l17 15 9-29-17-11z"/><path class="k28" d="M243 2605l17 9 12-10-17 0zM386 2582l17 24 11-9-17-20zM1056 2494l17 15 10-5-17-6zM289 2601l17 20 11-16-17-2zM573 2576l17 3 11-20-17 14zM601 2559l17 18 11-7-17-6zM908 2516l17 23 10-16-17-11zM1507 2447l18 18 9-32-18 6z"/><path class="k22" d="M272 2604l17-3 11 2-17-16zM527 2572l17 17 11-23-17 9zM668 2560l17-5 11-4-18-3zM696 2551l17-6 11 14-18-11zM1409 2458l18 0 9-5-18 0zM1516 2439l18-6 9 11-18-19zM629 2570l17 2 11-9-17 0zM685 2555l17 8 11-18-17 6zM991 2513l17 1 10 4-17 2zM1101 2511l17 1 10-11-18 1zM1155 2501l18-3 10-6-18-16zM1210 2496l18-6 9-1-18-17zM1291 2481l18 3 10-26-18 16zM1427 2458l17 15 9-11-17-9z"/><path class="k30" d="M300 2603l17 2 12-20-17 6zM555 2566l18 10 11-3-18-12zM779 2544l18 5 10-13-17-3zM863 2530l17 16 10-18-17 7zM890 2528l18-12 10-4-17 8zM1028 2508l18-1 10-13-18 10zM1274 2485l17-4 10-7-18-7zM260 2614l17 6 12-19-17 3zM431 2593l17-2 12 0-18 4zM935 2523l18 2 10-11-17-2zM1018 2518l18-5 10-6-18 1zM1073 2509l18 5 10-3-18-7zM1183 2492l17 6 10-2-18-1z"/><path class="k32" d="M329 2585l17 28 11-22-17-15zM1219 2472l18 17 10-17-18 18zM963 2514l18 7 10-8-18 1zM1046 2507l17 9 10-7-17-15zM1319 2458l17 33 10-1-18-29zM1534 2433l18 15 9 0-18-4z"/><path class="k34" d="M357 2591l17 8 12-17-17-8zM1382 2472l18-4 9-10-18 0zM231 2631l17 2 12-19-17-9zM317 2605l17 4 12 4-17-28zM657 2563l17 9 11-17-17 5zM797 2549l17 8 11 0-18-21zM1128 2501l18 22 9-22-17-4zM1400 2468l17-5 10-5-18 0z"/><path class="k33" d="M414 2597l17-4 11 2-17-8zM442 2595l18-4 11-5-17 2zM724 2559l17-8 10 1-17-8zM751 2552l18 1 10-9-17-17zM835 2543l17 3 11-16-18-6zM460 2591l17-5 11 4-17-4zM488 2590l17-3 11 8-17-18zM516 2595l17-7 11 1-17-17zM769 2553l17 18 11-22-18-5zM1237 2489l18 21 9-11-17-27z"/><path class="k23" d="M471 2586l17 4 11-13-17-8zM499 2577l17 18 11-23-17 0zM640 2563l17 0 11-3-18-14zM807 2536l18 21 10-14-17-12zM973 2514l18-1 10 7-18-9zM1083 2504l18 7 9-9-17-7zM1138 2497l17 4 10-25-18-1zM346 2613l17-13 11-1-17-8zM374 2599l17-6 12 13-17-24zM852 2546l18 0 10 0-17-16zM1453 2462l18-1 9 10-17-4z"/><path class="k29" d="M584 2573l17-14 11 5-18-9zM946 2512l17 2 10 0-17-7zM1436 2453l17 9 10 5-18-15zM713 2545l17 20 11-14-17 8zM741 2551l17 9 11-7-18-1z"/><path class="k24" d="M612 2564l17 6 11-7-18-5zM918 2512l17 11 11-11-18-8zM1301 2474l18-16 9 3-18-3zM1328 2461l18 29 9-10-18-10z"/><path class="k41" d="M1001 2520l17-2 10-10-17 6zM1480 2471l18-18 9-6-18 21z"/><path class="k25" d="M1110 2502l18-1 10-4-18-17zM1355 2480l18-2 9-6-18-4zM1463 2467l17 4 9-3-17-15zM544 2589l18-3 11-10-18-10zM825 2557l17-8 10-3-17-3z"/><path class="k26" d="M1165 2476l18 16 9 3-17-8z"/><path class="k35" d="M1192 2495l18 1 9-24-17 11zM403 2606l17-4 11-9-17 4zM1264 2499l18-7 9-11-17 4zM1373 2478l17 3 10-13-18 4z"/><path class="k37" d="M1247 2472l17 27 10-14-18-30z"/><path class="k36" d="M1489 2468l18-21 9-8-18 0z"/><path class="k27" d="M880 2546l17 4 11-34-18 12zM1346 2490l17 1 10-13-18 2z"/><path class="k25" d="M220 2635l17 13 11-15-17-2zM248 2633l17 3 12-16-17-6zM1255 2510l17-12 10-6-18 7zM1390 2481l18 3 9-21-17 5zM265 2636l18 12 11-23-17-5z"/><path class="k22" d="M277 2620l17 5 12-4-17-20zM505 2587l17 25 11-24-17 7zM590 2579l17 13 11-15-17-18zM646 2572l17-6 11 6-17-9zM758 2560l18 3 10 8-17-18zM1118 2512l18-2 10 13-18-22zM1309 2484l18 0 9 7-17-33zM323 2619l17 19 11-29-17 0zM351 2609l18 14 11-21-17-2zM465 2599l18 15 11-12-17-16zM551 2592l17 3 11-14-17 5z"/><path class="k30" d="M306 2621l17-2 11-10-17-4zM674 2572l18-3 10-6-17-8zM730 2565l18 5 10-10-17-9zM925 2539l18 15 10-29-18-2zM1063 2516l18 9 10-11-18-5zM1091 2514l17 10 10-12-17-1zM1417 2463l18 15 9-5-17-15zM208 2633l17 14 12 1-17-13zM1136 2510l17 6 10-10-17 17zM1327 2484l18 14 9-3-18-4z"/><path class="k29" d="M334 2609l17 0 12-9-17 13zM363 2600l17 2 11-9-17 6zM448 2591l17 8 12-13-17 5zM477 2586l17 16 11-15-17 3zM409 2598l17 16 11-6-17-6zM579 2581l17 13 11-2-17-13zM998 2529l18 7 10-12-18-10zM1163 2506l18 0 10-5-18-3zM1218 2495l18 11 9-8-17-8zM1570 2449l18 7 9-3-18-4z"/><path class="k26" d="M391 2593l18 5 11 4-17 4z"/><path class="k33" d="M420 2602l17 6 11-17-17 2zM786 2571l18-2 10-12-17-8zM897 2550l18-5 10-6-17-23zM1336 2491l18 4 9-4-17-1zM1444 2473l18 4 9-16-18 1zM1525 2465l18-12 9-5-18-15zM804 2569l17 4 10-11-17-5zM943 2554l17-1 10-22-17-6zM1462 2477l18 3 9-20-18 1z"/><path class="k23" d="M533 2588l18 4 11-6-18 3zM842 2549l17 6 11-9-18 0zM870 2546l17 16 10-12-17-4zM1282 2492l18 0 9-8-18-3zM1363 2491l18-5 9-5-17-3zM494 2602l17 23 11-13-17-25zM692 2569l17 16 11-14-18-8zM748 2570l17 5 11-12-18-3zM1354 2495l18 6 9-15-18 5zM1381 2486l18 7 9-9-18-3zM1435 2478l18 0 9-1-18-4zM1516 2476l18-15 9-8-18 12z"/><path class="k34" d="M562 2586l17-5 11-2-17-3zM702 2563l18 8 10-6-17-20zM814 2557l17 5 11-13-17 8zM294 2625l17 13 12-19-17 2zM607 2592l17 8 11-23-17 0zM720 2571l17 4 11-5-18-5zM776 2563l17 9 11-3-18 2zM831 2562l18-3 10-4-17-6zM859 2555l18 7 10 0-17-16zM1081 2525l17-7 10 6-17-10zM1108 2524l18 6 10-20-18 2zM1272 2498l18-3 10-3-18 0zM1408 2484l18-1 9-5-18-15z"/><path class="k24" d="M618 2577l17 0 11-5-17-2zM1552 2448l18 1 9 0-18-1zM635 2577l18 14 10-25-17 6zM915 2545l17-5 11 14-18-15zM1191 2501l17 14 10-20-18 3zM1543 2453l18 9 9-13-18-1z"/><path class="k28" d="M953 2525l17 6 11-10-18-7zM1173 2498l18 3 9-3-17-6zM1200 2498l18-3 10-5-18 6zM1228 2490l17 8 10 12-18-21zM1498 2453l18 23 9-11-18-18zM380 2602l17 8 12-12-18-5zM970 2531l18 11 10-13-17-8zM1245 2498l18-2 9 2-17 12zM1300 2492l17-8 10 0-18 0z"/><path class="k32" d="M981 2521l17 8 10-15-17-1zM1008 2514l18 10 10-11-18 5zM1471 2461l18-1 9-7-18 18zM663 2566l18 5 11-2-18 3zM1026 2524l17 2 10-3-17-10zM1053 2523l18 15 10-13-18-9zM1489 2460l18 15 9 1-18-23z"/><path class="k42" d="M1036 2513l17 10 10-7-17-9z"/><path class="k35" d="M1146 2523l17-17 10-8-18 3zM237 2648l17-6 11-6-17-3zM437 2608l17 11 11-20-17-8zM522 2612l18-8 11-12-18-4z"/><path class="k27" d="M887 2562l18 3 10-20-18 5z"/><path class="k27" d="M196 2661l17-4 12-10-17-14z"/><path class="k22" d="M225 2647l17 2 12-7-17 6zM1453 2478l18 14 9-12-18-3zM1561 2462l18 4 9-10-18-7zM1061 2542l18 10 10-12-18-2zM1144 2530l17 3 10-17-18 0zM1362 2508l18 6 10-11-18-2zM1471 2492l18-2 9-5-18-5zM1498 2485l18 6 9-10-18-6z"/><path class="k23" d="M254 2642l17 3 12 3-18-12zM540 2604l17 5 11-14-17-3zM960 2553l18-15 10 4-18-11zM1071 2538l18 2 9-22-17 7zM1126 2530l18 0 9-14-17-6zM1345 2498l17 10 10-7-18-6zM1399 2493l18-1 9-9-18 1zM184 2646l17 13 12-2-17 4zM500 2622l17-1 11 1-17 3zM726 2593l18-10 10 8-17-16zM783 2582l17-10 11 6-18-6z"/><path class="k35" d="M283 2648l17-2 11-8-17-13zM340 2638l17-15 12 0-18-14zM472 2635l17 1 11-14-17-8z"/><path class="k33" d="M311 2638l17-6 12 6-17-19zM596 2594l18 6 10 0-17-8zM624 2600l18 10 11-19-18-14zM653 2591l17-11 11-9-18-5zM709 2585l17 8 11-18-17-4zM765 2575l18 7 10-10-17-9zM821 2573l18 9 10-23-18 3zM242 2649l17 9 12-13-17-3zM386 2638l17-6 11-19-17-3zM443 2622l17 21 12-8-18-16zM528 2622l18-5 11-8-17-5zM811 2578l17 3 11 1-18-9zM839 2582l17-3 10-29-17 9zM894 2570l18-16 10-1-17 12zM1006 2561l17 2 10-16-17-11zM1390 2503l17 0 10-11-18 1zM1552 2478l18 7 9-19-18-4z"/><path class="k34" d="M369 2623l17 15 11-28-17-8zM483 2614l17 8 11 3-17-23zM1480 2480l18 5 9-10-18-15zM271 2645l17-5 12 6-17 2zM300 2646l17-6 11-8-17 6zM754 2591l18-1 11-8-18-7zM950 2556l18 1 10-19-18 15zM1089 2540l17 17 10-29-18-10z"/><path class="k28" d="M397 2610l17 3 12 1-17-16zM681 2571l17 16 11-2-17-16zM932 2540l18 16 10-3-17 1zM988 2542l18 19 10-25-18-7zM1426 2483l18 2 9-7-18 0zM1588 2456l18 14 8-4-17-13zM328 2632l18 5 11-14-17 15zM357 2623l17 10 12 5-17-15zM557 2609l17 2 11-10-17-6zM1281 2507l17 1 10-7-18-6zM1308 2501l18 12 9-24-18-5zM1579 2466l18 8 9-4-18-14z"/><path class="k30" d="M426 2614l17 8 11-3-17-11zM737 2575l17 16 11-16-17-5zM1153 2516l18 0 10-10-18 0zM1507 2475l18 6 9-20-18 15zM585 2601l18 20 11-21-18-6zM614 2600l17-4 11 14-18-10zM1417 2492l18 3 9-10-18-2zM1525 2481l18 8 9-11-18-17zM1606 2470l18 14 8-7-18-11z"/><path class="k25" d="M454 2619l18 16 11-21-18-15zM793 2572l18 6 10-5-17-4zM877 2562l17 8 11-5-18-3zM905 2565l17-12 10-13-17 5zM1372 2501l18 2 9-10-18-7zM213 2657l17-5 12-3-17-2zM642 2610l17 1 11-31-17 11z"/><path class="k41" d="M511 2625l17-3 12-18-18 8z"/><path class="k29" d="M568 2595l17 6 11-7-17-13zM849 2559l17-9 11 12-18-7zM1016 2536l17 11 10-21-17-2zM1043 2526l18 16 10-4-18-15zM1208 2515l18 0 10-9-18-11zM1236 2506l17 6 10-16-18 2zM698 2587l18 16 10-10-17-8zM922 2553l18 5 10-2-18-16z"/><path class="k24" d="M1098 2518l18 10 10 2-18-6zM1033 2547l18 10 10-15-18-16zM1171 2516l18 13 10-12-18-11zM1444 2485l18 15 9-8-18-14z"/><path class="k26" d="M1181 2506l18 11 9-2-17-14zM978 2538l17 19 11 4-18-19z"/><path class="k32" d="M1263 2496l18 11 9-12-18 3zM1290 2495l18 6 9-17-17 8zM1317 2484l18 5 10 9-18-14zM1534 2461l18 17 9-16-18-9zM414 2613l18 27 11-18-17-8zM670 2580l17 17 11-10-17-16zM866 2550l18 7 10 13-17-8zM1116 2528l18 16 10-14-18 0zM1199 2517l17 4 10-6-18 0zM1226 2515l18 5 9-8-17-6zM1253 2512l18 1 10-6-18-11zM1335 2489l18 25 9-6-17-10z"/><path class="k32" d="M172 2646l18 20 11-7-17-13zM884 2557l18 11 10-14-18 16zM1271 2513l18 5 9-10-17-1zM334 2643l17 17 12-14-17-9z"/><path class="k30" d="M201 2659l18 8 11-15-17 5zM1189 2529l18 6 9-14-17-4zM1516 2491l18 18 9-20-18-8zM1597 2474l18 7 9 3-18-14zM506 2624l17 7 12-13-18 3zM535 2618l17 24 11-8-17-17zM592 2616l17 12 11-18-17 11zM620 2610l17 20 11-15-17-19zM1207 2535l17 6 10-19-18-1z"/><path class="k24" d="M230 2652l17 13 12-7-17-9zM288 2640l17 13 12-13-17 6zM317 2640l17 3 12-6-18-5zM687 2597l18 12 11-6-18-16zM772 2590l17 12 11-30-17 10zM912 2554l18 9 10-5-18-5zM1435 2495l18 4 9 1-18-15zM846 2582l17 7 11-19-18 9z"/><path class="k25" d="M259 2658l17 8 12-26-17 5zM603 2621l17-11 11-14-17 4zM1380 2514l18 14 9-25-17 0zM420 2645l18 7 11 0-17-12zM563 2634l18-3 11-15-18-5zM1013 2580l18-12 10-14-18 9zM1124 2561l18-15 10 1-18-3zM1534 2509l18-13 9-8-18 1z"/><path class="k29" d="M346 2637l17 9 11-13-17-10zM968 2557l17 12 10-12-17-19zM1244 2520l18-7 9 0-18-1zM1407 2503l18-2 10-6-18-3zM305 2653l17 7 12-17-17-3zM818 2581l17 6 11-5-18-1zM902 2568l17 13 11-18-18-9zM930 2563l17 14 10-6-17-13zM1234 2522l18 11 10-20-18 7zM1507 2495l18 21 9-7-18-18zM1561 2488l18 8 9-6-18-5z"/><path class="k22" d="M374 2633l18 23 11-24-17 6zM546 2617l17 17 11-23-17-2zM574 2611l18 5 11 5-18-20zM631 2596l17 19 11-4-17-1zM828 2581l18 1 10-3-17 3zM856 2579l18-9 10-13-18-7zM1298 2508l18 8 10-3-18-12zM1326 2513l18 7 9-6-18-25zM190 2666l17 19 12-18-18-8zM677 2607l17 9 11-7-18-12zM705 2609l17 6 11-14-17 2zM957 2571l18-5 10 3-17-12zM1069 2563l17 1 10-1-17-11zM1179 2541l18 2 10-8-18-6zM1316 2516l18 10 10-6-18-7zM1615 2481l18-4 9 1-18 6zM1642 2478l18 5 8-6-18-7z"/><path class="k34" d="M403 2632l17 13 12-5-18-27zM517 2621l18-3 11-1-18 5zM716 2603l17-2 11-18-18 10zM1051 2557l18 6 10-11-18-10zM1134 2544l18 3 9-14-17-3zM1161 2533l18 8 10-12-18-13zM1353 2514l18 6 9-6-18-6zM1489 2490l18 5 9-4-18-6zM219 2667l17 8 11-10-17-13zM247 2665l18 11 11-10-17-8zM363 2646l17 30 12-20-18-23zM985 2569l18 15 10-4-18-23zM1041 2554l18 8 10 1-18-6zM1588 2490l18-7 9-2-18-7z"/><path class="k23" d="M432 2640l17 12 11-9-17-21zM1462 2500l18 5 9-15-18 2zM1543 2489l18-1 9-3-18-7zM1570 2485l18 5 9-16-18-8zM1624 2484l18-6 8-8-18 7zM276 2666l18-8 11-5-17-13zM789 2602l18-2 11-19-18-9zM1480 2505l18-7 9-3-18-5z"/><path class="k35" d="M460 2643l18 9 11-16-17-1zM489 2636l17-12 11-3-17 1zM161 2679l17-2 12-11-18-20zM648 2615l18-15 11 7-18 4zM1398 2528l18-4 9-23-18 2z"/><path class="k33" d="M659 2611l18-4 10-10-17-17zM1079 2552l17 11 10-6-17-17zM1152 2547l17 4 10-10-18-8zM1344 2520l18 5 9-5-18-6zM1371 2520l18 19 9-11-18-14z"/><path class="k26" d="M744 2583l17 8 11-1-18 1z"/><path class="k28" d="M800 2572l18 9 10 0-17-3zM940 2558l17 13 11-14-18-1zM995 2557l18 23 10-17-17-2zM1216 2521l18 1 10-2-18-5zM733 2601l18 12 10-22-17-8zM761 2591l18 16 10-5-17-12zM1262 2513l17 8 10-3-18-5zM1289 2518l18 17 9-19-18-8zM1453 2499l18 12 9-6-18-5z"/><path class="k27" d="M1023 2563l18-9 10 3-18-10zM1106 2557l18 4 10-17-18-16zM449 2652l17-11 12 11-18-9z"/><path class="k41" d="M392 2656l17-11 11 0-17-13z"/><path class="k36" d="M478 2652l17-17 11-11-17 12zM1096 2563l18 3 10-5-18-4z"/><path class="k37" d="M874 2570l17 22 11-24-18-11z"/><path class="k42" d="M1425 2501l18 16 10-18-18-4z"/><path class="k25" d="M149 2691l17 1 12-15-17 2zM207 2685l17 8 12-18-17-8zM438 2652l17 3 11-14-17 11zM637 2630l18-11 11-19-18 15zM224 2693l17-15 12 2-17-5zM397 2656l18-3 11 3-17-11zM1021 2589l17-3 11-10-18-8zM1104 2582l18-2 10-1-18-13z"/><path class="k22" d="M178 2677l17 17 12-9-17-19zM236 2675l17 5 12-4-18-11zM409 2645l17 11 12-4-18-7zM495 2635l17 6 11-10-17-7zM722 2615l18 1 11-3-18-12zM779 2607l17-7 11 0-18 2zM919 2581l18 14 10-18-17-14zM1059 2562l17 8 10-6-17-1zM1224 2541l18 14 10-22-18-11zM1252 2533l18 8 9-20-17-8zM1334 2526l18 3 10-4-18-5zM1362 2525l17 12 10 2-18-19zM1416 2524l18 0 9-7-18-16zM1471 2511l18 4 9-17-18 7zM369 2659l17 18 11-21-17 20zM484 2657l17 0 11-16-17-6zM825 2601l17 5 11-6-18-13zM881 2599l17 0 11-9-18 2zM937 2595l18-5 10-5-18-8zM1352 2529l18 11 9-3-17-12zM1570 2509l18-2 9-7-18-4zM1597 2500l18-25 9 8-18 0z"/><path class="k23" d="M265 2676l17-1 12-17-18 8zM351 2660l18-1 11 17-17-30zM466 2641l18 16 11-22-17 17zM581 2631l17-2 11-1-17-12zM807 2600l18 1 10-14-17-6zM1086 2564l18 18 10-16-18-3zM455 2655l17 1 12 1-18-16zM1242 2555l18 9 10-23-18-8zM1407 2535l18-11 9 0-18 0z"/><path class="k29" d="M294 2658l17 11 11-9-17-7zM694 2616l18 8 10-9-17-6zM835 2587l18 13 10-11-17-7zM975 2566l18 9 10 9-18-15zM1031 2568l18 8 10-14-18-8zM1660 2483l18 8 9-11-19-3zM282 2675l17 4 12-10-17-11zM853 2600l17 17 11-18-18-10zM965 2585l18 6 10-16-18-9zM993 2575l18 10 10 4-18-5zM1434 2524l18 7 9-6-18-8zM1489 2515l18-3 9-1-18-13zM1651 2489l18-5 9 7-18-8z"/><path class="k28" d="M322 2660l18-7 11 7-17-17zM1142 2546l17 19 10-14-17-4zM1606 2483l18 0 9-6-18 4zM340 2653l17 7 12-1-18 1zM1297 2530l18 11 10-2-18-4zM1516 2511l18 14 9-25-18 16z"/><path class="k44" d="M380 2676l17-20 12-11-17 11z"/><path class="k24" d="M523 2631l18 8 11 3-17-24zM1443 2517l18 8 10-14-18-12zM1498 2498l18 13 9 5-18-21zM1552 2496l18 13 9-13-18-8zM311 2669l17 8 12-24-18 7zM655 2619l17-18 11 9-17-10zM768 2597l18 1 10 2-17 7z"/><path class="k33" d="M552 2642l17 5 12-16-18 3zM609 2628l17-8 11 10-17-20zM1169 2551l18-4 10-4-18-2zM166 2692l17 8 12-6-17-17zM195 2694l17-14 12 13-17-8zM569 2647l18-13 11-5-17 2zM1049 2576l17 7 10-13-17-8zM1379 2537l18 3 10-5-18 4z"/><path class="k32" d="M666 2600l17 10 11 6-17-9zM1279 2521l18 9 10 5-18-17zM1187 2547l18 19 10-10-18-13zM1543 2500l18 3 9 6-18-13z"/><path class="k30" d="M751 2613l17-16 11 10-18-16zM863 2589l18 10 10-7-17-22zM947 2577l18 8 10-19-18 5zM1197 2543l18 13 9-15-17-6zM1307 2535l18 4 9-13-18-10zM1579 2496l18 4 9-17-18 7zM512 2641l18 8 11-10-18-8zM598 2629l17 18 11-27-17 8zM626 2620l18 17 11-18-18 11zM796 2600l18 14 11-13-18-1zM1076 2570l18-4 10 16-18-18zM1270 2541l18 10 9-21-18-9z"/><path class="k34" d="M891 2592l18-2 10-9-17-13zM253 2680l17 9 12-14-17 1zM426 2656l18-1 11 0-17-3zM541 2639l17 18 11-10-17-5zM712 2624l17 8 11-16-18-1zM740 2616l17 1 11-20-17 16zM909 2590l18 14 10-9-18-14zM1215 2556l18 22 9-23-18-14zM1325 2539l18 3 9-13-18-3zM1461 2525l18-2 10-8-18-4z"/><path class="k35" d="M1003 2584l18 5 10-21-18 12zM1114 2566l18 13 10-33-18 15zM1159 2565l18-14 10-4-18 4z"/><path class="k41" d="M1389 2539l18-4 9-11-18 4zM1132 2579l18-5 9-9-17-19z"/><path class="k27" d="M1525 2516l18-16 9-4-18 13z"/><path class="k26" d="M1633 2477l18 12 9-6-18-5zM683 2610l18 7 11 7-18-8z"/><path class="k42" d="M1624 2483l18 16 9-10-18-12z"/><path class="k23" d="M183 2700l17-12 12-8-17 14zM270 2689l17 17 12-27-17-4zM386 2677l17-15 12-9-18 3zM644 2637l17-15 11-21-17 18zM814 2614l18 15 10-23-17-5zM870 2617l18 0 10-18-17 0zM927 2604l17-6 11-8-18 5zM983 2591l17-6 11 0-18-10zM1038 2586l18-4 10 1-17-7zM1205 2566l18 0 10 12-18-22zM1306 2555l18 20 9-26-18-8zM1579 2521l18 11 9-30-18 5z"/><path class="k29" d="M212 2680l17 6 12-8-17 15zM1122 2580l18-2 10-4-18 5zM1452 2531l18-1 9-7-18 2zM200 2688l17 17 12-19-17-6zM888 2617l18 7 10-7-18-18zM972 2593l18 6 10-14-17 6zM1028 2596l18-1 10-13-18 4zM1084 2584l18 2 10-16-18-4zM1140 2578l18 5 9-28-17 19z"/><path class="k28" d="M241 2678l17 5 12 6-17-9zM415 2653l17 27 12-25-18 1zM701 2617l17 25 11-10-17-8zM1561 2503l18 18 9-14-18 2zM258 2683l18 10 11 13-17-17zM461 2655l17 19 12-13-18-5zM490 2661l17 0 11-5-17 1zM518 2656l18 10 11-14-17-3zM1056 2582l18 12 10-10-18-1zM1223 2566l18 5 10 3-18 4zM1443 2532l18 3 9-5-18 1z"/><path class="k34" d="M299 2679l17 4 12-6-17-8zM357 2660l17 21 12-4-17-18zM501 2657l17-1 12-7-18-8zM729 2632l18-6 10-9-17-1zM757 2617l18 11 11-30-18-1zM955 2590l17 3 11-2-18-6zM1011 2585l17 11 10-10-17 3zM1066 2583l18 1 10-18-18 4zM1177 2551l18 26 10-11-18-19zM1343 2542l18 4 9-6-18-11zM316 2683l18 0 11 3-17-9zM576 2660l17-4 11-9-17-13zM747 2626l17 22 11-20-18-11zM775 2628l18 9 10-11-17-28zM916 2617l18-5 10-14-17 6z"/><path class="k30" d="M328 2677l17 9 12-26-17-7zM530 2649l17 3 11 5-17-18zM842 2606l18 4 10 7-17-17zM1588 2507l18-5 9-27-18 25zM229 2686l18 3 11-6-17-5zM547 2652l18 25 11-17-18-3zM633 2635l18 31 10-44-17 15zM860 2610l18 4 10 3-18 0zM944 2598l18 10 10-15-17-3z"/><path class="k22" d="M444 2655l17 0 11 1-17-1zM472 2656l18 5 11-4-17 0zM558 2657l18 3 11-26-18 13zM1288 2551l18 4 9-14-18-11zM1370 2540l18-4 9 4-18-3zM1479 2523l18-1 10-10-18 3zM1642 2499l18 11 9-26-18 5zM604 2647l18 10 11-22-18 12zM718 2642l18-1 11-15-18 6zM1333 2549l18 9 10-12-18-4zM1361 2546l18-3 9-7-18 4zM1388 2536l18 12 9-16-18 8zM1470 2530l18 16 9-24-18 1z"/><path class="k24" d="M587 2634l17 13 11 0-17-18zM786 2598l17 28 11-12-18-14zM898 2599l18 18 11-13-18-14zM1094 2566l18 4 10 10-18 2zM1315 2541l18 8 10-7-18-3zM1167 2555l18 15 10 7-18-26zM1497 2522l19 21 9-6-18-25z"/><path class="k35" d="M615 2647l18-12 11 2-18-17zM287 2706l18-3 11-20-17-4zM345 2686l18-8 11 3-17-21zM432 2680l18-6 11-19-17 0zM832 2629l17-3 11-16-18-4zM1525 2537l18-6 9-12-18 6z"/><path class="k43" d="M672 2601l18 6 11 10-18-7zM690 2607l18 22 10 13-17-25z"/><path class="k25" d="M1150 2574l17-19 10-4-18 14zM1251 2574l17-3 10-3-18-4zM1278 2568l18 2 10-15-18-4z"/><path class="k33" d="M1233 2578l18-4 9-10-18-9zM1260 2564l18 4 10-17-18-10zM1397 2540l18-8 10-8-18 11zM1534 2525l18-6 9-16-18-3zM1195 2577l18-6 10-5-18 0zM1552 2519l18 14 9-12-18-18z"/><path class="k26" d="M1425 2524l18 8 9-1-18-7zM1507 2512l18 25 9-12-18-14zM1000 2585l18 13 10-2-17-11zM1606 2502l18-6 9-1-18-20zM1633 2495l18 27 9-12-18-11z"/><path class="k31" d="M1615 2475l18 20 9 4-18-16z"/><path class="k27" d="M374 2681l18-17 11-2-17 15zM803 2626l18-3 11 6-18-15z"/><path class="k32" d="M403 2662l18 15 11 3-17-27zM1112 2570l18 13 10-5-18 2z"/><path class="k38" d="M661 2622l18 10 11-25-18-6z"/><path class="k37" d="M1415 2532l19 0 9 0-18-8z"/><path class="k34" d="M217 2705l18 1 12-17-18-3zM478 2674l18 6 11-19-17 0zM736 2641l18-1 10 8-17-22zM934 2612l18 2 10-6-18-10zM1158 2583l18-1 9-12-18-15zM1268 2571l18 9 10-10-18-2zM1516 2543l18-9 9-3-18 6zM1570 2533l18 8 9-9-18-11zM264 2715l17-2 12-4-17-16zM668 2656l18-10 11-11-18-3zM725 2658l18 1 11-19-18 1zM782 2641l18 10 10-16-17 2zM1008 2615l18 1 10-1-18-17zM1231 2591l18-7 10-7-18-6zM1259 2577l18 13 9-10-18-9zM1314 2569l18 10 10-6-18 2z"/><path class="k32" d="M247 2689l17 26 12-22-18-10zM821 2623l18 0 10 3-17 3zM409 2674l18 28 11-31-17 6zM438 2671l18 8 11-9-17 4z"/><path class="k22" d="M276 2693l17 16 12-6-18 3zM450 2674l17-4 11 4-17-19zM593 2656l18 7 11-6-18-10zM1046 2595l18 11 10-12-18-12zM1074 2594l18 4 10-12-18-2zM1213 2571l18 20 10-20-18-5zM1351 2558l18-4 10-11-18 3zM1543 2531l18 17 9-15-18-14zM235 2706l17 9 12 0-17-26zM322 2699l18 3 11-2-17-17zM467 2670l18-5 11 15-18-6zM810 2635l18 9 11-21-18 0zM924 2613l17 8 11-7-18-2zM980 2612l18 12 10-9-18-16zM1092 2598l18 18 10 0-18-30zM1176 2582l17-2 10 3-18-13zM1397 2557l18 7 9-12-18-4zM1588 2541l18-12 9-10-18 13z"/><path class="k23" d="M305 2703l17-4 12-16-18 0zM622 2657l18 7 11 2-18-31zM1241 2571l18 6 9-6-17 3zM1296 2570l18-1 10 6-18-20zM1036 2615l18 4 10-13-18-11zM1286 2580l18-2 10-9-18 1zM1342 2573l18-2 9-17-18 4zM1506 2542l19 3 9-11-18 9z"/><path class="k30" d="M334 2683l17 17 12-22-18 8zM536 2666l17 10 12 1-18-25zM1018 2598l18 17 10-20-18 1zM1102 2586l18 30 10-33-18-13zM1130 2583l18 17 10-17-18-5zM1379 2543l18 14 9-9-18-12zM1064 2606l18 7 10-15-18-4zM1203 2583l18 9 10-1-18-20z"/><path class="k28" d="M363 2678l17-6 12-8-18 17zM507 2661l18-1 11 6-18-10zM708 2629l17 29 11-17-18 1zM754 2640l17 9 11-8-18 7zM839 2623l18 4 10 3-18-4zM952 2614l18 17 10-19-18-4zM1369 2554l18 16 10-13-18-14z"/><path class="k26" d="M392 2664l17 10 12 3-18-15zM421 2677l17-6 12 3-18 6zM1461 2535l18 23 9-12-18-16zM1615 2519l19 18 8-14-18-27z"/><path class="k35" d="M565 2677l17 3 11-24-17 4zM764 2648l18-7 11-4-18-9zM582 2680l18 0 11-17-18-7zM1148 2600l18 0 10-18-18 1z"/><path class="k25" d="M651 2666l17-10 11-24-18-10zM793 2637l17-2 11-12-18 3zM1561 2548l18-11 9 4-18-8z"/><path class="k37" d="M679 2632l18 3 11-6-18-22zM380 2672l18 5 11-3-17-10zM697 2635l17 6 11 17-17-29z"/><path class="k33" d="M849 2626l18 4 11-16-18-4zM906 2624l18-11 10-1-18 5zM1488 2546l18-4 10 1-19-21zM1597 2532l18-13 9-23-18 6zM293 2709l17 1 12-11-17 4zM351 2700l18-21 11-7-17 6zM553 2676l18 3 11 1-17-3zM640 2664l17 5 11-13-17 10zM1479 2558l18-1 9-15-18 4z"/><path class="k29" d="M878 2614l17 5 11 5-18-7zM962 2608l18 4 10-13-18-6zM990 2599l18 16 10-17-18-13zM496 2680l17 6 12-26-18 1zM611 2663l17 13 12-12-18-7zM1534 2534l18 25 9-11-18-17z"/><path class="k24" d="M1185 2570l18 13 10-12-18 6zM1406 2548l18 4 10-20-19 0zM525 2660l17 10 11 6-17-10zM867 2630l18 7 10-18-17-5zM895 2619l18 13 11-19-18 11zM1424 2552l18-14 10 4-18-10z"/><path class="k27" d="M1324 2575l18-2 9-15-18-9zM1120 2616l18 0 10-16-18-17z"/><path class="k42" d="M1434 2532l18 10 9-7-18-3z"/><path class="k31" d="M1624 2496l18 27 9-1-18-27z"/><path class="k38" d="M1452 2542l18 0 9 16-18-23z"/><path class="k33" d="M252 2715l17 10 12-12-17 2zM571 2679l18 5 11-4-18 0zM600 2680l17-2 11-2-17-13zM1497 2557l18 12 10-24-19-3zM1552 2559l18-3 9-19-18 11zM1128 2615l18 10 10-24-18 15zM1488 2564l18 18 9-13-18-12zM1543 2565l18-1 9-8-18 3z"/><path class="k29" d="M281 2713l18 13 11-16-17-1zM885 2637l18 1 10-6-18-13zM1304 2578l19 2 9-1-18-10zM415 2690l18 17 11-13-17 8zM502 2688l18 13 11-11-18-4zM675 2662l18 1 10-10-17-7zM1597 2543l19-4 9-5-19-5z"/><path class="k23" d="M310 2710l18 1 12-9-18-3zM657 2669l18-7 11-16-18 10zM743 2659l18 12 10-22-17-9zM800 2651l18-11 10 4-18-9zM941 2621l18 21 11-11-18-17zM970 2631l17-5 11-2-18-12zM1082 2613l18 12 10-9-18-18zM1277 2590l18 2 9-14-18 2zM1387 2570l18 6 10-12-18-7zM1415 2564l18-10 9-16-18 14zM1579 2537l18 6 9-14-18 12zM299 2726l17 7 12-22-18-1zM931 2637l18 6 10-1-18-21z"/><path class="k34" d="M340 2702l17 4 12-27-18 21zM513 2686l18 4 11-20-17-10zM628 2676l18 4 11-11-17-5zM1026 2616l18 8 10-5-18-4zM1166 2600l18-4 9-16-17 2zM269 2725l18 21 12-20-18-13zM531 2690l18 11 11-21-18-10zM646 2680l18-6 11-12-18 7zM761 2671l17-7 11-19-18 4zM987 2626l18 6 11-23-18 15zM1100 2625l18-13 10 3-18 1zM1295 2592l18-4 10-8-19-2zM1570 2556l18-9 9-4-18-6z"/><path class="k37" d="M369 2679l17 0 12-2-18-5zM398 2677l17 13 12 12-18-28zM1470 2542l18 22 9-7-18 1z"/><path class="k35" d="M427 2702l17-8 12-15-18-8zM1110 2616l18-1 10 1-18 0zM1405 2576l19 4 9-26-18 10z"/><path class="k30" d="M456 2679l17 4 12-18-18 5zM771 2649l18-4 11 6-18-10zM998 2624l18-15 10 7-18-1zM1332 2579l18-1 10-7-18 2zM1360 2571l18 17 9-18-18-16zM328 2711l17 7 12-12-17-4zM357 2706l17-6 12-21-17 0zM1212 2599l18 4 9-10-18-1zM1323 2580l18 1 9-3-18 1zM1350 2578l18 1 10 9-18-17z"/><path class="k26" d="M485 2665l17 23 11-2-17-6zM473 2683l18 14 11-9-17-23zM703 2653l18 13 11-16-18-9zM846 2628l18 0 10 7-17-8zM874 2635l18 35 11-32-18-1zM1433 2554l18 15 9-21-18-10zM1460 2548l19 22 9-6-18-22z"/><path class="k22" d="M542 2670l18 10 11-1-18-3zM913 2632l18 5 10-16-17-8zM1054 2619l18-9 10 3-18-7zM1249 2584l18 2 10 4-18-13zM560 2680l17 8 12-4-18-5zM617 2678l18-1 11 3-18-4zM903 2638l17 8 11-9-18-5zM1044 2624l18 16 10-30-18 9zM1267 2586l18 11 10-5-18-2z"/><path class="k32" d="M686 2646l17 7 11-12-17-6zM732 2650l18 11 11 10-18-12zM818 2640l17 9 11-21-18 16zM1156 2601l18 3 10-8-18 4zM1184 2596l18 10 10-7-19-19z"/><path class="k24" d="M714 2641l18 9 11 9-18-1zM828 2644l18-16 11-1-18-4zM1016 2609l17 16 11-1-18-8zM1072 2610l18 25 10-10-18-12z"/><path class="k42" d="M857 2627l17 8 11 2-18-7z"/><path class="k27" d="M1138 2616l18-15 10-1-18 0z"/><path class="k28" d="M1193 2580l19 19 9-7-18-9zM1221 2592l18 1 10-9-18 7zM1525 2545l18 20 9-6-18-25zM1606 2529l19 5 9 3-19-18zM444 2694l18 5 11-16-17-4zM789 2645l18 13 11-18-18 11zM1239 2593l18 16 10-23-18-2z"/><path class="k43" d="M1442 2538l18 10 10-6-18 0z"/><path class="k31" d="M386 2679l18 17 11-6-17-13z"/><path class="k25" d="M589 2684l17 3 11-9-17 2zM959 2642l18-4 10-12-17 5zM1378 2588l18 6 9-18-18-6zM1515 2569l19 3 9-7-18-20z"/><path class="k27" d="M287 2746l17-12 12-1-17-7zM892 2670l18-7 10-17-17-8zM710 2690l18-2 11-9-18-13z"/><path class="k23" d="M316 2733l18-14 11-1-17-7zM520 2701l17 16 12-16-18-11zM577 2688l18 12 11-13-17-3zM664 2674l18 22 11-33-18-1zM1062 2640l18-1 10-4-18-25zM1561 2564l18 2 9-19-18 9zM653 2696l18 5 11-5-18-22zM739 2679l18-17 11 29-18-30zM796 2679l18-14 11-6-18-1zM938 2655l18-8 11-6-18 2zM1275 2619l19-17 9-5-18 0zM1331 2603l18-9 10-5-18-8zM1387 2597l18-14 9 12-18-1zM1497 2583l18-10 9 13-18-4z"/><path class="k30" d="M345 2718l18-6 11-12-17 6zM491 2697l17 10 12-6-18-13zM1202 2606l18-5 10 2-18-4zM1588 2547l19-2 9-6-19 4zM1469 2570l19 10 9 3-18-13z"/><path class="k37" d="M374 2700l18 11 12-15-18-17zM835 2649l18 3 11-24-18 0z"/><path class="k24" d="M404 2696l17 15 12-4-18-17zM462 2699l17 13 12-15-18-14zM977 2638l18 2 10-8-18-6zM1118 2612l18 2 10 11-18-10zM363 2712l17 22 12-23-18-11zM1023 2636l18 6 10-1-18-16zM1552 2557l18 11 9-2-18-2z"/><path class="k22" d="M433 2707l17 6 12-14-18-5zM949 2643l18-2 10-3-18 4zM1005 2632l18 4 10-11-17-16zM1285 2597l18 0 10-9-18 4zM1479 2570l18 13 9-1-18-18zM304 2734l18-5 12-10-18 14z"/><path class="k33" d="M549 2701l17-1 11-12-17-8zM920 2646l18 9 11-12-18-6zM882 2678l17-10 11-5-18 7zM910 2663l18-3 10-5-18-9zM1051 2641l18 9 11-11-18 1zM1080 2639l18 8 10-2-18-10zM1442 2594l18-6 9-18-18-1zM1524 2586l19-6 9-23-18 15z"/><path class="k34" d="M606 2687l18-2 11-8-18 1zM778 2664l18 15 11-21-18-13zM1033 2625l18 16 11-1-18-16zM1257 2609l18 10 10-22-18-11zM1368 2579l19 18 9-3-18-6zM1424 2580l18 14 9-25-18-15zM1534 2572l18-15 9 7-18 1zM450 2713l18 9 11-10-17-13zM479 2712l18 15 11-20-17-10zM1248 2613l18 7 9-1-18-10zM1579 2566l19 12 9-33-19 2z"/><path class="k29" d="M635 2677l18 19 11-22-18 6zM693 2663l17 27 11-24-18-13zM721 2666l18 13 11-18-18-11zM807 2658l18 1 10-10-17-9zM1230 2603l18 10 9-4-18-16zM624 2685l18 21 11-10-18-19zM967 2641l18 2 10-3-18-2zM995 2640l18 9 10-13-18-4zM1192 2606l18 1 10-6-18 5z"/><path class="k28" d="M750 2661l18 30 10-27-17 7zM1313 2588l18 15 10-22-18-1zM1341 2581l18 8 9-10-18-1zM1451 2569l18 1 10 0-19-22zM334 2719l17 21 12-28-18 6zM392 2711l18 13 11-13-17-15zM421 2711l18 9 11-7-17-6zM1136 2614l18 10 10-9-18 10zM1359 2589l18 1 10 7-19-18z"/><path class="k43" d="M864 2628l18 50 10-8-18-35z"/><path class="k25" d="M1090 2635l18 10 10-33-18 13zM1146 2625l18-10 10-11-18-3zM508 2707l18 14 11-4-17-16zM566 2700l18 14 11-14-18-12zM595 2700l18-4 11-11-18 2zM1108 2645l18-4 10-27-18-2zM1414 2595l18-15 10 14-18-14z"/><path class="k26" d="M1174 2604l18 2 10 0-18-10zM1220 2601l18 5 10 7-18-10z"/><path class="k35" d="M1396 2594l18 1 10-15-19-4zM1506 2582l18 4 10-14-19-3z"/><path class="k36" d="M537 2717l18 1 11-18-17 1z"/><path class="k39" d="M682 2696l17-3 11-3-17-27z"/><path class="k44" d="M768 2691l17-3 11-9-18-15z"/><path class="k32" d="M825 2659l17-2 11-5-18-3zM1164 2615l18 1 10-10-18-2zM1303 2597l18 12 10-6-18-15z"/><path class="k40" d="M853 2652l18 10 11 16-18-50z"/><path class="k28" d="M322 2729l17 17 12-6-17-21zM1154 2624l18-1 10-7-18-1zM1182 2616l18 15 10-24-18-1zM1210 2607l18 16 10-17-18-5zM1321 2609l19-7 9-8-18 9zM1405 2583l18 14 9-17-18 15zM1432 2580l19 28 9-20-18 6zM1515 2573l19 4 9 3-19 6zM1570 2568l19 0 9 10-19-12zM746 2686l18 3 11 20-18-47zM974 2652l18 23 11-19-18-13zM1172 2623l18-2 10 10-18-15zM1284 2616l18 10 10-16-18-8zM1340 2602l18 11 9-16-18-3zM1395 2591l19 10 9-4-18-14z"/><path class="k33" d="M351 2740l18-1 11-5-17-22zM671 2701l17 2 11-10-17 3zM486 2728l17 3 12-15-18 11zM1031 2664l18-8 10-11-18-3z"/><path class="k34" d="M380 2734l18 2 12-12-18-13zM613 2696l18 19 11-9-18-21zM728 2688l18-2 11-24-18 17zM928 2660l18 0 10-13-18 8zM1013 2649l18 15 10-22-18-6zM398 2736l18 8 11-15-17-5zM602 2710l17 12 12-7-18-19zM659 2704l18 12 11-13-17-2zM917 2670l18 7 11-17-18 0zM1087 2651l19-2 10-10-18 8zM1116 2639l18-6 10 5-18 3zM1200 2631l18-13 10 5-18-16zM1228 2623l18-2 10 9-18-24zM1561 2588l18-7 10-13-19 0z"/><path class="k24" d="M410 2724l17 5 12-9-18-9zM814 2665l18 10 10-18-17 2zM871 2662l18 18 10-12-17 10zM1377 2590l18 1 10-8-18 14zM573 2702l17 11 12-3-18 4z"/><path class="k22" d="M439 2720l17-2 12 4-18-9zM642 2706l17-2 12-3-18-5zM899 2668l18 2 11-10-18 3zM1041 2642l18 3 10 5-18-9zM427 2729l18 7 11-18-17 2zM456 2718l18 14 12-4-18-6zM803 2682l18-11 11 4-18-10zM1059 2645l18-5 10 11-18-1zM1256 2630l18-8 10-6-18 4zM1478 2597l19-6 9-5-18-6z"/><path class="k23" d="M468 2722l18 6 11-1-18-15zM699 2693l18 4 11-9-18 2zM1069 2650l18 1 11-4-18-8zM1266 2620l18-4 10-14-19 17zM1460 2588l18 9 10-17-19-10zM1543 2580l18 8 9-20-18-11zM339 2746l18-3 12-4-18 1zM369 2739l17 6 12-9-18-2zM717 2697l18 5 11-16-18 2zM1003 2656l18-1 10 9-18-15z"/><path class="k35" d="M497 2727l18-11 11 5-18-14zM526 2721l18 6 11-9-18-1zM555 2718l18-16 11 12-18-14zM544 2727l17-1 12-24-18 16zM775 2709l17-11 11-16-18 6zM889 2680l18-4 10-6-18-2zM1451 2608l18-5 9-6-18-9z"/><path class="k25" d="M584 2714l18-4 11-14-18 4zM1126 2641l18-3 10-14-18-10zM515 2716l17 11 12 0-18-6zM631 2715l17-6 11-5-17 2zM688 2703l18-5 11-1-18-4z"/><path class="k37" d="M757 2662l18 47 10-21-17 3zM1238 2606l18 24 10-10-18-7z"/><path class="k41" d="M785 2688l18-6 11-17-18 14z"/><path class="k32" d="M842 2657l18 9 11-4-18-10zM1349 2594l18 3 10-7-18-1zM860 2666l18 13 11 1-18-18zM1367 2597l19 7 9-13-18-1z"/><path class="k29" d="M956 2647l18 5 11-9-18-2zM985 2643l18 13 10-7-18-9zM1144 2638l18-2 10-13-18 1z"/><path class="k27" d="M1098 2647l18-8 10 2-18 4z"/><path class="k26" d="M1294 2602l18 8 9-1-18-12zM1312 2610l18 3 10-11-19 7z"/><path class="k30" d="M1488 2580l18 6 9-13-18 10zM832 2675l18-2 10-7-18-9zM946 2660l18 21 10-29-18-5zM1423 2597l18 11 10 0-19-28zM1506 2586l18 1 10-10-19-4zM1534 2577l18 1 9 10-18-8z"/><path class="k30" d="M357 2743l18 9 11-7-17-6zM416 2744l17 3 12-11-18-7zM590 2713l18 6 11 3-17-12zM1106 2649l18 6 10-22-18 6zM1162 2636l18-5 10-10-18 2zM1302 2626l18-10 10-3-18-3zM753 2700l18 12 11 10-18-33zM1152 2645l18 13 10-27-18 5z"/><path class="k24" d="M386 2745l18 10 12-11-18-8zM706 2698l18-6 11 10-18-5zM1021 2655l18 4 10-3-18 8zM1134 2633l18 12 10-9-18 2zM1386 2604l18 17 10-20-19-10zM463 2731l17 1 12 10-18-10zM637 2714l18-2 11-4-18 1zM1010 2661l18 16 11-18-18-4z"/><path class="k34" d="M445 2736l18-5 11 1-18-14zM677 2716l18-11 11-7-18 5zM735 2702l18-2 11-11-18-3zM1524 2587l19 4 9-13-18-1zM608 2719l18 0 11-5-18 8zM1236 2642l19 13 9-6-18-28z"/><path class="k23" d="M474 2732l18 10 11-11-17-3zM907 2676l18-1 10 2-18-7zM375 2752l17 23 12-20-18-10zM1264 2649l19-14 9 7-18-20z"/><path class="k33" d="M503 2731l18-10 11 6-17-11zM532 2727l18 6 11-7-17 1zM792 2698l18 11 11-38-18 11zM1095 2669l19-15 10 1-18-6zM1404 2621l18-5 10-12-18-3zM1460 2623l18-18 9-6-18 4zM1515 2609l18-16 10-2-19-4z"/><path class="k22" d="M561 2726l18 4 11-17-17-11zM648 2709l18-1 11 8-18-12zM878 2679l18-9 11 6-18 4zM935 2677l18 15 11-11-18-21zM1049 2656l18 15 10-31-18 5zM1441 2608l19 15 9-20-18 5zM404 2755l18-6 11-2-17-3zM521 2721l18 10 11 2-18-6zM579 2730l18 1 11-12-18-6zM1067 2671l18-8 10 6-18-29zM1124 2655l18-3 10-7-18-12zM1292 2642l19-9 9-17-18 10zM1348 2626l19 12 9-28-18 3zM1543 2591l18 15 9 0-18-28z"/><path class="k25" d="M619 2722l18-8 11-5-17 6zM964 2681l18 3 10-9-18-23zM550 2733l18-4 11 1-18-4zM953 2692l18 7 11-15-18-3zM982 2684l18-7 10-16-18 14z"/><path class="k26" d="M764 2689l18 33 10-24-17 11zM821 2671l18 17 11-15-18 2zM1190 2621l18 34 10-37-18 13zM1274 2622l18 20 10-16-18-10zM868 2681l18 4 10-15-18 9zM1432 2604l18 12 10 7-19-15z"/><path class="k32" d="M850 2673l18 8 10-2-18-13zM1077 2640l18 29 11-20-19 2zM1218 2618l18 24 10-21-18 2zM1246 2621l18 28 10-27-18 8zM1330 2613l18 13 10-13-18-11zM1414 2601l18 3 9 4-18-11zM896 2670l18 19 11-14-18 1z"/><path class="k35" d="M992 2675l18-14 11-6-18 1zM1469 2603l18-4 10-8-19 6zM492 2742l17-19 12-2-18 10zM810 2709l18-2 11-19-18-17z"/><path class="k28" d="M1358 2613l18-3 10-6-19-7zM1552 2578l18 28 9-25-18 7zM724 2692l18 21 11-13-18 2zM925 2675l18 16 10 1-18-15zM1180 2631l18 33 10-9-18-34zM1320 2616l19 25 9-15-18-13zM1376 2610l18 16 10-5-18-17zM1487 2599l19 9 9 1-18-18z"/><path class="k29" d="M1497 2591l18 18 9-22-18-1zM433 2747l18-9 12-7-18 5zM666 2708l18-1 11-2-18 11zM695 2705l18 13 11-26-18 6zM839 2688l18 5 11-12-18-8zM1039 2659l18 27 10-15-18-15z"/><path class="k36" d="M782 2722l18 0 10-13-18-11z"/><path class="k27" d="M1208 2655l18-7 10-6-18-24z"/><path class="k35" d="M392 2775l18-2 12-24-18 6zM1255 2655l18-18 10-2-19 14zM789 2727l18-4 11-4-18 3zM961 2697l18 20 11-24-19 6z"/><path class="k30" d="M422 2749l17 3 12-14-18 9zM713 2718l18 8 11-13-18-21zM857 2693l18 2 11-10-18-4zM1226 2648l19 11 10-4-19-13zM1339 2641l18 8 10-11-19-12zM1394 2626l19 5 9-15-18 5zM615 2743l18 13 11-22-18-15zM731 2726l18 12 11-23-18-2zM1018 2685l18 12 11-17-19-3z"/><path class="k28" d="M451 2738l18 8 11-14-17-1zM480 2732l18 3 11-12-17 19zM655 2712l18 22 11-27-18 1zM439 2752l18 17 12-23-18-8zM1075 2671l18 8 10-19-18 3zM1103 2660l19 18 10-23-18-1zM1273 2637l18 2 10 4-18-8zM1441 2613l18 27 10-11-19-13z"/><path class="k37" d="M509 2723l18 12 12-4-18-10zM1533 2593l19 20 9-7-18-15z"/><path class="k22" d="M539 2731l17 11 12-13-18 4zM1000 2677l18 8 10-8-18-16zM1028 2677l19 3 10 6-18-27zM1085 2663l18-3 11-6-19 15zM1450 2616l19 13 9-24-18 18zM644 2734l18-1 11 1-18-22zM760 2715l18 21 11-9-18-15zM932 2698l18 18 11-19-18-6zM1496 2626l19-17 9-4-18 3z"/><path class="k24" d="M568 2729l18 26 11-24-18-1zM1283 2635l18 8 10-10-19 9zM1478 2605l18 21 10-18-19-9zM1506 2608l18-3 9-12-18 16zM904 2694l18 6 10-2-18-9zM1047 2680l18-10 10 1-18 15z"/><path class="k34" d="M597 2731l18 12 11-24-18 0zM828 2707l18 4 11-18-18-5zM1170 2658l18 16 10-10-18-33zM846 2711l18 5 11-21-18-2zM1413 2631l18 5 10-23-19 3z"/><path class="k26" d="M626 2719l18 15 11-22-18 2zM886 2685l18 9 10-5-18-19zM556 2742l18 18 12-5-18-26zM1132 2655l18 15 10-11-18-7zM1301 2643l18 12 10 1-18-23z"/><path class="k32" d="M684 2707l18 18 11-7-18-13zM1114 2654l18 1 10-3-18 3zM1142 2652l18 7 10-1-18-13zM1311 2633l18 23 10-15-19-25zM498 2735l18 18 11-18-18-12zM527 2735l18 9 11-2-17-11zM875 2695l18 22 11-23-18-9zM1160 2659l18 16 10-1-18-16zM1524 2605l19 15 9-7-19-20z"/><path class="k23" d="M742 2713l18 2 11-3-18-12zM771 2712l18 15 11-5-18 0zM914 2689l18 9 11-7-18-16zM1057 2686l18-15 10-8-18 8zM702 2725l18 1 11 0-18-8zM1385 2643l18-1 10-11-19-5zM1469 2629l18 12 9-15-18-21z"/><path class="k27" d="M800 2722l18-3 10-12-18 2zM971 2699l19-6 10-16-18 7zM586 2755l18 15 11-27-18-12z"/><path class="k33" d="M943 2691l18 6 10 2-18-7zM410 2773l18 13 11-34-17-3zM818 2719l18 2 10-10-18-4zM990 2693l18 1 10-9-18-8zM1188 2674l19-1 9-6-18-3zM1216 2667l19-6 10-2-19-11zM1245 2659l18-16 10-6-18 18zM1329 2656l18 2 10-9-18-8z"/><path class="k25" d="M1198 2664l18 3 10-19-18 7zM1367 2638l18 5 9-17-18-16zM1357 2649l18-11 10 5-18-5z"/><path class="k29" d="M1422 2616l19-3 9 3-18-12zM469 2746l17 14 12-25-18-3zM673 2734l18-24 11 15-18-18z"/><path class="k25" d="M428 2786l17-11 12-6-18-17zM1178 2675l19 8 10-10-19 1zM1207 2673l18 5 10-17-19 6zM1487 2641l18-4 10-28-19 17z"/><path class="k34" d="M457 2769l18 1 11-10-17-14zM574 2760l18 12 12-2-18-15zM749 2738l18-3 11 1-18-21zM836 2721l18 1 10-6-18-5zM893 2717l18-10 11-7-18-6zM1036 2697l18-12 11-15-18 10zM1122 2678l18 29 10-37-18-15zM1403 2642l19 14 9-20-18-5zM1431 2636l19 16 9-12-18-27zM534 2767l18 5 11-12-18-16zM1197 2683l18-7 10 2-18-5zM1225 2678l18 0 10-19-18 2zM1309 2657l19 18 10-20-19 0z"/><path class="k23" d="M486 2760l18 2 12-9-18-18zM1347 2658l19-14 9-6-18 11zM1459 2640l19 5 9-4-18-12zM445 2775l18 3 12-8-18-1zM651 2760l18 2 11-37-18 8zM1026 2707l18 0 10-22-18 12zM1281 2663l19 4 9-10-18-18zM1422 2656l18-4 10 0-19-16zM1450 2652l18 5 10-12-19-5zM1478 2645l18 6 9-14-18 4z"/><path class="k32" d="M516 2753l18 14 11-23-18-9zM1291 2639l18 18 10-2-18-12zM1375 2638l19 17 9-13-18 1zM1515 2609l18 20 10-9-19-15zM738 2723l18 7 11 5-18 3zM911 2707l18-2 11-14-18 9zM1366 2644l18 5 10 6-19-17z"/><path class="k28" d="M545 2744l18 16 11 0-18-18zM1150 2670l18 3 10 2-18-16zM1263 2643l18 20 10-24-18-2zM1253 2659l18 28 10-24-18-20z"/><path class="k27" d="M604 2770l17-7 12-7-18-13zM633 2756l18 4 11-27-18 1z"/><path class="k22" d="M662 2733l18-8 11-15-18 24zM767 2735l18 17 11-10-18-6zM825 2727l18 0 11-5-18-1zM1083 2700l18-2 10-8-18-11zM1111 2690l19 11 10 6-18-29zM1168 2673l18 4 11 6-19-8z"/><path class="k40" d="M691 2710l18 12 11 4-18-1z"/><path class="k29" d="M720 2726l18-3 11 15-18-12z"/><path class="k33" d="M778 2736l18 6 11-19-18 4zM969 2710l18 7 10-16-18 16zM997 2701l18 10 11-4-18-13zM1394 2655l18 1 10 0-19-14z"/><path class="k35" d="M807 2723l18 4 11-6-18-2zM592 2772l18-10 11 1-17 7zM796 2742l18-1 11-14-18-4z"/><path class="k30" d="M864 2716l18 9 11-8-18-22zM922 2700l18-9 10 25-18-18zM1008 2694l18 13 10-10-18-12zM1235 2661l18-2 10-16-18 16zM1319 2655l19 0 9 3-18-2zM475 2770l18-2 11-6-18-2zM854 2722l18-11 10 14-18-9zM882 2725l19 2 10-20-18 10zM1338 2655l18-6 10-5-19 14zM1505 2637l19 11 9-19-18-20z"/><path class="k41" d="M950 2716l19-6 10 7-18-20zM621 2763l18 10 12-13-18-4z"/><path class="k39" d="M979 2717l18-16 11-7-18-1z"/><path class="k26" d="M1065 2670l18 30 10-21-18-8zM680 2725l18-5 11 2-18-12zM940 2691l18 10 11 9-19 6z"/><path class="k24" d="M1093 2679l18 11 11-12-19-18zM504 2762l18 1 12 4-18-14zM563 2760l18 22 11-10-18-12zM1054 2685l19 14 10 1-18-30z"/><path class="k37" d="M709 2722l18 20 11-19-18 3z"/><path class="k45" d="M1140 2707l18-25 10-9-18-3z"/><path class="k29" d="M463 2778l18 8 12-18-18 2zM843 2727l18 7 11-23-18 11zM1073 2699l18 8 10-9-18 2zM1215 2676l18 17 10-15-18 0zM1243 2678l19 9 9 0-18-28zM1440 2652l19-5 9 10-18-5zM599 2773l18-1 11 6-18-16zM716 2754l18-1 11-10-18-1zM745 2743l18 12 11 0-18-25z"/><path class="k28" d="M493 2768l18 4 11-9-18-1zM756 2730l18 25 11-3-18-17zM872 2711l18 8 11 8-19-2zM929 2705l18 5 11-9-18-10zM958 2701l18 14 11 2-18-7zM1186 2677l19 13 10-14-18 7zM481 2786l18 6 12-20-18-4zM1176 2686l19 20 10-16-19-13zM1487 2648l18 2 10 6-19-5z"/><path class="k24" d="M522 2763l18 16 12-7-18-5zM976 2715l19 7 10-3-18-2zM1205 2690l18-2 10 5-18-17zM1290 2679l18 6 10-1-18-17zM1403 2654l18 9 10-11-19 4zM1459 2647l18 8 10-7-19 9z"/><path class="k22" d="M552 2772l17 11 12-1-18-22zM987 2717l18 2 10-8-18-10zM628 2778l18-11 11 1-18 5zM657 2768l18 11 12-36-18 19zM861 2734l18 12 11-27-18-8zM919 2733l18-13 10-10-18-5zM1034 2720l18-10 10 5-18-8zM1091 2707l18 1 10-7-18-3z"/><path class="k25" d="M581 2782l18-9 11-11-18 10zM814 2741l18 7 11-21-18 0zM1130 2701l18 12 10-31-18 25zM1271 2687l19-8 10-12-19-4zM1328 2675l18-18 10-8-18 6zM1412 2656l19-4 9 0-18 4zM774 2755l18-3 11 3-18-3z"/><path class="k34" d="M610 2762l18 16 11-5-18-10zM669 2762l18-19 11-23-18 5zM1044 2707l18 8 11-16-19-14zM1101 2698l18 3 11 0-19-11zM1119 2701l19-7 10 19-18-12zM1233 2693l19-2 10-4-19-9zM1262 2687l18 6 10-14-19 8z"/><path class="k27" d="M639 2773l18-5 12-6-18-2zM803 2755l18 0 11-7-18-7z"/><path class="k43" d="M698 2720l18 34 11-12-18-20z"/><path class="k32" d="M727 2742l18 1 11-13-18-7zM1158 2682l18 4 10-9-18-4zM1356 2649l18 8 10-8-18-5zM890 2719l18 9 11 5-18-6zM1346 2657l19 24 9-24-18-8zM1374 2657l19 23 10-26-19-5z"/><path class="k36" d="M785 2752l18 3 11-14-18 1z"/><path class="k30" d="M901 2727l18 6 10-28-18 2zM540 2779l18 14 11-10-17-11zM1005 2719l18 5 11-4-19-9zM1431 2652l18-2 10-3-19 5z"/><path class="k23" d="M1015 2711l19 9 10-13-18 0zM1468 2657l19-9 9 3-18-6zM1496 2651l19 5 9-8-19-11zM832 2748l18-2 11-12-18-7zM1062 2715l19-3 10-5-18-8z"/><path class="k33" d="M1300 2667l18 17 10-9-19-18zM1148 2713l18-1 10-26-18-4zM1318 2684l19-1 9-26-18 18z"/><path class="k26" d="M1384 2649l19 5 9 2-18-1zM511 2772l18 14 11-7-18-16zM947 2710l19 19 10-14-18-14z"/><path class="k35" d="M569 2783l18-9 12-1-18 9z"/><path class="k38" d="M687 2743l18 18 11-7-18-34z"/><path class="k23" d="M499 2792l18 16 12-22-18-14zM558 2793l18-12 11-7-18 9zM675 2779l18 6 12-24-18-18zM792 2752l18 10 11-7-18 0zM821 2755l18 6 11-15-18 2zM1166 2712l19-1 10-5-19-20zM1337 2683l18 8 10-10-19-24zM517 2808l18 6 12-10-18-18zM547 2804l18 5 11-28-18 12zM810 2762l18 11 11-12-18-6zM1013 2739l18-8 11 2-19-9zM1355 2691l19 7 9-15-18-2z"/><path class="k22" d="M529 2786l18 18 11-11-18-14zM1195 2706l18 0 10-18-18 2zM1365 2681l18 2 10-3-19-23zM897 2754l19 4 10-26-18-4zM1185 2711l18-8 10 3-18 0zM1383 2683l19 10 10-20-19 7zM1412 2673l18 4 10-16-19 2z"/><path class="k24" d="M587 2774l18 19 12-21-18 1zM1138 2694l18 21 10-3-18 1z"/><path class="k29" d="M617 2772l18 7 11-12-18 11zM646 2767l18 22 11-10-18-11zM1280 2693l18-5 10-3-18-6zM1421 2663l19-2 9-11-18 2zM984 2735l18 12 11-8-18-17zM1156 2715l19 15 10-19-19 1zM1213 2706l19 8 10-17-19-9zM1242 2697l18 3 10-6-18-3z"/><path class="k28" d="M705 2761l18 1 11-9-18 1zM1052 2710l18 4 11-2-19 3zM1223 2688l19 9 10-6-19 2zM1477 2655l19 10 9-15-18-2zM576 2781l18 10 11 2-18-19zM635 2779l18-5 11 15-18-22zM723 2762l18 15 11-19-18-5zM1070 2714l19 17 10-19-18 0zM1298 2688l19 19 10-15-19-7z"/><path class="k32" d="M734 2753l18 5 11-3-18-12zM908 2728l18 4 11-12-18 13zM995 2722l18 17 10-15-18-5zM1449 2650l19 19 9-14-18-8zM1099 2712l18 27 11-25-19-6zM1440 2661l18 23 10-15-19-19zM1468 2669l18 4 10-8-19-10z"/><path class="k30" d="M763 2755l18 1 11-4-18 3zM850 2746l18 1 11-1-18-12zM966 2729l18 6 11-13-19-7zM1252 2691l18 3 10-1-18-6zM1308 2685l19 7 10-9-19 1zM752 2758l18 15 11-17-18-1zM868 2747l19 5 10 2-18-8zM955 2737l18 7 11-9-18-6zM1042 2733l18 10 10-29-18-4zM1128 2714l18 0 10 1-18-21zM1270 2694l19 14 9-20-18 5z"/><path class="k34" d="M879 2746l18 8 11-26-18-9zM1023 2724l19 9 10-23-18 10zM1081 2712l18 0 10-4-18-1zM605 2793l19 12 11-26-18-7zM664 2789l18 16 11-20-18-6zM781 2756l18 18 11-12-18-10zM839 2761l18-14 11 0-18-1zM1327 2692l18-7 10 6-18-8z"/><path class="k26" d="M937 2720l18 17 11-8-19-19zM926 2732l19 18 10-13-18-17z"/><path class="k33" d="M1109 2708l19 6 10-20-19 7z"/><path class="k25" d="M1393 2680l19-7 9-10-18-9z"/><path class="k35" d="M693 2785l19-1 11-22-18-1z"/><path class="k25" d="M535 2814l18 5 12-10-18-5zM565 2809l18 3 11-21-18-10zM1317 2707l19 5 9-27-18 7zM1458 2684l19-2 9-9-18-4zM583 2812l18-12 11-4-18-5zM847 2783l18 3 11-16-19-23z"/><path class="k34" d="M594 2791l18 5 12 9-19-12zM973 2744l19 5 10-2-18-12zM1002 2747l19 4 10-20-18 8zM1089 2731l18-8 10 16-18-27zM553 2819l18 4 12-11-18-3zM759 2780l18 11 11-9-18-9zM817 2776l19-3 11 10-19-10zM876 2770l18-5 11-13-18 0zM1336 2712l18-1 10 3-19-29z"/><path class="k36" d="M624 2805l18-27 11-4-18 5z"/><path class="k32" d="M653 2774l18 17 11 14-18-16zM671 2791l18-3 11 15-18 2zM963 2748l18 8 11-7-19-5zM1107 2723l18 8 11 3-19 5zM1193 2710l19 26 10-17-19-16z"/><path class="k27" d="M682 2805l18-2 12-19-19 1z"/><path class="k22" d="M712 2784l18 6 11-13-18-15zM799 2774l18 2 11-3-18-11zM788 2782l19-14 10 8-18-2zM1021 2751l18 2 10 1-18-23zM1307 2711l19 5 10-4-19-5z"/><path class="k23" d="M741 2777l18 3 11-7-18-15zM916 2758l18-8 11 0-19-18zM1289 2708l18 3 10-4-19-19zM1374 2698l18-13 10 8-19-10zM1402 2693l18-11 10-5-18-4zM1136 2734l18-1 10-11-18-8z"/><path class="k33" d="M770 2773l18 9 11-8-18-18zM828 2773l19 10 10-36-18 14zM1175 2730l18-20 10-7-18 8zM612 2796l18 12 12-30-18 27zM700 2803l19-15 11 2-18-6zM1078 2741l19-8 10-10-18 8z"/><path class="k28" d="M857 2747l19 23 11-18-19-5zM1031 2731l18 23 11-11-18-10zM1146 2714l18 8 11 8-19-15zM1345 2685l19 29 10-16-19-7zM1430 2677l19 17 9-10-18-23zM642 2778l18 17 11-4-18-17zM1164 2722l19 7 10-19-18 20zM1222 2719l18 0 10-11-18 6zM1392 2685l19 17 9-20-18 11zM1420 2682l19 24 10-12-19-17z"/><path class="k29" d="M887 2752l18 0 11 6-19-4zM1232 2714l18-6 10-8-18-3zM1260 2700l19 12 10-4-19-14zM905 2752l18 17 11-19-18 8z"/><path class="k30" d="M945 2750l18-2 10-4-18-7zM730 2790l18-17 11 7-18-3zM992 2749l18 14 11-12-19-4z"/><path class="k35" d="M1060 2743l18-2 11-10-19-17zM1117 2739l19-5 10-20-18 0zM1049 2754l19-11 10-2-18 2zM1364 2714l18 9 10-38-18 13zM1449 2694l18 5 10-17-19 2z"/><path class="k24" d="M1203 2703l19 16 10-5-19-8zM1250 2708l19 7 10-3-19-12zM1279 2712l18 3 10-4-18-3z"/><path class="k26" d="M934 2750l18 9 11-11-18 2z"/><path class="k33" d="M571 2823l18-3 12-20-18 12zM777 2791l19 3 11-26-19 14zM766 2803l18 7 12-16-19-3z"/><path class="k22" d="M601 2800l18 4 11 4-18-12zM648 2819l19-5 11-12-18-7zM971 2768l18 9 11-11-19-10zM1000 2766l18-2 11 2-19-3zM1029 2766l18 0 10 4-18-17zM1287 2721l19 23 10-33-19 4z"/><path class="k34" d="M630 2808l18 11 12-24-18-17zM923 2769l18 11 11-21-18-9zM1212 2736l18-12 10-5-18 0zM1354 2711l19 11 9 1-18-9zM796 2794l18-7 11-3-18-16z"/><path class="k26" d="M660 2795l18 7 11-14-18 3zM748 2773l18 30 11-12-18-11zM1125 2731l19 10 10-8-18 1zM1115 2738l19-4 10 7-19-10z"/><path class="k32" d="M689 2788l18 7 12-7-19 15zM807 2768l18 16 11-11-19 3zM1097 2733l18 5 10-7-18-8zM1154 2733l19 10 10-14-19-7zM1411 2702l18-9 10 13-19-24zM678 2802l18 22 11-29-18-7zM707 2795l19 29 11-30-18-6zM737 2794l18 1 11 8-18-30z"/><path class="k28" d="M719 2788l18 6 11-21-18 17zM836 2773l18 5 11 8-18-3zM894 2765l18 6 11-2-18-17zM952 2759l19 9 10-12-18-8zM981 2756l19 10 10-3-18-14zM1068 2743l18-1 11-9-19 8zM1183 2729l18 19 11-12-19-26zM825 2784l18 26 11-32-18-5zM854 2778l18-3 11-12-18 23zM1086 2742l19 2 10-6-18-5zM1144 2741l18 11 11-9-19-10zM1230 2724l19 26 10-20-19-11zM1316 2711l18 23 10 3-18-21z"/><path class="k41" d="M865 2786l18-23 11 2-18 5zM1401 2726l19-1 9-32-18 9z"/><path class="k23" d="M1010 2763l19 3 10-13-18-2z"/><path class="k30" d="M1039 2753l18 17 11-27-19 11zM1326 2716l18 21 10-26-18 1zM912 2771l19-6 10 15-18-11zM1173 2743l18 6 10-1-18-19zM1259 2730l18 11 10-20-18-6zM1429 2693l19 13 10 1-19-1z"/><path class="k29" d="M1240 2719l19 11 10-15-19-7zM1297 2715l19-4 10 5-19-5zM619 2804l18 10 11 5-18-11zM941 2780l19 3 11-15-19-9z"/><path class="k24" d="M1269 2715l18 6 10-6-18-3zM589 2820l18 1 12-17-18-4z"/><path class="k36" d="M1382 2723l19 3 10-24-19-17z"/><path class="k35" d="M1439 2706l19 1 9-8-18-5zM1057 2770l19-7 10-21-18 1z"/><path class="k37" d="M883 2763l19 5 10 3-18-6z"/><path class="k25" d="M1201 2748l19-5 10-19-18 12zM1344 2737l19-4 10-11-19-11zM1373 2722l18 12 10-8-19-3z"/><path class="k28" d="M607 2821l19 18 11-25-18-10zM755 2795l18 9 11 6-18-7zM814 2787l18 25 11-2-18-26zM872 2775l19 29 11-36-19-5zM931 2765l18 22 11-4-19-3zM1065 2763l19 9 10-15-18 6zM1094 2757l19 6 10-3-18-16z"/><path class="k23" d="M637 2814l18-3 12 3-19 5zM1306 2744l19-15 9 5-18-23zM626 2839l18-7 11-21-18 3zM1382 2732l18 3 10-2-19 1z"/><path class="k29" d="M667 2814l18 24 11-14-18-22zM1018 2764l18 6 11-4-18 0zM1047 2766l18-3 11 0-19 7zM1162 2752l19-10 10 7-18-6z"/><path class="k35" d="M696 2824l18 5 12-5-19-29zM1277 2741l19-8 10 11-19-23zM1391 2734l19-1 10-8-19 1zM1267 2759l19 1 10-27-19 8zM1353 2745l19-1 10-12-19 1z"/><path class="k33" d="M726 2824l18-13 11-16-18-1zM1334 2734l19 11 10-12-19 4zM1420 2725l19-10 9-9-19-13zM891 2804l18-7 11 3-18-32zM1239 2753l18 9 10-3-18-9zM1410 2733l19-3 10-15-19 10z"/><path class="k25" d="M784 2810l19-21 11-2-18 7zM1249 2750l18 9 10-18-18-11zM685 2838l18 2 11-11-18-5zM832 2812l19 4 10 9-18-15zM920 2800l18-6 11-7-18-22zM1210 2764l18 8 11-19-19-10z"/><path class="k27" d="M843 2810l18 15 11-50-18 3z"/><path class="k32" d="M902 2768l18 32 11-35-19 6zM655 2811l19-2 11 29-18-24zM744 2811l18 6 11-13-18-9zM773 2804l19 11 11-26-19 21zM803 2789l18 21 11 2-18-25zM1152 2746l19 15 10-19-19 10z"/><path class="k34" d="M960 2783l18-2 11-4-18-9zM1076 2763l18-6 11-13-19-2zM1363 2733l19-1 9 2-18-12zM714 2829l19 9 11-27-18 13zM949 2787l19 8 10-14-18 2zM1036 2770l19 7 10-14-18 3z"/><path class="k22" d="M989 2777l18 3 11-16-18 2zM1191 2749l19 15 10-21-19 5zM1220 2743l19 10 10-3-19-26zM1007 2780l19 16 10-26-18-6zM1296 2733l19-7 10 3-19 15zM1325 2729l18 21 10-5-19-11z"/><path class="k26" d="M1105 2744l18 16 11-26-19 4zM1134 2734l18 12 10 6-18-11zM1123 2760l19 8 10-22-18-12z"/><path class="k44" d="M861 2825l19-48 11 27-19-29z"/><path class="k30" d="M978 2781l19 20 10-21-18-3z"/><path class="k42" d="M1181 2742l19 27 10-5-19-15z"/><path class="k32" d="M644 2832l18-8 12-15-19 2zM792 2815l18 18 11-23-18-21zM1113 2763l19 9 10-4-19-8zM1315 2726l18 22 10 2-18-21zM662 2824l18 18 12-16-18-17zM692 2826l18 10 11-1-18 5zM1044 2783l19 14 11-27-19 7zM1103 2770l18 22 11-20-19-9z"/><path class="k38" d="M674 2809l18 17 11 14-18-2zM869 2792l18 8 11-7-18-16z"/><path class="k27" d="M703 2840l18-5 12 3-19-9zM733 2838l18-16 11-5-18-6zM986 2823l19-34 10-2-18 14z"/><path class="k28" d="M762 2817l19 1 11-3-19-11zM1171 2761l18 7 11 1-19-27zM1400 2735l19 9 10-14-19 3zM751 2822l18-5 12 1-19-1zM781 2818l18 20 11-5-18-18zM1015 2787l19 17 10-21-18 13zM1074 2770l18 2 11-2-19 2zM1132 2772l18 19 11-7-19-16z"/><path class="k29" d="M821 2810l19 11 11-5-19-4zM909 2797l19 10 10-13-18 6zM1084 2772l19-2 10-7-19-6zM928 2807l18-1 11-6-19-6z"/><path class="k25" d="M851 2816l18-24 11-15-19 48zM1228 2772l19 2 10-12-18-9z"/><path class="k40" d="M880 2777l18 16 11 4-18 7z"/><path class="k22" d="M938 2794l19 6 11-5-19-8zM968 2795l18 28 11-22-19-20zM957 2800l18-1 11 24-18-28z"/><path class="k33" d="M997 2801l18-14 11 9-19-16zM1257 2762l19 1 10-3-19-1zM721 2835l19-9 11-4-18 16zM840 2821l18 10 11-39-18 24zM1247 2774l19 9 10-20-19-1zM1362 2749l19 2 10-2-19-5z"/><path class="k35" d="M1026 2796l18-13 11-6-19-7z"/><path class="k23" d="M1055 2777l19-7 10 2-19-9zM1200 2769l18-2 10 5-18-8zM1286 2760l19-18 10-16-19 7zM1343 2750l19-1 10-5-19 1zM1218 2767l19 3 10 4-19-2zM1276 2763l19 9 10-30-19 18z"/><path class="k30" d="M1142 2768l19 16 10-23-19-15zM1372 2744l19 5 9-14-18-3zM1189 2768l19 4 10-5-18 2zM1305 2742l18 13 10-7-18-22zM1333 2748l19 1 10 0-19 1zM1391 2749l18 6 10-11-19-9z"/><path class="k34" d="M810 2833l19-3 11-9-19-11zM1161 2784l18-3 10-13-18-7z"/><path class="k26" d="M898 2793l19 11 11 3-19-10z"/><path class="k32" d="M680 2842l19-1 11-5-18-10zM740 2826l18 26 11-35-18 5zM975 2799l19 11 11-21-19 34zM1092 2772l19 31 10-11-18-22zM906 2820l18-1 11 3-18-18zM1023 2803l19-1 10 4-18-2z"/><path class="k28" d="M710 2836l19 15 11-25-19 9zM769 2817l19 27 11-6-18-20zM699 2841l18 24 12-14-19-15zM817 2826l19 18 11-15-18 1zM994 2810l19 16 10-23-18-14zM1227 2769l19 21 10-9-19-11z"/><path class="k34" d="M799 2838l18-12 12 4-19 3zM1034 2804l18 2 11-9-19-14zM1371 2763l19 8 10-9-19-11z"/><path class="k22" d="M829 2830l18-1 11 2-18-10zM946 2806l19 18 10-25-18 1zM729 2851l18 13 11-12-18-26zM935 2822l19 12 11-10-19-18zM1052 2806l19 0 11-18-19 9zM1198 2780l19 6 10-17-19 3z"/><path class="k33" d="M858 2831l18-19 11-12-18-8zM1150 2791l19-4 10-6-18 3zM965 2824l18-10 11-4-19-11zM1111 2803l18 6 11-15-19-2z"/><path class="k31" d="M887 2800l19 20 11-16-19-11z"/><path class="k37" d="M917 2804l18 18 11-16-18 1zM1005 2789l18 14 11 1-19-17z"/><path class="k30" d="M1063 2797l19-9 10-16-18-2zM1179 2781l19-1 10-8-19-4zM1208 2772l19-3 10 1-19-3zM1323 2755l19 24 10-30-19-1zM1381 2751l19 11 9-7-18-6zM788 2844l18-2 11-16-18 12zM847 2829l19 12 10-29-18 19zM1169 2787l19 1 10-8-19 1z"/><path class="k23" d="M1121 2792l19 2 10-3-18-19zM1352 2749l19 14 10-12-19-2zM1140 2794l19 11 10-18-19 4zM1256 2781l19 19 10-21-19 4zM1285 2779l18 9 10-16-18 0zM1313 2772l19 4 10 3-19-24z"/><path class="k25" d="M1237 2770l19 11 10 2-19-9zM1342 2779l19 7 10-23-19-14z"/><path class="k27" d="M1266 2783l19-4 10-7-19-9z"/><path class="k35" d="M1295 2772l18 0 10-17-18-13z"/><path class="k41" d="M758 2852l19-4 11-4-19-27z"/><path class="k40" d="M876 2812l19 11 11-3-19-20z"/><path class="k24" d="M1082 2788l18 21 11-6-19-31z"/><path class="k35" d="M717 2865l19 16 11-17-18-13zM1275 2800l18 5 10-17-18-9zM1303 2788l19 3 10-15-19-4zM1361 2786l19-4 10-11-19-8z"/><path class="k33" d="M747 2864l18 8 12-24-19 4zM736 2881l18-4 11-5-18-8zM1351 2787l19 1 10-6-19 4z"/><path class="k22" d="M777 2848l18-7 11 1-18 2zM1013 2826l18-16 11-8-19 1zM1100 2809l19 1 10-1-18-6zM1332 2776l19 11 10-1-19-7zM1177 2801l19 2 10-11-18-4z"/><path class="k29" d="M806 2842l19-7 11 9-19-18zM866 2841l18 10 11-28-19-11zM1188 2788l18 4 11-6-19-6z"/><path class="k23" d="M836 2844l18 9 12-12-19-12zM1148 2816l19-7 10-8-18 4zM1322 2791l19 7 10-11-19-11z"/><path class="k32" d="M895 2823l19 12 10-16-18 1zM924 2819l19 10 11 5-19-12zM983 2814l19 8 11 4-19-16z"/><path class="k25" d="M954 2834l19-14 10-6-18 10zM1159 2805l18-4 11-13-19-1z"/><path class="k28" d="M1042 2802l19 12 10-8-19 0zM1217 2786l18 9 11-5-19-21zM825 2835l18 10 11 8-18-9zM914 2835l18 24 11-30-19-10zM943 2829l19 31 11-40-19 14zM973 2820l18 25 11-23-19-8zM1031 2810l19 8 11-4-19-12zM1090 2813l19 3 10-6-19-1zM1206 2792l19 10 10-7-18-9zM1235 2795l19 21 10-32-18 6z"/><path class="k30" d="M1071 2806l19 7 10-4-18-21zM884 2851l19-3 11-13-19-12zM1002 2822l19-1 10-11-18 16zM1061 2814l18-2 11 1-19-7zM1264 2784l19 9 10 12-18-5z"/><path class="k34" d="M1129 2809l19 7 11-11-19-11zM1246 2790l18-6 11 16-19-19zM854 2853l19 5 11-7-18-10zM1119 2810l19 4 10 2-19-7z"/><path class="k27" d="M765 2872l19-12 11-19-18 7z"/><path class="k24" d="M795 2841l19 24 11-30-19 7z"/><path class="k36" d="M1293 2805l19-16 10 2-19-3z"/><path class="k33" d="M754 2877l19-1 11-16-19 12zM932 2859l19-2 11 3-19-31zM1254 2816l19-12 10-11-19-9z"/><path class="k29" d="M784 2860l19 5 11 0-19-24zM1021 2821l18 18 11-21-19-8zM1050 2818l19 3 10-9-18 2zM1138 2814l19 8 10-13-19 7zM773 2876l18 2 12-13-19-5z"/><path class="k30" d="M814 2865l18 3 11-23-18-10zM903 2848l18 13 11-2-18-24zM991 2845l19-6 11-18-19 1zM1109 2816l18 10 11-12-19-4zM980 2843l19 14 11-18-19 6zM1010 2839l19 17 10-17-18-18z"/><path class="k32" d="M843 2845l19 24 11-11-19-5zM1079 2812l19 19 11-15-19-3zM803 2865l18 9 11-6-18-3z"/><path class="k34" d="M873 2858l19 17 11-27-19 3zM1283 2793l19 12 10-16-19 16zM862 2869l19 19 11-13-19-17zM921 2861l19 12 11-16-19 2zM1039 2839l19-2 11-16-19-3z"/><path class="k41" d="M962 2860l18-17 11 2-18-25z"/><path class="k22" d="M1167 2809l19 0 10-6-19-2zM1312 2789l19 7 10 2-19-7zM1127 2826l19-5 11 1-19-8zM1157 2822l18-4 11-9-19 0z"/><path class="k28" d="M1196 2803l19 16 10-17-19-10zM1069 2821l19 28 10-18-19-19zM1331 2796l19 0 10 9-19-7z"/><path class="k26" d="M1225 2802l19 12 10 2-19-21zM1186 2809l19 30 10-20-19-16z"/><path class="k23" d="M1341 2798l19 7 10-17-19-1zM951 2857l19 6 10-20-18 17zM1215 2819l19-9 10 4-19-12zM1244 2814l19 9 10-19-19 12zM1273 2804l19 17 10-16-19-12z"/><path class="k24" d="M832 2868l19-3 11 4-19-24zM1302 2805l19 7 10-16-19-7z"/><path class="k25" d="M892 2875l18-11 11-3-18-13zM1098 2831l19 10 10-15-18-10z"/><path class="k24" d="M791 2878l19 12 11-16-18-9zM821 2874l19 22 11-31-19 3z"/><path class="k32" d="M851 2865l19 22 11 1-19-19zM1018 2851l19 21 10-13-18-3zM1165 2829l19-3 10-5-19-3z"/><path class="k27" d="M881 2888l18-24 11 0-18 11zM1263 2823l19 1 10-3-19-17z"/><path class="k34" d="M910 2864l19 2 11 7-19-12zM1088 2849l18-2 11-6-19-10zM1117 2841l19-4 10-16-19 5z"/><path class="k33" d="M940 2873l19 2 11-12-19-6zM1292 2821l19 7 10-16-19-7zM870 2887l18-9 11-14-18 24zM1282 2824l19-4 10 8-19-7zM1311 2828l19 5 10-11-19-10z"/><path class="k23" d="M970 2863l18 2 11-8-19-14zM1029 2856l18 3 11-22-19 2zM810 2890l19 10 11-4-19-22z"/><path class="k30" d="M999 2857l19-6 11 5-19-17zM1321 2812l19 10 10-26-19 0zM988 2865l19-4 11-10-19 6z"/><path class="k28" d="M1058 2837l19 23 11-11-19-28zM1234 2810l19 24 10-11-19-9zM899 2864l19 8 11-6-19-2zM929 2866l19 7 11 2-19-2zM1136 2837l19-1 10-7-19-8z"/><path class="k26" d="M1146 2821l19 8 10-11-18 4z"/><path class="k38" d="M1175 2818l19 3 11 18-19-30zM1194 2821l19 2 11-4-19 20z"/><path class="k35" d="M1205 2839l19-20 10-9-19 9zM840 2896l19 0 11-9-19-22zM1253 2834l19 7 10-17-19-1z"/><path class="k25" d="M959 2875l19 1 10-11-18-2z"/><path class="k22" d="M1047 2859l19 9 11-8-19-23zM1077 2860l19-9 10-4-18 2zM1106 2847l19 6 11-16-19 4z"/><path class="k37" d="M1224 2819l19 12 10 3-19-24z"/><path class="k25" d="M829 2900l18-6 12 2-19 0z"/><path class="k33" d="M859 2896l18-10 11-8-18 9zM1037 2872l19-3 10-1-19-9zM1272 2841l19-5 10-16-19 4zM1115 2868l19 14 10-32-19 3z"/><path class="k28" d="M888 2878l19 10 11-16-19-8zM948 2873l19 16 11-13-19-1zM1096 2851l19 17 10-15-19-6zM1301 2820l19 11 10 2-19-5zM1026 2870l19 15 11-16-19 3zM1203 2834l19-2 10-5-19-4z"/><path class="k24" d="M918 2872l19 20 11-19-19-7zM907 2888l19 7 11-3-19-20zM1291 2836l19-5 10 0-19-11z"/><path class="k22" d="M978 2876l18 12 11-27-19 4zM1125 2853l19-3 11-14-19 1zM967 2889l18 13 11-14-18-12z"/><path class="k32" d="M1007 2861l19 9 11 2-19-21zM877 2886l19 18 11-16-19-10zM1262 2830l19 17 10-11-19 5z"/><path class="k30" d="M1066 2868l19 9 11-26-19 9zM1243 2831l19-1 10 11-19-7zM847 2894l19-1 11-7-18 10zM1144 2850l19 18 11-32-19 0z"/><path class="k37" d="M1155 2836l19 0 10-10-19 3zM1174 2836l19 26 10-28-19-8z"/><path class="k43" d="M1184 2826l19 8 10-11-19-2z"/><path class="k38" d="M1213 2823l19 4 11 4-19-12zM1232 2827l19 12 11-9-19 1z"/><path class="k29" d="M937 2892l19 3 11-6-19-16zM1056 2869l19 19 10-11-19-9z"/><path class="k34" d="M996 2888l19 6 11-24-19-9zM1085 2877l19-3 11-6-19-17z"/><path class="k32" d="M866 2893l19 8 11 3-19-18zM1281 2847l19-6 10-10-19 5zM945 2896l19 16 11-2-19-15z"/><path class="k23" d="M896 2904l19 10 11-19-19-7zM1193 2862l19-1 10-29-19 2zM975 2910l18 1 11-3-19-6zM1004 2908l19-1 11-7-19-6z"/><path class="k28" d="M926 2895l19 1 11-1-19-3zM1251 2839l19-3 11 11-19-17z"/><path class="k30" d="M956 2895l19 15 10-8-18-13zM1104 2874l19 7 11 1-19-14zM1123 2881l19 0 11 2-19-1z"/><path class="k33" d="M985 2902l19 6 11-14-19-6zM1064 2903l19 2 10-11-18-6z"/><path class="k29" d="M1015 2894l19 6 11-15-19-15zM1163 2868l19 2 11-8-19-26z"/><path class="k34" d="M1045 2885l19 18 11-15-19-19zM1075 2888l18 6 11-20-19 3zM1034 2900l19 15 11-12-19-18zM1153 2883l19 13 10-26-19-2zM1182 2870l19 14 11-23-19 1z"/><path class="k25" d="M1134 2882l19 1 10-15-19-18z"/><path class="k43" d="M1222 2832l19 38 10-31-19-12z"/><path class="k24" d="M885 2901l19 6 11 7-19-10z"/><path class="k22" d="M915 2914l19 12 11-30-19-1zM1241 2870l19-27 10-7-19 3z"/><path class="k35" d="M1093 2894l19 5 11-18-19-7z"/><path class="k26" d="M1212 2861l19 7 10 2-19-38z"/><path class="k31" d="M1270 2836l19 12 11-7-19 6z"/><path class="k28" d="M904 2907l19 23 11-4-19-12zM1231 2868l19 13 10-38-19 27z"/><path class="k33" d="M934 2926l19-6 11-8-19-16zM1172 2896l19 4 10-16-19-14zM1161 2905l19-11 11 6-19-4z"/><path class="k23" d="M964 2912l19 10 10-11-18-1zM993 2911l19 1 11-5-19 1zM1023 2907l19 4 11 4-19-15zM983 2922l19-3 10-7-19-1zM1042 2911l19 3 11-16-19 17zM1220 2879l19 12 11-10-19-13zM1250 2881l19 4 10-31-19-11z"/><path class="k35" d="M1053 2915l19-17 11 7-19-2zM1102 2908l19-7 10 9-19-11zM1131 2910l20-9 10 4-19-24z"/><path class="k25" d="M1083 2905l19 3 10-9-19-5zM1201 2884l19-5 11-11-19-7zM923 2930l19 7 11-17-19 6z"/><path class="k30" d="M1112 2899l19 11 11-29-19 0zM1072 2898l19 5 11 5-19-3z"/><path class="k29" d="M1142 2881l19 24 11-9-19-13z"/><path class="k40" d="M1260 2843l19 11 10-6-19-12z"/><path class="k34" d="M953 2920l19 3 11-1-19-10zM1012 2912l19 17 11-18-19-4z"/><path class="k41" d="M1191 2900l19-18 10-3-19 5z"/><path class="k25" d="M942 2937l19-10 11-4-19-3z"/><path class="k22" d="M972 2923l19 5 11-9-19 3zM1121 2901l19 10 11-10-20 9z"/><path class="k34" d="M1002 2919l19 16 10-6-19-17zM1021 2935l19-5 11-7-20 6z"/><path class="k33" d="M1031 2929l20-6 10-9-19-3zM1199 2913l20-10 10-10-19-11z"/><path class="k29" d="M1061 2914l19 7 11-18-19-5zM1151 2901l19 11 10-18-19 11zM1051 2923l19 12 10-14-19-7zM1110 2909l19 2 11 0-19-10z"/><path class="k30" d="M1091 2903l19 6 11-8-19 7zM1239 2891l20 4 10-10-19-4zM1170 2912l19-5 10 6-19-19zM1229 2893l19 1 11 1-20-4z"/><path class="k28" d="M1180 2894l19 19 11-31-19 18zM961 2927l19-2 11 3-19-5zM1080 2921l19-6 11-6-19-6z"/><path class="k32" d="M1210 2882l19 11 10-2-19-12z"/><path class="k24" d="M991 2928l19 12 11-5-19-16z"/><path class="k23" d="M1140 2911l19 4 11-3-19-11z"/><path class="k37" d="M980 2925l19 18 11-3-19-12zM1208 2906l19 8 11-5-19-6z"/><path class="k34" d="M1010 2940l19-8 11-2-19 5z"/><path class="k28" d="M1040 2930l19 14 11-9-19-12zM1099 2915l20 13 10-17-19-2zM999 2943l19 5 11-16-19 8zM1029 2932l19 13 11-1-19-14z"/><path class="k33" d="M1070 2935l19-17 10-3-19 6z"/><path class="k29" d="M1129 2911l20 6 10-2-19-4z"/><path class="k30" d="M1159 2915l19-3 11-5-19 5zM1149 2917l19 15 10-20-19 3z"/><path class="k32" d="M1189 2907l19-1 11-3-20 10zM1089 2918l19 18 11-8-20-13z"/><path class="k24" d="M1219 2903l19 6 10-15-19-1z"/><path class="k23" d="M1059 2944l19-13 11-13-19 17z"/><path class="k22" d="M1119 2928l19 10 11-21-20-6z"/><path class="k42" d="M1178 2912l20 6 10-12-19 1z"/><path class="k29" d="M1018 2948l19 14 11-17-19-13zM1097 2949l19 7 11-1-19-19z"/><path class="k30" d="M1048 2945l19 17 11-31-19 13zM1168 2932l19-2 11-12-20-6z"/><path class="k28" d="M1078 2931l19 18 11-13-19-18zM1198 2918l19 15 10-19-19-8z"/><path class="k22" d="M1108 2936l19 19 11-17-19-10zM1138 2938l19 14 11-20-19-15zM1037 2962l19 4 11-4-19-17zM1067 2962l19 4 11-17-19-18zM1127 2955l19-17 11 14-19-14z"/><path class="k34" d="M1157 2952l19 14 11-36-19 2z"/><path class="k26" d="M1187 2930l19 10 11-7-19-15z"/><path class="k22" d="M1056 2966l19-3 11 3-19-4z"/><path class="k23" d="M1086 2966l20 4 10-14-19-7z"/><path class="k30" d="M1116 2956l20-4 10-14-19 17z"/><path class="k28" d="M1146 2938l20 31 10-3-19-14zM1136 2952l19 13 11 4-20-31z"/><path class="k33" d="M1176 2966l20-3 10-23-19-10z"/><path class="k26" d="M1075 2963l20 23 11-16-20-4z"/><path class="k29" d="M1106 2970l19 4 11-22-20 4z"/><path class="k34" d="M1166 2969l19-4 11-2-20 3z"/><path class="k22" d="M1095 2986l19-2 11-10-19-4z"/><path class="k34" d="M1125 2974l19-2 11-7-19-13z"/><path class="k28" d="M1155 2965l19 5 11-5-19 4z"/><path class="k23" d="M1114 2984l20 11 10-23-19 2z"/><path class="k42" d="M1144 2972l20 14 10-16-19-5z"/><path class="k30" d="M1134 2995l19 12 11-21-20-14z"/></g>
<path d="M3.9 272.0L118.6 308.6" fill="none" stroke="#3c3c3c" stroke-width="0.8"/>
<path d="M118.6 308.6L178.7 249.3" fill="none" stroke="#3c3c3c" stroke-width="0.8"/>
<path d="M178.7 249.3L178.7 222.9" fill="none" stroke="#3c3c3c" stroke-width="0.8"/>
<path d="M10.3 274.0L8.2 275.7" fill="none" stroke="#333" stroke-width="0.7"/>
<path d="M111.2 306.2L109.3 308.1" fill="none" stroke="#333" stroke-width="0.7"/>
<path d="M122.6 304.6L125.7 305.6" fill="none" stroke="#333" stroke-width="0.7"/>
<path d="M175.5 252.5L178.3 253.3" fill="none" stroke="#333" stroke-width="0.7"/>
<path d="M178.7 238.3L180.4 238.8" fill="none" stroke="#333" stroke-width="0.7"/>
<text x="3.10" y="289.10" font-size="9.55" text-anchor="start" font-weight="normal" font-style="normal" fill="#000" textLength="5.73" lengthAdjust="spacingAndGlyphs" >0</text>
<text x="129.80" y="317.40" font-size="9.55" text-anchor="start" font-weight="normal" font-style="normal" fill="#000" textLength="5.73" lengthAdjust="spacingAndGlyphs" >0</text>
<g transform="translate(44.20,308.20)"><text x="0.00" y="0.00" font-size="9.55" font-style="italic" textLength="5.33" lengthAdjust="spacingAndGlyphs">x</text></g>
<g transform="translate(167.00,289.90)"><text x="0.00" y="0.00" font-size="9.55" font-style="italic" textLength="5.33" lengthAdjust="spacingAndGlyphs">y</text></g>
<g transform="translate(205.50,234.60)"><text x="0.00" y="0.00" font-size="9.55" font-style="italic" textLength="5.70" lengthAdjust="spacingAndGlyphs">h</text></g>
<g transform="translate(100.90,321.50)"><text x="0.00" y="0.00" font-size="9.55" font-style="italic" textLength="5.01" lengthAdjust="spacingAndGlyphs">L</text><text x="5.01" y="1.60" font-size="6.68" font-style="italic" textLength="3.73" lengthAdjust="spacingAndGlyphs">x</text></g>
<g transform="translate(179.40,263.50)"><text x="0.00" y="0.00" font-size="9.55" font-style="italic" textLength="5.01" lengthAdjust="spacingAndGlyphs">L</text><text x="5.01" y="1.60" font-size="6.68" font-style="italic" textLength="3.73" lengthAdjust="spacingAndGlyphs">y</text></g>
<g transform="translate(187.80,243.90)"><text x="0.00" y="0.00" font-size="9.55" font-style="italic" textLength="5.01" lengthAdjust="spacingAndGlyphs">L</text><text x="5.01" y="1.60" font-size="6.68" font-style="italic" textLength="3.31" lengthAdjust="spacingAndGlyphs">z</text></g>
<text x="18.30" y="190.50" font-size="15.91" text-anchor="start" font-weight="bold" font-style="normal" fill="#000" textLength="10.74" lengthAdjust="spacingAndGlyphs" >d</text>
<defs><linearGradient id="cbd" x1="0" y1="0" x2="0" y2="1"><stop offset="0" stop-color="#e8002a"/><stop offset="0.175" stop-color="#f00030"/><stop offset="0.254" stop-color="#f04050"/><stop offset="0.33" stop-color="#f88080"/><stop offset="0.41" stop-color="#f8b8b0"/><stop offset="0.5" stop-color="#ebe6e6"/><stop offset="0.557" stop-color="#c0e0f8"/><stop offset="0.613" stop-color="#80c8f8"/><stop offset="0.681" stop-color="#10acff"/><stop offset="0.748" stop-color="#0a90ff"/><stop offset="0.838" stop-color="#0070e8"/><stop offset="0.928" stop-color="#0050d0"/><stop offset="1" stop-color="#0030c0"/></linearGradient></defs>
<rect x="224.7" y="205.5" width="6.200000000000017" height="89.0" fill="url(#cbd)" stroke="#505050" stroke-width="0.8"/>
<line x1="230.9" y1="205.50" x2="232.9" y2="205.50" stroke="#333" stroke-width="0.6"/>
<g transform="translate(235.20,209.10)"><text x="0.00" y="0.00" font-size="9.55" font-style="italic" textLength="5.01" lengthAdjust="spacingAndGlyphs">L</text><text x="5.51" y="1.60" font-size="6.68" font-style="italic" textLength="3.31" lengthAdjust="spacingAndGlyphs">z</text><text x="10.82" y="0.00" font-size="9.55" font-style="normal" textLength="3.03" lengthAdjust="spacingAndGlyphs">/</text><text x="14.45" y="0.00" font-size="9.55" font-style="normal" textLength="5.73" lengthAdjust="spacingAndGlyphs">3</text></g>
<line x1="230.9" y1="250.00" x2="232.9" y2="250.00" stroke="#333" stroke-width="0.6"/>
<g transform="translate(235.20,253.60)"><text x="0.00" y="0.00" font-size="9.55" font-style="italic" textLength="5.01" lengthAdjust="spacingAndGlyphs">L</text><text x="5.51" y="1.60" font-size="6.68" font-style="italic" textLength="3.31" lengthAdjust="spacingAndGlyphs">z</text><text x="10.82" y="0.00" font-size="9.55" font-style="normal" textLength="3.03" lengthAdjust="spacingAndGlyphs">/</text><text x="14.45" y="0.00" font-size="9.55" font-style="normal" textLength="5.73" lengthAdjust="spacingAndGlyphs">6</text></g>
<line x1="230.9" y1="294.50" x2="232.9" y2="294.50" stroke="#333" stroke-width="0.6"/>
<text x="235.40" y="298.10" font-size="9.55" text-anchor="start" font-weight="normal" font-style="normal" fill="#000" textLength="5.73" lengthAdjust="spacingAndGlyphs" >0</text>
<rect x="310.5" y="24.5" width="161.0" height="114.0" fill="none" stroke="#808080" stroke-width="1"/>
<line x1="318.19" y1="138.5" x2="318.19" y2="140.7" stroke="#808080" stroke-width="0.8"/>
<text x="318.19" y="148.20" font-size="9.55" text-anchor="middle" font-weight="normal" font-style="normal" fill="#000" textLength="13.27" lengthAdjust="spacingAndGlyphs" >−4</text>
<line x1="354.77" y1="138.5" x2="354.77" y2="140.7" stroke="#808080" stroke-width="0.8"/>
<text x="354.77" y="148.20" font-size="9.55" text-anchor="middle" font-weight="normal" font-style="normal" fill="#000" textLength="13.27" lengthAdjust="spacingAndGlyphs" >−2</text>
<line x1="391.35" y1="138.5" x2="391.35" y2="140.7" stroke="#808080" stroke-width="0.8"/>
<text x="391.35" y="148.20" font-size="9.55" text-anchor="middle" font-weight="normal" font-style="normal" fill="#000" textLength="5.73" lengthAdjust="spacingAndGlyphs" >0</text>
<line x1="427.93" y1="138.5" x2="427.93" y2="140.7" stroke="#808080" stroke-width="0.8"/>
<text x="427.93" y="148.20" font-size="9.55" text-anchor="middle" font-weight="normal" font-style="normal" fill="#000" textLength="5.73" lengthAdjust="spacingAndGlyphs" >2</text>
<line x1="464.51" y1="138.5" x2="464.51" y2="140.7" stroke="#808080" stroke-width="0.8"/>
<text x="464.51" y="148.20" font-size="9.55" text-anchor="middle" font-weight="normal" font-style="normal" fill="#000" textLength="5.73" lengthAdjust="spacingAndGlyphs" >4</text>
<line x1="308.3" y1="138.30" x2="310.5" y2="138.30" stroke="#808080" stroke-width="0.8"/>
<text x="307.60" y="141.60" font-size="9.55" text-anchor="end" font-weight="normal" font-style="normal" fill="#000" textLength="14.31" lengthAdjust="spacingAndGlyphs" >0.0</text>
<line x1="308.3" y1="97.90" x2="310.5" y2="97.90" stroke="#808080" stroke-width="0.8"/>
<text x="307.60" y="101.20" font-size="9.55" text-anchor="end" font-weight="normal" font-style="normal" fill="#000" textLength="14.31" lengthAdjust="spacingAndGlyphs" >0.1</text>
<line x1="308.3" y1="57.50" x2="310.5" y2="57.50" stroke="#808080" stroke-width="0.8"/>
<text x="307.60" y="60.80" font-size="9.55" text-anchor="end" font-weight="normal" font-style="normal" fill="#000" textLength="14.31" lengthAdjust="spacingAndGlyphs" >0.2</text>
<line x1="336.48" y1="104.00" x2="336.48" y2="129.00" stroke="#a8b8ff" stroke-width="1.0"/>
<line x1="354.77" y1="62.90" x2="354.77" y2="105.00" stroke="#a8b8ff" stroke-width="1.0"/>
<line x1="373.06" y1="36.00" x2="373.06" y2="72.80" stroke="#a8b8ff" stroke-width="1.0"/>
<line x1="391.35" y1="29.50" x2="391.35" y2="56.00" stroke="#a8b8ff" stroke-width="1.0"/>
<line x1="409.64" y1="39.40" x2="409.64" y2="77.00" stroke="#a8b8ff" stroke-width="1.0"/>
<line x1="427.93" y1="69.00" x2="427.93" y2="107.00" stroke="#a8b8ff" stroke-width="1.0"/>
<line x1="446.22" y1="108.00" x2="446.22" y2="129.00" stroke="#a8b8ff" stroke-width="1.0"/>
<line x1="327.34" y1="115.70" x2="327.34" y2="130.00" stroke="#8c8c8c" stroke-width="1.0"/>
<line x1="345.62" y1="85.00" x2="345.62" y2="110.00" stroke="#8c8c8c" stroke-width="1.0"/>
<line x1="363.92" y1="58.60" x2="363.92" y2="83.40" stroke="#8c8c8c" stroke-width="1.0"/>
<line x1="382.21" y1="45.10" x2="382.21" y2="62.70" stroke="#8c8c8c" stroke-width="1.0"/>
<line x1="400.50" y1="45.90" x2="400.50" y2="65.80" stroke="#8c8c8c" stroke-width="1.0"/>
<line x1="418.79" y1="62.30" x2="418.79" y2="88.00" stroke="#8c8c8c" stroke-width="1.0"/>
<line x1="437.08" y1="88.60" x2="437.08" y2="113.70" stroke="#8c8c8c" stroke-width="1.0"/>
<line x1="455.37" y1="118.00" x2="455.37" y2="130.00" stroke="#8c8c8c" stroke-width="1.0"/>
<line x1="318.19" y1="125.00" x2="318.19" y2="130.00" stroke="#ff6a6a" stroke-width="1.5"/>
<line x1="336.48" y1="103.40" x2="336.48" y2="114.30" stroke="#ff6a6a" stroke-width="1.5"/>
<line x1="354.77" y1="81.40" x2="354.77" y2="94.30" stroke="#ff6a6a" stroke-width="1.5"/>
<line x1="373.06" y1="62.70" x2="373.06" y2="70.40" stroke="#ff6a6a" stroke-width="1.5"/>
<line x1="391.35" y1="55.00" x2="391.35" y2="59.00" stroke="#ff6a6a" stroke-width="1.5"/>
<line x1="409.64" y1="57.00" x2="409.64" y2="72.00" stroke="#ff6a6a" stroke-width="1.5"/>
<line x1="427.93" y1="80.00" x2="427.93" y2="92.90" stroke="#ff6a6a" stroke-width="1.5"/>
<line x1="446.22" y1="108.00" x2="446.22" y2="114.90" stroke="#ff6a6a" stroke-width="1.5"/>
<line x1="464.51" y1="127.00" x2="464.51" y2="130.00" stroke="#ff6a6a" stroke-width="1.5"/>
<circle cx="336.48" cy="116.30" r="0.9" fill="#1a1aff"/>
<circle cx="354.77" cy="84.00" r="0.9" fill="#1a1aff"/>
<circle cx="373.06" cy="54.30" r="0.9" fill="#1a1aff"/>
<circle cx="391.35" cy="43.10" r="0.9" fill="#1a1aff"/>
<circle cx="409.64" cy="58.00" r="0.9" fill="#1a1aff"/>
<circle cx="427.93" cy="88.00" r="0.9" fill="#1a1aff"/>
<circle cx="446.22" cy="118.60" r="0.9" fill="#1a1aff"/>
<path d="M325.74 121.02L328.94 121.02L327.34 124.06Z" fill="#000"/>
<path d="M344.02 95.82L347.23 95.82L345.62 98.86Z" fill="#000"/>
<path d="M362.31 69.62L365.52 69.62L363.92 72.66Z" fill="#000"/>
<path d="M380.61 52.32L383.81 52.32L382.21 55.36Z" fill="#000"/>
<path d="M398.89 54.32L402.10 54.32L400.50 57.36Z" fill="#000"/>
<path d="M417.19 73.02L420.39 73.02L418.79 76.06Z" fill="#000"/>
<path d="M435.48 100.12L438.68 100.12L437.08 103.16Z" fill="#000"/>
<path d="M453.76 122.12L456.97 122.12L455.37 125.16Z" fill="#000"/>
<rect x="316.29" y="125.50" width="3.80" height="3.80" fill="#ff0000"/>
<rect x="334.58" y="107.50" width="3.80" height="3.80" fill="#ff0000"/>
<rect x="352.87" y="86.10" width="3.80" height="3.80" fill="#ff0000"/>
<rect x="371.16" y="64.20" width="3.80" height="3.80" fill="#ff0000"/>
<rect x="389.45" y="55.10" width="3.80" height="3.80" fill="#ff0000"/>
<rect x="407.74" y="63.00" width="3.80" height="3.80" fill="#ff0000"/>
<rect x="426.03" y="84.70" width="3.80" height="3.80" fill="#ff0000"/>
<rect x="444.32" y="109.50" width="3.80" height="3.80" fill="#ff0000"/>
<rect x="462.61" y="126.70" width="3.80" height="3.80" fill="#ff0000"/>
<rect x="359.8" y="90.4" width="62.599999999999966" height="43.0" rx="1.8" fill="#fff" fill-opacity="0.8" stroke="#d9d9d9" stroke-width="0.8"/>
<circle cx="372.50" cy="98.10" r="0.9" fill="#1a1aff"/>
<text x="389.30" y="101.40" font-size="9.55" text-anchor="start" font-weight="normal" font-style="normal" fill="#000" textLength="24.01" lengthAdjust="spacingAndGlyphs" >L=64</text>
<path d="M370.90 110.12L374.10 110.12L372.50 113.16Z" fill="#000"/>
<text x="389.30" y="114.70" font-size="9.55" text-anchor="start" font-weight="normal" font-style="normal" fill="#000" textLength="29.73" lengthAdjust="spacingAndGlyphs" >L=128</text>
<rect x="370.60" y="122.90" width="3.80" height="3.80" fill="#ff0000"/>
<text x="389.30" y="128.10" font-size="9.55" text-anchor="start" font-weight="normal" font-style="normal" fill="#000" textLength="29.73" lengthAdjust="spacingAndGlyphs" >L=256</text>
<g transform="translate(289.00,80.70) rotate(-90)"><text x="-23.61" y="0.00" font-size="9.55" font-style="italic" textLength="5.71" lengthAdjust="spacingAndGlyphs">ρ</text><text x="-17.90" y="0.00" font-size="9.55" font-style="normal" textLength="3.51" lengthAdjust="spacingAndGlyphs">(</text><text x="-14.39" y="0.00" font-size="9.55" font-style="italic" textLength="5.70" lengthAdjust="spacingAndGlyphs">h</text><text x="-6.68" y="0.00" font-size="9.55" font-style="normal" textLength="6.00" lengthAdjust="spacingAndGlyphs">−</text><text x="1.32" y="0.00" font-size="9.55" font-style="italic" textLength="5.01" lengthAdjust="spacingAndGlyphs">L</text><text x="6.83" y="1.60" font-size="6.68" font-style="italic" textLength="3.31" lengthAdjust="spacingAndGlyphs">z</text><text x="11.34" y="0.00" font-size="9.55" font-style="normal" textLength="3.03" lengthAdjust="spacingAndGlyphs">/</text><text x="14.37" y="0.00" font-size="9.55" font-style="normal" textLength="5.73" lengthAdjust="spacingAndGlyphs">2</text><text x="20.10" y="0.00" font-size="9.55" font-style="normal" textLength="3.51" lengthAdjust="spacingAndGlyphs">)</text></g>
<g transform="translate(391.20,159.00)"><text x="-17.44" y="0.00" font-size="9.55" font-style="italic" textLength="5.70" lengthAdjust="spacingAndGlyphs">h</text><text x="-9.54" y="0.00" font-size="9.55" font-style="normal" textLength="6.00" lengthAdjust="spacingAndGlyphs">−</text><text x="-1.34" y="0.00" font-size="9.55" font-style="italic" textLength="5.01" lengthAdjust="spacingAndGlyphs">L</text><text x="4.18" y="1.60" font-size="6.68" font-style="italic" textLength="3.31" lengthAdjust="spacingAndGlyphs">z</text><text x="8.68" y="0.00" font-size="9.55" font-style="normal" textLength="3.03" lengthAdjust="spacingAndGlyphs">/</text><text x="11.72" y="0.00" font-size="9.55" font-style="normal" textLength="5.73" lengthAdjust="spacingAndGlyphs">2</text></g>
<text x="279.10" y="14.40" font-size="15.91" text-anchor="start" font-weight="bold" font-style="normal" fill="#000" textLength="10.74" lengthAdjust="spacingAndGlyphs" >b</text>
<rect x="521.5" y="24.5" width="161.0" height="114.0" fill="none" stroke="#808080" stroke-width="1"/>
<line x1="529.00" y1="138.5" x2="529.00" y2="140.7" stroke="#808080" stroke-width="0.8"/>
<text x="529.00" y="148.20" font-size="9.55" text-anchor="middle" font-weight="normal" font-style="normal" fill="#000" textLength="13.27" lengthAdjust="spacingAndGlyphs" >−4</text>
<line x1="565.50" y1="138.5" x2="565.50" y2="140.7" stroke="#808080" stroke-width="0.8"/>
<text x="565.50" y="148.20" font-size="9.55" text-anchor="middle" font-weight="normal" font-style="normal" fill="#000" textLength="13.27" lengthAdjust="spacingAndGlyphs" >−2</text>
<line x1="602.00" y1="138.5" x2="602.00" y2="140.7" stroke="#808080" stroke-width="0.8"/>
<text x="602.00" y="148.20" font-size="9.55" text-anchor="middle" font-weight="normal" font-style="normal" fill="#000" textLength="5.73" lengthAdjust="spacingAndGlyphs" >0</text>
<line x1="638.50" y1="138.5" x2="638.50" y2="140.7" stroke="#808080" stroke-width="0.8"/>
<text x="638.50" y="148.20" font-size="9.55" text-anchor="middle" font-weight="normal" font-style="normal" fill="#000" textLength="5.73" lengthAdjust="spacingAndGlyphs" >2</text>
<line x1="675.00" y1="138.5" x2="675.00" y2="140.7" stroke="#808080" stroke-width="0.8"/>
<text x="675.00" y="148.20" font-size="9.55" text-anchor="middle" font-weight="normal" font-style="normal" fill="#000" textLength="5.73" lengthAdjust="spacingAndGlyphs" >4</text>
<line x1="519.3" y1="122.30" x2="521.5" y2="122.30" stroke="#808080" stroke-width="0.8"/>
<text x="518.60" y="125.60" font-size="9.55" text-anchor="end" font-weight="normal" font-style="normal" fill="#000" textLength="14.31" lengthAdjust="spacingAndGlyphs" >0.0</text>
<line x1="519.3" y1="84.40" x2="521.5" y2="84.40" stroke="#808080" stroke-width="0.8"/>
<text x="518.60" y="87.70" font-size="9.55" text-anchor="end" font-weight="normal" font-style="normal" fill="#000" textLength="14.31" lengthAdjust="spacingAndGlyphs" >0.2</text>
<line x1="519.3" y1="46.50" x2="521.5" y2="46.50" stroke="#808080" stroke-width="0.8"/>
<text x="518.60" y="49.80" font-size="9.55" text-anchor="end" font-weight="normal" font-style="normal" fill="#000" textLength="14.31" lengthAdjust="spacingAndGlyphs" >0.4</text>
<line x1="547.25" y1="80.60" x2="547.25" y2="132.00" stroke="#a8b8ff" stroke-width="1.0"/>
<line x1="565.50" y1="72.00" x2="565.50" y2="125.00" stroke="#a8b8ff" stroke-width="1.0"/>
<line x1="583.75" y1="62.90" x2="583.75" y2="112.90" stroke="#a8b8ff" stroke-width="1.0"/>
<line x1="602.00" y1="52.90" x2="602.00" y2="108.00" stroke="#a8b8ff" stroke-width="1.0"/>
<line x1="620.25" y1="65.70" x2="620.25" y2="113.70" stroke="#a8b8ff" stroke-width="1.0"/>
<line x1="638.50" y1="73.00" x2="638.50" y2="125.70" stroke="#a8b8ff" stroke-width="1.0"/>
<line x1="656.75" y1="80.90" x2="656.75" y2="132.90" stroke="#a8b8ff" stroke-width="1.0"/>
<line x1="538.12" y1="97.00" x2="538.12" y2="131.40" stroke="#8c8c8c" stroke-width="1.0"/>
<line x1="556.38" y1="92.00" x2="556.38" y2="129.00" stroke="#8c8c8c" stroke-width="1.0"/>
<line x1="574.62" y1="79.00" x2="574.62" y2="116.30" stroke="#8c8c8c" stroke-width="1.0"/>
<line x1="592.88" y1="47.70" x2="592.88" y2="97.70" stroke="#8c8c8c" stroke-width="1.0"/>
<line x1="611.12" y1="47.70" x2="611.12" y2="97.70" stroke="#8c8c8c" stroke-width="1.0"/>
<line x1="629.38" y1="78.00" x2="629.38" y2="116.30" stroke="#8c8c8c" stroke-width="1.0"/>
<line x1="647.62" y1="92.60" x2="647.62" y2="129.00" stroke="#8c8c8c" stroke-width="1.0"/>
<line x1="665.88" y1="99.00" x2="665.88" y2="130.90" stroke="#8c8c8c" stroke-width="1.0"/>
<line x1="529.00" y1="122.90" x2="529.00" y2="122.90" stroke="#ff6a6a" stroke-width="1.5"/>
<line x1="547.25" y1="120.50" x2="547.25" y2="124.00" stroke="#ff6a6a" stroke-width="1.5"/>
<line x1="565.50" y1="111.40" x2="565.50" y2="120.90" stroke="#ff6a6a" stroke-width="1.5"/>
<line x1="583.75" y1="63.40" x2="583.75" y2="88.60" stroke="#ff6a6a" stroke-width="1.5"/>
<line x1="602.00" y1="29.40" x2="602.00" y2="51.40" stroke="#ff6a6a" stroke-width="1.5"/>
<line x1="620.25" y1="65.70" x2="620.25" y2="87.40" stroke="#ff6a6a" stroke-width="1.5"/>
<line x1="638.50" y1="107.00" x2="638.50" y2="119.00" stroke="#ff6a6a" stroke-width="1.5"/>
<line x1="656.75" y1="117.70" x2="656.75" y2="124.30" stroke="#ff6a6a" stroke-width="1.5"/>
<line x1="675.00" y1="117.70" x2="675.00" y2="125.70" stroke="#ff6a6a" stroke-width="1.5"/>
<circle cx="547.25" cy="106.00" r="0.9" fill="#1a1aff"/>
<circle cx="565.50" cy="98.60" r="0.9" fill="#1a1aff"/>
<circle cx="583.75" cy="88.00" r="0.9" fill="#1a1aff"/>
<circle cx="602.00" cy="80.60" r="0.9" fill="#1a1aff"/>
<circle cx="620.25" cy="88.60" r="0.9" fill="#1a1aff"/>
<circle cx="638.50" cy="99.70" r="0.9" fill="#1a1aff"/>
<circle cx="656.75" cy="106.60" r="0.9" fill="#1a1aff"/>
<path d="M536.52 112.72L539.73 112.72L538.12 115.76Z" fill="#000"/>
<path d="M554.77 108.72L557.98 108.72L556.38 111.76Z" fill="#000"/>
<path d="M573.02 95.72L576.23 95.72L574.62 98.76Z" fill="#000"/>
<path d="M591.27 70.72L594.48 70.72L592.88 73.76Z" fill="#000"/>
<path d="M609.52 70.72L612.73 70.72L611.12 73.76Z" fill="#000"/>
<path d="M627.77 95.32L630.98 95.32L629.38 98.36Z" fill="#000"/>
<path d="M646.02 108.72L649.23 108.72L647.62 111.76Z" fill="#000"/>
<path d="M664.27 113.32L667.48 113.32L665.88 116.36Z" fill="#000"/>
<rect x="527.10" y="121.00" width="3.80" height="3.80" fill="#ff0000"/>
<rect x="545.35" y="120.40" width="3.80" height="3.80" fill="#ff0000"/>
<rect x="563.60" y="114.40" width="3.80" height="3.80" fill="#ff0000"/>
<rect x="581.85" y="78.10" width="3.80" height="3.80" fill="#ff0000"/>
<rect x="600.10" y="38.70" width="3.80" height="3.80" fill="#ff0000"/>
<rect x="618.35" y="74.70" width="3.80" height="3.80" fill="#ff0000"/>
<rect x="636.60" y="111.20" width="3.80" height="3.80" fill="#ff0000"/>
<rect x="654.85" y="119.00" width="3.80" height="3.80" fill="#ff0000"/>
<rect x="673.10" y="119.80" width="3.80" height="3.80" fill="#ff0000"/>
<rect x="614.4" y="28.6" width="63.30000000000007" height="42.49999999999999" rx="1.8" fill="#fff" fill-opacity="0.8" stroke="#d9d9d9" stroke-width="0.8"/>
<circle cx="627.70" cy="36.20" r="0.9" fill="#1a1aff"/>
<text x="644.70" y="39.50" font-size="9.55" text-anchor="start" font-weight="normal" font-style="normal" fill="#000" textLength="24.01" lengthAdjust="spacingAndGlyphs" >L=64</text>
<path d="M626.10 48.32L629.30 48.32L627.70 51.36Z" fill="#000"/>
<text x="644.70" y="52.90" font-size="9.55" text-anchor="start" font-weight="normal" font-style="normal" fill="#000" textLength="29.73" lengthAdjust="spacingAndGlyphs" >L=128</text>
<rect x="625.80" y="61.00" width="3.80" height="3.80" fill="#ff0000"/>
<text x="644.70" y="66.20" font-size="9.55" text-anchor="start" font-weight="normal" font-style="normal" fill="#000" textLength="29.73" lengthAdjust="spacingAndGlyphs" >L=256</text>
<g transform="translate(500.00,81.00) rotate(-90)"><text x="-23.61" y="0.00" font-size="9.55" font-style="italic" textLength="5.71" lengthAdjust="spacingAndGlyphs">ρ</text><text x="-17.90" y="0.00" font-size="9.55" font-style="normal" textLength="3.51" lengthAdjust="spacingAndGlyphs">(</text><text x="-14.39" y="0.00" font-size="9.55" font-style="italic" textLength="5.70" lengthAdjust="spacingAndGlyphs">h</text><text x="-6.68" y="0.00" font-size="9.55" font-style="normal" textLength="6.00" lengthAdjust="spacingAndGlyphs">−</text><text x="1.32" y="0.00" font-size="9.55" font-style="italic" textLength="5.01" lengthAdjust="spacingAndGlyphs">L</text><text x="6.83" y="1.60" font-size="6.68" font-style="italic" textLength="3.31" lengthAdjust="spacingAndGlyphs">z</text><text x="11.34" y="0.00" font-size="9.55" font-style="normal" textLength="3.03" lengthAdjust="spacingAndGlyphs">/</text><text x="14.37" y="0.00" font-size="9.55" font-style="normal" textLength="5.73" lengthAdjust="spacingAndGlyphs">2</text><text x="20.10" y="0.00" font-size="9.55" font-style="normal" textLength="3.51" lengthAdjust="spacingAndGlyphs">)</text></g>
<g transform="translate(602.20,159.00)"><text x="-17.44" y="0.00" font-size="9.55" font-style="italic" textLength="5.70" lengthAdjust="spacingAndGlyphs">h</text><text x="-9.54" y="0.00" font-size="9.55" font-style="normal" textLength="6.00" lengthAdjust="spacingAndGlyphs">−</text><text x="-1.34" y="0.00" font-size="9.55" font-style="italic" textLength="5.01" lengthAdjust="spacingAndGlyphs">L</text><text x="4.18" y="1.60" font-size="6.68" font-style="italic" textLength="3.31" lengthAdjust="spacingAndGlyphs">z</text><text x="8.68" y="0.00" font-size="9.55" font-style="normal" textLength="3.03" lengthAdjust="spacingAndGlyphs">/</text><text x="11.72" y="0.00" font-size="9.55" font-style="normal" textLength="5.73" lengthAdjust="spacingAndGlyphs">2</text></g>
<text x="490.50" y="14.00" font-size="15.91" text-anchor="start" font-weight="bold" font-style="normal" fill="#000" textLength="8.89" lengthAdjust="spacingAndGlyphs" >c</text>
<rect x="310.5" y="204.5" width="161.0" height="115.0" fill="none" stroke="#808080" stroke-width="1"/>
<line x1="318.00" y1="319.5" x2="318.00" y2="321.7" stroke="#808080" stroke-width="0.8"/>
<text x="318.00" y="329.30" font-size="9.55" text-anchor="middle" font-weight="normal" font-style="normal" fill="#000" textLength="5.73" lengthAdjust="spacingAndGlyphs" >0</text>
<line x1="354.40" y1="319.5" x2="354.40" y2="321.7" stroke="#808080" stroke-width="0.8"/>
<text x="354.40" y="329.30" font-size="9.55" text-anchor="middle" font-weight="normal" font-style="normal" fill="#000" textLength="5.73" lengthAdjust="spacingAndGlyphs" >2</text>
<line x1="390.80" y1="319.5" x2="390.80" y2="321.7" stroke="#808080" stroke-width="0.8"/>
<text x="390.80" y="329.30" font-size="9.55" text-anchor="middle" font-weight="normal" font-style="normal" fill="#000" textLength="5.73" lengthAdjust="spacingAndGlyphs" >4</text>
<line x1="427.20" y1="319.5" x2="427.20" y2="321.7" stroke="#808080" stroke-width="0.8"/>
<text x="427.20" y="329.30" font-size="9.55" text-anchor="middle" font-weight="normal" font-style="normal" fill="#000" textLength="5.73" lengthAdjust="spacingAndGlyphs" >6</text>
<line x1="463.60" y1="319.5" x2="463.60" y2="321.7" stroke="#808080" stroke-width="0.8"/>
<text x="463.60" y="329.30" font-size="9.55" text-anchor="middle" font-weight="normal" font-style="normal" fill="#000" textLength="5.73" lengthAdjust="spacingAndGlyphs" >8</text>
<line x1="308.3" y1="313.50" x2="310.5" y2="313.50" stroke="#808080" stroke-width="0.8"/>
<text x="307.60" y="316.80" font-size="9.55" text-anchor="end" font-weight="normal" font-style="normal" fill="#000" textLength="14.31" lengthAdjust="spacingAndGlyphs" >0.0</text>
<line x1="308.3" y1="285.83" x2="310.5" y2="285.83" stroke="#808080" stroke-width="0.8"/>
<text x="307.60" y="289.13" font-size="9.55" text-anchor="end" font-weight="normal" font-style="normal" fill="#000" textLength="14.31" lengthAdjust="spacingAndGlyphs" >0.1</text>
<line x1="308.3" y1="258.16" x2="310.5" y2="258.16" stroke="#808080" stroke-width="0.8"/>
<text x="307.60" y="261.46" font-size="9.55" text-anchor="end" font-weight="normal" font-style="normal" fill="#000" textLength="14.31" lengthAdjust="spacingAndGlyphs" >0.2</text>
<line x1="308.3" y1="230.49" x2="310.5" y2="230.49" stroke="#808080" stroke-width="0.8"/>
<text x="307.60" y="233.79" font-size="9.55" text-anchor="end" font-weight="normal" font-style="normal" fill="#000" textLength="14.31" lengthAdjust="spacingAndGlyphs" >0.3</text>
<line x1="318.00" y1="220.70" x2="318.00" y2="231.60" stroke="#a8b8ff" stroke-width="1.0"/>
<line x1="336.20" y1="209.90" x2="336.20" y2="221.30" stroke="#a8b8ff" stroke-width="1.0"/>
<line x1="354.40" y1="246.40" x2="354.40" y2="257.90" stroke="#a8b8ff" stroke-width="1.0"/>
<line x1="372.60" y1="283.00" x2="372.60" y2="295.60" stroke="#a8b8ff" stroke-width="1.0"/>
<line x1="390.80" y1="308.70" x2="390.80" y2="308.70" stroke="#a8b8ff" stroke-width="1.0"/>
<line x1="409.00" y1="313.00" x2="409.00" y2="313.00" stroke="#a8b8ff" stroke-width="1.0"/>
<line x1="427.20" y1="313.60" x2="427.20" y2="313.60" stroke="#a8b8ff" stroke-width="1.0"/>
<line x1="445.40" y1="313.60" x2="445.40" y2="313.60" stroke="#a8b8ff" stroke-width="1.0"/>
<line x1="463.60" y1="313.60" x2="463.60" y2="313.60" stroke="#a8b8ff" stroke-width="1.0"/>
<line x1="318.00" y1="225.60" x2="318.00" y2="225.60" stroke="#8c8c8c" stroke-width="1.0"/>
<line x1="336.20" y1="214.40" x2="336.20" y2="214.40" stroke="#8c8c8c" stroke-width="1.0"/>
<line x1="354.40" y1="252.70" x2="354.40" y2="252.70" stroke="#8c8c8c" stroke-width="1.0"/>
<line x1="372.60" y1="290.70" x2="372.60" y2="290.70" stroke="#8c8c8c" stroke-width="1.0"/>
<line x1="390.80" y1="308.70" x2="390.80" y2="308.70" stroke="#8c8c8c" stroke-width="1.0"/>
<line x1="409.00" y1="313.00" x2="409.00" y2="313.00" stroke="#8c8c8c" stroke-width="1.0"/>
<line x1="427.20" y1="313.60" x2="427.20" y2="313.60" stroke="#8c8c8c" stroke-width="1.0"/>
<line x1="445.40" y1="313.60" x2="445.40" y2="313.60" stroke="#8c8c8c" stroke-width="1.0"/>
<line x1="463.60" y1="313.60" x2="463.60" y2="313.60" stroke="#8c8c8c" stroke-width="1.0"/>
<line x1="318.00" y1="223.60" x2="318.00" y2="227.60" stroke="#ff6a6a" stroke-width="1.5"/>
<line x1="336.20" y1="212.40" x2="336.20" y2="216.40" stroke="#ff6a6a" stroke-width="1.5"/>
<line x1="354.40" y1="250.70" x2="354.40" y2="254.70" stroke="#ff6a6a" stroke-width="1.5"/>
<line x1="372.60" y1="288.70" x2="372.60" y2="292.70" stroke="#ff6a6a" stroke-width="1.5"/>
<line x1="390.80" y1="306.70" x2="390.80" y2="310.70" stroke="#ff6a6a" stroke-width="1.5"/>
<line x1="409.00" y1="311.00" x2="409.00" y2="315.00" stroke="#ff6a6a" stroke-width="1.5"/>
<line x1="427.20" y1="311.60" x2="427.20" y2="315.60" stroke="#ff6a6a" stroke-width="1.5"/>
<line x1="445.40" y1="311.60" x2="445.40" y2="315.60" stroke="#ff6a6a" stroke-width="1.5"/>
<line x1="463.60" y1="311.60" x2="463.60" y2="315.60" stroke="#ff6a6a" stroke-width="1.5"/>
<circle cx="318.00" cy="225.60" r="0.9" fill="#1a1aff"/>
<circle cx="336.20" cy="214.40" r="0.9" fill="#1a1aff"/>
<circle cx="354.40" cy="252.70" r="0.9" fill="#1a1aff"/>
<circle cx="372.60" cy="290.70" r="0.9" fill="#1a1aff"/>
<circle cx="390.80" cy="308.70" r="0.9" fill="#1a1aff"/>
<circle cx="409.00" cy="313.00" r="0.9" fill="#1a1aff"/>
<circle cx="427.20" cy="313.60" r="0.9" fill="#1a1aff"/>
<circle cx="445.40" cy="313.60" r="0.9" fill="#1a1aff"/>
<circle cx="463.60" cy="313.60" r="0.9" fill="#1a1aff"/>
<path d="M316.40 224.32L319.60 224.32L318.00 227.36Z" fill="#000"/>
<path d="M334.60 213.12L337.80 213.12L336.20 216.16Z" fill="#000"/>
<path d="M352.80 251.42L356.00 251.42L354.40 254.46Z" fill="#000"/>
<path d="M371.00 289.42L374.20 289.42L372.60 292.46Z" fill="#000"/>
<path d="M389.20 307.42L392.40 307.42L390.80 310.46Z" fill="#000"/>
<path d="M407.40 311.72L410.60 311.72L409.00 314.76Z" fill="#000"/>
<path d="M425.60 312.32L428.80 312.32L427.20 315.36Z" fill="#000"/>
<path d="M443.80 312.32L447.00 312.32L445.40 315.36Z" fill="#000"/>
<path d="M462.00 312.32L465.20 312.32L463.60 315.36Z" fill="#000"/>
<rect x="316.10" y="223.70" width="3.80" height="3.80" fill="#ff0000"/>
<rect x="334.30" y="212.50" width="3.80" height="3.80" fill="#ff0000"/>
<rect x="352.50" y="250.80" width="3.80" height="3.80" fill="#ff0000"/>
<rect x="370.70" y="288.80" width="3.80" height="3.80" fill="#ff0000"/>
<rect x="388.90" y="306.80" width="3.80" height="3.80" fill="#ff0000"/>
<rect x="407.10" y="311.10" width="3.80" height="3.80" fill="#ff0000"/>
<rect x="425.30" y="311.70" width="3.80" height="3.80" fill="#ff0000"/>
<rect x="443.50" y="311.70" width="3.80" height="3.80" fill="#ff0000"/>
<rect x="461.70" y="311.70" width="3.80" height="3.80" fill="#ff0000"/>
<rect x="403.4" y="209.3" width="62.900000000000034" height="42.79999999999998" rx="1.8" fill="#fff" fill-opacity="0.8" stroke="#d9d9d9" stroke-width="0.8"/>
<circle cx="416.30" cy="217.00" r="0.9" fill="#1a1aff"/>
<text x="432.90" y="220.30" font-size="9.55" text-anchor="start" font-weight="normal" font-style="normal" fill="#000" textLength="24.01" lengthAdjust="spacingAndGlyphs" >L=64</text>
<path d="M414.70 228.92L417.90 228.92L416.30 231.96Z" fill="#000"/>
<text x="432.90" y="233.50" font-size="9.55" text-anchor="start" font-weight="normal" font-style="normal" fill="#000" textLength="29.73" lengthAdjust="spacingAndGlyphs" >L=128</text>
<rect x="414.40" y="241.70" width="3.80" height="3.80" fill="#ff0000"/>
<text x="432.90" y="246.90" font-size="9.55" text-anchor="start" font-weight="normal" font-style="normal" fill="#000" textLength="29.73" lengthAdjust="spacingAndGlyphs" >L=256</text>
<g transform="translate(289.00,261.50) rotate(-90)"><text x="-9.22" y="0.00" font-size="9.55" font-style="italic" textLength="5.71" lengthAdjust="spacingAndGlyphs">ρ</text><text x="-3.51" y="0.00" font-size="9.55" font-style="normal" textLength="3.51" lengthAdjust="spacingAndGlyphs">(</text><text x="0.00" y="0.00" font-size="9.55" font-style="italic" textLength="5.70" lengthAdjust="spacingAndGlyphs">h</text><text x="5.71" y="0.00" font-size="9.55" font-style="normal" textLength="3.51" lengthAdjust="spacingAndGlyphs">)</text></g>
<g transform="translate(391.00,339.50)"><text x="-2.85" y="0.00" font-size="9.55" font-style="italic" textLength="5.70" lengthAdjust="spacingAndGlyphs">h</text></g>
<text x="279.40" y="191.30" font-size="15.91" text-anchor="start" font-weight="bold" font-style="normal" fill="#000" textLength="10.17" lengthAdjust="spacingAndGlyphs" >e</text>
<rect x="521.5" y="204.5" width="161.0" height="115.0" fill="none" stroke="#808080" stroke-width="1"/>
<line x1="556.36" y1="319.5" x2="556.36" y2="321.7" stroke="#808080" stroke-width="0.8"/>
<text x="556.36" y="329.30" font-size="9.55" text-anchor="middle" font-weight="normal" font-style="normal" fill="#000" textLength="5.73" lengthAdjust="spacingAndGlyphs" >2</text>
<line x1="592.72" y1="319.5" x2="592.72" y2="321.7" stroke="#808080" stroke-width="0.8"/>
<text x="592.72" y="329.30" font-size="9.55" text-anchor="middle" font-weight="normal" font-style="normal" fill="#000" textLength="5.73" lengthAdjust="spacingAndGlyphs" >4</text>
<line x1="629.08" y1="319.5" x2="629.08" y2="321.7" stroke="#808080" stroke-width="0.8"/>
<text x="629.08" y="329.30" font-size="9.55" text-anchor="middle" font-weight="normal" font-style="normal" fill="#000" textLength="5.73" lengthAdjust="spacingAndGlyphs" >6</text>
<line x1="665.44" y1="319.5" x2="665.44" y2="321.7" stroke="#808080" stroke-width="0.8"/>
<text x="665.44" y="329.30" font-size="9.55" text-anchor="middle" font-weight="normal" font-style="normal" fill="#000" textLength="5.73" lengthAdjust="spacingAndGlyphs" >8</text>
<line x1="519.3" y1="311.50" x2="521.5" y2="311.50" stroke="#808080" stroke-width="0.8"/>
<text x="518.60" y="314.80" font-size="9.55" text-anchor="end" font-weight="normal" font-style="normal" fill="#000" textLength="14.31" lengthAdjust="spacingAndGlyphs" >0.0</text>
<line x1="519.3" y1="281.43" x2="521.5" y2="281.43" stroke="#808080" stroke-width="0.8"/>
<text x="518.60" y="284.73" font-size="9.55" text-anchor="end" font-weight="normal" font-style="normal" fill="#000" textLength="14.31" lengthAdjust="spacingAndGlyphs" >0.1</text>
<line x1="519.3" y1="251.36" x2="521.5" y2="251.36" stroke="#808080" stroke-width="0.8"/>
<text x="518.60" y="254.66" font-size="9.55" text-anchor="end" font-weight="normal" font-style="normal" fill="#000" textLength="14.31" lengthAdjust="spacingAndGlyphs" >0.2</text>
<line x1="519.3" y1="221.29" x2="521.5" y2="221.29" stroke="#808080" stroke-width="0.8"/>
<text x="518.60" y="224.59" font-size="9.55" text-anchor="end" font-weight="normal" font-style="normal" fill="#000" textLength="14.31" lengthAdjust="spacingAndGlyphs" >0.3</text>
<line x1="529.09" y1="214.90" x2="529.09" y2="235.00" stroke="#a8b8ff" stroke-width="1.0"/>
<line x1="547.27" y1="210.10" x2="547.27" y2="232.00" stroke="#a8b8ff" stroke-width="1.0"/>
<line x1="565.45" y1="228.80" x2="565.45" y2="250.00" stroke="#a8b8ff" stroke-width="1.0"/>
<line x1="583.63" y1="262.00" x2="583.63" y2="287.90" stroke="#a8b8ff" stroke-width="1.0"/>
<line x1="601.81" y1="290.00" x2="601.81" y2="310.00" stroke="#a8b8ff" stroke-width="1.0"/>
<line x1="619.99" y1="305.00" x2="619.99" y2="312.00" stroke="#a8b8ff" stroke-width="1.0"/>
<line x1="638.17" y1="309.00" x2="638.17" y2="312.00" stroke="#a8b8ff" stroke-width="1.0"/>
<line x1="656.35" y1="311.20" x2="656.35" y2="311.20" stroke="#a8b8ff" stroke-width="1.0"/>
<line x1="674.53" y1="311.30" x2="674.53" y2="311.30" stroke="#a8b8ff" stroke-width="1.0"/>
<line x1="529.09" y1="222.00" x2="529.09" y2="240.00" stroke="#8c8c8c" stroke-width="1.0"/>
<line x1="547.27" y1="218.00" x2="547.27" y2="234.00" stroke="#8c8c8c" stroke-width="1.0"/>
<line x1="565.45" y1="233.00" x2="565.45" y2="248.00" stroke="#8c8c8c" stroke-width="1.0"/>
<line x1="583.63" y1="258.00" x2="583.63" y2="275.00" stroke="#8c8c8c" stroke-width="1.0"/>
<line x1="601.81" y1="285.00" x2="601.81" y2="305.00" stroke="#8c8c8c" stroke-width="1.0"/>
<line x1="619.99" y1="304.00" x2="619.99" y2="312.00" stroke="#8c8c8c" stroke-width="1.0"/>
<line x1="638.17" y1="309.00" x2="638.17" y2="312.00" stroke="#8c8c8c" stroke-width="1.0"/>
<line x1="656.35" y1="310.00" x2="656.35" y2="312.00" stroke="#8c8c8c" stroke-width="1.0"/>
<line x1="674.53" y1="310.00" x2="674.53" y2="312.00" stroke="#8c8c8c" stroke-width="1.0"/>
<line x1="529.09" y1="237.60" x2="529.09" y2="245.10" stroke="#ff6a6a" stroke-width="1.5"/>
<line x1="547.27" y1="233.20" x2="547.27" y2="241.10" stroke="#ff6a6a" stroke-width="1.5"/>
<line x1="565.45" y1="242.00" x2="565.45" y2="251.00" stroke="#ff6a6a" stroke-width="1.5"/>
<line x1="583.63" y1="255.00" x2="583.63" y2="265.90" stroke="#ff6a6a" stroke-width="1.5"/>
<line x1="601.81" y1="272.70" x2="601.81" y2="287.90" stroke="#ff6a6a" stroke-width="1.5"/>
<line x1="619.99" y1="301.00" x2="619.99" y2="308.00" stroke="#ff6a6a" stroke-width="1.5"/>
<line x1="638.17" y1="308.50" x2="638.17" y2="312.00" stroke="#ff6a6a" stroke-width="1.5"/>
<line x1="656.35" y1="309.50" x2="656.35" y2="312.50" stroke="#ff6a6a" stroke-width="1.5"/>
<line x1="674.53" y1="310.00" x2="674.53" y2="312.00" stroke="#ff6a6a" stroke-width="1.5"/>
<circle cx="529.09" cy="223.10" r="0.9" fill="#1a1aff"/>
<circle cx="547.27" cy="219.20" r="0.9" fill="#1a1aff"/>
<circle cx="565.45" cy="240.50" r="0.9" fill="#1a1aff"/>
<circle cx="583.63" cy="275.00" r="0.9" fill="#1a1aff"/>
<circle cx="601.81" cy="301.30" r="0.9" fill="#1a1aff"/>
<circle cx="619.99" cy="310.00" r="0.9" fill="#1a1aff"/>
<circle cx="638.17" cy="311.00" r="0.9" fill="#1a1aff"/>
<circle cx="656.35" cy="311.20" r="0.9" fill="#1a1aff"/>
<circle cx="674.53" cy="311.30" r="0.9" fill="#1a1aff"/>
<path d="M527.49 228.82L530.69 228.82L529.09 231.86Z" fill="#000"/>
<path d="M545.67 224.02L548.87 224.02L547.27 227.06Z" fill="#000"/>
<path d="M563.85 238.92L567.05 238.92L565.45 241.96Z" fill="#000"/>
<path d="M582.03 265.12L585.23 265.12L583.63 268.16Z" fill="#000"/>
<path d="M600.21 293.72L603.41 293.72L601.81 296.76Z" fill="#000"/>
<path d="M618.39 307.12L621.59 307.12L619.99 310.16Z" fill="#000"/>
<path d="M636.57 309.72L639.77 309.72L638.17 312.76Z" fill="#000"/>
<path d="M654.75 309.92L657.95 309.92L656.35 312.96Z" fill="#000"/>
<path d="M672.93 310.02L676.13 310.02L674.53 313.06Z" fill="#000"/>
<rect x="527.19" y="239.50" width="3.80" height="3.80" fill="#ff0000"/>
<rect x="545.37" y="234.80" width="3.80" height="3.80" fill="#ff0000"/>
<rect x="563.55" y="244.10" width="3.80" height="3.80" fill="#ff0000"/>
<rect x="581.73" y="258.20" width="3.80" height="3.80" fill="#ff0000"/>
<rect x="599.91" y="278.80" width="3.80" height="3.80" fill="#ff0000"/>
<rect x="618.09" y="302.50" width="3.80" height="3.80" fill="#ff0000"/>
<rect x="636.27" y="308.50" width="3.80" height="3.80" fill="#ff0000"/>
<rect x="654.45" y="309.10" width="3.80" height="3.80" fill="#ff0000"/>
<rect x="672.63" y="309.40" width="3.80" height="3.80" fill="#ff0000"/>
<rect x="614.3" y="209.3" width="62.80000000000007" height="42.79999999999998" rx="1.8" fill="#fff" fill-opacity="0.8" stroke="#d9d9d9" stroke-width="0.8"/>
<circle cx="627.50" cy="217.00" r="0.9" fill="#1a1aff"/>
<text x="644.30" y="220.30" font-size="9.55" text-anchor="start" font-weight="normal" font-style="normal" fill="#000" textLength="24.01" lengthAdjust="spacingAndGlyphs" >L=64</text>
<path d="M625.90 228.92L629.10 228.92L627.50 231.96Z" fill="#000"/>
<text x="644.30" y="233.50" font-size="9.55" text-anchor="start" font-weight="normal" font-style="normal" fill="#000" textLength="29.73" lengthAdjust="spacingAndGlyphs" >L=128</text>
<rect x="625.60" y="241.70" width="3.80" height="3.80" fill="#ff0000"/>
<text x="644.30" y="246.90" font-size="9.55" text-anchor="start" font-weight="normal" font-style="normal" fill="#000" textLength="29.73" lengthAdjust="spacingAndGlyphs" >L=256</text>
<g transform="translate(500.00,261.50) rotate(-90)"><text x="-9.22" y="0.00" font-size="9.55" font-style="italic" textLength="5.71" lengthAdjust="spacingAndGlyphs">ρ</text><text x="-3.51" y="0.00" font-size="9.55" font-style="normal" textLength="3.51" lengthAdjust="spacingAndGlyphs">(</text><text x="0.00" y="0.00" font-size="9.55" font-style="italic" textLength="5.70" lengthAdjust="spacingAndGlyphs">h</text><text x="5.71" y="0.00" font-size="9.55" font-style="normal" textLength="3.51" lengthAdjust="spacingAndGlyphs">)</text></g>
<g transform="translate(602.00,339.50)"><text x="-2.85" y="0.00" font-size="9.55" font-style="italic" textLength="5.70" lengthAdjust="spacingAndGlyphs">h</text></g>
<text x="490.60" y="192.30" font-size="15.91" text-anchor="start" font-weight="bold" font-style="normal" fill="#000" textLength="6.53" lengthAdjust="spacingAndGlyphs" >f</text></svg>
</body></html>
